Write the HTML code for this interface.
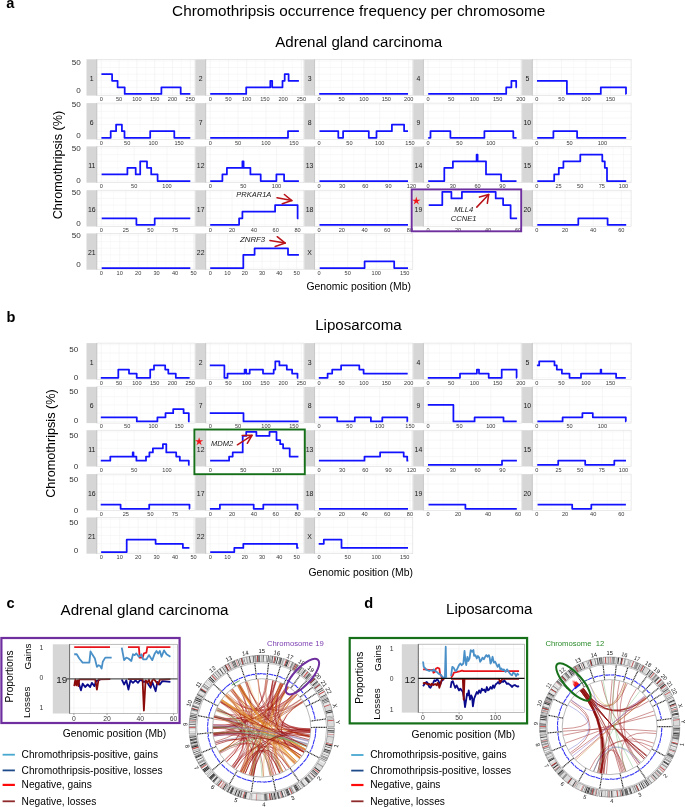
<!DOCTYPE html>
<html><head><meta charset="utf-8"><title>Chromothripsis figure</title>
<style>html,body{margin:0;padding:0;background:#fff;}svg{display:block;will-change:transform;}text{font-family:"Liberation Sans", sans-serif;}</style>
</head><body>
<svg width="685" height="807" viewBox="0 0 685 807" font-family='"Liberation Sans", sans-serif'>
<rect width="685" height="807" fill="#fff"/>
<text x="6.3" y="7.7" font-size="14.6" fill="#000" font-weight="bold">a</text>
<text x="358.7" y="16" font-size="15.3" fill="#000" text-anchor="middle">Chromothripsis occurrence frequency per chromosome</text>
<text x="358.7" y="46.8" font-size="15.1" fill="#000" text-anchor="middle">Adrenal gland carcinoma</text>
<rect x="97" y="59.3" width="98" height="36.3" fill="#fff"/>
<line x1="101.3" y1="59.3" x2="101.3" y2="95.6" stroke="#ececec" stroke-width="0.5"/>
<line x1="110.2" y1="59.3" x2="110.2" y2="95.6" stroke="#f5f5f5" stroke-width="0.4"/>
<line x1="119.09" y1="59.3" x2="119.09" y2="95.6" stroke="#ececec" stroke-width="0.5"/>
<line x1="127.99" y1="59.3" x2="127.99" y2="95.6" stroke="#f5f5f5" stroke-width="0.4"/>
<line x1="136.89" y1="59.3" x2="136.89" y2="95.6" stroke="#ececec" stroke-width="0.5"/>
<line x1="145.78" y1="59.3" x2="145.78" y2="95.6" stroke="#f5f5f5" stroke-width="0.4"/>
<line x1="154.68" y1="59.3" x2="154.68" y2="95.6" stroke="#ececec" stroke-width="0.5"/>
<line x1="163.58" y1="59.3" x2="163.58" y2="95.6" stroke="#f5f5f5" stroke-width="0.4"/>
<line x1="172.47" y1="59.3" x2="172.47" y2="95.6" stroke="#ececec" stroke-width="0.5"/>
<line x1="181.37" y1="59.3" x2="181.37" y2="95.6" stroke="#f5f5f5" stroke-width="0.4"/>
<line x1="190.27" y1="59.3" x2="190.27" y2="95.6" stroke="#ececec" stroke-width="0.5"/>
<line x1="97" y1="93.95" x2="195" y2="93.95" stroke="#efefef" stroke-width="0.45"/>
<line x1="97" y1="87.35" x2="195" y2="87.35" stroke="#efefef" stroke-width="0.45"/>
<line x1="97" y1="80.75" x2="195" y2="80.75" stroke="#efefef" stroke-width="0.45"/>
<line x1="97" y1="74.15" x2="195" y2="74.15" stroke="#efefef" stroke-width="0.45"/>
<line x1="97" y1="67.55" x2="195" y2="67.55" stroke="#efefef" stroke-width="0.45"/>
<line x1="97" y1="60.95" x2="195" y2="60.95" stroke="#efefef" stroke-width="0.45"/>
<rect x="97" y="59.3" width="98" height="36.3" fill="none" stroke="#dcdcdc" stroke-width="0.6"/>
<rect x="86.5" y="59.3" width="10.5" height="36.3" fill="#d6d6d6"/>
<line x1="96.7" y1="59.3" x2="96.7" y2="95.6" stroke="#bdbdbd" stroke-width="0.6"/>
<text x="91.75" y="80.7" font-size="6.9" fill="#1a1a1a" text-anchor="middle">1</text>
<text x="101.3" y="100.8" font-size="5.6" fill="#3a3a3a" text-anchor="middle">0</text>
<text x="119.09" y="100.8" font-size="5.6" fill="#3a3a3a" text-anchor="middle">50</text>
<text x="136.89" y="100.8" font-size="5.6" fill="#3a3a3a" text-anchor="middle">100</text>
<text x="154.68" y="100.8" font-size="5.6" fill="#3a3a3a" text-anchor="middle">150</text>
<text x="172.47" y="100.8" font-size="5.6" fill="#3a3a3a" text-anchor="middle">200</text>
<text x="190.27" y="100.8" font-size="5.6" fill="#3a3a3a" text-anchor="middle">250</text>
<path d="M101.4 74.15 L112.1 74.15 L112.1 80.75 L117.6 80.75 L117.6 87.35 L124.7 87.35 L124.7 93.95 L161.4 93.95 L161.4 87.35 L180.7 87.35 L180.7 93.95 L190.3 93.95" fill="none" stroke="#1212ff" stroke-width="1.75" stroke-linejoin="round"/>
<rect x="205.9" y="59.3" width="98" height="36.3" fill="#fff"/>
<line x1="210.2" y1="59.3" x2="210.2" y2="95.6" stroke="#ececec" stroke-width="0.5"/>
<line x1="219.32" y1="59.3" x2="219.32" y2="95.6" stroke="#f5f5f5" stroke-width="0.4"/>
<line x1="228.44" y1="59.3" x2="228.44" y2="95.6" stroke="#ececec" stroke-width="0.5"/>
<line x1="237.55" y1="59.3" x2="237.55" y2="95.6" stroke="#f5f5f5" stroke-width="0.4"/>
<line x1="246.67" y1="59.3" x2="246.67" y2="95.6" stroke="#ececec" stroke-width="0.5"/>
<line x1="255.79" y1="59.3" x2="255.79" y2="95.6" stroke="#f5f5f5" stroke-width="0.4"/>
<line x1="264.91" y1="59.3" x2="264.91" y2="95.6" stroke="#ececec" stroke-width="0.5"/>
<line x1="274.03" y1="59.3" x2="274.03" y2="95.6" stroke="#f5f5f5" stroke-width="0.4"/>
<line x1="283.14" y1="59.3" x2="283.14" y2="95.6" stroke="#ececec" stroke-width="0.5"/>
<line x1="292.26" y1="59.3" x2="292.26" y2="95.6" stroke="#f5f5f5" stroke-width="0.4"/>
<line x1="301.38" y1="59.3" x2="301.38" y2="95.6" stroke="#ececec" stroke-width="0.5"/>
<line x1="205.9" y1="93.95" x2="303.9" y2="93.95" stroke="#efefef" stroke-width="0.45"/>
<line x1="205.9" y1="87.35" x2="303.9" y2="87.35" stroke="#efefef" stroke-width="0.45"/>
<line x1="205.9" y1="80.75" x2="303.9" y2="80.75" stroke="#efefef" stroke-width="0.45"/>
<line x1="205.9" y1="74.15" x2="303.9" y2="74.15" stroke="#efefef" stroke-width="0.45"/>
<line x1="205.9" y1="67.55" x2="303.9" y2="67.55" stroke="#efefef" stroke-width="0.45"/>
<line x1="205.9" y1="60.95" x2="303.9" y2="60.95" stroke="#efefef" stroke-width="0.45"/>
<rect x="205.9" y="59.3" width="98" height="36.3" fill="none" stroke="#dcdcdc" stroke-width="0.6"/>
<rect x="195.4" y="59.3" width="10.5" height="36.3" fill="#d6d6d6"/>
<line x1="205.6" y1="59.3" x2="205.6" y2="95.6" stroke="#bdbdbd" stroke-width="0.6"/>
<text x="200.65" y="80.7" font-size="6.9" fill="#1a1a1a" text-anchor="middle">2</text>
<text x="210.2" y="100.8" font-size="5.6" fill="#3a3a3a" text-anchor="middle">0</text>
<text x="228.44" y="100.8" font-size="5.6" fill="#3a3a3a" text-anchor="middle">50</text>
<text x="246.67" y="100.8" font-size="5.6" fill="#3a3a3a" text-anchor="middle">100</text>
<text x="264.91" y="100.8" font-size="5.6" fill="#3a3a3a" text-anchor="middle">150</text>
<text x="283.14" y="100.8" font-size="5.6" fill="#3a3a3a" text-anchor="middle">200</text>
<text x="301.38" y="100.8" font-size="5.6" fill="#3a3a3a" text-anchor="middle">250</text>
<path d="M210.2 93.95 L246.2 93.95 L246.2 87.35 L270.3 87.35 L270.3 80.75 L272.2 80.75 L272.2 87.35 L282.5 87.35 L282.5 80.75 L284.7 80.75 L284.7 74.15 L288.6 74.15 L288.6 80.75 L298.9 80.75" fill="none" stroke="#1212ff" stroke-width="1.75" stroke-linejoin="round"/>
<rect x="314.8" y="59.3" width="98" height="36.3" fill="#fff"/>
<line x1="319.1" y1="59.3" x2="319.1" y2="95.6" stroke="#ececec" stroke-width="0.5"/>
<line x1="330.3" y1="59.3" x2="330.3" y2="95.6" stroke="#f5f5f5" stroke-width="0.4"/>
<line x1="341.5" y1="59.3" x2="341.5" y2="95.6" stroke="#ececec" stroke-width="0.5"/>
<line x1="352.7" y1="59.3" x2="352.7" y2="95.6" stroke="#f5f5f5" stroke-width="0.4"/>
<line x1="363.9" y1="59.3" x2="363.9" y2="95.6" stroke="#ececec" stroke-width="0.5"/>
<line x1="375.1" y1="59.3" x2="375.1" y2="95.6" stroke="#f5f5f5" stroke-width="0.4"/>
<line x1="386.3" y1="59.3" x2="386.3" y2="95.6" stroke="#ececec" stroke-width="0.5"/>
<line x1="397.5" y1="59.3" x2="397.5" y2="95.6" stroke="#f5f5f5" stroke-width="0.4"/>
<line x1="408.7" y1="59.3" x2="408.7" y2="95.6" stroke="#ececec" stroke-width="0.5"/>
<line x1="314.8" y1="93.95" x2="412.8" y2="93.95" stroke="#efefef" stroke-width="0.45"/>
<line x1="314.8" y1="87.35" x2="412.8" y2="87.35" stroke="#efefef" stroke-width="0.45"/>
<line x1="314.8" y1="80.75" x2="412.8" y2="80.75" stroke="#efefef" stroke-width="0.45"/>
<line x1="314.8" y1="74.15" x2="412.8" y2="74.15" stroke="#efefef" stroke-width="0.45"/>
<line x1="314.8" y1="67.55" x2="412.8" y2="67.55" stroke="#efefef" stroke-width="0.45"/>
<line x1="314.8" y1="60.95" x2="412.8" y2="60.95" stroke="#efefef" stroke-width="0.45"/>
<rect x="314.8" y="59.3" width="98" height="36.3" fill="none" stroke="#dcdcdc" stroke-width="0.6"/>
<rect x="304.3" y="59.3" width="10.5" height="36.3" fill="#d6d6d6"/>
<line x1="314.5" y1="59.3" x2="314.5" y2="95.6" stroke="#bdbdbd" stroke-width="0.6"/>
<text x="309.55" y="80.7" font-size="6.9" fill="#1a1a1a" text-anchor="middle">3</text>
<text x="319.1" y="100.8" font-size="5.6" fill="#3a3a3a" text-anchor="middle">0</text>
<text x="341.5" y="100.8" font-size="5.6" fill="#3a3a3a" text-anchor="middle">50</text>
<text x="363.9" y="100.8" font-size="5.6" fill="#3a3a3a" text-anchor="middle">100</text>
<text x="386.3" y="100.8" font-size="5.6" fill="#3a3a3a" text-anchor="middle">150</text>
<text x="408.7" y="100.8" font-size="5.6" fill="#3a3a3a" text-anchor="middle">200</text>
<path d="M319.2 93.95 L408 93.95" fill="none" stroke="#1212ff" stroke-width="1.75" stroke-linejoin="round"/>
<rect x="423.7" y="59.3" width="98" height="36.3" fill="#fff"/>
<line x1="428" y1="59.3" x2="428" y2="95.6" stroke="#ececec" stroke-width="0.5"/>
<line x1="439.6" y1="59.3" x2="439.6" y2="95.6" stroke="#f5f5f5" stroke-width="0.4"/>
<line x1="451.2" y1="59.3" x2="451.2" y2="95.6" stroke="#ececec" stroke-width="0.5"/>
<line x1="462.8" y1="59.3" x2="462.8" y2="95.6" stroke="#f5f5f5" stroke-width="0.4"/>
<line x1="474.4" y1="59.3" x2="474.4" y2="95.6" stroke="#ececec" stroke-width="0.5"/>
<line x1="486" y1="59.3" x2="486" y2="95.6" stroke="#f5f5f5" stroke-width="0.4"/>
<line x1="497.61" y1="59.3" x2="497.61" y2="95.6" stroke="#ececec" stroke-width="0.5"/>
<line x1="509.21" y1="59.3" x2="509.21" y2="95.6" stroke="#f5f5f5" stroke-width="0.4"/>
<line x1="520.81" y1="59.3" x2="520.81" y2="95.6" stroke="#ececec" stroke-width="0.5"/>
<line x1="423.7" y1="93.95" x2="521.7" y2="93.95" stroke="#efefef" stroke-width="0.45"/>
<line x1="423.7" y1="87.35" x2="521.7" y2="87.35" stroke="#efefef" stroke-width="0.45"/>
<line x1="423.7" y1="80.75" x2="521.7" y2="80.75" stroke="#efefef" stroke-width="0.45"/>
<line x1="423.7" y1="74.15" x2="521.7" y2="74.15" stroke="#efefef" stroke-width="0.45"/>
<line x1="423.7" y1="67.55" x2="521.7" y2="67.55" stroke="#efefef" stroke-width="0.45"/>
<line x1="423.7" y1="60.95" x2="521.7" y2="60.95" stroke="#efefef" stroke-width="0.45"/>
<rect x="423.7" y="59.3" width="98" height="36.3" fill="none" stroke="#dcdcdc" stroke-width="0.6"/>
<rect x="413.2" y="59.3" width="10.5" height="36.3" fill="#d6d6d6"/>
<line x1="423.4" y1="59.3" x2="423.4" y2="95.6" stroke="#bdbdbd" stroke-width="0.6"/>
<text x="418.45" y="80.7" font-size="6.9" fill="#1a1a1a" text-anchor="middle">4</text>
<text x="428" y="100.8" font-size="5.6" fill="#3a3a3a" text-anchor="middle">0</text>
<text x="451.2" y="100.8" font-size="5.6" fill="#3a3a3a" text-anchor="middle">50</text>
<text x="474.4" y="100.8" font-size="5.6" fill="#3a3a3a" text-anchor="middle">100</text>
<text x="497.61" y="100.8" font-size="5.6" fill="#3a3a3a" text-anchor="middle">150</text>
<text x="520.81" y="100.8" font-size="5.6" fill="#3a3a3a" text-anchor="middle">200</text>
<path d="M428.2 93.95 L506.2 93.95 L506.2 87.35 L511.4 87.35 L511.4 80.75 L516.2 80.75 L516.2 87.35 L516.8 87.35" fill="none" stroke="#1212ff" stroke-width="1.75" stroke-linejoin="round"/>
<rect x="532.6" y="59.3" width="98.5" height="36.3" fill="#fff"/>
<line x1="536.9" y1="59.3" x2="536.9" y2="95.6" stroke="#ececec" stroke-width="0.5"/>
<line x1="549.16" y1="59.3" x2="549.16" y2="95.6" stroke="#f5f5f5" stroke-width="0.4"/>
<line x1="561.42" y1="59.3" x2="561.42" y2="95.6" stroke="#ececec" stroke-width="0.5"/>
<line x1="573.67" y1="59.3" x2="573.67" y2="95.6" stroke="#f5f5f5" stroke-width="0.4"/>
<line x1="585.93" y1="59.3" x2="585.93" y2="95.6" stroke="#ececec" stroke-width="0.5"/>
<line x1="598.19" y1="59.3" x2="598.19" y2="95.6" stroke="#f5f5f5" stroke-width="0.4"/>
<line x1="610.45" y1="59.3" x2="610.45" y2="95.6" stroke="#ececec" stroke-width="0.5"/>
<line x1="532.6" y1="93.95" x2="631.1" y2="93.95" stroke="#efefef" stroke-width="0.45"/>
<line x1="532.6" y1="87.35" x2="631.1" y2="87.35" stroke="#efefef" stroke-width="0.45"/>
<line x1="532.6" y1="80.75" x2="631.1" y2="80.75" stroke="#efefef" stroke-width="0.45"/>
<line x1="532.6" y1="74.15" x2="631.1" y2="74.15" stroke="#efefef" stroke-width="0.45"/>
<line x1="532.6" y1="67.55" x2="631.1" y2="67.55" stroke="#efefef" stroke-width="0.45"/>
<line x1="532.6" y1="60.95" x2="631.1" y2="60.95" stroke="#efefef" stroke-width="0.45"/>
<rect x="532.6" y="59.3" width="98.5" height="36.3" fill="none" stroke="#dcdcdc" stroke-width="0.6"/>
<rect x="522.1" y="59.3" width="10.5" height="36.3" fill="#d6d6d6"/>
<line x1="532.3" y1="59.3" x2="532.3" y2="95.6" stroke="#bdbdbd" stroke-width="0.6"/>
<text x="527.35" y="80.7" font-size="6.9" fill="#1a1a1a" text-anchor="middle">5</text>
<text x="536.9" y="100.8" font-size="5.6" fill="#3a3a3a" text-anchor="middle">0</text>
<text x="561.42" y="100.8" font-size="5.6" fill="#3a3a3a" text-anchor="middle">50</text>
<text x="585.93" y="100.8" font-size="5.6" fill="#3a3a3a" text-anchor="middle">100</text>
<text x="610.45" y="100.8" font-size="5.6" fill="#3a3a3a" text-anchor="middle">150</text>
<path d="M537 80.75 L566.9 80.75 L566.9 93.95 L600.8 93.95 L600.8 87.35 L626 87.35 L626 93.95 L626.3 93.95" fill="none" stroke="#1212ff" stroke-width="1.75" stroke-linejoin="round"/>
<rect x="97" y="103.1" width="98" height="36.3" fill="#fff"/>
<line x1="101.3" y1="103.1" x2="101.3" y2="139.4" stroke="#ececec" stroke-width="0.5"/>
<line x1="114.26" y1="103.1" x2="114.26" y2="139.4" stroke="#f5f5f5" stroke-width="0.4"/>
<line x1="127.22" y1="103.1" x2="127.22" y2="139.4" stroke="#ececec" stroke-width="0.5"/>
<line x1="140.18" y1="103.1" x2="140.18" y2="139.4" stroke="#f5f5f5" stroke-width="0.4"/>
<line x1="153.14" y1="103.1" x2="153.14" y2="139.4" stroke="#ececec" stroke-width="0.5"/>
<line x1="166.1" y1="103.1" x2="166.1" y2="139.4" stroke="#f5f5f5" stroke-width="0.4"/>
<line x1="179.06" y1="103.1" x2="179.06" y2="139.4" stroke="#ececec" stroke-width="0.5"/>
<line x1="97" y1="137.75" x2="195" y2="137.75" stroke="#efefef" stroke-width="0.45"/>
<line x1="97" y1="131.15" x2="195" y2="131.15" stroke="#efefef" stroke-width="0.45"/>
<line x1="97" y1="124.55" x2="195" y2="124.55" stroke="#efefef" stroke-width="0.45"/>
<line x1="97" y1="117.95" x2="195" y2="117.95" stroke="#efefef" stroke-width="0.45"/>
<line x1="97" y1="111.35" x2="195" y2="111.35" stroke="#efefef" stroke-width="0.45"/>
<line x1="97" y1="104.75" x2="195" y2="104.75" stroke="#efefef" stroke-width="0.45"/>
<rect x="97" y="103.1" width="98" height="36.3" fill="none" stroke="#dcdcdc" stroke-width="0.6"/>
<rect x="86.5" y="103.1" width="10.5" height="36.3" fill="#d6d6d6"/>
<line x1="96.7" y1="103.1" x2="96.7" y2="139.4" stroke="#bdbdbd" stroke-width="0.6"/>
<text x="91.75" y="124.5" font-size="6.9" fill="#1a1a1a" text-anchor="middle">6</text>
<text x="101.3" y="144.6" font-size="5.6" fill="#3a3a3a" text-anchor="middle">0</text>
<text x="127.22" y="144.6" font-size="5.6" fill="#3a3a3a" text-anchor="middle">50</text>
<text x="153.14" y="144.6" font-size="5.6" fill="#3a3a3a" text-anchor="middle">100</text>
<text x="179.06" y="144.6" font-size="5.6" fill="#3a3a3a" text-anchor="middle">150</text>
<path d="M101.4 137.75 L110.7 137.75 L110.7 131.15 L116.1 131.15 L116.1 124.55 L121.9 124.55 L121.9 131.15 L124.5 131.15 L124.5 137.75 L150.2 137.75 L150.2 131.15 L174.3 131.15 L174.3 137.75 L190.3 137.75" fill="none" stroke="#1212ff" stroke-width="1.75" stroke-linejoin="round"/>
<rect x="205.9" y="103.1" width="98" height="36.3" fill="#fff"/>
<line x1="210.2" y1="103.1" x2="210.2" y2="139.4" stroke="#ececec" stroke-width="0.5"/>
<line x1="224.14" y1="103.1" x2="224.14" y2="139.4" stroke="#f5f5f5" stroke-width="0.4"/>
<line x1="238.08" y1="103.1" x2="238.08" y2="139.4" stroke="#ececec" stroke-width="0.5"/>
<line x1="252.01" y1="103.1" x2="252.01" y2="139.4" stroke="#f5f5f5" stroke-width="0.4"/>
<line x1="265.95" y1="103.1" x2="265.95" y2="139.4" stroke="#ececec" stroke-width="0.5"/>
<line x1="279.89" y1="103.1" x2="279.89" y2="139.4" stroke="#f5f5f5" stroke-width="0.4"/>
<line x1="293.83" y1="103.1" x2="293.83" y2="139.4" stroke="#ececec" stroke-width="0.5"/>
<line x1="205.9" y1="137.75" x2="303.9" y2="137.75" stroke="#efefef" stroke-width="0.45"/>
<line x1="205.9" y1="131.15" x2="303.9" y2="131.15" stroke="#efefef" stroke-width="0.45"/>
<line x1="205.9" y1="124.55" x2="303.9" y2="124.55" stroke="#efefef" stroke-width="0.45"/>
<line x1="205.9" y1="117.95" x2="303.9" y2="117.95" stroke="#efefef" stroke-width="0.45"/>
<line x1="205.9" y1="111.35" x2="303.9" y2="111.35" stroke="#efefef" stroke-width="0.45"/>
<line x1="205.9" y1="104.75" x2="303.9" y2="104.75" stroke="#efefef" stroke-width="0.45"/>
<rect x="205.9" y="103.1" width="98" height="36.3" fill="none" stroke="#dcdcdc" stroke-width="0.6"/>
<rect x="195.4" y="103.1" width="10.5" height="36.3" fill="#d6d6d6"/>
<line x1="205.6" y1="103.1" x2="205.6" y2="139.4" stroke="#bdbdbd" stroke-width="0.6"/>
<text x="200.65" y="124.5" font-size="6.9" fill="#1a1a1a" text-anchor="middle">7</text>
<text x="210.2" y="144.6" font-size="5.6" fill="#3a3a3a" text-anchor="middle">0</text>
<text x="238.08" y="144.6" font-size="5.6" fill="#3a3a3a" text-anchor="middle">50</text>
<text x="265.95" y="144.6" font-size="5.6" fill="#3a3a3a" text-anchor="middle">100</text>
<text x="293.83" y="144.6" font-size="5.6" fill="#3a3a3a" text-anchor="middle">150</text>
<path d="M210.2 137.75 L288 137.75 L288 131.15 L298.9 131.15" fill="none" stroke="#1212ff" stroke-width="1.75" stroke-linejoin="round"/>
<rect x="314.8" y="103.1" width="98" height="36.3" fill="#fff"/>
<line x1="319.1" y1="103.1" x2="319.1" y2="139.4" stroke="#ececec" stroke-width="0.5"/>
<line x1="334.25" y1="103.1" x2="334.25" y2="139.4" stroke="#f5f5f5" stroke-width="0.4"/>
<line x1="349.39" y1="103.1" x2="349.39" y2="139.4" stroke="#ececec" stroke-width="0.5"/>
<line x1="364.54" y1="103.1" x2="364.54" y2="139.4" stroke="#f5f5f5" stroke-width="0.4"/>
<line x1="379.69" y1="103.1" x2="379.69" y2="139.4" stroke="#ececec" stroke-width="0.5"/>
<line x1="394.83" y1="103.1" x2="394.83" y2="139.4" stroke="#f5f5f5" stroke-width="0.4"/>
<line x1="409.98" y1="103.1" x2="409.98" y2="139.4" stroke="#ececec" stroke-width="0.5"/>
<line x1="314.8" y1="137.75" x2="412.8" y2="137.75" stroke="#efefef" stroke-width="0.45"/>
<line x1="314.8" y1="131.15" x2="412.8" y2="131.15" stroke="#efefef" stroke-width="0.45"/>
<line x1="314.8" y1="124.55" x2="412.8" y2="124.55" stroke="#efefef" stroke-width="0.45"/>
<line x1="314.8" y1="117.95" x2="412.8" y2="117.95" stroke="#efefef" stroke-width="0.45"/>
<line x1="314.8" y1="111.35" x2="412.8" y2="111.35" stroke="#efefef" stroke-width="0.45"/>
<line x1="314.8" y1="104.75" x2="412.8" y2="104.75" stroke="#efefef" stroke-width="0.45"/>
<rect x="314.8" y="103.1" width="98" height="36.3" fill="none" stroke="#dcdcdc" stroke-width="0.6"/>
<rect x="304.3" y="103.1" width="10.5" height="36.3" fill="#d6d6d6"/>
<line x1="314.5" y1="103.1" x2="314.5" y2="139.4" stroke="#bdbdbd" stroke-width="0.6"/>
<text x="309.55" y="124.5" font-size="6.9" fill="#1a1a1a" text-anchor="middle">8</text>
<text x="319.1" y="144.6" font-size="5.6" fill="#3a3a3a" text-anchor="middle">0</text>
<text x="349.39" y="144.6" font-size="5.6" fill="#3a3a3a" text-anchor="middle">50</text>
<text x="379.69" y="144.6" font-size="5.6" fill="#3a3a3a" text-anchor="middle">100</text>
<text x="409.98" y="144.6" font-size="5.6" fill="#3a3a3a" text-anchor="middle">150</text>
<path d="M319.5 131.15 L338.3 131.15 L338.3 137.75 L343.1 137.75 L343.1 131.15 L368.8 131.15 L368.8 137.75 L376.5 137.75 L376.5 131.15 L391.9 131.15 L391.9 124.55 L404.1 124.55 L404.1 131.15 L408 131.15" fill="none" stroke="#1212ff" stroke-width="1.75" stroke-linejoin="round"/>
<rect x="423.7" y="103.1" width="98" height="36.3" fill="#fff"/>
<line x1="428" y1="103.1" x2="428" y2="139.4" stroke="#ececec" stroke-width="0.5"/>
<line x1="443.7" y1="103.1" x2="443.7" y2="139.4" stroke="#f5f5f5" stroke-width="0.4"/>
<line x1="459.41" y1="103.1" x2="459.41" y2="139.4" stroke="#ececec" stroke-width="0.5"/>
<line x1="475.11" y1="103.1" x2="475.11" y2="139.4" stroke="#f5f5f5" stroke-width="0.4"/>
<line x1="490.82" y1="103.1" x2="490.82" y2="139.4" stroke="#ececec" stroke-width="0.5"/>
<line x1="423.7" y1="137.75" x2="521.7" y2="137.75" stroke="#efefef" stroke-width="0.45"/>
<line x1="423.7" y1="131.15" x2="521.7" y2="131.15" stroke="#efefef" stroke-width="0.45"/>
<line x1="423.7" y1="124.55" x2="521.7" y2="124.55" stroke="#efefef" stroke-width="0.45"/>
<line x1="423.7" y1="117.95" x2="521.7" y2="117.95" stroke="#efefef" stroke-width="0.45"/>
<line x1="423.7" y1="111.35" x2="521.7" y2="111.35" stroke="#efefef" stroke-width="0.45"/>
<line x1="423.7" y1="104.75" x2="521.7" y2="104.75" stroke="#efefef" stroke-width="0.45"/>
<rect x="423.7" y="103.1" width="98" height="36.3" fill="none" stroke="#dcdcdc" stroke-width="0.6"/>
<rect x="413.2" y="103.1" width="10.5" height="36.3" fill="#d6d6d6"/>
<line x1="423.4" y1="103.1" x2="423.4" y2="139.4" stroke="#bdbdbd" stroke-width="0.6"/>
<text x="418.45" y="124.5" font-size="6.9" fill="#1a1a1a" text-anchor="middle">9</text>
<text x="428" y="144.6" font-size="5.6" fill="#3a3a3a" text-anchor="middle">0</text>
<text x="459.41" y="144.6" font-size="5.6" fill="#3a3a3a" text-anchor="middle">50</text>
<text x="490.82" y="144.6" font-size="5.6" fill="#3a3a3a" text-anchor="middle">100</text>
<path d="M428.2 137.75 L430.5 137.75 L430.5 131.15 L450.4 131.15 L450.4 137.75 L484.4 137.75 L484.4 131.15 L513.3 131.15 L513.3 137.75 L516.6 137.75" fill="none" stroke="#1212ff" stroke-width="1.75" stroke-linejoin="round"/>
<rect x="532.6" y="103.1" width="98.5" height="36.3" fill="#fff"/>
<line x1="536.9" y1="103.1" x2="536.9" y2="139.4" stroke="#ececec" stroke-width="0.5"/>
<line x1="553.27" y1="103.1" x2="553.27" y2="139.4" stroke="#f5f5f5" stroke-width="0.4"/>
<line x1="569.63" y1="103.1" x2="569.63" y2="139.4" stroke="#ececec" stroke-width="0.5"/>
<line x1="586" y1="103.1" x2="586" y2="139.4" stroke="#f5f5f5" stroke-width="0.4"/>
<line x1="602.36" y1="103.1" x2="602.36" y2="139.4" stroke="#ececec" stroke-width="0.5"/>
<line x1="532.6" y1="137.75" x2="631.1" y2="137.75" stroke="#efefef" stroke-width="0.45"/>
<line x1="532.6" y1="131.15" x2="631.1" y2="131.15" stroke="#efefef" stroke-width="0.45"/>
<line x1="532.6" y1="124.55" x2="631.1" y2="124.55" stroke="#efefef" stroke-width="0.45"/>
<line x1="532.6" y1="117.95" x2="631.1" y2="117.95" stroke="#efefef" stroke-width="0.45"/>
<line x1="532.6" y1="111.35" x2="631.1" y2="111.35" stroke="#efefef" stroke-width="0.45"/>
<line x1="532.6" y1="104.75" x2="631.1" y2="104.75" stroke="#efefef" stroke-width="0.45"/>
<rect x="532.6" y="103.1" width="98.5" height="36.3" fill="none" stroke="#dcdcdc" stroke-width="0.6"/>
<rect x="522.1" y="103.1" width="10.5" height="36.3" fill="#d6d6d6"/>
<line x1="532.3" y1="103.1" x2="532.3" y2="139.4" stroke="#bdbdbd" stroke-width="0.6"/>
<text x="527.35" y="124.5" font-size="6.9" fill="#1a1a1a" text-anchor="middle">10</text>
<text x="536.9" y="144.6" font-size="5.6" fill="#3a3a3a" text-anchor="middle">0</text>
<text x="569.63" y="144.6" font-size="5.6" fill="#3a3a3a" text-anchor="middle">50</text>
<text x="602.36" y="144.6" font-size="5.6" fill="#3a3a3a" text-anchor="middle">100</text>
<path d="M537.2 137.75 L553.4 137.75 L553.4 131.15 L577.1 131.15 L577.1 137.75 L626.2 137.75" fill="none" stroke="#1212ff" stroke-width="1.75" stroke-linejoin="round"/>
<rect x="97" y="146.4" width="98" height="36.3" fill="#fff"/>
<line x1="101.3" y1="146.4" x2="101.3" y2="182.7" stroke="#ececec" stroke-width="0.5"/>
<line x1="117.73" y1="146.4" x2="117.73" y2="182.7" stroke="#f5f5f5" stroke-width="0.4"/>
<line x1="134.15" y1="146.4" x2="134.15" y2="182.7" stroke="#ececec" stroke-width="0.5"/>
<line x1="150.58" y1="146.4" x2="150.58" y2="182.7" stroke="#f5f5f5" stroke-width="0.4"/>
<line x1="167" y1="146.4" x2="167" y2="182.7" stroke="#ececec" stroke-width="0.5"/>
<line x1="97" y1="181.05" x2="195" y2="181.05" stroke="#efefef" stroke-width="0.45"/>
<line x1="97" y1="174.45" x2="195" y2="174.45" stroke="#efefef" stroke-width="0.45"/>
<line x1="97" y1="167.85" x2="195" y2="167.85" stroke="#efefef" stroke-width="0.45"/>
<line x1="97" y1="161.25" x2="195" y2="161.25" stroke="#efefef" stroke-width="0.45"/>
<line x1="97" y1="154.65" x2="195" y2="154.65" stroke="#efefef" stroke-width="0.45"/>
<line x1="97" y1="148.05" x2="195" y2="148.05" stroke="#efefef" stroke-width="0.45"/>
<rect x="97" y="146.4" width="98" height="36.3" fill="none" stroke="#dcdcdc" stroke-width="0.6"/>
<rect x="86.5" y="146.4" width="10.5" height="36.3" fill="#d6d6d6"/>
<line x1="96.7" y1="146.4" x2="96.7" y2="182.7" stroke="#bdbdbd" stroke-width="0.6"/>
<text x="91.75" y="167.8" font-size="6.9" fill="#1a1a1a" text-anchor="middle">11</text>
<text x="101.3" y="187.9" font-size="5.6" fill="#3a3a3a" text-anchor="middle">0</text>
<text x="134.15" y="187.9" font-size="5.6" fill="#3a3a3a" text-anchor="middle">50</text>
<text x="167" y="187.9" font-size="5.6" fill="#3a3a3a" text-anchor="middle">100</text>
<path d="M101.6 174.45 L127.4 174.45 L127.4 167.85 L135.7 167.85 L135.7 174.45 L140.2 174.45 L140.2 161.25 L147 161.25 L147 167.85 L151.2 167.85 L151.2 174.45 L157.6 174.45 L157.6 181.05 L190.3 181.05" fill="none" stroke="#1212ff" stroke-width="1.75" stroke-linejoin="round"/>
<rect x="205.9" y="146.4" width="98" height="36.3" fill="#fff"/>
<line x1="210.2" y1="146.4" x2="210.2" y2="182.7" stroke="#ececec" stroke-width="0.5"/>
<line x1="226.77" y1="146.4" x2="226.77" y2="182.7" stroke="#f5f5f5" stroke-width="0.4"/>
<line x1="243.33" y1="146.4" x2="243.33" y2="182.7" stroke="#ececec" stroke-width="0.5"/>
<line x1="259.9" y1="146.4" x2="259.9" y2="182.7" stroke="#f5f5f5" stroke-width="0.4"/>
<line x1="276.47" y1="146.4" x2="276.47" y2="182.7" stroke="#ececec" stroke-width="0.5"/>
<line x1="205.9" y1="181.05" x2="303.9" y2="181.05" stroke="#efefef" stroke-width="0.45"/>
<line x1="205.9" y1="174.45" x2="303.9" y2="174.45" stroke="#efefef" stroke-width="0.45"/>
<line x1="205.9" y1="167.85" x2="303.9" y2="167.85" stroke="#efefef" stroke-width="0.45"/>
<line x1="205.9" y1="161.25" x2="303.9" y2="161.25" stroke="#efefef" stroke-width="0.45"/>
<line x1="205.9" y1="154.65" x2="303.9" y2="154.65" stroke="#efefef" stroke-width="0.45"/>
<line x1="205.9" y1="148.05" x2="303.9" y2="148.05" stroke="#efefef" stroke-width="0.45"/>
<rect x="205.9" y="146.4" width="98" height="36.3" fill="none" stroke="#dcdcdc" stroke-width="0.6"/>
<rect x="195.4" y="146.4" width="10.5" height="36.3" fill="#d6d6d6"/>
<line x1="205.6" y1="146.4" x2="205.6" y2="182.7" stroke="#bdbdbd" stroke-width="0.6"/>
<text x="200.65" y="167.8" font-size="6.9" fill="#1a1a1a" text-anchor="middle">12</text>
<text x="210.2" y="187.9" font-size="5.6" fill="#3a3a3a" text-anchor="middle">0</text>
<text x="243.33" y="187.9" font-size="5.6" fill="#3a3a3a" text-anchor="middle">50</text>
<text x="276.47" y="187.9" font-size="5.6" fill="#3a3a3a" text-anchor="middle">100</text>
<path d="M210.2 181.05 L222.4 181.05 L222.4 174.45 L226.9 174.45 L226.9 167.85 L242.4 167.85 L242.4 161.25 L243.6 161.25 L243.6 167.85 L250.4 167.85 L250.4 174.45 L260.7 174.45 L260.7 181.05 L276.4 181.05 L276.4 174.45 L284.1 174.45 L284.1 181.05 L298.9 181.05" fill="none" stroke="#1212ff" stroke-width="1.75" stroke-linejoin="round"/>
<rect x="314.8" y="146.4" width="98" height="36.3" fill="#fff"/>
<line x1="319.1" y1="146.4" x2="319.1" y2="182.7" stroke="#ececec" stroke-width="0.5"/>
<line x1="330.65" y1="146.4" x2="330.65" y2="182.7" stroke="#f5f5f5" stroke-width="0.4"/>
<line x1="342.2" y1="146.4" x2="342.2" y2="182.7" stroke="#ececec" stroke-width="0.5"/>
<line x1="353.75" y1="146.4" x2="353.75" y2="182.7" stroke="#f5f5f5" stroke-width="0.4"/>
<line x1="365.3" y1="146.4" x2="365.3" y2="182.7" stroke="#ececec" stroke-width="0.5"/>
<line x1="376.85" y1="146.4" x2="376.85" y2="182.7" stroke="#f5f5f5" stroke-width="0.4"/>
<line x1="388.4" y1="146.4" x2="388.4" y2="182.7" stroke="#ececec" stroke-width="0.5"/>
<line x1="399.95" y1="146.4" x2="399.95" y2="182.7" stroke="#f5f5f5" stroke-width="0.4"/>
<line x1="411.5" y1="146.4" x2="411.5" y2="182.7" stroke="#ececec" stroke-width="0.5"/>
<line x1="314.8" y1="181.05" x2="412.8" y2="181.05" stroke="#efefef" stroke-width="0.45"/>
<line x1="314.8" y1="174.45" x2="412.8" y2="174.45" stroke="#efefef" stroke-width="0.45"/>
<line x1="314.8" y1="167.85" x2="412.8" y2="167.85" stroke="#efefef" stroke-width="0.45"/>
<line x1="314.8" y1="161.25" x2="412.8" y2="161.25" stroke="#efefef" stroke-width="0.45"/>
<line x1="314.8" y1="154.65" x2="412.8" y2="154.65" stroke="#efefef" stroke-width="0.45"/>
<line x1="314.8" y1="148.05" x2="412.8" y2="148.05" stroke="#efefef" stroke-width="0.45"/>
<rect x="314.8" y="146.4" width="98" height="36.3" fill="none" stroke="#dcdcdc" stroke-width="0.6"/>
<rect x="304.3" y="146.4" width="10.5" height="36.3" fill="#d6d6d6"/>
<line x1="314.5" y1="146.4" x2="314.5" y2="182.7" stroke="#bdbdbd" stroke-width="0.6"/>
<text x="309.55" y="167.8" font-size="6.9" fill="#1a1a1a" text-anchor="middle">13</text>
<text x="319.1" y="187.9" font-size="5.6" fill="#3a3a3a" text-anchor="middle">0</text>
<text x="342.2" y="187.9" font-size="5.6" fill="#3a3a3a" text-anchor="middle">30</text>
<text x="365.3" y="187.9" font-size="5.6" fill="#3a3a3a" text-anchor="middle">60</text>
<text x="388.4" y="187.9" font-size="5.6" fill="#3a3a3a" text-anchor="middle">90</text>
<text x="411.5" y="187.9" font-size="5.6" fill="#3a3a3a" text-anchor="middle">120</text>
<path d="M319.5 181.05 L408 181.05" fill="none" stroke="#1212ff" stroke-width="1.75" stroke-linejoin="round"/>
<rect x="423.7" y="146.4" width="98" height="36.3" fill="#fff"/>
<line x1="428" y1="146.4" x2="428" y2="182.7" stroke="#ececec" stroke-width="0.5"/>
<line x1="440.4" y1="146.4" x2="440.4" y2="182.7" stroke="#f5f5f5" stroke-width="0.4"/>
<line x1="452.8" y1="146.4" x2="452.8" y2="182.7" stroke="#ececec" stroke-width="0.5"/>
<line x1="465.2" y1="146.4" x2="465.2" y2="182.7" stroke="#f5f5f5" stroke-width="0.4"/>
<line x1="477.6" y1="146.4" x2="477.6" y2="182.7" stroke="#ececec" stroke-width="0.5"/>
<line x1="490" y1="146.4" x2="490" y2="182.7" stroke="#f5f5f5" stroke-width="0.4"/>
<line x1="502.4" y1="146.4" x2="502.4" y2="182.7" stroke="#ececec" stroke-width="0.5"/>
<line x1="423.7" y1="181.05" x2="521.7" y2="181.05" stroke="#efefef" stroke-width="0.45"/>
<line x1="423.7" y1="174.45" x2="521.7" y2="174.45" stroke="#efefef" stroke-width="0.45"/>
<line x1="423.7" y1="167.85" x2="521.7" y2="167.85" stroke="#efefef" stroke-width="0.45"/>
<line x1="423.7" y1="161.25" x2="521.7" y2="161.25" stroke="#efefef" stroke-width="0.45"/>
<line x1="423.7" y1="154.65" x2="521.7" y2="154.65" stroke="#efefef" stroke-width="0.45"/>
<line x1="423.7" y1="148.05" x2="521.7" y2="148.05" stroke="#efefef" stroke-width="0.45"/>
<rect x="423.7" y="146.4" width="98" height="36.3" fill="none" stroke="#dcdcdc" stroke-width="0.6"/>
<rect x="413.2" y="146.4" width="10.5" height="36.3" fill="#d6d6d6"/>
<line x1="423.4" y1="146.4" x2="423.4" y2="182.7" stroke="#bdbdbd" stroke-width="0.6"/>
<text x="418.45" y="167.8" font-size="6.9" fill="#1a1a1a" text-anchor="middle">14</text>
<text x="428" y="187.9" font-size="5.6" fill="#3a3a3a" text-anchor="middle">0</text>
<text x="452.8" y="187.9" font-size="5.6" fill="#3a3a3a" text-anchor="middle">30</text>
<text x="477.6" y="187.9" font-size="5.6" fill="#3a3a3a" text-anchor="middle">60</text>
<text x="502.4" y="187.9" font-size="5.6" fill="#3a3a3a" text-anchor="middle">90</text>
<path d="M428.2 181.05 L444.3 181.05 L444.3 167.85 L452.9 167.85 L452.9 161.25 L476.6 161.25 L476.6 154.65 L477.6 154.65 L477.6 161.25 L486 161.25 L486 174.45 L501.1 174.45 L501.1 181.05 L516.5 181.05" fill="none" stroke="#1212ff" stroke-width="1.75" stroke-linejoin="round"/>
<rect x="532.6" y="146.4" width="98.5" height="36.3" fill="#fff"/>
<line x1="536.9" y1="146.4" x2="536.9" y2="182.7" stroke="#ececec" stroke-width="0.5"/>
<line x1="547.72" y1="146.4" x2="547.72" y2="182.7" stroke="#f5f5f5" stroke-width="0.4"/>
<line x1="558.53" y1="146.4" x2="558.53" y2="182.7" stroke="#ececec" stroke-width="0.5"/>
<line x1="569.35" y1="146.4" x2="569.35" y2="182.7" stroke="#f5f5f5" stroke-width="0.4"/>
<line x1="580.17" y1="146.4" x2="580.17" y2="182.7" stroke="#ececec" stroke-width="0.5"/>
<line x1="590.99" y1="146.4" x2="590.99" y2="182.7" stroke="#f5f5f5" stroke-width="0.4"/>
<line x1="601.8" y1="146.4" x2="601.8" y2="182.7" stroke="#ececec" stroke-width="0.5"/>
<line x1="612.62" y1="146.4" x2="612.62" y2="182.7" stroke="#f5f5f5" stroke-width="0.4"/>
<line x1="623.44" y1="146.4" x2="623.44" y2="182.7" stroke="#ececec" stroke-width="0.5"/>
<line x1="532.6" y1="181.05" x2="631.1" y2="181.05" stroke="#efefef" stroke-width="0.45"/>
<line x1="532.6" y1="174.45" x2="631.1" y2="174.45" stroke="#efefef" stroke-width="0.45"/>
<line x1="532.6" y1="167.85" x2="631.1" y2="167.85" stroke="#efefef" stroke-width="0.45"/>
<line x1="532.6" y1="161.25" x2="631.1" y2="161.25" stroke="#efefef" stroke-width="0.45"/>
<line x1="532.6" y1="154.65" x2="631.1" y2="154.65" stroke="#efefef" stroke-width="0.45"/>
<line x1="532.6" y1="148.05" x2="631.1" y2="148.05" stroke="#efefef" stroke-width="0.45"/>
<rect x="532.6" y="146.4" width="98.5" height="36.3" fill="none" stroke="#dcdcdc" stroke-width="0.6"/>
<rect x="522.1" y="146.4" width="10.5" height="36.3" fill="#d6d6d6"/>
<line x1="532.3" y1="146.4" x2="532.3" y2="182.7" stroke="#bdbdbd" stroke-width="0.6"/>
<text x="527.35" y="167.8" font-size="6.9" fill="#1a1a1a" text-anchor="middle">15</text>
<text x="536.9" y="187.9" font-size="5.6" fill="#3a3a3a" text-anchor="middle">0</text>
<text x="558.53" y="187.9" font-size="5.6" fill="#3a3a3a" text-anchor="middle">25</text>
<text x="580.17" y="187.9" font-size="5.6" fill="#3a3a3a" text-anchor="middle">50</text>
<text x="601.8" y="187.9" font-size="5.6" fill="#3a3a3a" text-anchor="middle">75</text>
<text x="623.44" y="187.9" font-size="5.6" fill="#3a3a3a" text-anchor="middle">100</text>
<path d="M537.3 181.05 L554.2 181.05 L554.2 174.45 L558.8 174.45 L558.8 167.85 L563.4 167.85 L563.4 161.25 L580.3 161.25 L580.3 154.65 L602.3 154.65 L602.3 161.25 L604.8 161.25 L604.8 167.85 L607 167.85 L607 181.05 L626.2 181.05" fill="none" stroke="#1212ff" stroke-width="1.75" stroke-linejoin="round"/>
<rect x="97" y="190.2" width="98" height="36.3" fill="#fff"/>
<line x1="101.3" y1="190.2" x2="101.3" y2="226.5" stroke="#ececec" stroke-width="0.5"/>
<line x1="113.57" y1="190.2" x2="113.57" y2="226.5" stroke="#f5f5f5" stroke-width="0.4"/>
<line x1="125.84" y1="190.2" x2="125.84" y2="226.5" stroke="#ececec" stroke-width="0.5"/>
<line x1="138.12" y1="190.2" x2="138.12" y2="226.5" stroke="#f5f5f5" stroke-width="0.4"/>
<line x1="150.39" y1="190.2" x2="150.39" y2="226.5" stroke="#ececec" stroke-width="0.5"/>
<line x1="162.66" y1="190.2" x2="162.66" y2="226.5" stroke="#f5f5f5" stroke-width="0.4"/>
<line x1="174.93" y1="190.2" x2="174.93" y2="226.5" stroke="#ececec" stroke-width="0.5"/>
<line x1="97" y1="224.85" x2="195" y2="224.85" stroke="#efefef" stroke-width="0.45"/>
<line x1="97" y1="218.25" x2="195" y2="218.25" stroke="#efefef" stroke-width="0.45"/>
<line x1="97" y1="211.65" x2="195" y2="211.65" stroke="#efefef" stroke-width="0.45"/>
<line x1="97" y1="205.05" x2="195" y2="205.05" stroke="#efefef" stroke-width="0.45"/>
<line x1="97" y1="198.45" x2="195" y2="198.45" stroke="#efefef" stroke-width="0.45"/>
<line x1="97" y1="191.85" x2="195" y2="191.85" stroke="#efefef" stroke-width="0.45"/>
<rect x="97" y="190.2" width="98" height="36.3" fill="none" stroke="#dcdcdc" stroke-width="0.6"/>
<rect x="86.5" y="190.2" width="10.5" height="36.3" fill="#d6d6d6"/>
<line x1="96.7" y1="190.2" x2="96.7" y2="226.5" stroke="#bdbdbd" stroke-width="0.6"/>
<text x="91.75" y="211.6" font-size="6.9" fill="#1a1a1a" text-anchor="middle">16</text>
<text x="101.3" y="231.7" font-size="5.6" fill="#3a3a3a" text-anchor="middle">0</text>
<text x="125.84" y="231.7" font-size="5.6" fill="#3a3a3a" text-anchor="middle">25</text>
<text x="150.39" y="231.7" font-size="5.6" fill="#3a3a3a" text-anchor="middle">50</text>
<text x="174.93" y="231.7" font-size="5.6" fill="#3a3a3a" text-anchor="middle">75</text>
<path d="M101.7 218.25 L136.4 218.25 L136.4 224.85 L154.7 224.85 L154.7 218.25 L190.3 218.25" fill="none" stroke="#1212ff" stroke-width="1.75" stroke-linejoin="round"/>
<rect x="205.9" y="190.2" width="98" height="36.3" fill="#fff"/>
<line x1="210.2" y1="190.2" x2="210.2" y2="226.5" stroke="#ececec" stroke-width="0.5"/>
<line x1="221.12" y1="190.2" x2="221.12" y2="226.5" stroke="#f5f5f5" stroke-width="0.4"/>
<line x1="232.05" y1="190.2" x2="232.05" y2="226.5" stroke="#ececec" stroke-width="0.5"/>
<line x1="242.97" y1="190.2" x2="242.97" y2="226.5" stroke="#f5f5f5" stroke-width="0.4"/>
<line x1="253.89" y1="190.2" x2="253.89" y2="226.5" stroke="#ececec" stroke-width="0.5"/>
<line x1="264.82" y1="190.2" x2="264.82" y2="226.5" stroke="#f5f5f5" stroke-width="0.4"/>
<line x1="275.74" y1="190.2" x2="275.74" y2="226.5" stroke="#ececec" stroke-width="0.5"/>
<line x1="286.67" y1="190.2" x2="286.67" y2="226.5" stroke="#f5f5f5" stroke-width="0.4"/>
<line x1="297.59" y1="190.2" x2="297.59" y2="226.5" stroke="#ececec" stroke-width="0.5"/>
<line x1="205.9" y1="224.85" x2="303.9" y2="224.85" stroke="#efefef" stroke-width="0.45"/>
<line x1="205.9" y1="218.25" x2="303.9" y2="218.25" stroke="#efefef" stroke-width="0.45"/>
<line x1="205.9" y1="211.65" x2="303.9" y2="211.65" stroke="#efefef" stroke-width="0.45"/>
<line x1="205.9" y1="205.05" x2="303.9" y2="205.05" stroke="#efefef" stroke-width="0.45"/>
<line x1="205.9" y1="198.45" x2="303.9" y2="198.45" stroke="#efefef" stroke-width="0.45"/>
<line x1="205.9" y1="191.85" x2="303.9" y2="191.85" stroke="#efefef" stroke-width="0.45"/>
<rect x="205.9" y="190.2" width="98" height="36.3" fill="none" stroke="#dcdcdc" stroke-width="0.6"/>
<rect x="195.4" y="190.2" width="10.5" height="36.3" fill="#d6d6d6"/>
<line x1="205.6" y1="190.2" x2="205.6" y2="226.5" stroke="#bdbdbd" stroke-width="0.6"/>
<text x="200.65" y="211.6" font-size="6.9" fill="#1a1a1a" text-anchor="middle">17</text>
<text x="210.2" y="231.7" font-size="5.6" fill="#3a3a3a" text-anchor="middle">0</text>
<text x="232.05" y="231.7" font-size="5.6" fill="#3a3a3a" text-anchor="middle">20</text>
<text x="253.89" y="231.7" font-size="5.6" fill="#3a3a3a" text-anchor="middle">40</text>
<text x="275.74" y="231.7" font-size="5.6" fill="#3a3a3a" text-anchor="middle">60</text>
<text x="297.59" y="231.7" font-size="5.6" fill="#3a3a3a" text-anchor="middle">80</text>
<path d="M210.2 224.85 L239.1 224.85 L239.1 218.25 L242.4 218.25 L242.4 211.65 L275.1 211.65 L275.1 205.05 L297.6 205.05 L297.6 218.25 L298.5 218.25" fill="none" stroke="#1212ff" stroke-width="1.75" stroke-linejoin="round"/>
<rect x="314.8" y="190.2" width="98" height="36.3" fill="#fff"/>
<line x1="319.1" y1="190.2" x2="319.1" y2="226.5" stroke="#ececec" stroke-width="0.5"/>
<line x1="330.46" y1="190.2" x2="330.46" y2="226.5" stroke="#f5f5f5" stroke-width="0.4"/>
<line x1="341.81" y1="190.2" x2="341.81" y2="226.5" stroke="#ececec" stroke-width="0.5"/>
<line x1="353.17" y1="190.2" x2="353.17" y2="226.5" stroke="#f5f5f5" stroke-width="0.4"/>
<line x1="364.53" y1="190.2" x2="364.53" y2="226.5" stroke="#ececec" stroke-width="0.5"/>
<line x1="375.89" y1="190.2" x2="375.89" y2="226.5" stroke="#f5f5f5" stroke-width="0.4"/>
<line x1="387.24" y1="190.2" x2="387.24" y2="226.5" stroke="#ececec" stroke-width="0.5"/>
<line x1="398.6" y1="190.2" x2="398.6" y2="226.5" stroke="#f5f5f5" stroke-width="0.4"/>
<line x1="409.96" y1="190.2" x2="409.96" y2="226.5" stroke="#ececec" stroke-width="0.5"/>
<line x1="314.8" y1="224.85" x2="412.8" y2="224.85" stroke="#efefef" stroke-width="0.45"/>
<line x1="314.8" y1="218.25" x2="412.8" y2="218.25" stroke="#efefef" stroke-width="0.45"/>
<line x1="314.8" y1="211.65" x2="412.8" y2="211.65" stroke="#efefef" stroke-width="0.45"/>
<line x1="314.8" y1="205.05" x2="412.8" y2="205.05" stroke="#efefef" stroke-width="0.45"/>
<line x1="314.8" y1="198.45" x2="412.8" y2="198.45" stroke="#efefef" stroke-width="0.45"/>
<line x1="314.8" y1="191.85" x2="412.8" y2="191.85" stroke="#efefef" stroke-width="0.45"/>
<rect x="314.8" y="190.2" width="98" height="36.3" fill="none" stroke="#dcdcdc" stroke-width="0.6"/>
<rect x="304.3" y="190.2" width="10.5" height="36.3" fill="#d6d6d6"/>
<line x1="314.5" y1="190.2" x2="314.5" y2="226.5" stroke="#bdbdbd" stroke-width="0.6"/>
<text x="309.55" y="211.6" font-size="6.9" fill="#1a1a1a" text-anchor="middle">18</text>
<text x="319.1" y="231.7" font-size="5.6" fill="#3a3a3a" text-anchor="middle">0</text>
<text x="341.81" y="231.7" font-size="5.6" fill="#3a3a3a" text-anchor="middle">20</text>
<text x="364.53" y="231.7" font-size="5.6" fill="#3a3a3a" text-anchor="middle">40</text>
<text x="387.24" y="231.7" font-size="5.6" fill="#3a3a3a" text-anchor="middle">60</text>
<text x="409.96" y="231.7" font-size="5.6" fill="#3a3a3a" text-anchor="middle">80</text>
<path d="M319.5 224.85 L408 224.85" fill="none" stroke="#1212ff" stroke-width="1.75" stroke-linejoin="round"/>
<rect x="423.7" y="190.2" width="98" height="36.3" fill="#fff"/>
<line x1="428" y1="190.2" x2="428" y2="226.5" stroke="#ececec" stroke-width="0.5"/>
<line x1="443.01" y1="190.2" x2="443.01" y2="226.5" stroke="#f5f5f5" stroke-width="0.4"/>
<line x1="458.02" y1="190.2" x2="458.02" y2="226.5" stroke="#ececec" stroke-width="0.5"/>
<line x1="473.03" y1="190.2" x2="473.03" y2="226.5" stroke="#f5f5f5" stroke-width="0.4"/>
<line x1="488.03" y1="190.2" x2="488.03" y2="226.5" stroke="#ececec" stroke-width="0.5"/>
<line x1="503.04" y1="190.2" x2="503.04" y2="226.5" stroke="#f5f5f5" stroke-width="0.4"/>
<line x1="518.05" y1="190.2" x2="518.05" y2="226.5" stroke="#ececec" stroke-width="0.5"/>
<line x1="423.7" y1="224.85" x2="521.7" y2="224.85" stroke="#efefef" stroke-width="0.45"/>
<line x1="423.7" y1="218.25" x2="521.7" y2="218.25" stroke="#efefef" stroke-width="0.45"/>
<line x1="423.7" y1="211.65" x2="521.7" y2="211.65" stroke="#efefef" stroke-width="0.45"/>
<line x1="423.7" y1="205.05" x2="521.7" y2="205.05" stroke="#efefef" stroke-width="0.45"/>
<line x1="423.7" y1="198.45" x2="521.7" y2="198.45" stroke="#efefef" stroke-width="0.45"/>
<line x1="423.7" y1="191.85" x2="521.7" y2="191.85" stroke="#efefef" stroke-width="0.45"/>
<rect x="423.7" y="190.2" width="98" height="36.3" fill="none" stroke="#dcdcdc" stroke-width="0.6"/>
<rect x="413.2" y="190.2" width="10.5" height="36.3" fill="#d6d6d6"/>
<line x1="423.4" y1="190.2" x2="423.4" y2="226.5" stroke="#bdbdbd" stroke-width="0.6"/>
<text x="418.45" y="211.6" font-size="6.9" fill="#1a1a1a" text-anchor="middle">19</text>
<text x="428" y="231.7" font-size="5.6" fill="#3a3a3a" text-anchor="middle">0</text>
<text x="458.02" y="231.7" font-size="5.6" fill="#3a3a3a" text-anchor="middle">20</text>
<text x="488.03" y="231.7" font-size="5.6" fill="#3a3a3a" text-anchor="middle">40</text>
<text x="518.05" y="231.7" font-size="5.6" fill="#3a3a3a" text-anchor="middle">60</text>
<path d="M428.7 205.05 L442.3 205.05 L442.3 191.85 L451.4 191.85 L451.4 198.45 L461.9 198.45 L461.9 191.85 L495.7 191.85 L495.7 198.45 L503.1 198.45 L503.1 205.05 L510.6 205.05 L510.6 218.25 L517.1 218.25" fill="none" stroke="#1212ff" stroke-width="1.75" stroke-linejoin="round"/>
<rect x="532.6" y="190.2" width="98.5" height="36.3" fill="#fff"/>
<line x1="536.9" y1="190.2" x2="536.9" y2="226.5" stroke="#ececec" stroke-width="0.5"/>
<line x1="550.98" y1="190.2" x2="550.98" y2="226.5" stroke="#f5f5f5" stroke-width="0.4"/>
<line x1="565.06" y1="190.2" x2="565.06" y2="226.5" stroke="#ececec" stroke-width="0.5"/>
<line x1="579.14" y1="190.2" x2="579.14" y2="226.5" stroke="#f5f5f5" stroke-width="0.4"/>
<line x1="593.22" y1="190.2" x2="593.22" y2="226.5" stroke="#ececec" stroke-width="0.5"/>
<line x1="607.3" y1="190.2" x2="607.3" y2="226.5" stroke="#f5f5f5" stroke-width="0.4"/>
<line x1="621.38" y1="190.2" x2="621.38" y2="226.5" stroke="#ececec" stroke-width="0.5"/>
<line x1="532.6" y1="224.85" x2="631.1" y2="224.85" stroke="#efefef" stroke-width="0.45"/>
<line x1="532.6" y1="218.25" x2="631.1" y2="218.25" stroke="#efefef" stroke-width="0.45"/>
<line x1="532.6" y1="211.65" x2="631.1" y2="211.65" stroke="#efefef" stroke-width="0.45"/>
<line x1="532.6" y1="205.05" x2="631.1" y2="205.05" stroke="#efefef" stroke-width="0.45"/>
<line x1="532.6" y1="198.45" x2="631.1" y2="198.45" stroke="#efefef" stroke-width="0.45"/>
<line x1="532.6" y1="191.85" x2="631.1" y2="191.85" stroke="#efefef" stroke-width="0.45"/>
<rect x="532.6" y="190.2" width="98.5" height="36.3" fill="none" stroke="#dcdcdc" stroke-width="0.6"/>
<rect x="522.1" y="190.2" width="10.5" height="36.3" fill="#d6d6d6"/>
<line x1="532.3" y1="190.2" x2="532.3" y2="226.5" stroke="#bdbdbd" stroke-width="0.6"/>
<text x="527.35" y="211.6" font-size="6.9" fill="#1a1a1a" text-anchor="middle">20</text>
<text x="536.9" y="231.7" font-size="5.6" fill="#3a3a3a" text-anchor="middle">0</text>
<text x="565.06" y="231.7" font-size="5.6" fill="#3a3a3a" text-anchor="middle">20</text>
<text x="593.22" y="231.7" font-size="5.6" fill="#3a3a3a" text-anchor="middle">40</text>
<text x="621.38" y="231.7" font-size="5.6" fill="#3a3a3a" text-anchor="middle">60</text>
<path d="M537.3 224.85 L578.3 224.85 L578.3 218.25 L607.6 218.25 L607.6 224.85 L626.2 224.85" fill="none" stroke="#1212ff" stroke-width="1.75" stroke-linejoin="round"/>
<rect x="97" y="233.4" width="98" height="36.3" fill="#fff"/>
<line x1="101.3" y1="233.4" x2="101.3" y2="269.7" stroke="#ececec" stroke-width="0.5"/>
<line x1="110.52" y1="233.4" x2="110.52" y2="269.7" stroke="#f5f5f5" stroke-width="0.4"/>
<line x1="119.74" y1="233.4" x2="119.74" y2="269.7" stroke="#ececec" stroke-width="0.5"/>
<line x1="128.96" y1="233.4" x2="128.96" y2="269.7" stroke="#f5f5f5" stroke-width="0.4"/>
<line x1="138.18" y1="233.4" x2="138.18" y2="269.7" stroke="#ececec" stroke-width="0.5"/>
<line x1="147.4" y1="233.4" x2="147.4" y2="269.7" stroke="#f5f5f5" stroke-width="0.4"/>
<line x1="156.62" y1="233.4" x2="156.62" y2="269.7" stroke="#ececec" stroke-width="0.5"/>
<line x1="165.84" y1="233.4" x2="165.84" y2="269.7" stroke="#f5f5f5" stroke-width="0.4"/>
<line x1="175.06" y1="233.4" x2="175.06" y2="269.7" stroke="#ececec" stroke-width="0.5"/>
<line x1="184.28" y1="233.4" x2="184.28" y2="269.7" stroke="#f5f5f5" stroke-width="0.4"/>
<line x1="193.5" y1="233.4" x2="193.5" y2="269.7" stroke="#ececec" stroke-width="0.5"/>
<line x1="97" y1="268.05" x2="195" y2="268.05" stroke="#efefef" stroke-width="0.45"/>
<line x1="97" y1="261.45" x2="195" y2="261.45" stroke="#efefef" stroke-width="0.45"/>
<line x1="97" y1="254.85" x2="195" y2="254.85" stroke="#efefef" stroke-width="0.45"/>
<line x1="97" y1="248.25" x2="195" y2="248.25" stroke="#efefef" stroke-width="0.45"/>
<line x1="97" y1="241.65" x2="195" y2="241.65" stroke="#efefef" stroke-width="0.45"/>
<line x1="97" y1="235.05" x2="195" y2="235.05" stroke="#efefef" stroke-width="0.45"/>
<rect x="97" y="233.4" width="98" height="36.3" fill="none" stroke="#dcdcdc" stroke-width="0.6"/>
<rect x="86.5" y="233.4" width="10.5" height="36.3" fill="#d6d6d6"/>
<line x1="96.7" y1="233.4" x2="96.7" y2="269.7" stroke="#bdbdbd" stroke-width="0.6"/>
<text x="91.75" y="254.8" font-size="6.9" fill="#1a1a1a" text-anchor="middle">21</text>
<text x="101.3" y="274.9" font-size="5.6" fill="#3a3a3a" text-anchor="middle">0</text>
<text x="119.74" y="274.9" font-size="5.6" fill="#3a3a3a" text-anchor="middle">10</text>
<text x="138.18" y="274.9" font-size="5.6" fill="#3a3a3a" text-anchor="middle">20</text>
<text x="156.62" y="274.9" font-size="5.6" fill="#3a3a3a" text-anchor="middle">30</text>
<text x="175.06" y="274.9" font-size="5.6" fill="#3a3a3a" text-anchor="middle">40</text>
<text x="193.5" y="274.9" font-size="5.6" fill="#3a3a3a" text-anchor="middle">50</text>
<path d="M101.7 268.05 L190.3 268.05" fill="none" stroke="#1212ff" stroke-width="1.75" stroke-linejoin="round"/>
<rect x="205.9" y="233.4" width="98" height="36.3" fill="#fff"/>
<line x1="210.2" y1="233.4" x2="210.2" y2="269.7" stroke="#ececec" stroke-width="0.5"/>
<line x1="218.85" y1="233.4" x2="218.85" y2="269.7" stroke="#f5f5f5" stroke-width="0.4"/>
<line x1="227.49" y1="233.4" x2="227.49" y2="269.7" stroke="#ececec" stroke-width="0.5"/>
<line x1="236.14" y1="233.4" x2="236.14" y2="269.7" stroke="#f5f5f5" stroke-width="0.4"/>
<line x1="244.78" y1="233.4" x2="244.78" y2="269.7" stroke="#ececec" stroke-width="0.5"/>
<line x1="253.43" y1="233.4" x2="253.43" y2="269.7" stroke="#f5f5f5" stroke-width="0.4"/>
<line x1="262.07" y1="233.4" x2="262.07" y2="269.7" stroke="#ececec" stroke-width="0.5"/>
<line x1="270.72" y1="233.4" x2="270.72" y2="269.7" stroke="#f5f5f5" stroke-width="0.4"/>
<line x1="279.36" y1="233.4" x2="279.36" y2="269.7" stroke="#ececec" stroke-width="0.5"/>
<line x1="288.01" y1="233.4" x2="288.01" y2="269.7" stroke="#f5f5f5" stroke-width="0.4"/>
<line x1="296.65" y1="233.4" x2="296.65" y2="269.7" stroke="#ececec" stroke-width="0.5"/>
<line x1="205.9" y1="268.05" x2="303.9" y2="268.05" stroke="#efefef" stroke-width="0.45"/>
<line x1="205.9" y1="261.45" x2="303.9" y2="261.45" stroke="#efefef" stroke-width="0.45"/>
<line x1="205.9" y1="254.85" x2="303.9" y2="254.85" stroke="#efefef" stroke-width="0.45"/>
<line x1="205.9" y1="248.25" x2="303.9" y2="248.25" stroke="#efefef" stroke-width="0.45"/>
<line x1="205.9" y1="241.65" x2="303.9" y2="241.65" stroke="#efefef" stroke-width="0.45"/>
<line x1="205.9" y1="235.05" x2="303.9" y2="235.05" stroke="#efefef" stroke-width="0.45"/>
<rect x="205.9" y="233.4" width="98" height="36.3" fill="none" stroke="#dcdcdc" stroke-width="0.6"/>
<rect x="195.4" y="233.4" width="10.5" height="36.3" fill="#d6d6d6"/>
<line x1="205.6" y1="233.4" x2="205.6" y2="269.7" stroke="#bdbdbd" stroke-width="0.6"/>
<text x="200.65" y="254.8" font-size="6.9" fill="#1a1a1a" text-anchor="middle">22</text>
<text x="210.2" y="274.9" font-size="5.6" fill="#3a3a3a" text-anchor="middle">0</text>
<text x="227.49" y="274.9" font-size="5.6" fill="#3a3a3a" text-anchor="middle">10</text>
<text x="244.78" y="274.9" font-size="5.6" fill="#3a3a3a" text-anchor="middle">20</text>
<text x="262.07" y="274.9" font-size="5.6" fill="#3a3a3a" text-anchor="middle">30</text>
<text x="279.36" y="274.9" font-size="5.6" fill="#3a3a3a" text-anchor="middle">40</text>
<text x="296.65" y="274.9" font-size="5.6" fill="#3a3a3a" text-anchor="middle">50</text>
<path d="M210.2 268.05 L243.3 268.05 L243.3 254.85 L254.6 254.85 L254.6 248.25 L288 248.25 L288 254.85 L298.9 254.85" fill="none" stroke="#1212ff" stroke-width="1.75" stroke-linejoin="round"/>
<rect x="314.8" y="233.4" width="98" height="36.3" fill="#fff"/>
<line x1="319.1" y1="233.4" x2="319.1" y2="269.7" stroke="#ececec" stroke-width="0.5"/>
<line x1="333.38" y1="233.4" x2="333.38" y2="269.7" stroke="#f5f5f5" stroke-width="0.4"/>
<line x1="347.66" y1="233.4" x2="347.66" y2="269.7" stroke="#ececec" stroke-width="0.5"/>
<line x1="361.94" y1="233.4" x2="361.94" y2="269.7" stroke="#f5f5f5" stroke-width="0.4"/>
<line x1="376.22" y1="233.4" x2="376.22" y2="269.7" stroke="#ececec" stroke-width="0.5"/>
<line x1="390.49" y1="233.4" x2="390.49" y2="269.7" stroke="#f5f5f5" stroke-width="0.4"/>
<line x1="404.77" y1="233.4" x2="404.77" y2="269.7" stroke="#ececec" stroke-width="0.5"/>
<line x1="314.8" y1="268.05" x2="412.8" y2="268.05" stroke="#efefef" stroke-width="0.45"/>
<line x1="314.8" y1="261.45" x2="412.8" y2="261.45" stroke="#efefef" stroke-width="0.45"/>
<line x1="314.8" y1="254.85" x2="412.8" y2="254.85" stroke="#efefef" stroke-width="0.45"/>
<line x1="314.8" y1="248.25" x2="412.8" y2="248.25" stroke="#efefef" stroke-width="0.45"/>
<line x1="314.8" y1="241.65" x2="412.8" y2="241.65" stroke="#efefef" stroke-width="0.45"/>
<line x1="314.8" y1="235.05" x2="412.8" y2="235.05" stroke="#efefef" stroke-width="0.45"/>
<rect x="314.8" y="233.4" width="98" height="36.3" fill="none" stroke="#dcdcdc" stroke-width="0.6"/>
<rect x="304.3" y="233.4" width="10.5" height="36.3" fill="#d6d6d6"/>
<line x1="314.5" y1="233.4" x2="314.5" y2="269.7" stroke="#bdbdbd" stroke-width="0.6"/>
<text x="309.55" y="254.8" font-size="6.9" fill="#1a1a1a" text-anchor="middle">X</text>
<text x="319.1" y="274.9" font-size="5.6" fill="#3a3a3a" text-anchor="middle">0</text>
<text x="347.66" y="274.9" font-size="5.6" fill="#3a3a3a" text-anchor="middle">50</text>
<text x="376.22" y="274.9" font-size="5.6" fill="#3a3a3a" text-anchor="middle">100</text>
<text x="404.77" y="274.9" font-size="5.6" fill="#3a3a3a" text-anchor="middle">150</text>
<path d="M319.7 268.05 L364.6 268.05 L364.6 261.45 L394.2 261.45 L394.2 268.05 L408 268.05" fill="none" stroke="#1212ff" stroke-width="1.75" stroke-linejoin="round"/>
<text x="80.8" y="65.1" font-size="8.1" fill="#333" text-anchor="end">50</text>
<text x="80.8" y="93.1" font-size="8.1" fill="#333" text-anchor="end">0</text>
<text x="80.8" y="107.1" font-size="8.1" fill="#333" text-anchor="end">50</text>
<text x="80.8" y="137.7" font-size="8.1" fill="#333" text-anchor="end">0</text>
<text x="80.8" y="151.3" font-size="8.1" fill="#333" text-anchor="end">50</text>
<text x="80.8" y="183.1" font-size="8.1" fill="#333" text-anchor="end">0</text>
<text x="80.8" y="194.9" font-size="8.1" fill="#333" text-anchor="end">50</text>
<text x="80.8" y="225.7" font-size="8.1" fill="#333" text-anchor="end">0</text>
<text x="80.8" y="238.1" font-size="8.1" fill="#333" text-anchor="end">50</text>
<text x="80.8" y="267" font-size="8.1" fill="#333" text-anchor="end">0</text>
<text x="62.2" y="165" font-size="12.7" fill="#000" text-anchor="middle" transform="rotate(-90 62.2 165)">Chromothripsis (%)</text>
<text x="358.7" y="290.2" font-size="10.4" fill="#000" text-anchor="middle">Genomic position (Mb)</text>
<text x="6.6" y="321.9" font-size="14.6" fill="#000" font-weight="bold">b</text>
<text x="358.4" y="330.1" font-size="15.1" fill="#000" text-anchor="middle">Liposarcoma</text>
<rect x="97" y="343.1" width="98" height="36.3" fill="#fff"/>
<line x1="101.3" y1="343.1" x2="101.3" y2="379.4" stroke="#ececec" stroke-width="0.5"/>
<line x1="110.2" y1="343.1" x2="110.2" y2="379.4" stroke="#f5f5f5" stroke-width="0.4"/>
<line x1="119.09" y1="343.1" x2="119.09" y2="379.4" stroke="#ececec" stroke-width="0.5"/>
<line x1="127.99" y1="343.1" x2="127.99" y2="379.4" stroke="#f5f5f5" stroke-width="0.4"/>
<line x1="136.89" y1="343.1" x2="136.89" y2="379.4" stroke="#ececec" stroke-width="0.5"/>
<line x1="145.78" y1="343.1" x2="145.78" y2="379.4" stroke="#f5f5f5" stroke-width="0.4"/>
<line x1="154.68" y1="343.1" x2="154.68" y2="379.4" stroke="#ececec" stroke-width="0.5"/>
<line x1="163.58" y1="343.1" x2="163.58" y2="379.4" stroke="#f5f5f5" stroke-width="0.4"/>
<line x1="172.47" y1="343.1" x2="172.47" y2="379.4" stroke="#ececec" stroke-width="0.5"/>
<line x1="181.37" y1="343.1" x2="181.37" y2="379.4" stroke="#f5f5f5" stroke-width="0.4"/>
<line x1="190.27" y1="343.1" x2="190.27" y2="379.4" stroke="#ececec" stroke-width="0.5"/>
<line x1="97" y1="377.75" x2="195" y2="377.75" stroke="#efefef" stroke-width="0.45"/>
<line x1="97" y1="369.5" x2="195" y2="369.5" stroke="#efefef" stroke-width="0.45"/>
<line x1="97" y1="361.25" x2="195" y2="361.25" stroke="#efefef" stroke-width="0.45"/>
<line x1="97" y1="353" x2="195" y2="353" stroke="#efefef" stroke-width="0.45"/>
<line x1="97" y1="344.75" x2="195" y2="344.75" stroke="#efefef" stroke-width="0.45"/>
<rect x="97" y="343.1" width="98" height="36.3" fill="none" stroke="#dcdcdc" stroke-width="0.6"/>
<rect x="86.5" y="343.1" width="10.5" height="36.3" fill="#d6d6d6"/>
<line x1="96.7" y1="343.1" x2="96.7" y2="379.4" stroke="#bdbdbd" stroke-width="0.6"/>
<text x="91.75" y="364.5" font-size="6.9" fill="#1a1a1a" text-anchor="middle">1</text>
<text x="101.3" y="384.6" font-size="5.6" fill="#3a3a3a" text-anchor="middle">0</text>
<text x="119.09" y="384.6" font-size="5.6" fill="#3a3a3a" text-anchor="middle">50</text>
<text x="136.89" y="384.6" font-size="5.6" fill="#3a3a3a" text-anchor="middle">100</text>
<text x="154.68" y="384.6" font-size="5.6" fill="#3a3a3a" text-anchor="middle">150</text>
<text x="172.47" y="384.6" font-size="5.6" fill="#3a3a3a" text-anchor="middle">200</text>
<text x="190.27" y="384.6" font-size="5.6" fill="#3a3a3a" text-anchor="middle">250</text>
<path d="M100.8 377.75 L118.3 377.75 L118.3 369.5 L129 369.5 L129 373.62 L136.7 373.62 L136.7 377.75 L150.2 377.75 L150.2 369.5 L154 369.5 L154 365.38 L165.2 365.38 L165.2 369.5 L168.3 369.5 L168.3 373.62 L175.8 373.62 L175.8 377.75 L189.6 377.75" fill="none" stroke="#1212ff" stroke-width="1.75" stroke-linejoin="round"/>
<rect x="205.9" y="343.1" width="98" height="36.3" fill="#fff"/>
<line x1="210.2" y1="343.1" x2="210.2" y2="379.4" stroke="#ececec" stroke-width="0.5"/>
<line x1="219.32" y1="343.1" x2="219.32" y2="379.4" stroke="#f5f5f5" stroke-width="0.4"/>
<line x1="228.44" y1="343.1" x2="228.44" y2="379.4" stroke="#ececec" stroke-width="0.5"/>
<line x1="237.55" y1="343.1" x2="237.55" y2="379.4" stroke="#f5f5f5" stroke-width="0.4"/>
<line x1="246.67" y1="343.1" x2="246.67" y2="379.4" stroke="#ececec" stroke-width="0.5"/>
<line x1="255.79" y1="343.1" x2="255.79" y2="379.4" stroke="#f5f5f5" stroke-width="0.4"/>
<line x1="264.91" y1="343.1" x2="264.91" y2="379.4" stroke="#ececec" stroke-width="0.5"/>
<line x1="274.03" y1="343.1" x2="274.03" y2="379.4" stroke="#f5f5f5" stroke-width="0.4"/>
<line x1="283.14" y1="343.1" x2="283.14" y2="379.4" stroke="#ececec" stroke-width="0.5"/>
<line x1="292.26" y1="343.1" x2="292.26" y2="379.4" stroke="#f5f5f5" stroke-width="0.4"/>
<line x1="301.38" y1="343.1" x2="301.38" y2="379.4" stroke="#ececec" stroke-width="0.5"/>
<line x1="205.9" y1="377.75" x2="303.9" y2="377.75" stroke="#efefef" stroke-width="0.45"/>
<line x1="205.9" y1="369.5" x2="303.9" y2="369.5" stroke="#efefef" stroke-width="0.45"/>
<line x1="205.9" y1="361.25" x2="303.9" y2="361.25" stroke="#efefef" stroke-width="0.45"/>
<line x1="205.9" y1="353" x2="303.9" y2="353" stroke="#efefef" stroke-width="0.45"/>
<line x1="205.9" y1="344.75" x2="303.9" y2="344.75" stroke="#efefef" stroke-width="0.45"/>
<rect x="205.9" y="343.1" width="98" height="36.3" fill="none" stroke="#dcdcdc" stroke-width="0.6"/>
<rect x="195.4" y="343.1" width="10.5" height="36.3" fill="#d6d6d6"/>
<line x1="205.6" y1="343.1" x2="205.6" y2="379.4" stroke="#bdbdbd" stroke-width="0.6"/>
<text x="200.65" y="364.5" font-size="6.9" fill="#1a1a1a" text-anchor="middle">2</text>
<text x="210.2" y="384.6" font-size="5.6" fill="#3a3a3a" text-anchor="middle">0</text>
<text x="228.44" y="384.6" font-size="5.6" fill="#3a3a3a" text-anchor="middle">50</text>
<text x="246.67" y="384.6" font-size="5.6" fill="#3a3a3a" text-anchor="middle">100</text>
<text x="264.91" y="384.6" font-size="5.6" fill="#3a3a3a" text-anchor="middle">150</text>
<text x="283.14" y="384.6" font-size="5.6" fill="#3a3a3a" text-anchor="middle">200</text>
<text x="301.38" y="384.6" font-size="5.6" fill="#3a3a3a" text-anchor="middle">250</text>
<path d="M209.8 365.38 L224.4 365.38 L224.4 377.75 L227.5 377.75 L227.5 373.62 L244.6 373.62 L244.6 369.5 L246.2 369.5 L246.2 373.62 L249.7 373.62 L249.7 369.5 L263 369.5 L263 373.62 L273.7 373.62 L273.7 369.5 L275.3 369.5 L275.3 361.25 L279.4 361.25 L279.4 365.38 L286.8 365.38 L286.8 369.5 L292.1 369.5 L292.1 373.62 L297.5 373.62 L297.5 377.75 L298.3 377.75" fill="none" stroke="#1212ff" stroke-width="1.75" stroke-linejoin="round"/>
<rect x="314.8" y="343.1" width="98" height="36.3" fill="#fff"/>
<line x1="319.1" y1="343.1" x2="319.1" y2="379.4" stroke="#ececec" stroke-width="0.5"/>
<line x1="330.3" y1="343.1" x2="330.3" y2="379.4" stroke="#f5f5f5" stroke-width="0.4"/>
<line x1="341.5" y1="343.1" x2="341.5" y2="379.4" stroke="#ececec" stroke-width="0.5"/>
<line x1="352.7" y1="343.1" x2="352.7" y2="379.4" stroke="#f5f5f5" stroke-width="0.4"/>
<line x1="363.9" y1="343.1" x2="363.9" y2="379.4" stroke="#ececec" stroke-width="0.5"/>
<line x1="375.1" y1="343.1" x2="375.1" y2="379.4" stroke="#f5f5f5" stroke-width="0.4"/>
<line x1="386.3" y1="343.1" x2="386.3" y2="379.4" stroke="#ececec" stroke-width="0.5"/>
<line x1="397.5" y1="343.1" x2="397.5" y2="379.4" stroke="#f5f5f5" stroke-width="0.4"/>
<line x1="408.7" y1="343.1" x2="408.7" y2="379.4" stroke="#ececec" stroke-width="0.5"/>
<line x1="314.8" y1="377.75" x2="412.8" y2="377.75" stroke="#efefef" stroke-width="0.45"/>
<line x1="314.8" y1="369.5" x2="412.8" y2="369.5" stroke="#efefef" stroke-width="0.45"/>
<line x1="314.8" y1="361.25" x2="412.8" y2="361.25" stroke="#efefef" stroke-width="0.45"/>
<line x1="314.8" y1="353" x2="412.8" y2="353" stroke="#efefef" stroke-width="0.45"/>
<line x1="314.8" y1="344.75" x2="412.8" y2="344.75" stroke="#efefef" stroke-width="0.45"/>
<rect x="314.8" y="343.1" width="98" height="36.3" fill="none" stroke="#dcdcdc" stroke-width="0.6"/>
<rect x="304.3" y="343.1" width="10.5" height="36.3" fill="#d6d6d6"/>
<line x1="314.5" y1="343.1" x2="314.5" y2="379.4" stroke="#bdbdbd" stroke-width="0.6"/>
<text x="309.55" y="364.5" font-size="6.9" fill="#1a1a1a" text-anchor="middle">3</text>
<text x="319.1" y="384.6" font-size="5.6" fill="#3a3a3a" text-anchor="middle">0</text>
<text x="341.5" y="384.6" font-size="5.6" fill="#3a3a3a" text-anchor="middle">50</text>
<text x="363.9" y="384.6" font-size="5.6" fill="#3a3a3a" text-anchor="middle">100</text>
<text x="386.3" y="384.6" font-size="5.6" fill="#3a3a3a" text-anchor="middle">150</text>
<text x="408.7" y="384.6" font-size="5.6" fill="#3a3a3a" text-anchor="middle">200</text>
<path d="M318.8 377.75 L327.6 377.75 L327.6 373.62 L332.2 373.62 L332.2 369.5 L341.1 369.5 L341.1 365.38 L359.3 365.38 L359.3 369.5 L363.6 369.5 L363.6 373.62 L407.7 373.62" fill="none" stroke="#1212ff" stroke-width="1.75" stroke-linejoin="round"/>
<rect x="423.7" y="343.1" width="98" height="36.3" fill="#fff"/>
<line x1="428" y1="343.1" x2="428" y2="379.4" stroke="#ececec" stroke-width="0.5"/>
<line x1="439.6" y1="343.1" x2="439.6" y2="379.4" stroke="#f5f5f5" stroke-width="0.4"/>
<line x1="451.2" y1="343.1" x2="451.2" y2="379.4" stroke="#ececec" stroke-width="0.5"/>
<line x1="462.8" y1="343.1" x2="462.8" y2="379.4" stroke="#f5f5f5" stroke-width="0.4"/>
<line x1="474.4" y1="343.1" x2="474.4" y2="379.4" stroke="#ececec" stroke-width="0.5"/>
<line x1="486" y1="343.1" x2="486" y2="379.4" stroke="#f5f5f5" stroke-width="0.4"/>
<line x1="497.61" y1="343.1" x2="497.61" y2="379.4" stroke="#ececec" stroke-width="0.5"/>
<line x1="509.21" y1="343.1" x2="509.21" y2="379.4" stroke="#f5f5f5" stroke-width="0.4"/>
<line x1="520.81" y1="343.1" x2="520.81" y2="379.4" stroke="#ececec" stroke-width="0.5"/>
<line x1="423.7" y1="377.75" x2="521.7" y2="377.75" stroke="#efefef" stroke-width="0.45"/>
<line x1="423.7" y1="369.5" x2="521.7" y2="369.5" stroke="#efefef" stroke-width="0.45"/>
<line x1="423.7" y1="361.25" x2="521.7" y2="361.25" stroke="#efefef" stroke-width="0.45"/>
<line x1="423.7" y1="353" x2="521.7" y2="353" stroke="#efefef" stroke-width="0.45"/>
<line x1="423.7" y1="344.75" x2="521.7" y2="344.75" stroke="#efefef" stroke-width="0.45"/>
<rect x="423.7" y="343.1" width="98" height="36.3" fill="none" stroke="#dcdcdc" stroke-width="0.6"/>
<rect x="413.2" y="343.1" width="10.5" height="36.3" fill="#d6d6d6"/>
<line x1="423.4" y1="343.1" x2="423.4" y2="379.4" stroke="#bdbdbd" stroke-width="0.6"/>
<text x="418.45" y="364.5" font-size="6.9" fill="#1a1a1a" text-anchor="middle">4</text>
<text x="428" y="384.6" font-size="5.6" fill="#3a3a3a" text-anchor="middle">0</text>
<text x="451.2" y="384.6" font-size="5.6" fill="#3a3a3a" text-anchor="middle">50</text>
<text x="474.4" y="384.6" font-size="5.6" fill="#3a3a3a" text-anchor="middle">100</text>
<text x="497.61" y="384.6" font-size="5.6" fill="#3a3a3a" text-anchor="middle">150</text>
<text x="520.81" y="384.6" font-size="5.6" fill="#3a3a3a" text-anchor="middle">200</text>
<path d="M427.8 377.75 L460 377.75 L460 373.62 L476.9 373.62 L476.9 369.5 L479 369.5 L479 373.62 L488.7 373.62 L488.7 377.75 L501.7 377.75 L501.7 369.5 L516.6 369.5 L516.6 377.75 L516.9 377.75" fill="none" stroke="#1212ff" stroke-width="1.75" stroke-linejoin="round"/>
<rect x="532.6" y="343.1" width="98.5" height="36.3" fill="#fff"/>
<line x1="536.9" y1="343.1" x2="536.9" y2="379.4" stroke="#ececec" stroke-width="0.5"/>
<line x1="549.16" y1="343.1" x2="549.16" y2="379.4" stroke="#f5f5f5" stroke-width="0.4"/>
<line x1="561.42" y1="343.1" x2="561.42" y2="379.4" stroke="#ececec" stroke-width="0.5"/>
<line x1="573.67" y1="343.1" x2="573.67" y2="379.4" stroke="#f5f5f5" stroke-width="0.4"/>
<line x1="585.93" y1="343.1" x2="585.93" y2="379.4" stroke="#ececec" stroke-width="0.5"/>
<line x1="598.19" y1="343.1" x2="598.19" y2="379.4" stroke="#f5f5f5" stroke-width="0.4"/>
<line x1="610.45" y1="343.1" x2="610.45" y2="379.4" stroke="#ececec" stroke-width="0.5"/>
<line x1="532.6" y1="377.75" x2="631.1" y2="377.75" stroke="#efefef" stroke-width="0.45"/>
<line x1="532.6" y1="369.5" x2="631.1" y2="369.5" stroke="#efefef" stroke-width="0.45"/>
<line x1="532.6" y1="361.25" x2="631.1" y2="361.25" stroke="#efefef" stroke-width="0.45"/>
<line x1="532.6" y1="353" x2="631.1" y2="353" stroke="#efefef" stroke-width="0.45"/>
<line x1="532.6" y1="344.75" x2="631.1" y2="344.75" stroke="#efefef" stroke-width="0.45"/>
<rect x="532.6" y="343.1" width="98.5" height="36.3" fill="none" stroke="#dcdcdc" stroke-width="0.6"/>
<rect x="522.1" y="343.1" width="10.5" height="36.3" fill="#d6d6d6"/>
<line x1="532.3" y1="343.1" x2="532.3" y2="379.4" stroke="#bdbdbd" stroke-width="0.6"/>
<text x="527.35" y="364.5" font-size="6.9" fill="#1a1a1a" text-anchor="middle">5</text>
<text x="536.9" y="384.6" font-size="5.6" fill="#3a3a3a" text-anchor="middle">0</text>
<text x="561.42" y="384.6" font-size="5.6" fill="#3a3a3a" text-anchor="middle">50</text>
<text x="585.93" y="384.6" font-size="5.6" fill="#3a3a3a" text-anchor="middle">100</text>
<text x="610.45" y="384.6" font-size="5.6" fill="#3a3a3a" text-anchor="middle">150</text>
<path d="M536.9 365.38 L539.2 365.38 L539.2 361.25 L554.5 361.25 L554.5 365.38 L556.8 365.38 L556.8 369.5 L561.9 369.5 L561.9 373.62 L569.5 373.62 L569.5 377.75 L581 377.75 L581 373.62 L600.6 373.62 L600.6 369.5 L601.3 369.5 L601.3 373.62 L616.1 373.62 L616.1 377.75 L625.8 377.75" fill="none" stroke="#1212ff" stroke-width="1.75" stroke-linejoin="round"/>
<rect x="97" y="386.8" width="98" height="36.3" fill="#fff"/>
<line x1="101.3" y1="386.8" x2="101.3" y2="423.1" stroke="#ececec" stroke-width="0.5"/>
<line x1="114.26" y1="386.8" x2="114.26" y2="423.1" stroke="#f5f5f5" stroke-width="0.4"/>
<line x1="127.22" y1="386.8" x2="127.22" y2="423.1" stroke="#ececec" stroke-width="0.5"/>
<line x1="140.18" y1="386.8" x2="140.18" y2="423.1" stroke="#f5f5f5" stroke-width="0.4"/>
<line x1="153.14" y1="386.8" x2="153.14" y2="423.1" stroke="#ececec" stroke-width="0.5"/>
<line x1="166.1" y1="386.8" x2="166.1" y2="423.1" stroke="#f5f5f5" stroke-width="0.4"/>
<line x1="179.06" y1="386.8" x2="179.06" y2="423.1" stroke="#ececec" stroke-width="0.5"/>
<line x1="97" y1="421.45" x2="195" y2="421.45" stroke="#efefef" stroke-width="0.45"/>
<line x1="97" y1="413.2" x2="195" y2="413.2" stroke="#efefef" stroke-width="0.45"/>
<line x1="97" y1="404.95" x2="195" y2="404.95" stroke="#efefef" stroke-width="0.45"/>
<line x1="97" y1="396.7" x2="195" y2="396.7" stroke="#efefef" stroke-width="0.45"/>
<line x1="97" y1="388.45" x2="195" y2="388.45" stroke="#efefef" stroke-width="0.45"/>
<rect x="97" y="386.8" width="98" height="36.3" fill="none" stroke="#dcdcdc" stroke-width="0.6"/>
<rect x="86.5" y="386.8" width="10.5" height="36.3" fill="#d6d6d6"/>
<line x1="96.7" y1="386.8" x2="96.7" y2="423.1" stroke="#bdbdbd" stroke-width="0.6"/>
<text x="91.75" y="408.2" font-size="6.9" fill="#1a1a1a" text-anchor="middle">6</text>
<text x="101.3" y="428.3" font-size="5.6" fill="#3a3a3a" text-anchor="middle">0</text>
<text x="127.22" y="428.3" font-size="5.6" fill="#3a3a3a" text-anchor="middle">50</text>
<text x="153.14" y="428.3" font-size="5.6" fill="#3a3a3a" text-anchor="middle">100</text>
<text x="179.06" y="428.3" font-size="5.6" fill="#3a3a3a" text-anchor="middle">150</text>
<path d="M100.8 417.32 L136.8 417.32 L136.8 421.45 L157.4 421.45 L157.4 417.32 L165.5 417.32 L165.5 413.2 L173.2 413.2 L173.2 409.07 L183.6 409.07 L183.6 413.2 L188.8 413.2 L188.8 421.45 L189.6 421.45" fill="none" stroke="#1212ff" stroke-width="1.75" stroke-linejoin="round"/>
<rect x="205.9" y="386.8" width="98" height="36.3" fill="#fff"/>
<line x1="210.2" y1="386.8" x2="210.2" y2="423.1" stroke="#ececec" stroke-width="0.5"/>
<line x1="224.14" y1="386.8" x2="224.14" y2="423.1" stroke="#f5f5f5" stroke-width="0.4"/>
<line x1="238.08" y1="386.8" x2="238.08" y2="423.1" stroke="#ececec" stroke-width="0.5"/>
<line x1="252.01" y1="386.8" x2="252.01" y2="423.1" stroke="#f5f5f5" stroke-width="0.4"/>
<line x1="265.95" y1="386.8" x2="265.95" y2="423.1" stroke="#ececec" stroke-width="0.5"/>
<line x1="279.89" y1="386.8" x2="279.89" y2="423.1" stroke="#f5f5f5" stroke-width="0.4"/>
<line x1="293.83" y1="386.8" x2="293.83" y2="423.1" stroke="#ececec" stroke-width="0.5"/>
<line x1="205.9" y1="421.45" x2="303.9" y2="421.45" stroke="#efefef" stroke-width="0.45"/>
<line x1="205.9" y1="413.2" x2="303.9" y2="413.2" stroke="#efefef" stroke-width="0.45"/>
<line x1="205.9" y1="404.95" x2="303.9" y2="404.95" stroke="#efefef" stroke-width="0.45"/>
<line x1="205.9" y1="396.7" x2="303.9" y2="396.7" stroke="#efefef" stroke-width="0.45"/>
<line x1="205.9" y1="388.45" x2="303.9" y2="388.45" stroke="#efefef" stroke-width="0.45"/>
<rect x="205.9" y="386.8" width="98" height="36.3" fill="none" stroke="#dcdcdc" stroke-width="0.6"/>
<rect x="195.4" y="386.8" width="10.5" height="36.3" fill="#d6d6d6"/>
<line x1="205.6" y1="386.8" x2="205.6" y2="423.1" stroke="#bdbdbd" stroke-width="0.6"/>
<text x="200.65" y="408.2" font-size="6.9" fill="#1a1a1a" text-anchor="middle">7</text>
<text x="210.2" y="428.3" font-size="5.6" fill="#3a3a3a" text-anchor="middle">0</text>
<text x="238.08" y="428.3" font-size="5.6" fill="#3a3a3a" text-anchor="middle">50</text>
<text x="265.95" y="428.3" font-size="5.6" fill="#3a3a3a" text-anchor="middle">100</text>
<text x="293.83" y="428.3" font-size="5.6" fill="#3a3a3a" text-anchor="middle">150</text>
<path d="M209.8 413.2 L243.5 413.2 L243.5 421.45 L298.6 421.45" fill="none" stroke="#1212ff" stroke-width="1.75" stroke-linejoin="round"/>
<rect x="314.8" y="386.8" width="98" height="36.3" fill="#fff"/>
<line x1="319.1" y1="386.8" x2="319.1" y2="423.1" stroke="#ececec" stroke-width="0.5"/>
<line x1="334.25" y1="386.8" x2="334.25" y2="423.1" stroke="#f5f5f5" stroke-width="0.4"/>
<line x1="349.39" y1="386.8" x2="349.39" y2="423.1" stroke="#ececec" stroke-width="0.5"/>
<line x1="364.54" y1="386.8" x2="364.54" y2="423.1" stroke="#f5f5f5" stroke-width="0.4"/>
<line x1="379.69" y1="386.8" x2="379.69" y2="423.1" stroke="#ececec" stroke-width="0.5"/>
<line x1="394.83" y1="386.8" x2="394.83" y2="423.1" stroke="#f5f5f5" stroke-width="0.4"/>
<line x1="409.98" y1="386.8" x2="409.98" y2="423.1" stroke="#ececec" stroke-width="0.5"/>
<line x1="314.8" y1="421.45" x2="412.8" y2="421.45" stroke="#efefef" stroke-width="0.45"/>
<line x1="314.8" y1="413.2" x2="412.8" y2="413.2" stroke="#efefef" stroke-width="0.45"/>
<line x1="314.8" y1="404.95" x2="412.8" y2="404.95" stroke="#efefef" stroke-width="0.45"/>
<line x1="314.8" y1="396.7" x2="412.8" y2="396.7" stroke="#efefef" stroke-width="0.45"/>
<line x1="314.8" y1="388.45" x2="412.8" y2="388.45" stroke="#efefef" stroke-width="0.45"/>
<rect x="314.8" y="386.8" width="98" height="36.3" fill="none" stroke="#dcdcdc" stroke-width="0.6"/>
<rect x="304.3" y="386.8" width="10.5" height="36.3" fill="#d6d6d6"/>
<line x1="314.5" y1="386.8" x2="314.5" y2="423.1" stroke="#bdbdbd" stroke-width="0.6"/>
<text x="309.55" y="408.2" font-size="6.9" fill="#1a1a1a" text-anchor="middle">8</text>
<text x="319.1" y="428.3" font-size="5.6" fill="#3a3a3a" text-anchor="middle">0</text>
<text x="349.39" y="428.3" font-size="5.6" fill="#3a3a3a" text-anchor="middle">50</text>
<text x="379.69" y="428.3" font-size="5.6" fill="#3a3a3a" text-anchor="middle">100</text>
<text x="409.98" y="428.3" font-size="5.6" fill="#3a3a3a" text-anchor="middle">150</text>
<path d="M318.8 417.32 L337.2 417.32 L337.2 421.45 L354.8 421.45 L354.8 417.32 L370.9 417.32 L370.9 421.45 L382.3 421.45 L382.3 417.32 L407.3 417.32 L407.3 421.45 L407.6 421.45" fill="none" stroke="#1212ff" stroke-width="1.75" stroke-linejoin="round"/>
<rect x="423.7" y="386.8" width="98" height="36.3" fill="#fff"/>
<line x1="428" y1="386.8" x2="428" y2="423.1" stroke="#ececec" stroke-width="0.5"/>
<line x1="443.7" y1="386.8" x2="443.7" y2="423.1" stroke="#f5f5f5" stroke-width="0.4"/>
<line x1="459.41" y1="386.8" x2="459.41" y2="423.1" stroke="#ececec" stroke-width="0.5"/>
<line x1="475.11" y1="386.8" x2="475.11" y2="423.1" stroke="#f5f5f5" stroke-width="0.4"/>
<line x1="490.82" y1="386.8" x2="490.82" y2="423.1" stroke="#ececec" stroke-width="0.5"/>
<line x1="423.7" y1="421.45" x2="521.7" y2="421.45" stroke="#efefef" stroke-width="0.45"/>
<line x1="423.7" y1="413.2" x2="521.7" y2="413.2" stroke="#efefef" stroke-width="0.45"/>
<line x1="423.7" y1="404.95" x2="521.7" y2="404.95" stroke="#efefef" stroke-width="0.45"/>
<line x1="423.7" y1="396.7" x2="521.7" y2="396.7" stroke="#efefef" stroke-width="0.45"/>
<line x1="423.7" y1="388.45" x2="521.7" y2="388.45" stroke="#efefef" stroke-width="0.45"/>
<rect x="423.7" y="386.8" width="98" height="36.3" fill="none" stroke="#dcdcdc" stroke-width="0.6"/>
<rect x="413.2" y="386.8" width="10.5" height="36.3" fill="#d6d6d6"/>
<line x1="423.4" y1="386.8" x2="423.4" y2="423.1" stroke="#bdbdbd" stroke-width="0.6"/>
<text x="418.45" y="408.2" font-size="6.9" fill="#1a1a1a" text-anchor="middle">9</text>
<text x="428" y="428.3" font-size="5.6" fill="#3a3a3a" text-anchor="middle">0</text>
<text x="459.41" y="428.3" font-size="5.6" fill="#3a3a3a" text-anchor="middle">50</text>
<text x="490.82" y="428.3" font-size="5.6" fill="#3a3a3a" text-anchor="middle">100</text>
<path d="M427.8 404.95 L453.4 404.95 L453.4 421.45 L474.6 421.45 L474.6 417.32 L503.5 417.32 L503.5 421.45 L516.7 421.45" fill="none" stroke="#1212ff" stroke-width="1.75" stroke-linejoin="round"/>
<rect x="532.6" y="386.8" width="98.5" height="36.3" fill="#fff"/>
<line x1="536.9" y1="386.8" x2="536.9" y2="423.1" stroke="#ececec" stroke-width="0.5"/>
<line x1="553.27" y1="386.8" x2="553.27" y2="423.1" stroke="#f5f5f5" stroke-width="0.4"/>
<line x1="569.63" y1="386.8" x2="569.63" y2="423.1" stroke="#ececec" stroke-width="0.5"/>
<line x1="586" y1="386.8" x2="586" y2="423.1" stroke="#f5f5f5" stroke-width="0.4"/>
<line x1="602.36" y1="386.8" x2="602.36" y2="423.1" stroke="#ececec" stroke-width="0.5"/>
<line x1="532.6" y1="421.45" x2="631.1" y2="421.45" stroke="#efefef" stroke-width="0.45"/>
<line x1="532.6" y1="413.2" x2="631.1" y2="413.2" stroke="#efefef" stroke-width="0.45"/>
<line x1="532.6" y1="404.95" x2="631.1" y2="404.95" stroke="#efefef" stroke-width="0.45"/>
<line x1="532.6" y1="396.7" x2="631.1" y2="396.7" stroke="#efefef" stroke-width="0.45"/>
<line x1="532.6" y1="388.45" x2="631.1" y2="388.45" stroke="#efefef" stroke-width="0.45"/>
<rect x="532.6" y="386.8" width="98.5" height="36.3" fill="none" stroke="#dcdcdc" stroke-width="0.6"/>
<rect x="522.1" y="386.8" width="10.5" height="36.3" fill="#d6d6d6"/>
<line x1="532.3" y1="386.8" x2="532.3" y2="423.1" stroke="#bdbdbd" stroke-width="0.6"/>
<text x="527.35" y="408.2" font-size="6.9" fill="#1a1a1a" text-anchor="middle">10</text>
<text x="536.9" y="428.3" font-size="5.6" fill="#3a3a3a" text-anchor="middle">0</text>
<text x="569.63" y="428.3" font-size="5.6" fill="#3a3a3a" text-anchor="middle">50</text>
<text x="602.36" y="428.3" font-size="5.6" fill="#3a3a3a" text-anchor="middle">100</text>
<path d="M537.4 421.45 L562.6 421.45 L562.6 417.32 L582.4 417.32 L582.4 413.2 L592.8 413.2 L592.8 417.32 L625.8 417.32 L625.8 421.45 L626.1 421.45" fill="none" stroke="#1212ff" stroke-width="1.75" stroke-linejoin="round"/>
<rect x="97" y="430.2" width="98" height="36.3" fill="#fff"/>
<line x1="101.3" y1="430.2" x2="101.3" y2="466.5" stroke="#ececec" stroke-width="0.5"/>
<line x1="117.73" y1="430.2" x2="117.73" y2="466.5" stroke="#f5f5f5" stroke-width="0.4"/>
<line x1="134.15" y1="430.2" x2="134.15" y2="466.5" stroke="#ececec" stroke-width="0.5"/>
<line x1="150.58" y1="430.2" x2="150.58" y2="466.5" stroke="#f5f5f5" stroke-width="0.4"/>
<line x1="167" y1="430.2" x2="167" y2="466.5" stroke="#ececec" stroke-width="0.5"/>
<line x1="97" y1="464.85" x2="195" y2="464.85" stroke="#efefef" stroke-width="0.45"/>
<line x1="97" y1="456.6" x2="195" y2="456.6" stroke="#efefef" stroke-width="0.45"/>
<line x1="97" y1="448.35" x2="195" y2="448.35" stroke="#efefef" stroke-width="0.45"/>
<line x1="97" y1="440.1" x2="195" y2="440.1" stroke="#efefef" stroke-width="0.45"/>
<line x1="97" y1="431.85" x2="195" y2="431.85" stroke="#efefef" stroke-width="0.45"/>
<rect x="97" y="430.2" width="98" height="36.3" fill="none" stroke="#dcdcdc" stroke-width="0.6"/>
<rect x="86.5" y="430.2" width="10.5" height="36.3" fill="#d6d6d6"/>
<line x1="96.7" y1="430.2" x2="96.7" y2="466.5" stroke="#bdbdbd" stroke-width="0.6"/>
<text x="91.75" y="451.6" font-size="6.9" fill="#1a1a1a" text-anchor="middle">11</text>
<text x="101.3" y="471.7" font-size="5.6" fill="#3a3a3a" text-anchor="middle">0</text>
<text x="134.15" y="471.7" font-size="5.6" fill="#3a3a3a" text-anchor="middle">50</text>
<text x="167" y="471.7" font-size="5.6" fill="#3a3a3a" text-anchor="middle">100</text>
<path d="M100.8 460.72 L110.3 460.72 L110.3 456.6 L132.7 456.6 L132.7 452.47 L133.5 452.47 L133.5 456.6 L136.4 456.6 L136.4 460.72 L146 460.72 L146 456.6 L149.4 456.6 L149.4 452.47 L152.9 452.47 L152.9 448.35 L162.9 448.35 L162.9 444.22 L166.3 444.22 L166.3 452.47 L176.2 452.47 L176.2 456.6 L179.8 456.6 L179.8 460.72 L188.8 460.72 L188.8 464.85 L189.6 464.85" fill="none" stroke="#1212ff" stroke-width="1.75" stroke-linejoin="round"/>
<rect x="205.9" y="430.2" width="98" height="36.3" fill="#fff"/>
<line x1="210.2" y1="430.2" x2="210.2" y2="466.5" stroke="#ececec" stroke-width="0.5"/>
<line x1="226.77" y1="430.2" x2="226.77" y2="466.5" stroke="#f5f5f5" stroke-width="0.4"/>
<line x1="243.33" y1="430.2" x2="243.33" y2="466.5" stroke="#ececec" stroke-width="0.5"/>
<line x1="259.9" y1="430.2" x2="259.9" y2="466.5" stroke="#f5f5f5" stroke-width="0.4"/>
<line x1="276.47" y1="430.2" x2="276.47" y2="466.5" stroke="#ececec" stroke-width="0.5"/>
<line x1="205.9" y1="464.85" x2="303.9" y2="464.85" stroke="#efefef" stroke-width="0.45"/>
<line x1="205.9" y1="456.6" x2="303.9" y2="456.6" stroke="#efefef" stroke-width="0.45"/>
<line x1="205.9" y1="448.35" x2="303.9" y2="448.35" stroke="#efefef" stroke-width="0.45"/>
<line x1="205.9" y1="440.1" x2="303.9" y2="440.1" stroke="#efefef" stroke-width="0.45"/>
<line x1="205.9" y1="431.85" x2="303.9" y2="431.85" stroke="#efefef" stroke-width="0.45"/>
<rect x="205.9" y="430.2" width="98" height="36.3" fill="none" stroke="#dcdcdc" stroke-width="0.6"/>
<rect x="195.4" y="430.2" width="10.5" height="36.3" fill="#d6d6d6"/>
<line x1="205.6" y1="430.2" x2="205.6" y2="466.5" stroke="#bdbdbd" stroke-width="0.6"/>
<text x="200.65" y="451.6" font-size="6.9" fill="#1a1a1a" text-anchor="middle">12</text>
<text x="210.2" y="471.7" font-size="5.6" fill="#3a3a3a" text-anchor="middle">0</text>
<text x="243.33" y="471.7" font-size="5.6" fill="#3a3a3a" text-anchor="middle">50</text>
<text x="276.47" y="471.7" font-size="5.6" fill="#3a3a3a" text-anchor="middle">100</text>
<path d="M210.1 460.72 L229.1 460.72 L229.1 456.6 L232.7 456.6 L232.7 452.47 L242.7 452.47 L242.7 435.97 L246.2 435.97 L246.2 431.85 L256.4 431.85 L256.4 435.97 L269.5 435.97 L269.5 431.85 L276.5 431.85 L276.5 440.1 L280.2 440.1 L280.2 444.22 L283.1 444.22 L283.1 448.35 L289.7 448.35 L289.7 456.6 L298.4 456.6" fill="none" stroke="#1212ff" stroke-width="1.75" stroke-linejoin="round"/>
<rect x="314.8" y="430.2" width="98" height="36.3" fill="#fff"/>
<line x1="319.1" y1="430.2" x2="319.1" y2="466.5" stroke="#ececec" stroke-width="0.5"/>
<line x1="330.65" y1="430.2" x2="330.65" y2="466.5" stroke="#f5f5f5" stroke-width="0.4"/>
<line x1="342.2" y1="430.2" x2="342.2" y2="466.5" stroke="#ececec" stroke-width="0.5"/>
<line x1="353.75" y1="430.2" x2="353.75" y2="466.5" stroke="#f5f5f5" stroke-width="0.4"/>
<line x1="365.3" y1="430.2" x2="365.3" y2="466.5" stroke="#ececec" stroke-width="0.5"/>
<line x1="376.85" y1="430.2" x2="376.85" y2="466.5" stroke="#f5f5f5" stroke-width="0.4"/>
<line x1="388.4" y1="430.2" x2="388.4" y2="466.5" stroke="#ececec" stroke-width="0.5"/>
<line x1="399.95" y1="430.2" x2="399.95" y2="466.5" stroke="#f5f5f5" stroke-width="0.4"/>
<line x1="411.5" y1="430.2" x2="411.5" y2="466.5" stroke="#ececec" stroke-width="0.5"/>
<line x1="314.8" y1="464.85" x2="412.8" y2="464.85" stroke="#efefef" stroke-width="0.45"/>
<line x1="314.8" y1="456.6" x2="412.8" y2="456.6" stroke="#efefef" stroke-width="0.45"/>
<line x1="314.8" y1="448.35" x2="412.8" y2="448.35" stroke="#efefef" stroke-width="0.45"/>
<line x1="314.8" y1="440.1" x2="412.8" y2="440.1" stroke="#efefef" stroke-width="0.45"/>
<line x1="314.8" y1="431.85" x2="412.8" y2="431.85" stroke="#efefef" stroke-width="0.45"/>
<rect x="314.8" y="430.2" width="98" height="36.3" fill="none" stroke="#dcdcdc" stroke-width="0.6"/>
<rect x="304.3" y="430.2" width="10.5" height="36.3" fill="#d6d6d6"/>
<line x1="314.5" y1="430.2" x2="314.5" y2="466.5" stroke="#bdbdbd" stroke-width="0.6"/>
<text x="309.55" y="451.6" font-size="6.9" fill="#1a1a1a" text-anchor="middle">13</text>
<text x="319.1" y="471.7" font-size="5.6" fill="#3a3a3a" text-anchor="middle">0</text>
<text x="342.2" y="471.7" font-size="5.6" fill="#3a3a3a" text-anchor="middle">30</text>
<text x="365.3" y="471.7" font-size="5.6" fill="#3a3a3a" text-anchor="middle">60</text>
<text x="388.4" y="471.7" font-size="5.6" fill="#3a3a3a" text-anchor="middle">90</text>
<text x="411.5" y="471.7" font-size="5.6" fill="#3a3a3a" text-anchor="middle">120</text>
<path d="M318.9 460.72 L364.5 460.72 L364.5 456.6 L380.1 456.6 L380.1 452.47 L403.7 452.47 L403.7 456.6 L407.2 456.6 L407.2 460.72 L408.3 460.72" fill="none" stroke="#1212ff" stroke-width="1.75" stroke-linejoin="round"/>
<rect x="423.7" y="430.2" width="98" height="36.3" fill="#fff"/>
<line x1="428" y1="430.2" x2="428" y2="466.5" stroke="#ececec" stroke-width="0.5"/>
<line x1="440.4" y1="430.2" x2="440.4" y2="466.5" stroke="#f5f5f5" stroke-width="0.4"/>
<line x1="452.8" y1="430.2" x2="452.8" y2="466.5" stroke="#ececec" stroke-width="0.5"/>
<line x1="465.2" y1="430.2" x2="465.2" y2="466.5" stroke="#f5f5f5" stroke-width="0.4"/>
<line x1="477.6" y1="430.2" x2="477.6" y2="466.5" stroke="#ececec" stroke-width="0.5"/>
<line x1="490" y1="430.2" x2="490" y2="466.5" stroke="#f5f5f5" stroke-width="0.4"/>
<line x1="502.4" y1="430.2" x2="502.4" y2="466.5" stroke="#ececec" stroke-width="0.5"/>
<line x1="423.7" y1="464.85" x2="521.7" y2="464.85" stroke="#efefef" stroke-width="0.45"/>
<line x1="423.7" y1="456.6" x2="521.7" y2="456.6" stroke="#efefef" stroke-width="0.45"/>
<line x1="423.7" y1="448.35" x2="521.7" y2="448.35" stroke="#efefef" stroke-width="0.45"/>
<line x1="423.7" y1="440.1" x2="521.7" y2="440.1" stroke="#efefef" stroke-width="0.45"/>
<line x1="423.7" y1="431.85" x2="521.7" y2="431.85" stroke="#efefef" stroke-width="0.45"/>
<rect x="423.7" y="430.2" width="98" height="36.3" fill="none" stroke="#dcdcdc" stroke-width="0.6"/>
<rect x="413.2" y="430.2" width="10.5" height="36.3" fill="#d6d6d6"/>
<line x1="423.4" y1="430.2" x2="423.4" y2="466.5" stroke="#bdbdbd" stroke-width="0.6"/>
<text x="418.45" y="451.6" font-size="6.9" fill="#1a1a1a" text-anchor="middle">14</text>
<text x="428" y="471.7" font-size="5.6" fill="#3a3a3a" text-anchor="middle">0</text>
<text x="452.8" y="471.7" font-size="5.6" fill="#3a3a3a" text-anchor="middle">30</text>
<text x="477.6" y="471.7" font-size="5.6" fill="#3a3a3a" text-anchor="middle">60</text>
<text x="502.4" y="471.7" font-size="5.6" fill="#3a3a3a" text-anchor="middle">90</text>
<path d="M428 464.85 L502 464.85 L502 460.72 L516.9 460.72" fill="none" stroke="#1212ff" stroke-width="1.75" stroke-linejoin="round"/>
<rect x="532.6" y="430.2" width="98.5" height="36.3" fill="#fff"/>
<line x1="536.9" y1="430.2" x2="536.9" y2="466.5" stroke="#ececec" stroke-width="0.5"/>
<line x1="547.72" y1="430.2" x2="547.72" y2="466.5" stroke="#f5f5f5" stroke-width="0.4"/>
<line x1="558.53" y1="430.2" x2="558.53" y2="466.5" stroke="#ececec" stroke-width="0.5"/>
<line x1="569.35" y1="430.2" x2="569.35" y2="466.5" stroke="#f5f5f5" stroke-width="0.4"/>
<line x1="580.17" y1="430.2" x2="580.17" y2="466.5" stroke="#ececec" stroke-width="0.5"/>
<line x1="590.99" y1="430.2" x2="590.99" y2="466.5" stroke="#f5f5f5" stroke-width="0.4"/>
<line x1="601.8" y1="430.2" x2="601.8" y2="466.5" stroke="#ececec" stroke-width="0.5"/>
<line x1="612.62" y1="430.2" x2="612.62" y2="466.5" stroke="#f5f5f5" stroke-width="0.4"/>
<line x1="623.44" y1="430.2" x2="623.44" y2="466.5" stroke="#ececec" stroke-width="0.5"/>
<line x1="532.6" y1="464.85" x2="631.1" y2="464.85" stroke="#efefef" stroke-width="0.45"/>
<line x1="532.6" y1="456.6" x2="631.1" y2="456.6" stroke="#efefef" stroke-width="0.45"/>
<line x1="532.6" y1="448.35" x2="631.1" y2="448.35" stroke="#efefef" stroke-width="0.45"/>
<line x1="532.6" y1="440.1" x2="631.1" y2="440.1" stroke="#efefef" stroke-width="0.45"/>
<line x1="532.6" y1="431.85" x2="631.1" y2="431.85" stroke="#efefef" stroke-width="0.45"/>
<rect x="532.6" y="430.2" width="98.5" height="36.3" fill="none" stroke="#dcdcdc" stroke-width="0.6"/>
<rect x="522.1" y="430.2" width="10.5" height="36.3" fill="#d6d6d6"/>
<line x1="532.3" y1="430.2" x2="532.3" y2="466.5" stroke="#bdbdbd" stroke-width="0.6"/>
<text x="527.35" y="451.6" font-size="6.9" fill="#1a1a1a" text-anchor="middle">15</text>
<text x="536.9" y="471.7" font-size="5.6" fill="#3a3a3a" text-anchor="middle">0</text>
<text x="558.53" y="471.7" font-size="5.6" fill="#3a3a3a" text-anchor="middle">25</text>
<text x="580.17" y="471.7" font-size="5.6" fill="#3a3a3a" text-anchor="middle">50</text>
<text x="601.8" y="471.7" font-size="5.6" fill="#3a3a3a" text-anchor="middle">75</text>
<text x="623.44" y="471.7" font-size="5.6" fill="#3a3a3a" text-anchor="middle">100</text>
<path d="M537.2 464.85 L558.2 464.85 L558.2 460.72 L585.2 460.72 L585.2 464.85 L614.3 464.85 L614.3 460.72 L626 460.72" fill="none" stroke="#1212ff" stroke-width="1.75" stroke-linejoin="round"/>
<rect x="97" y="474.1" width="98" height="36.3" fill="#fff"/>
<line x1="101.3" y1="474.1" x2="101.3" y2="510.4" stroke="#ececec" stroke-width="0.5"/>
<line x1="113.57" y1="474.1" x2="113.57" y2="510.4" stroke="#f5f5f5" stroke-width="0.4"/>
<line x1="125.84" y1="474.1" x2="125.84" y2="510.4" stroke="#ececec" stroke-width="0.5"/>
<line x1="138.12" y1="474.1" x2="138.12" y2="510.4" stroke="#f5f5f5" stroke-width="0.4"/>
<line x1="150.39" y1="474.1" x2="150.39" y2="510.4" stroke="#ececec" stroke-width="0.5"/>
<line x1="162.66" y1="474.1" x2="162.66" y2="510.4" stroke="#f5f5f5" stroke-width="0.4"/>
<line x1="174.93" y1="474.1" x2="174.93" y2="510.4" stroke="#ececec" stroke-width="0.5"/>
<line x1="97" y1="508.75" x2="195" y2="508.75" stroke="#efefef" stroke-width="0.45"/>
<line x1="97" y1="500.5" x2="195" y2="500.5" stroke="#efefef" stroke-width="0.45"/>
<line x1="97" y1="492.25" x2="195" y2="492.25" stroke="#efefef" stroke-width="0.45"/>
<line x1="97" y1="484" x2="195" y2="484" stroke="#efefef" stroke-width="0.45"/>
<line x1="97" y1="475.75" x2="195" y2="475.75" stroke="#efefef" stroke-width="0.45"/>
<rect x="97" y="474.1" width="98" height="36.3" fill="none" stroke="#dcdcdc" stroke-width="0.6"/>
<rect x="86.5" y="474.1" width="10.5" height="36.3" fill="#d6d6d6"/>
<line x1="96.7" y1="474.1" x2="96.7" y2="510.4" stroke="#bdbdbd" stroke-width="0.6"/>
<text x="91.75" y="495.5" font-size="6.9" fill="#1a1a1a" text-anchor="middle">16</text>
<text x="101.3" y="515.6" font-size="5.6" fill="#3a3a3a" text-anchor="middle">0</text>
<text x="125.84" y="515.6" font-size="5.6" fill="#3a3a3a" text-anchor="middle">25</text>
<text x="150.39" y="515.6" font-size="5.6" fill="#3a3a3a" text-anchor="middle">50</text>
<text x="174.93" y="515.6" font-size="5.6" fill="#3a3a3a" text-anchor="middle">75</text>
<path d="M100.7 504.62 L120.6 504.62 L120.6 508.75 L149.2 508.75 L149.2 504.62 L189.5 504.62 L189.5 508.75 L189.8 508.75" fill="none" stroke="#1212ff" stroke-width="1.75" stroke-linejoin="round"/>
<rect x="205.9" y="474.1" width="98" height="36.3" fill="#fff"/>
<line x1="210.2" y1="474.1" x2="210.2" y2="510.4" stroke="#ececec" stroke-width="0.5"/>
<line x1="221.12" y1="474.1" x2="221.12" y2="510.4" stroke="#f5f5f5" stroke-width="0.4"/>
<line x1="232.05" y1="474.1" x2="232.05" y2="510.4" stroke="#ececec" stroke-width="0.5"/>
<line x1="242.97" y1="474.1" x2="242.97" y2="510.4" stroke="#f5f5f5" stroke-width="0.4"/>
<line x1="253.89" y1="474.1" x2="253.89" y2="510.4" stroke="#ececec" stroke-width="0.5"/>
<line x1="264.82" y1="474.1" x2="264.82" y2="510.4" stroke="#f5f5f5" stroke-width="0.4"/>
<line x1="275.74" y1="474.1" x2="275.74" y2="510.4" stroke="#ececec" stroke-width="0.5"/>
<line x1="286.67" y1="474.1" x2="286.67" y2="510.4" stroke="#f5f5f5" stroke-width="0.4"/>
<line x1="297.59" y1="474.1" x2="297.59" y2="510.4" stroke="#ececec" stroke-width="0.5"/>
<line x1="205.9" y1="508.75" x2="303.9" y2="508.75" stroke="#efefef" stroke-width="0.45"/>
<line x1="205.9" y1="500.5" x2="303.9" y2="500.5" stroke="#efefef" stroke-width="0.45"/>
<line x1="205.9" y1="492.25" x2="303.9" y2="492.25" stroke="#efefef" stroke-width="0.45"/>
<line x1="205.9" y1="484" x2="303.9" y2="484" stroke="#efefef" stroke-width="0.45"/>
<line x1="205.9" y1="475.75" x2="303.9" y2="475.75" stroke="#efefef" stroke-width="0.45"/>
<rect x="205.9" y="474.1" width="98" height="36.3" fill="none" stroke="#dcdcdc" stroke-width="0.6"/>
<rect x="195.4" y="474.1" width="10.5" height="36.3" fill="#d6d6d6"/>
<line x1="205.6" y1="474.1" x2="205.6" y2="510.4" stroke="#bdbdbd" stroke-width="0.6"/>
<text x="200.65" y="495.5" font-size="6.9" fill="#1a1a1a" text-anchor="middle">17</text>
<text x="210.2" y="515.6" font-size="5.6" fill="#3a3a3a" text-anchor="middle">0</text>
<text x="232.05" y="515.6" font-size="5.6" fill="#3a3a3a" text-anchor="middle">20</text>
<text x="253.89" y="515.6" font-size="5.6" fill="#3a3a3a" text-anchor="middle">40</text>
<text x="275.74" y="515.6" font-size="5.6" fill="#3a3a3a" text-anchor="middle">60</text>
<text x="297.59" y="515.6" font-size="5.6" fill="#3a3a3a" text-anchor="middle">80</text>
<path d="M209.9 508.75 L219.9 508.75 L219.9 504.62 L253.7 504.62 L253.7 508.75 L263.3 508.75 L263.3 504.62 L297.5 504.62 L297.5 508.75 L298.4 508.75" fill="none" stroke="#1212ff" stroke-width="1.75" stroke-linejoin="round"/>
<rect x="314.8" y="474.1" width="98" height="36.3" fill="#fff"/>
<line x1="319.1" y1="474.1" x2="319.1" y2="510.4" stroke="#ececec" stroke-width="0.5"/>
<line x1="330.46" y1="474.1" x2="330.46" y2="510.4" stroke="#f5f5f5" stroke-width="0.4"/>
<line x1="341.81" y1="474.1" x2="341.81" y2="510.4" stroke="#ececec" stroke-width="0.5"/>
<line x1="353.17" y1="474.1" x2="353.17" y2="510.4" stroke="#f5f5f5" stroke-width="0.4"/>
<line x1="364.53" y1="474.1" x2="364.53" y2="510.4" stroke="#ececec" stroke-width="0.5"/>
<line x1="375.89" y1="474.1" x2="375.89" y2="510.4" stroke="#f5f5f5" stroke-width="0.4"/>
<line x1="387.24" y1="474.1" x2="387.24" y2="510.4" stroke="#ececec" stroke-width="0.5"/>
<line x1="398.6" y1="474.1" x2="398.6" y2="510.4" stroke="#f5f5f5" stroke-width="0.4"/>
<line x1="409.96" y1="474.1" x2="409.96" y2="510.4" stroke="#ececec" stroke-width="0.5"/>
<line x1="314.8" y1="508.75" x2="412.8" y2="508.75" stroke="#efefef" stroke-width="0.45"/>
<line x1="314.8" y1="500.5" x2="412.8" y2="500.5" stroke="#efefef" stroke-width="0.45"/>
<line x1="314.8" y1="492.25" x2="412.8" y2="492.25" stroke="#efefef" stroke-width="0.45"/>
<line x1="314.8" y1="484" x2="412.8" y2="484" stroke="#efefef" stroke-width="0.45"/>
<line x1="314.8" y1="475.75" x2="412.8" y2="475.75" stroke="#efefef" stroke-width="0.45"/>
<rect x="314.8" y="474.1" width="98" height="36.3" fill="none" stroke="#dcdcdc" stroke-width="0.6"/>
<rect x="304.3" y="474.1" width="10.5" height="36.3" fill="#d6d6d6"/>
<line x1="314.5" y1="474.1" x2="314.5" y2="510.4" stroke="#bdbdbd" stroke-width="0.6"/>
<text x="309.55" y="495.5" font-size="6.9" fill="#1a1a1a" text-anchor="middle">18</text>
<text x="319.1" y="515.6" font-size="5.6" fill="#3a3a3a" text-anchor="middle">0</text>
<text x="341.81" y="515.6" font-size="5.6" fill="#3a3a3a" text-anchor="middle">20</text>
<text x="364.53" y="515.6" font-size="5.6" fill="#3a3a3a" text-anchor="middle">40</text>
<text x="387.24" y="515.6" font-size="5.6" fill="#3a3a3a" text-anchor="middle">60</text>
<text x="409.96" y="515.6" font-size="5.6" fill="#3a3a3a" text-anchor="middle">80</text>
<path d="M319 508.75 L408 508.75" fill="none" stroke="#1212ff" stroke-width="1.75" stroke-linejoin="round"/>
<rect x="423.7" y="474.1" width="98" height="36.3" fill="#fff"/>
<line x1="428" y1="474.1" x2="428" y2="510.4" stroke="#ececec" stroke-width="0.5"/>
<line x1="443.01" y1="474.1" x2="443.01" y2="510.4" stroke="#f5f5f5" stroke-width="0.4"/>
<line x1="458.02" y1="474.1" x2="458.02" y2="510.4" stroke="#ececec" stroke-width="0.5"/>
<line x1="473.03" y1="474.1" x2="473.03" y2="510.4" stroke="#f5f5f5" stroke-width="0.4"/>
<line x1="488.03" y1="474.1" x2="488.03" y2="510.4" stroke="#ececec" stroke-width="0.5"/>
<line x1="503.04" y1="474.1" x2="503.04" y2="510.4" stroke="#f5f5f5" stroke-width="0.4"/>
<line x1="518.05" y1="474.1" x2="518.05" y2="510.4" stroke="#ececec" stroke-width="0.5"/>
<line x1="423.7" y1="508.75" x2="521.7" y2="508.75" stroke="#efefef" stroke-width="0.45"/>
<line x1="423.7" y1="500.5" x2="521.7" y2="500.5" stroke="#efefef" stroke-width="0.45"/>
<line x1="423.7" y1="492.25" x2="521.7" y2="492.25" stroke="#efefef" stroke-width="0.45"/>
<line x1="423.7" y1="484" x2="521.7" y2="484" stroke="#efefef" stroke-width="0.45"/>
<line x1="423.7" y1="475.75" x2="521.7" y2="475.75" stroke="#efefef" stroke-width="0.45"/>
<rect x="423.7" y="474.1" width="98" height="36.3" fill="none" stroke="#dcdcdc" stroke-width="0.6"/>
<rect x="413.2" y="474.1" width="10.5" height="36.3" fill="#d6d6d6"/>
<line x1="423.4" y1="474.1" x2="423.4" y2="510.4" stroke="#bdbdbd" stroke-width="0.6"/>
<text x="418.45" y="495.5" font-size="6.9" fill="#1a1a1a" text-anchor="middle">19</text>
<text x="428" y="515.6" font-size="5.6" fill="#3a3a3a" text-anchor="middle">0</text>
<text x="458.02" y="515.6" font-size="5.6" fill="#3a3a3a" text-anchor="middle">20</text>
<text x="488.03" y="515.6" font-size="5.6" fill="#3a3a3a" text-anchor="middle">40</text>
<text x="518.05" y="515.6" font-size="5.6" fill="#3a3a3a" text-anchor="middle">60</text>
<path d="M428.5 504.62 L465.4 504.62 L465.4 508.75 L516.8 508.75" fill="none" stroke="#1212ff" stroke-width="1.75" stroke-linejoin="round"/>
<rect x="532.6" y="474.1" width="98.5" height="36.3" fill="#fff"/>
<line x1="536.9" y1="474.1" x2="536.9" y2="510.4" stroke="#ececec" stroke-width="0.5"/>
<line x1="550.98" y1="474.1" x2="550.98" y2="510.4" stroke="#f5f5f5" stroke-width="0.4"/>
<line x1="565.06" y1="474.1" x2="565.06" y2="510.4" stroke="#ececec" stroke-width="0.5"/>
<line x1="579.14" y1="474.1" x2="579.14" y2="510.4" stroke="#f5f5f5" stroke-width="0.4"/>
<line x1="593.22" y1="474.1" x2="593.22" y2="510.4" stroke="#ececec" stroke-width="0.5"/>
<line x1="607.3" y1="474.1" x2="607.3" y2="510.4" stroke="#f5f5f5" stroke-width="0.4"/>
<line x1="621.38" y1="474.1" x2="621.38" y2="510.4" stroke="#ececec" stroke-width="0.5"/>
<line x1="532.6" y1="508.75" x2="631.1" y2="508.75" stroke="#efefef" stroke-width="0.45"/>
<line x1="532.6" y1="500.5" x2="631.1" y2="500.5" stroke="#efefef" stroke-width="0.45"/>
<line x1="532.6" y1="492.25" x2="631.1" y2="492.25" stroke="#efefef" stroke-width="0.45"/>
<line x1="532.6" y1="484" x2="631.1" y2="484" stroke="#efefef" stroke-width="0.45"/>
<line x1="532.6" y1="475.75" x2="631.1" y2="475.75" stroke="#efefef" stroke-width="0.45"/>
<rect x="532.6" y="474.1" width="98.5" height="36.3" fill="none" stroke="#dcdcdc" stroke-width="0.6"/>
<rect x="522.1" y="474.1" width="10.5" height="36.3" fill="#d6d6d6"/>
<line x1="532.3" y1="474.1" x2="532.3" y2="510.4" stroke="#bdbdbd" stroke-width="0.6"/>
<text x="527.35" y="495.5" font-size="6.9" fill="#1a1a1a" text-anchor="middle">20</text>
<text x="536.9" y="515.6" font-size="5.6" fill="#3a3a3a" text-anchor="middle">0</text>
<text x="565.06" y="515.6" font-size="5.6" fill="#3a3a3a" text-anchor="middle">20</text>
<text x="593.22" y="515.6" font-size="5.6" fill="#3a3a3a" text-anchor="middle">40</text>
<text x="621.38" y="515.6" font-size="5.6" fill="#3a3a3a" text-anchor="middle">60</text>
<path d="M537.6 504.62 L572.2 504.62 L572.2 508.75 L591.3 508.75 L591.3 504.62 L625.9 504.62" fill="none" stroke="#1212ff" stroke-width="1.75" stroke-linejoin="round"/>
<rect x="97" y="517.4" width="98" height="36.3" fill="#fff"/>
<line x1="101.3" y1="517.4" x2="101.3" y2="553.7" stroke="#ececec" stroke-width="0.5"/>
<line x1="110.52" y1="517.4" x2="110.52" y2="553.7" stroke="#f5f5f5" stroke-width="0.4"/>
<line x1="119.74" y1="517.4" x2="119.74" y2="553.7" stroke="#ececec" stroke-width="0.5"/>
<line x1="128.96" y1="517.4" x2="128.96" y2="553.7" stroke="#f5f5f5" stroke-width="0.4"/>
<line x1="138.18" y1="517.4" x2="138.18" y2="553.7" stroke="#ececec" stroke-width="0.5"/>
<line x1="147.4" y1="517.4" x2="147.4" y2="553.7" stroke="#f5f5f5" stroke-width="0.4"/>
<line x1="156.62" y1="517.4" x2="156.62" y2="553.7" stroke="#ececec" stroke-width="0.5"/>
<line x1="165.84" y1="517.4" x2="165.84" y2="553.7" stroke="#f5f5f5" stroke-width="0.4"/>
<line x1="175.06" y1="517.4" x2="175.06" y2="553.7" stroke="#ececec" stroke-width="0.5"/>
<line x1="184.28" y1="517.4" x2="184.28" y2="553.7" stroke="#f5f5f5" stroke-width="0.4"/>
<line x1="193.5" y1="517.4" x2="193.5" y2="553.7" stroke="#ececec" stroke-width="0.5"/>
<line x1="97" y1="552.05" x2="195" y2="552.05" stroke="#efefef" stroke-width="0.45"/>
<line x1="97" y1="543.8" x2="195" y2="543.8" stroke="#efefef" stroke-width="0.45"/>
<line x1="97" y1="535.55" x2="195" y2="535.55" stroke="#efefef" stroke-width="0.45"/>
<line x1="97" y1="527.3" x2="195" y2="527.3" stroke="#efefef" stroke-width="0.45"/>
<line x1="97" y1="519.05" x2="195" y2="519.05" stroke="#efefef" stroke-width="0.45"/>
<rect x="97" y="517.4" width="98" height="36.3" fill="none" stroke="#dcdcdc" stroke-width="0.6"/>
<rect x="86.5" y="517.4" width="10.5" height="36.3" fill="#d6d6d6"/>
<line x1="96.7" y1="517.4" x2="96.7" y2="553.7" stroke="#bdbdbd" stroke-width="0.6"/>
<text x="91.75" y="538.8" font-size="6.9" fill="#1a1a1a" text-anchor="middle">21</text>
<text x="101.3" y="558.9" font-size="5.6" fill="#3a3a3a" text-anchor="middle">0</text>
<text x="119.74" y="558.9" font-size="5.6" fill="#3a3a3a" text-anchor="middle">10</text>
<text x="138.18" y="558.9" font-size="5.6" fill="#3a3a3a" text-anchor="middle">20</text>
<text x="156.62" y="558.9" font-size="5.6" fill="#3a3a3a" text-anchor="middle">30</text>
<text x="175.06" y="558.9" font-size="5.6" fill="#3a3a3a" text-anchor="middle">40</text>
<text x="193.5" y="558.9" font-size="5.6" fill="#3a3a3a" text-anchor="middle">50</text>
<path d="M101.1 552.05 L126.7 552.05 L126.7 539.67 L155.6 539.67 L155.6 543.8 L182.9 543.8 L182.9 547.92 L189.4 547.92" fill="none" stroke="#1212ff" stroke-width="1.75" stroke-linejoin="round"/>
<rect x="205.9" y="517.4" width="98" height="36.3" fill="#fff"/>
<line x1="210.2" y1="517.4" x2="210.2" y2="553.7" stroke="#ececec" stroke-width="0.5"/>
<line x1="218.85" y1="517.4" x2="218.85" y2="553.7" stroke="#f5f5f5" stroke-width="0.4"/>
<line x1="227.49" y1="517.4" x2="227.49" y2="553.7" stroke="#ececec" stroke-width="0.5"/>
<line x1="236.14" y1="517.4" x2="236.14" y2="553.7" stroke="#f5f5f5" stroke-width="0.4"/>
<line x1="244.78" y1="517.4" x2="244.78" y2="553.7" stroke="#ececec" stroke-width="0.5"/>
<line x1="253.43" y1="517.4" x2="253.43" y2="553.7" stroke="#f5f5f5" stroke-width="0.4"/>
<line x1="262.07" y1="517.4" x2="262.07" y2="553.7" stroke="#ececec" stroke-width="0.5"/>
<line x1="270.72" y1="517.4" x2="270.72" y2="553.7" stroke="#f5f5f5" stroke-width="0.4"/>
<line x1="279.36" y1="517.4" x2="279.36" y2="553.7" stroke="#ececec" stroke-width="0.5"/>
<line x1="288.01" y1="517.4" x2="288.01" y2="553.7" stroke="#f5f5f5" stroke-width="0.4"/>
<line x1="296.65" y1="517.4" x2="296.65" y2="553.7" stroke="#ececec" stroke-width="0.5"/>
<line x1="205.9" y1="552.05" x2="303.9" y2="552.05" stroke="#efefef" stroke-width="0.45"/>
<line x1="205.9" y1="543.8" x2="303.9" y2="543.8" stroke="#efefef" stroke-width="0.45"/>
<line x1="205.9" y1="535.55" x2="303.9" y2="535.55" stroke="#efefef" stroke-width="0.45"/>
<line x1="205.9" y1="527.3" x2="303.9" y2="527.3" stroke="#efefef" stroke-width="0.45"/>
<line x1="205.9" y1="519.05" x2="303.9" y2="519.05" stroke="#efefef" stroke-width="0.45"/>
<rect x="205.9" y="517.4" width="98" height="36.3" fill="none" stroke="#dcdcdc" stroke-width="0.6"/>
<rect x="195.4" y="517.4" width="10.5" height="36.3" fill="#d6d6d6"/>
<line x1="205.6" y1="517.4" x2="205.6" y2="553.7" stroke="#bdbdbd" stroke-width="0.6"/>
<text x="200.65" y="538.8" font-size="6.9" fill="#1a1a1a" text-anchor="middle">22</text>
<text x="210.2" y="558.9" font-size="5.6" fill="#3a3a3a" text-anchor="middle">0</text>
<text x="227.49" y="558.9" font-size="5.6" fill="#3a3a3a" text-anchor="middle">10</text>
<text x="244.78" y="558.9" font-size="5.6" fill="#3a3a3a" text-anchor="middle">20</text>
<text x="262.07" y="558.9" font-size="5.6" fill="#3a3a3a" text-anchor="middle">30</text>
<text x="279.36" y="558.9" font-size="5.6" fill="#3a3a3a" text-anchor="middle">40</text>
<text x="296.65" y="558.9" font-size="5.6" fill="#3a3a3a" text-anchor="middle">50</text>
<path d="M210.2 552.05 L234.3 552.05 L234.3 547.92 L243.3 547.92 L243.3 543.8 L297 543.8 L297 547.92 L298.5 547.92" fill="none" stroke="#1212ff" stroke-width="1.75" stroke-linejoin="round"/>
<rect x="314.8" y="517.4" width="98" height="36.3" fill="#fff"/>
<line x1="319.1" y1="517.4" x2="319.1" y2="553.7" stroke="#ececec" stroke-width="0.5"/>
<line x1="333.38" y1="517.4" x2="333.38" y2="553.7" stroke="#f5f5f5" stroke-width="0.4"/>
<line x1="347.66" y1="517.4" x2="347.66" y2="553.7" stroke="#ececec" stroke-width="0.5"/>
<line x1="361.94" y1="517.4" x2="361.94" y2="553.7" stroke="#f5f5f5" stroke-width="0.4"/>
<line x1="376.22" y1="517.4" x2="376.22" y2="553.7" stroke="#ececec" stroke-width="0.5"/>
<line x1="390.49" y1="517.4" x2="390.49" y2="553.7" stroke="#f5f5f5" stroke-width="0.4"/>
<line x1="404.77" y1="517.4" x2="404.77" y2="553.7" stroke="#ececec" stroke-width="0.5"/>
<line x1="314.8" y1="552.05" x2="412.8" y2="552.05" stroke="#efefef" stroke-width="0.45"/>
<line x1="314.8" y1="543.8" x2="412.8" y2="543.8" stroke="#efefef" stroke-width="0.45"/>
<line x1="314.8" y1="535.55" x2="412.8" y2="535.55" stroke="#efefef" stroke-width="0.45"/>
<line x1="314.8" y1="527.3" x2="412.8" y2="527.3" stroke="#efefef" stroke-width="0.45"/>
<line x1="314.8" y1="519.05" x2="412.8" y2="519.05" stroke="#efefef" stroke-width="0.45"/>
<rect x="314.8" y="517.4" width="98" height="36.3" fill="none" stroke="#dcdcdc" stroke-width="0.6"/>
<rect x="304.3" y="517.4" width="10.5" height="36.3" fill="#d6d6d6"/>
<line x1="314.5" y1="517.4" x2="314.5" y2="553.7" stroke="#bdbdbd" stroke-width="0.6"/>
<text x="309.55" y="538.8" font-size="6.9" fill="#1a1a1a" text-anchor="middle">X</text>
<text x="319.1" y="558.9" font-size="5.6" fill="#3a3a3a" text-anchor="middle">0</text>
<text x="347.66" y="558.9" font-size="5.6" fill="#3a3a3a" text-anchor="middle">50</text>
<text x="376.22" y="558.9" font-size="5.6" fill="#3a3a3a" text-anchor="middle">100</text>
<text x="404.77" y="558.9" font-size="5.6" fill="#3a3a3a" text-anchor="middle">150</text>
<path d="M318.7 543.8 L323.8 543.8 L323.8 539.67 L341.5 539.67 L341.5 547.92 L408 547.92" fill="none" stroke="#1212ff" stroke-width="1.75" stroke-linejoin="round"/>
<text x="78.3" y="351.9" font-size="8.1" fill="#333" text-anchor="end">50</text>
<text x="78.3" y="380.1" font-size="8.1" fill="#333" text-anchor="end">0</text>
<text x="78.3" y="393.9" font-size="8.1" fill="#333" text-anchor="end">50</text>
<text x="78.3" y="423.4" font-size="8.1" fill="#333" text-anchor="end">0</text>
<text x="78.3" y="437.7" font-size="8.1" fill="#333" text-anchor="end">50</text>
<text x="78.3" y="469.4" font-size="8.1" fill="#333" text-anchor="end">0</text>
<text x="78.3" y="481.7" font-size="8.1" fill="#333" text-anchor="end">50</text>
<text x="78.3" y="512.8" font-size="8.1" fill="#333" text-anchor="end">0</text>
<text x="78.3" y="524.7" font-size="8.1" fill="#333" text-anchor="end">50</text>
<text x="78.3" y="553.3" font-size="8.1" fill="#333" text-anchor="end">0</text>
<text x="55.3" y="443.5" font-size="12.7" fill="#000" text-anchor="middle" transform="rotate(-90 55.3 443.5)">Chromothripsis (%)</text>
<text x="360.7" y="576" font-size="10.4" fill="#000" text-anchor="middle">Genomic position (Mb)</text>
<text x="236.3" y="197.1" font-size="7.5" fill="#1a1a1a" font-style="italic">PRKAR1A</text>
<path d="M277 197.8 L291.8 200.6" fill="none" stroke="#b8141a" stroke-width="1.55" stroke-linecap="round"/>
<path d="M284.4 194.5 L291.8 200.6 L282.3 203.7" fill="none" stroke="#b8141a" stroke-width="1.55" stroke-linecap="round" stroke-linejoin="round"/>
<text x="240" y="241.5" font-size="7.8" fill="#1a1a1a" font-style="italic">ZNRF3</text>
<path d="M269.9 240.5 L285.2 243.1" fill="none" stroke="#b8141a" stroke-width="1.55" stroke-linecap="round"/>
<path d="M277.2 236.7 L285.2 243.1 L275.2 246.4" fill="none" stroke="#b8141a" stroke-width="1.55" stroke-linecap="round" stroke-linejoin="round"/>
<text x="463.7" y="212" font-size="7.6" fill="#1a1a1a" text-anchor="middle" font-style="italic">MLL4</text>
<text x="463.7" y="220.8" font-size="7.6" fill="#1a1a1a" text-anchor="middle" font-style="italic">CCNE1</text>
<path d="M476.8 207.1 L488.7 194.5" fill="none" stroke="#b8141a" stroke-width="1.55" stroke-linecap="round"/>
<path d="M479.5 197.1 L488.7 194.5 L487.3 203.3" fill="none" stroke="#b8141a" stroke-width="1.55" stroke-linecap="round" stroke-linejoin="round"/>
<rect x="411.7" y="189.4" width="109.5" height="41.9" fill="none" stroke="#6f2f9f" stroke-width="1.9"/>
<polygon points="416.3,196.6 417.23,199.72 420.48,199.64 417.81,201.49 418.89,204.56 416.3,202.58 413.71,204.56 414.79,201.49 412.12,199.64 415.37,199.72" fill="#f0141a"/>
<text x="211" y="445.7" font-size="7.5" fill="#1a1a1a" font-style="italic">MDM2</text>
<path d="M237.4 444.8 L252 435.3" fill="none" stroke="#b8141a" stroke-width="1.55" stroke-linecap="round"/>
<path d="M242.2 435.6 L252 435.3 L247.3 443.3" fill="none" stroke="#b8141a" stroke-width="1.55" stroke-linecap="round" stroke-linejoin="round"/>
<rect x="194.4" y="429.5" width="110.4" height="44.7" fill="none" stroke="#16701a" stroke-width="1.9"/>
<polygon points="199.1,437.2 200.03,440.32 203.28,440.24 200.61,442.09 201.69,445.16 199.1,443.18 196.51,445.16 197.59,442.09 194.92,440.24 198.17,440.32" fill="#f0141a"/>
<text x="6.6" y="607.6" font-size="14.6" fill="#000" font-weight="bold">c</text>
<text x="60.5" y="615" font-size="15.2" fill="#000">Adrenal gland carcinoma</text>
<rect x="69.6" y="644.3" width="108" height="69.2" fill="#fff"/>
<line x1="73.9" y1="644.3" x2="73.9" y2="713.5" stroke="#ececec" stroke-width="0.5"/>
<line x1="90.5" y1="644.3" x2="90.5" y2="713.5" stroke="#ececec" stroke-width="0.5"/>
<line x1="107" y1="644.3" x2="107" y2="713.5" stroke="#ececec" stroke-width="0.5"/>
<line x1="123.6" y1="644.3" x2="123.6" y2="713.5" stroke="#ececec" stroke-width="0.5"/>
<line x1="140.2" y1="644.3" x2="140.2" y2="713.5" stroke="#ececec" stroke-width="0.5"/>
<line x1="156.9" y1="644.3" x2="156.9" y2="713.5" stroke="#ececec" stroke-width="0.5"/>
<line x1="173.6" y1="644.3" x2="173.6" y2="713.5" stroke="#ececec" stroke-width="0.5"/>
<line x1="69.6" y1="647.2" x2="177.6" y2="647.2" stroke="#efefef" stroke-width="0.5"/>
<line x1="69.6" y1="662.5" x2="177.6" y2="662.5" stroke="#efefef" stroke-width="0.5"/>
<line x1="69.6" y1="692.5" x2="177.6" y2="692.5" stroke="#efefef" stroke-width="0.5"/>
<line x1="69.6" y1="707.9" x2="177.6" y2="707.9" stroke="#efefef" stroke-width="0.5"/>
<rect x="52.8" y="644.3" width="16.8" height="69.2" fill="#d6d6d6"/>
<rect x="69.6" y="644.3" width="108" height="69.2" fill="none" stroke="#a0a0a0" stroke-width="0.7"/>
<line x1="69.6" y1="644.3" x2="69.6" y2="713.5" stroke="#6a6a6a" stroke-width="0.9"/>
<text x="41.5" y="649.6" font-size="6.8" fill="#3a3a3a" text-anchor="middle">1</text>
<text x="41.5" y="679.7" font-size="6.8" fill="#3a3a3a" text-anchor="middle">0</text>
<text x="41.5" y="710.3" font-size="6.8" fill="#3a3a3a" text-anchor="middle">1</text>
<text x="31.1" y="656.5" font-size="9.9" fill="#000" text-anchor="middle" transform="rotate(-90 31.1 656.5)">Gains</text>
<text x="30.4" y="702.3" font-size="9.9" fill="#000" text-anchor="middle" transform="rotate(-90 30.4 702.3)">Losses</text>
<text x="13.3" y="676.5" font-size="10.2" fill="#000" text-anchor="middle" transform="rotate(-90 13.3 676.5)">Proportions</text>
<text x="73.9" y="720.9" font-size="6.8" fill="#3a3a3a" text-anchor="middle">0</text>
<line x1="73.9" y1="713.5" x2="73.9" y2="715.1" stroke="#666" stroke-width="0.6"/>
<text x="107" y="720.9" font-size="6.8" fill="#3a3a3a" text-anchor="middle">20</text>
<line x1="107" y1="713.5" x2="107" y2="715.1" stroke="#666" stroke-width="0.6"/>
<text x="140.2" y="720.9" font-size="6.8" fill="#3a3a3a" text-anchor="middle">40</text>
<line x1="140.2" y1="713.5" x2="140.2" y2="715.1" stroke="#666" stroke-width="0.6"/>
<text x="173.6" y="720.9" font-size="6.8" fill="#3a3a3a" text-anchor="middle">60</text>
<line x1="173.6" y1="713.5" x2="173.6" y2="715.1" stroke="#666" stroke-width="0.6"/>
<text x="114.5" y="737" font-size="10.3" fill="#000" text-anchor="middle">Genomic position (Mb)</text>
<path d="M74.23 647.22 L109.99 647.22" fill="none" stroke="#e8141c" stroke-width="1.8"/>
<path d="M127.95 647.22 L138.86 647.22 L139.7 657.63 L142.56 657.63 L143.9 653.43 L146.42 652.59 L147.26 647.22 L170.42 647.22" fill="none" stroke="#e8141c" stroke-width="1.8"/>
<path d="M74.23 654.27 L76.75 654.27 L79.27 658.47 L82.63 662.66 L89.34 662.66 L90.52 651.42 L92.7 655.11 L94.88 658.47 L96.9 666.86 L98.57 665.18 L100.25 666.02 L101.6 668.54 L102.77 661.82 L105.29 657.63 L111.67 657.63" fill="none" stroke="#4a90c8" stroke-width="1.8" stroke-linejoin="round"/>
<path d="M121.74 647.55 L124.09 660.14 L126.27 657.63 L128.45 658.47 L131.31 660.98 L132.99 654.27 L134.67 655.11 L136.34 653.43 L138.86 656.79 L141.38 654.27 L143.06 659.31 L146.42 659.31 L148.93 655.11 L152.29 660.14 L154.81 653.43 L156.49 650.91 L158.17 653.43 L159.85 650.91 L161.53 656.79 L164.04 650.41 L166.56 654.27 L170.42 656.79" fill="none" stroke="#4a90c8" stroke-width="1.8" stroke-linejoin="round"/>
<path d="M74.23 681.97 L76.75 683.65 L78.43 681.97 L80.95 690.36 L82.63 683.65 L85.14 687 L87.66 684.49 L90.18 687 L91.86 682.81 L94.38 686.16 L96.06 681.13 L98.57 680.29 L100.25 679.45" fill="none" stroke="#0a0a8c" stroke-width="1.8" stroke-linejoin="round"/>
<path d="M121.74 679.45 L124.09 684.49 L126.27 680.29 L128.45 689.52 L130.47 680.29 L132.99 682.81 L135.51 680.29 L138.02 682.81 L140.54 679.45 L143.9 681.97 L146.42 681.13 L148.93 685.32 L150.61 687.84 L152.29 681.97 L155.65 691.2 L157.33 681.97 L159.85 684.49 L162.36 681.13 L170.42 681.97" fill="none" stroke="#0a0a8c" stroke-width="1.8" stroke-linejoin="round"/>
<path d="M74.23 686.16 L75.41 679.45 L76.42 685.32 L77.59 680.29 L78.43 686.16 L79.27 679.45 L95.22 679.45 L96.9 689.52 L98.57 679.45 L110.32 679.11" fill="none" stroke="#8b0a0a" stroke-width="1.8" stroke-linejoin="round"/>
<path d="M127.95 679.11 L142.56 679.11 L143.9 710.51 L145.58 680.29 L147.26 682.81 L148.93 679.62 L150.61 685.32 L152.29 680.29 L153.97 679.11 L158.17 684.49 L159.85 679.62 L170.42 679.11" fill="none" stroke="#8b0a0a" stroke-width="1.8" stroke-linejoin="round"/>
<line x1="66.8" y1="678.9" x2="177.6" y2="678.9" stroke="#555" stroke-width="1.4"/>
<text x="61.8" y="683.1" font-size="9.9" fill="#1a1a1a" text-anchor="middle">19</text>
<rect x="1.4" y="638" width="178.2" height="85" fill="none" stroke="#6f2f9f" stroke-width="2.2"/>
<text x="364.2" y="607.7" font-size="14.6" fill="#000" font-weight="bold">d</text>
<text x="446" y="614" font-size="15.1" fill="#000">Liposarcoma</text>
<rect x="418.3" y="644.2" width="106.2" height="68.4" fill="#fff"/>
<line x1="422.8" y1="644.2" x2="422.8" y2="712.6" stroke="#ececec" stroke-width="0.5"/>
<line x1="441" y1="644.2" x2="441" y2="712.6" stroke="#ececec" stroke-width="0.5"/>
<line x1="459.1" y1="644.2" x2="459.1" y2="712.6" stroke="#ececec" stroke-width="0.5"/>
<line x1="477.3" y1="644.2" x2="477.3" y2="712.6" stroke="#ececec" stroke-width="0.5"/>
<line x1="495.4" y1="644.2" x2="495.4" y2="712.6" stroke="#ececec" stroke-width="0.5"/>
<line x1="513.6" y1="644.2" x2="513.6" y2="712.6" stroke="#ececec" stroke-width="0.5"/>
<line x1="418.3" y1="648.8" x2="524.5" y2="648.8" stroke="#efefef" stroke-width="0.5"/>
<line x1="418.3" y1="663.5" x2="524.5" y2="663.5" stroke="#efefef" stroke-width="0.5"/>
<line x1="418.3" y1="694" x2="524.5" y2="694" stroke="#efefef" stroke-width="0.5"/>
<line x1="418.3" y1="709.9" x2="524.5" y2="709.9" stroke="#efefef" stroke-width="0.5"/>
<rect x="401.8" y="644.2" width="16.5" height="68.4" fill="#d6d6d6"/>
<rect x="418.3" y="644.2" width="106.2" height="68.4" fill="none" stroke="#a0a0a0" stroke-width="0.7"/>
<line x1="418.3" y1="644.2" x2="418.3" y2="712.6" stroke="#6a6a6a" stroke-width="0.9"/>
<text x="391.6" y="651.2" font-size="6.8" fill="#3a3a3a" text-anchor="middle">1</text>
<text x="391.6" y="681.2" font-size="6.8" fill="#3a3a3a" text-anchor="middle">0</text>
<text x="391.6" y="712.3" font-size="6.8" fill="#3a3a3a" text-anchor="middle">1</text>
<text x="381" y="658" font-size="9.9" fill="#000" text-anchor="middle" transform="rotate(-90 381 658)">Gains</text>
<text x="380.4" y="704" font-size="9.9" fill="#000" text-anchor="middle" transform="rotate(-90 380.4 704)">Losses</text>
<text x="363.5" y="677.7" font-size="10.2" fill="#000" text-anchor="middle" transform="rotate(-90 363.5 677.7)">Proportions</text>
<text x="422.8" y="720.2" font-size="6.8" fill="#3a3a3a" text-anchor="middle">0</text>
<line x1="422.8" y1="712.6" x2="422.8" y2="714.2" stroke="#666" stroke-width="0.6"/>
<text x="459.1" y="720.2" font-size="6.8" fill="#3a3a3a" text-anchor="middle">50</text>
<line x1="459.1" y1="712.6" x2="459.1" y2="714.2" stroke="#666" stroke-width="0.6"/>
<text x="495.4" y="720.2" font-size="6.8" fill="#3a3a3a" text-anchor="middle">100</text>
<line x1="495.4" y1="712.6" x2="495.4" y2="714.2" stroke="#666" stroke-width="0.6"/>
<text x="463.4" y="737.6" font-size="10.3" fill="#000" text-anchor="middle">Genomic position (Mb)</text>
<path d="M423.06 669.38 L425.07 669.38 L428.43 669.88 L430.95 670.22 L432.63 669.88 L433.47 672.73 L434.81 671.9 L435.98 668.54 L437.66 667.7 L439.34 668.54 L440.18 674.41 L441.02 675.25 L441.86 677.77 L444.38 678.27" fill="none" stroke="#e8141c" stroke-width="1.8" stroke-linejoin="round"/>
<path d="M451.09 677.77 L452.77 675.25 L453.95 672.73 L456.13 672.23 L458.31 671.56 L460.32 671.06 L462 670.55 L463.68 671.06 L465.36 671.22 L519.08 671.22" fill="none" stroke="#e8141c" stroke-width="1.8" stroke-linejoin="round"/>
<path d="M423.06 661.49 L423.73 666.86 L424.74 667.7 L425.91 669.38 L427.59 670.22 L429.27 671.06 L430.95 670.22 L432.63 671.06 L433.8 669.38 L435.14 671.06 L436.82 671.9 L438.5 673.57 L440.18 674.41 L441.86 676.09 L443.54 677.77 L444.88 677.77 L445.72 646.71 L446.22 677.77" fill="none" stroke="#4a90c8" stroke-width="1.8" stroke-linejoin="round"/>
<path d="M451.09 676.09 L452.27 666.86 L453.61 667.7 L454.95 670.22 L456.13 671.06 L457.81 667.7 L458.98 665.18 L460.32 663.5 L461.67 665.18 L463.35 663.5 L464.52 650.91 L465.36 660.14 L466.2 665.18 L467.38 656.79 L468.38 660.98 L469.56 658.47 L470.73 650.07 L472.08 651.75 L473.42 650.07 L474.09 655.95 L475.43 655.11 L476.78 658.47 L477.95 655.95 L479.13 657.63 L480.13 661.82 L481.31 660.14 L482.48 657.63 L483.83 659.31 L485.17 656.79 L486.34 655.11 L487.52 656.79 L488.86 655.11 L489.7 657.63 L490.54 663.5 L491.38 661.82 L492.56 656.79 L493.9 662.66 L495.24 661.82 L496.42 664.34 L497.59 666.86 L498.93 664.34 L500.28 669.38 L501.45 668.54 L502.63 670.22 L503.97 669.38 L505.65 671.9 L506.99 669.38 L508.17 671.06 L509.34 672.73 L510.69 674.41 L512.03 675.25 L513.2 672.73 L514.88 673.57 L516.06 676.09 L517.4 673.57 L518.74 675.25" fill="none" stroke="#4a90c8" stroke-width="1.8" stroke-linejoin="round"/>
<path d="M423.06 686.16 L424.23 684.49 L425.41 682.81 L426.75 681.97 L428.09 683.65 L429.27 687 L430.44 687.84 L431.79 685.32 L433.13 682.81 L434.31 680.29 L435.48 681.13 L436.82 679.45 L438.17 680.29 L439.34 682.81 L440.52 683.98 L441.52 681.13 L442.7 679.95 L443.87 679.45" fill="none" stroke="#0a0a8c" stroke-width="1.8" stroke-linejoin="round"/>
<path d="M450.59 687.84 L451.6 681.97 L452.77 681.13 L453.95 684.49 L455.29 687.84 L456.63 685.32 L457.81 687.84 L458.98 690.36 L460.32 688.68 L461.67 690.36 L462.84 692.04 L464.02 697.92 L465.03 707.15 L466.2 699.59 L467.04 693.72 L467.88 695.4 L468.72 690.36 L470.06 699.59 L471.24 695.4 L472.08 697.08 L472.92 706.31 L474.09 698.75 L475.43 695.4 L476.78 692.04 L477.95 693.72 L479.13 690.36 L480.47 692.88 L481.81 688.68 L482.99 690.36 L484.16 689.52 L485.51 692.04 L486.85 687 L488.02 690.36 L489.2 689.52 L490.54 687 L491.88 688.68 L493.06 685.32 L494.23 687.84 L495.58 684.49 L496.92 683.31 L498.1 681.97 L499.27 683.65 L500.61 682.81 L501.96 681.13 L503.13 681.97 L504.31 680.29 L505.65 681.97 L506.99 683.98 L508.17 683.31 L509.34 684.49 L510.69 685.32 L512.03 687 L513.2 685.66 L514.88 684.99 L516.56 686.16 L517.74 686.67 L519.08 686.16" fill="none" stroke="#0a0a8c" stroke-width="1.8" stroke-linejoin="round"/>
<path d="M423.06 683.65 L424.23 682.81 L425.91 683.31 L427.59 684.49 L429.27 683.98 L430.95 685.32 L431.79 683.65 L433.47 684.99 L435.14 683.98 L436.82 685.32 L437.66 682.81 L438.5 683.98 L439.34 687.84 L440.18 685.32 L441.02 681.97 L441.86 679.45 L444.38 678.95" fill="none" stroke="#8b0a0a" stroke-width="1.8" stroke-linejoin="round"/>
<path d="M451.09 678.95 L462.84 678.95 L463.68 699.59 L464.52 678.95 L498.93 678.95 L500.28 682.3 L501.45 680.29 L502.29 678.95 L519.08 678.95" fill="none" stroke="#8b0a0a" stroke-width="1.8" stroke-linejoin="round"/>
<line x1="418.3" y1="678.4" x2="524.5" y2="678.4" stroke="#111" stroke-width="1.2"/>
<text x="410" y="683.2" font-size="9.9" fill="#1a1a1a" text-anchor="middle">12</text>
<rect x="349.7" y="638" width="177.4" height="85.4" fill="none" stroke="#16701a" stroke-width="2.2"/>
<line x1="2.6" y1="754.7" x2="14.9" y2="754.7" stroke="#48a8d0" stroke-width="1.8"/>
<text x="21.6" y="758" font-size="10.2" fill="#000">Chromothripsis-positive, gains</text>
<line x1="2.6" y1="770.4" x2="14.9" y2="770.4" stroke="#1f4a8a" stroke-width="1.8"/>
<text x="21.6" y="773.7" font-size="10.2" fill="#000">Chromothripsis-positive, losses</text>
<line x1="2.6" y1="784.9" x2="14.9" y2="784.9" stroke="#ff0a0a" stroke-width="2.2"/>
<text x="21.6" y="788.2" font-size="10.2" fill="#000">Negative, gains</text>
<line x1="2.6" y1="801.3" x2="14.9" y2="801.3" stroke="#8e2a2a" stroke-width="1.8"/>
<text x="21.6" y="804.6" font-size="10.2" fill="#000">Negative, losses</text>
<line x1="351.2" y1="755" x2="363.5" y2="755" stroke="#48a8d0" stroke-width="1.8"/>
<text x="370.2" y="758.3" font-size="10.2" fill="#000">Chromothripsis-positive, gains</text>
<line x1="351.2" y1="770.6" x2="363.5" y2="770.6" stroke="#1f4a8a" stroke-width="1.8"/>
<text x="370.2" y="773.9" font-size="10.2" fill="#000">Chromothripsis-positive, losses</text>
<line x1="351.2" y1="785" x2="363.5" y2="785" stroke="#ff0a0a" stroke-width="2.2"/>
<text x="370.2" y="788.3" font-size="10.2" fill="#000">Negative, gains</text>
<line x1="351.2" y1="801.3" x2="363.5" y2="801.3" stroke="#8e2a2a" stroke-width="1.8"/>
<text x="370.2" y="804.6" font-size="10.2" fill="#000">Negative, losses</text>
<path d="M334.35 727.9 A72.65 72.65 0 0 1 326.4 760.94 L320.52 757.94 A66.05 66.05 0 0 0 327.75 727.9 Z" fill="#dadada"/>
<path d="M334.35 727.9 A72.65 72.65 0 0 1 334.35 728.59 L327.75 728.53 A66.05 66.05 0 0 0 327.75 727.9 Z" fill="#858585"/>
<path d="M334.34 728.89 A72.65 72.65 0 0 1 334.34 729.18 L327.74 729.06 A66.05 66.05 0 0 0 327.74 728.8 Z" fill="#858585"/>
<path d="M334.34 729.3 A72.65 72.65 0 0 1 334.32 730.15 L327.72 729.94 A66.05 66.05 0 0 0 327.74 729.18 Z" fill="#f6f6f6"/>
<path d="M334.3 730.51 A72.65 72.65 0 0 1 334.28 731.19 L327.68 730.89 A66.05 66.05 0 0 0 327.71 730.27 Z" fill="#1e1e1e"/>
<path d="M334.26 731.48 A72.65 72.65 0 0 1 334.23 732.06 L327.64 731.68 A66.05 66.05 0 0 0 327.67 731.15 Z" fill="#858585"/>
<path d="M334.22 732.3 A72.65 72.65 0 0 1 334.19 732.68 L327.61 732.25 A66.05 66.05 0 0 0 327.63 731.9 Z" fill="#1e1e1e"/>
<path d="M334.15 733.35 A72.65 72.65 0 0 1 334.1 733.98 L327.52 733.42 A66.05 66.05 0 0 0 327.56 732.86 Z" fill="#f6f6f6"/>
<path d="M334.07 734.24 A72.65 72.65 0 0 1 334 735.05 L327.43 734.4 A66.05 66.05 0 0 0 327.5 733.67 Z" fill="#d88a8a"/>
<path d="M333.77 737.03 A72.65 72.65 0 0 1 333.71 737.5 L327.17 736.63 A66.05 66.05 0 0 0 327.23 736.2 Z" fill="#858585"/>
<path d="M332.8 742.81 A72.65 72.65 0 0 1 332.68 743.38 L326.23 741.98 A66.05 66.05 0 0 0 326.34 741.45 Z" fill="#f6f6f6"/>
<path d="M332.63 743.63 A72.65 72.65 0 0 1 332.52 744.09 L326.09 742.62 A66.05 66.05 0 0 0 326.18 742.2 Z" fill="#1e1e1e"/>
<path d="M332.48 744.29 A72.65 72.65 0 0 1 332.27 745.16 L325.86 743.59 A66.05 66.05 0 0 0 326.05 742.8 Z" fill="#f6f6f6"/>
<path d="M332.18 745.53 A72.65 72.65 0 0 1 331.96 746.38 L325.58 744.7 A66.05 66.05 0 0 0 325.78 743.92 Z" fill="#1e1e1e"/>
<path d="M331.65 747.52 A72.65 72.65 0 0 1 331.55 747.89 L325.2 746.07 A66.05 66.05 0 0 0 325.3 745.74 Z" fill="#f6f6f6"/>
<path d="M331.5 748.05 A72.65 72.65 0 0 1 331.33 748.62 L325.01 746.74 A66.05 66.05 0 0 0 325.16 746.22 Z" fill="#1e1e1e"/>
<path d="M331.26 748.86 A72.65 72.65 0 0 1 331.03 749.63 L324.73 747.65 A66.05 66.05 0 0 0 324.94 746.96 Z" fill="#f6f6f6"/>
<path d="M330.68 750.71 A72.65 72.65 0 0 1 330.37 751.61 L324.13 749.46 A66.05 66.05 0 0 0 324.41 748.64 Z" fill="#1e1e1e"/>
<path d="M330.24 751.99 A72.65 72.65 0 0 1 329.91 752.9 L323.72 750.63 A66.05 66.05 0 0 0 324.01 749.81 Z" fill="#858585"/>
<path d="M329.77 753.28 A72.65 72.65 0 0 1 329.57 753.83 L323.4 751.47 A66.05 66.05 0 0 0 323.59 750.98 Z" fill="#1e1e1e"/>
<path d="M329.48 754.06 A72.65 72.65 0 0 1 329.36 754.36 L323.21 751.96 A66.05 66.05 0 0 0 323.32 751.68 Z" fill="#f6f6f6"/>
<path d="M329.31 754.49 A72.65 72.65 0 0 1 329.17 754.83 L323.04 752.39 A66.05 66.05 0 0 0 323.17 752.08 Z" fill="#f6f6f6"/>
<path d="M328.61 756.2 A72.65 72.65 0 0 1 328.45 756.57 L322.39 753.97 A66.05 66.05 0 0 0 322.53 753.63 Z" fill="#1e1e1e"/>
<path d="M328.38 756.73 A72.65 72.65 0 0 1 328.03 757.53 L322.01 754.84 A66.05 66.05 0 0 0 322.33 754.11 Z" fill="#f6f6f6"/>
<path d="M327.88 757.87 A72.65 72.65 0 0 1 327.48 758.74 L321.5 755.94 A66.05 66.05 0 0 0 321.87 755.14 Z" fill="#858585"/>
<path d="M327.3 759.11 A72.65 72.65 0 0 1 327.01 759.72 L321.08 756.83 A66.05 66.05 0 0 0 321.34 756.27 Z" fill="#858585"/>
<path d="M326.88 759.98 A72.65 72.65 0 0 1 326.73 760.29 L320.82 757.35 A66.05 66.05 0 0 0 320.96 757.07 Z" fill="#f6f6f6"/>
<path d="M326.66 760.43 A72.65 72.65 0 0 1 326.4 760.94 L320.52 757.94 A66.05 66.05 0 0 0 320.76 757.47 Z" fill="#858585"/>
<path d="M332.41 744.57 A72.65 72.65 0 0 1 332.23 745.31 L325.82 743.73 A66.05 66.05 0 0 0 325.99 743.06 Z" fill="#c83a3a"/>
<path d="M334.35 727.9 A72.65 72.65 0 0 1 326.4 760.94 L320.52 757.94 A66.05 66.05 0 0 0 327.75 727.9 Z" fill="none" stroke="#6e6e6e" stroke-width="0.5"/>
<text x="336.18" y="747.92" font-size="5.9" fill="#111" text-anchor="middle" transform="rotate(-76.47 336.18 745.82)">1</text>
<path d="M325.81 762.07 A72.65 72.65 0 0 1 303.94 787.01 L300.1 781.64 A66.05 66.05 0 0 0 319.99 758.96 Z" fill="#dadada"/>
<path d="M325.44 762.77 A72.65 72.65 0 0 1 325.14 763.31 L319.37 760.1 A66.05 66.05 0 0 0 319.65 759.6 Z" fill="#f6f6f6"/>
<path d="M325 763.54 A72.65 72.65 0 0 1 324.78 763.93 L319.05 760.66 A66.05 66.05 0 0 0 319.25 760.31 Z" fill="#f6f6f6"/>
<path d="M324.03 765.23 A72.65 72.65 0 0 1 323.85 765.53 L318.2 762.11 A66.05 66.05 0 0 0 318.37 761.84 Z" fill="#f6f6f6"/>
<path d="M323.27 766.46 A72.65 72.65 0 0 1 322.81 767.19 L317.26 763.62 A66.05 66.05 0 0 0 317.68 762.96 Z" fill="#858585"/>
<path d="M320.17 771.01 A72.65 72.65 0 0 1 319.69 771.66 L314.42 767.69 A66.05 66.05 0 0 0 314.86 767.1 Z" fill="#1e1e1e"/>
<path d="M317.88 773.96 A72.65 72.65 0 0 1 317.44 774.49 L312.38 770.26 A66.05 66.05 0 0 0 312.78 769.77 Z" fill="#1e1e1e"/>
<path d="M317.25 774.72 A72.65 72.65 0 0 1 316.71 775.35 L311.71 771.04 A66.05 66.05 0 0 0 312.21 770.46 Z" fill="#858585"/>
<path d="M316.48 775.62 A72.65 72.65 0 0 1 316.25 775.88 L311.3 771.52 A66.05 66.05 0 0 0 311.5 771.29 Z" fill="#1e1e1e"/>
<path d="M316.16 775.99 A72.65 72.65 0 0 1 315.93 776.25 L311 771.86 A66.05 66.05 0 0 0 311.21 771.62 Z" fill="#f6f6f6"/>
<path d="M315.37 776.87 A72.65 72.65 0 0 1 314.99 777.27 L310.15 772.79 A66.05 66.05 0 0 0 310.49 772.42 Z" fill="#1e1e1e"/>
<path d="M314.83 777.45 A72.65 72.65 0 0 1 314.64 777.66 L309.83 773.14 A66.05 66.05 0 0 0 310.01 772.94 Z" fill="#d88a8a"/>
<path d="M314.19 778.12 A72.65 72.65 0 0 1 313.64 778.7 L308.92 774.08 A66.05 66.05 0 0 0 309.42 773.56 Z" fill="#f6f6f6"/>
<path d="M313.4 778.94 A72.65 72.65 0 0 1 312.93 779.42 L308.27 774.74 A66.05 66.05 0 0 0 308.7 774.3 Z" fill="#858585"/>
<path d="M312.72 779.62 A72.65 72.65 0 0 1 312.08 780.25 L307.5 775.49 A66.05 66.05 0 0 0 308.08 774.92 Z" fill="#858585"/>
<path d="M311.8 780.51 A72.65 72.65 0 0 1 311.52 780.78 L306.99 775.98 A66.05 66.05 0 0 0 307.25 775.73 Z" fill="#f6f6f6"/>
<path d="M310.48 781.74 A72.65 72.65 0 0 1 310.08 782.1 L305.68 777.18 A66.05 66.05 0 0 0 306.05 776.85 Z" fill="#1e1e1e"/>
<path d="M309.9 782.26 A72.65 72.65 0 0 1 309.45 782.65 L305.11 777.68 A66.05 66.05 0 0 0 305.52 777.32 Z" fill="#1e1e1e"/>
<path d="M309.25 782.82 A72.65 72.65 0 0 1 308.73 783.27 L304.46 778.24 A66.05 66.05 0 0 0 304.93 777.83 Z" fill="#1e1e1e"/>
<path d="M307.96 783.91 A72.65 72.65 0 0 1 307.25 784.5 L303.11 779.36 A66.05 66.05 0 0 0 303.76 778.83 Z" fill="#f6f6f6"/>
<path d="M306.4 785.17 A72.65 72.65 0 0 1 305.85 785.59 L301.84 780.35 A66.05 66.05 0 0 0 302.34 779.97 Z" fill="#f6f6f6"/>
<path d="M304.98 786.25 A72.65 72.65 0 0 1 304.57 786.55 L300.67 781.23 A66.05 66.05 0 0 0 301.04 780.95 Z" fill="#1e1e1e"/>
<path d="M304.39 786.68 A72.65 72.65 0 0 1 303.96 786.99 L300.12 781.62 A66.05 66.05 0 0 0 300.51 781.34 Z" fill="#858585"/>
<path d="M319.07 772.48 A72.65 72.65 0 0 1 318.6 773.07 L313.43 768.97 A66.05 66.05 0 0 0 313.86 768.43 Z" fill="#c83a3a"/>
<path d="M325.81 762.07 A72.65 72.65 0 0 1 303.94 787.01 L300.1 781.64 A66.05 66.05 0 0 0 319.99 758.96 Z" fill="none" stroke="#6e6e6e" stroke-width="0.5"/>
<text x="319.29" y="780.51" font-size="5.9" fill="#111" text-anchor="middle" transform="rotate(-48.75 319.29 778.41)">2</text>
<path d="M302.9 787.74 A72.65 72.65 0 0 1 278.11 798.67 L276.62 792.24 A66.05 66.05 0 0 0 299.16 782.3 Z" fill="#dadada"/>
<path d="M302.9 787.74 A72.65 72.65 0 0 1 302.12 788.26 L298.45 782.78 A66.05 66.05 0 0 0 299.16 782.3 Z" fill="#f6f6f6"/>
<path d="M301.79 788.49 A72.65 72.65 0 0 1 301.23 788.85 L297.64 783.31 A66.05 66.05 0 0 0 298.15 782.98 Z" fill="#f6f6f6"/>
<path d="M301 789 A72.65 72.65 0 0 1 300.65 789.23 L297.11 783.66 A66.05 66.05 0 0 0 297.43 783.45 Z" fill="#1e1e1e"/>
<path d="M300.49 789.32 A72.65 72.65 0 0 1 300.02 789.62 L296.54 784.01 A66.05 66.05 0 0 0 296.97 783.74 Z" fill="#f6f6f6"/>
<path d="M299.82 789.75 A72.65 72.65 0 0 1 299.13 790.17 L295.73 784.51 A66.05 66.05 0 0 0 296.36 784.13 Z" fill="#858585"/>
<path d="M298.83 790.35 A72.65 72.65 0 0 1 298.01 790.82 L294.71 785.11 A66.05 66.05 0 0 0 295.45 784.67 Z" fill="#1e1e1e"/>
<path d="M297.66 791.02 A72.65 72.65 0 0 1 297.03 791.38 L293.82 785.62 A66.05 66.05 0 0 0 294.4 785.29 Z" fill="#1e1e1e"/>
<path d="M296.75 791.54 A72.65 72.65 0 0 1 296.37 791.75 L293.22 785.95 A66.05 66.05 0 0 0 293.57 785.75 Z" fill="#1e1e1e"/>
<path d="M296.2 791.83 A72.65 72.65 0 0 1 295.36 792.28 L292.31 786.43 A66.05 66.05 0 0 0 293.07 786.03 Z" fill="#f6f6f6"/>
<path d="M294.16 792.9 A72.65 72.65 0 0 1 293.32 793.31 L290.45 787.36 A66.05 66.05 0 0 0 291.21 786.99 Z" fill="#858585"/>
<path d="M292.96 793.48 A72.65 72.65 0 0 1 292.18 793.85 L289.41 787.86 A66.05 66.05 0 0 0 290.12 787.52 Z" fill="#858585"/>
<path d="M290.84 794.45 A72.65 72.65 0 0 1 290.34 794.67 L287.74 788.6 A66.05 66.05 0 0 0 288.19 788.4 Z" fill="#f6f6f6"/>
<path d="M290.13 794.76 A72.65 72.65 0 0 1 289.41 795.06 L286.89 788.96 A66.05 66.05 0 0 0 287.55 788.68 Z" fill="#1e1e1e"/>
<path d="M289.1 795.19 A72.65 72.65 0 0 1 288.35 795.48 L285.93 789.34 A66.05 66.05 0 0 0 286.61 789.07 Z" fill="#1e1e1e"/>
<path d="M288.03 795.61 A72.65 72.65 0 0 1 287.58 795.78 L285.23 789.62 A66.05 66.05 0 0 0 285.64 789.46 Z" fill="#1e1e1e"/>
<path d="M285.96 796.38 A72.65 72.65 0 0 1 285.6 796.51 L283.43 790.27 A66.05 66.05 0 0 0 283.76 790.16 Z" fill="#1e1e1e"/>
<path d="M285.45 796.56 A72.65 72.65 0 0 1 285.17 796.66 L283.03 790.41 A66.05 66.05 0 0 0 283.29 790.32 Z" fill="#f6f6f6"/>
<path d="M285.05 796.7 A72.65 72.65 0 0 1 284.16 796.99 L282.12 790.71 A66.05 66.05 0 0 0 282.93 790.45 Z" fill="#f6f6f6"/>
<path d="M283.78 797.11 A72.65 72.65 0 0 1 283.05 797.34 L281.11 791.03 A66.05 66.05 0 0 0 281.78 790.82 Z" fill="#1e1e1e"/>
<path d="M282.73 797.44 A72.65 72.65 0 0 1 282.41 797.53 L280.53 791.21 A66.05 66.05 0 0 0 280.82 791.12 Z" fill="#1e1e1e"/>
<path d="M282.28 797.57 A72.65 72.65 0 0 1 281.38 797.83 L279.59 791.48 A66.05 66.05 0 0 0 280.41 791.25 Z" fill="#d88a8a"/>
<path d="M279.73 798.28 A72.65 72.65 0 0 1 279.28 798.39 L277.69 791.99 A66.05 66.05 0 0 0 278.1 791.88 Z" fill="#1e1e1e"/>
<path d="M279.09 798.44 A72.65 72.65 0 0 1 278.41 798.6 L276.89 792.18 A66.05 66.05 0 0 0 277.51 792.03 Z" fill="#1e1e1e"/>
<path d="M278.11 798.67 A72.65 72.65 0 0 1 278.11 798.67 L276.62 792.24 A66.05 66.05 0 0 0 276.62 792.24 Z" fill="#f6f6f6"/>
<path d="M292.37 793.76 A72.65 72.65 0 0 1 291.68 794.08 L288.96 788.06 A66.05 66.05 0 0 0 289.59 787.77 Z" fill="#c83a3a"/>
<path d="M302.9 787.74 A72.65 72.65 0 0 1 278.11 798.67 L276.62 792.24 A66.05 66.05 0 0 0 299.16 782.3 Z" fill="none" stroke="#6e6e6e" stroke-width="0.5"/>
<text x="292.62" y="800.08" font-size="5.9" fill="#111" text-anchor="middle" transform="rotate(-23.8 292.62 797.98)">3</text>
<path d="M276.88 798.95 A72.65 72.65 0 0 1 250.72 799.72 L251.72 793.19 A66.05 66.05 0 0 0 275.5 792.49 Z" fill="#dadada"/>
<path d="M275.85 799.16 A72.65 72.65 0 0 1 274.94 799.33 L273.74 792.84 A66.05 66.05 0 0 0 274.57 792.68 Z" fill="#1e1e1e"/>
<path d="M274.55 799.4 A72.65 72.65 0 0 1 273.92 799.51 L272.81 793.01 A66.05 66.05 0 0 0 273.38 792.91 Z" fill="#858585"/>
<path d="M272.86 799.69 A72.65 72.65 0 0 1 272.02 799.81 L271.08 793.28 A66.05 66.05 0 0 0 271.84 793.17 Z" fill="#1e1e1e"/>
<path d="M271.66 799.86 A72.65 72.65 0 0 1 271.01 799.95 L270.16 793.41 A66.05 66.05 0 0 0 270.76 793.33 Z" fill="#d88a8a"/>
<path d="M270.73 799.99 A72.65 72.65 0 0 1 270.05 800.07 L269.29 793.51 A66.05 66.05 0 0 0 269.91 793.44 Z" fill="#1e1e1e"/>
<path d="M269.75 800.1 A72.65 72.65 0 0 1 269.2 800.16 L268.52 793.6 A66.05 66.05 0 0 0 269.02 793.54 Z" fill="#f6f6f6"/>
<path d="M267.67 800.3 A72.65 72.65 0 0 1 266.93 800.36 L266.45 793.78 A66.05 66.05 0 0 0 267.13 793.73 Z" fill="#858585"/>
<path d="M266.61 800.38 A72.65 72.65 0 0 1 265.69 800.44 L265.33 793.85 A66.05 66.05 0 0 0 266.16 793.8 Z" fill="#1e1e1e"/>
<path d="M265.3 800.46 A72.65 72.65 0 0 1 264.78 800.48 L264.5 793.89 A66.05 66.05 0 0 0 264.97 793.87 Z" fill="#1e1e1e"/>
<path d="M262.49 800.55 A72.65 72.65 0 0 1 261.73 800.55 L261.72 793.95 A66.05 66.05 0 0 0 262.42 793.95 Z" fill="#f6f6f6"/>
<path d="M256.75 800.38 A72.65 72.65 0 0 1 255.92 800.32 L256.44 793.74 A66.05 66.05 0 0 0 257.2 793.8 Z" fill="#d88a8a"/>
<path d="M255.02 800.24 A72.65 72.65 0 0 1 254.5 800.19 L255.15 793.62 A66.05 66.05 0 0 0 255.63 793.67 Z" fill="#f6f6f6"/>
<path d="M254.28 800.17 A72.65 72.65 0 0 1 253.39 800.07 L254.14 793.52 A66.05 66.05 0 0 0 254.95 793.6 Z" fill="#f6f6f6"/>
<path d="M253 800.03 A72.65 72.65 0 0 1 252.54 799.97 L253.37 793.42 A66.05 66.05 0 0 0 253.79 793.48 Z" fill="#f6f6f6"/>
<path d="M270.47 800.02 A72.65 72.65 0 0 1 269.71 800.11 L268.98 793.55 A66.05 66.05 0 0 0 269.67 793.47 Z" fill="#c83a3a"/>
<path d="M276.88 798.95 A72.65 72.65 0 0 1 250.72 799.72 L251.72 793.19 A66.05 66.05 0 0 0 275.5 792.49 Z" fill="none" stroke="#6e6e6e" stroke-width="0.5"/>
<text x="263.95" y="806.57" font-size="5.9" fill="#111" text-anchor="middle" transform="rotate(-1.68 263.95 804.47)">4</text>
<path d="M249.47 799.51 A72.65 72.65 0 0 1 226.12 791.24 L229.35 785.49 A66.05 66.05 0 0 0 250.58 793.01 Z" fill="#dadada"/>
<path d="M249.47 799.51 A72.65 72.65 0 0 1 249.1 799.45 L250.24 792.95 A66.05 66.05 0 0 0 250.58 793.01 Z" fill="#f6f6f6"/>
<path d="M248.94 799.42 A72.65 72.65 0 0 1 248.09 799.26 L249.33 792.78 A66.05 66.05 0 0 0 250.1 792.92 Z" fill="#f6f6f6"/>
<path d="M247.73 799.19 A72.65 72.65 0 0 1 247.29 799.11 L248.6 792.64 A66.05 66.05 0 0 0 248.99 792.72 Z" fill="#f6f6f6"/>
<path d="M247.1 799.07 A72.65 72.65 0 0 1 246.62 798.97 L247.99 792.51 A66.05 66.05 0 0 0 248.43 792.6 Z" fill="#f6f6f6"/>
<path d="M245.79 798.79 A72.65 72.65 0 0 1 245.47 798.71 L246.95 792.28 A66.05 66.05 0 0 0 247.23 792.35 Z" fill="#858585"/>
<path d="M245.34 798.68 A72.65 72.65 0 0 1 244.45 798.47 L246.01 792.06 A66.05 66.05 0 0 0 246.82 792.25 Z" fill="#1e1e1e"/>
<path d="M244.07 798.38 A72.65 72.65 0 0 1 243.53 798.24 L245.18 791.85 A66.05 66.05 0 0 0 245.67 791.97 Z" fill="#1e1e1e"/>
<path d="M243.3 798.18 A72.65 72.65 0 0 1 242.77 798.04 L244.49 791.67 A66.05 66.05 0 0 0 244.97 791.8 Z" fill="#f6f6f6"/>
<path d="M240.59 797.41 A72.65 72.65 0 0 1 240.01 797.24 L241.98 790.94 A66.05 66.05 0 0 0 242.5 791.1 Z" fill="#1e1e1e"/>
<path d="M239.77 797.16 A72.65 72.65 0 0 1 239.32 797.02 L241.35 790.74 A66.05 66.05 0 0 0 241.76 790.87 Z" fill="#858585"/>
<path d="M238.37 796.7 A72.65 72.65 0 0 1 237.59 796.43 L239.78 790.21 A66.05 66.05 0 0 0 240.49 790.45 Z" fill="#1e1e1e"/>
<path d="M237.26 796.31 A72.65 72.65 0 0 1 236.62 796.08 L238.9 789.89 A66.05 66.05 0 0 0 239.48 790.1 Z" fill="#858585"/>
<path d="M235.28 795.57 A72.65 72.65 0 0 1 234.45 795.25 L236.93 789.13 A66.05 66.05 0 0 0 237.68 789.43 Z" fill="#1e1e1e"/>
<path d="M233.46 794.84 A72.65 72.65 0 0 1 233.16 794.71 L235.75 788.64 A66.05 66.05 0 0 0 236.02 788.75 Z" fill="#858585"/>
<path d="M231.36 793.91 A72.65 72.65 0 0 1 230.93 793.71 L233.73 787.73 A66.05 66.05 0 0 0 234.12 787.91 Z" fill="#1e1e1e"/>
<path d="M230.75 793.63 A72.65 72.65 0 0 1 229.93 793.24 L232.82 787.3 A66.05 66.05 0 0 0 233.56 787.65 Z" fill="#1e1e1e"/>
<path d="M229.59 793.07 A72.65 72.65 0 0 1 229.2 792.87 L232.15 786.97 A66.05 66.05 0 0 0 232.51 787.15 Z" fill="#1e1e1e"/>
<path d="M229.03 792.79 A72.65 72.65 0 0 1 228.28 792.41 L231.32 786.55 A66.05 66.05 0 0 0 232 786.9 Z" fill="#f6f6f6"/>
<path d="M227.96 792.24 A72.65 72.65 0 0 1 227.6 792.05 L230.7 786.22 A66.05 66.05 0 0 0 231.02 786.39 Z" fill="#1e1e1e"/>
<path d="M227.44 791.97 A72.65 72.65 0 0 1 226.92 791.68 L230.08 785.89 A66.05 66.05 0 0 0 230.56 786.15 Z" fill="#1e1e1e"/>
<path d="M226.69 791.56 A72.65 72.65 0 0 1 226.44 791.42 L229.64 785.65 A66.05 66.05 0 0 0 229.87 785.78 Z" fill="#f6f6f6"/>
<path d="M226.33 791.36 A72.65 72.65 0 0 1 226.12 791.24 L229.35 785.49 A66.05 66.05 0 0 0 229.54 785.59 Z" fill="#f6f6f6"/>
<path d="M243.39 798.2 A72.65 72.65 0 0 1 242.65 798.01 L244.38 791.64 A66.05 66.05 0 0 0 245.05 791.82 Z" fill="#c83a3a"/>
<path d="M249.47 799.51 A72.65 72.65 0 0 1 226.12 791.24 L229.35 785.49 A66.05 66.05 0 0 0 250.58 793.01 Z" fill="none" stroke="#6e6e6e" stroke-width="0.5"/>
<text x="236.12" y="802.2" font-size="5.9" fill="#111" text-anchor="middle" transform="rotate(19.51 236.12 800.1)">5</text>
<path d="M225.02 790.61 A72.65 72.65 0 0 1 206.95 775.66 L211.93 771.32 A66.05 66.05 0 0 0 228.35 784.91 Z" fill="#dadada"/>
<path d="M225.02 790.61 A72.65 72.65 0 0 1 224.66 790.4 L228.03 784.72 A66.05 66.05 0 0 0 228.35 784.91 Z" fill="#f6f6f6"/>
<path d="M224.51 790.31 A72.65 72.65 0 0 1 223.9 789.94 L227.33 784.3 A66.05 66.05 0 0 0 227.89 784.64 Z" fill="#858585"/>
<path d="M223.14 789.47 A72.65 72.65 0 0 1 222.55 789.1 L226.11 783.54 A66.05 66.05 0 0 0 226.65 783.88 Z" fill="#1e1e1e"/>
<path d="M222.29 788.93 A72.65 72.65 0 0 1 221.73 788.57 L225.36 783.06 A66.05 66.05 0 0 0 225.87 783.39 Z" fill="#d88a8a"/>
<path d="M220.59 787.8 A72.65 72.65 0 0 1 219.83 787.27 L223.63 781.87 A66.05 66.05 0 0 0 224.32 782.36 Z" fill="#d88a8a"/>
<path d="M219.5 787.04 A72.65 72.65 0 0 1 218.73 786.48 L222.64 781.16 A66.05 66.05 0 0 0 223.33 781.66 Z" fill="#f6f6f6"/>
<path d="M217.88 785.84 A72.65 72.65 0 0 1 217.5 785.56 L221.52 780.32 A66.05 66.05 0 0 0 221.86 780.58 Z" fill="#1e1e1e"/>
<path d="M217.34 785.44 A72.65 72.65 0 0 1 217.05 785.21 L221.1 780 A66.05 66.05 0 0 0 221.37 780.21 Z" fill="#f6f6f6"/>
<path d="M216.92 785.11 A72.65 72.65 0 0 1 216.21 784.55 L220.34 779.4 A66.05 66.05 0 0 0 220.99 779.91 Z" fill="#858585"/>
<path d="M214.88 783.45 A72.65 72.65 0 0 1 214.54 783.16 L218.82 778.14 A66.05 66.05 0 0 0 219.14 778.41 Z" fill="#f6f6f6"/>
<path d="M214.39 783.03 A72.65 72.65 0 0 1 213.87 782.58 L218.21 777.61 A66.05 66.05 0 0 0 218.68 778.02 Z" fill="#f6f6f6"/>
<path d="M213.64 782.39 A72.65 72.65 0 0 1 213.08 781.89 L217.5 776.98 A66.05 66.05 0 0 0 218.01 777.44 Z" fill="#1e1e1e"/>
<path d="M212.85 781.67 A72.65 72.65 0 0 1 212.29 781.16 L216.78 776.32 A66.05 66.05 0 0 0 217.28 776.79 Z" fill="#1e1e1e"/>
<path d="M212.05 780.94 A72.65 72.65 0 0 1 211.6 780.51 L216.15 775.73 A66.05 66.05 0 0 0 216.56 776.12 Z" fill="#f6f6f6"/>
<path d="M211.4 780.32 A72.65 72.65 0 0 1 211.14 780.07 L215.74 775.33 A66.05 66.05 0 0 0 215.97 775.56 Z" fill="#f6f6f6"/>
<path d="M211.03 779.96 A72.65 72.65 0 0 1 210.55 779.49 L215.2 774.81 A66.05 66.05 0 0 0 215.63 775.23 Z" fill="#1e1e1e"/>
<path d="M210.35 779.29 A72.65 72.65 0 0 1 209.78 778.72 L214.5 774.1 A66.05 66.05 0 0 0 215.01 774.62 Z" fill="#1e1e1e"/>
<path d="M209.54 778.47 A72.65 72.65 0 0 1 208.91 777.82 L213.71 773.28 A66.05 66.05 0 0 0 214.28 773.88 Z" fill="#1e1e1e"/>
<path d="M208.65 777.53 A72.65 72.65 0 0 1 208.08 776.92 L212.95 772.47 A66.05 66.05 0 0 0 213.47 773.02 Z" fill="#f6f6f6"/>
<path d="M207.84 776.65 A72.65 72.65 0 0 1 207.58 776.37 L212.5 771.96 A66.05 66.05 0 0 0 212.73 772.23 Z" fill="#858585"/>
<path d="M207.47 776.24 A72.65 72.65 0 0 1 206.95 775.66 L211.93 771.32 A66.05 66.05 0 0 0 212.4 771.85 Z" fill="#f6f6f6"/>
<path d="M218.45 786.27 A72.65 72.65 0 0 1 217.84 785.81 L221.82 780.55 A66.05 66.05 0 0 0 222.38 780.97 Z" fill="#c83a3a"/>
<path d="M225.02 790.61 A72.65 72.65 0 0 1 206.95 775.66 L211.93 771.32 A66.05 66.05 0 0 0 228.35 784.91 Z" fill="none" stroke="#6e6e6e" stroke-width="0.5"/>
<text x="212.86" y="789.01" font-size="5.9" fill="#111" text-anchor="middle" transform="rotate(39.61 212.86 786.91)">6</text>
<path d="M206.13 774.7 A72.65 72.65 0 0 1 194.74 756.08 L200.82 753.52 A66.05 66.05 0 0 0 211.18 770.44 Z" fill="#dadada"/>
<path d="M206.13 774.7 A72.65 72.65 0 0 1 205.76 774.25 L210.84 770.04 A66.05 66.05 0 0 0 211.18 770.44 Z" fill="#f6f6f6"/>
<path d="M204.84 773.12 A72.65 72.65 0 0 1 204.5 772.69 L209.7 768.62 A66.05 66.05 0 0 0 210 769.01 Z" fill="#f6f6f6"/>
<path d="M204.36 772.51 A72.65 72.65 0 0 1 203.86 771.86 L209.12 767.87 A66.05 66.05 0 0 0 209.57 768.46 Z" fill="#1e1e1e"/>
<path d="M203.65 771.58 A72.65 72.65 0 0 1 203.1 770.84 L208.42 766.94 A66.05 66.05 0 0 0 208.92 767.61 Z" fill="#1e1e1e"/>
<path d="M202.87 770.52 A72.65 72.65 0 0 1 202.34 769.79 L207.74 765.99 A66.05 66.05 0 0 0 208.21 766.65 Z" fill="#1e1e1e"/>
<path d="M202.12 769.48 A72.65 72.65 0 0 1 201.63 768.76 L207.09 765.05 A66.05 66.05 0 0 0 207.54 765.7 Z" fill="#f6f6f6"/>
<path d="M201.42 768.45 A72.65 72.65 0 0 1 201.03 767.87 L206.55 764.24 A66.05 66.05 0 0 0 206.89 764.76 Z" fill="#f6f6f6"/>
<path d="M200.87 767.62 A72.65 72.65 0 0 1 200.36 766.83 L205.93 763.29 A66.05 66.05 0 0 0 206.4 764.01 Z" fill="#858585"/>
<path d="M200.14 766.48 A72.65 72.65 0 0 1 199.66 765.71 L205.3 762.27 A66.05 66.05 0 0 0 205.74 762.98 Z" fill="#1e1e1e"/>
<path d="M199.46 765.37 A72.65 72.65 0 0 1 199.22 764.97 L204.9 761.6 A66.05 66.05 0 0 0 205.12 761.97 Z" fill="#f6f6f6"/>
<path d="M198.62 763.93 A72.65 72.65 0 0 1 198.22 763.24 L203.99 760.03 A66.05 66.05 0 0 0 204.35 760.66 Z" fill="#858585"/>
<path d="M198.06 762.94 A72.65 72.65 0 0 1 197.81 762.49 L203.62 759.35 A66.05 66.05 0 0 0 203.84 759.76 Z" fill="#858585"/>
<path d="M197.41 761.74 A72.65 72.65 0 0 1 197.01 760.96 L202.88 757.96 A66.05 66.05 0 0 0 203.25 758.67 Z" fill="#f6f6f6"/>
<path d="M196.84 760.62 A72.65 72.65 0 0 1 196.55 760.05 L202.47 757.13 A66.05 66.05 0 0 0 202.73 757.65 Z" fill="#1e1e1e"/>
<path d="M196.43 759.8 A72.65 72.65 0 0 1 196.06 759.03 L202.02 756.2 A66.05 66.05 0 0 0 202.36 756.9 Z" fill="#f6f6f6"/>
<path d="M195.65 758.15 A72.65 72.65 0 0 1 195.38 757.55 L201.4 754.86 A66.05 66.05 0 0 0 201.65 755.4 Z" fill="#1e1e1e"/>
<path d="M195.26 757.29 A72.65 72.65 0 0 1 195.01 756.72 L201.07 754.1 A66.05 66.05 0 0 0 201.3 754.62 Z" fill="#1e1e1e"/>
<path d="M194.9 756.47 A72.65 72.65 0 0 1 194.78 756.18 L200.86 753.61 A66.05 66.05 0 0 0 200.97 753.87 Z" fill="#858585"/>
<path d="M201.39 768.41 A72.65 72.65 0 0 1 200.97 767.77 L206.49 764.15 A66.05 66.05 0 0 0 206.87 764.73 Z" fill="#c83a3a"/>
<path d="M206.13 774.7 A72.65 72.65 0 0 1 194.74 756.08 L200.82 753.52 A66.05 66.05 0 0 0 211.18 770.44 Z" fill="none" stroke="#6e6e6e" stroke-width="0.5"/>
<text x="196.36" y="769.98" font-size="5.9" fill="#111" text-anchor="middle" transform="rotate(58.54 196.36 767.88)">7</text>
<path d="M194.26 754.91 A72.65 72.65 0 0 1 189.44 735.42 L196 734.74 A66.05 66.05 0 0 0 200.39 752.46 Z" fill="#dadada"/>
<path d="M194.26 754.91 A72.65 72.65 0 0 1 193.99 754.24 L200.15 751.85 A66.05 66.05 0 0 0 200.39 752.46 Z" fill="#858585"/>
<path d="M193.88 753.96 A72.65 72.65 0 0 1 193.62 753.25 L199.8 750.95 A66.05 66.05 0 0 0 200.04 751.59 Z" fill="#f6f6f6"/>
<path d="M193.5 752.94 A72.65 72.65 0 0 1 193.31 752.4 L199.52 750.18 A66.05 66.05 0 0 0 199.7 750.67 Z" fill="#1e1e1e"/>
<path d="M193.22 752.17 A72.65 72.65 0 0 1 193.04 751.65 L199.28 749.49 A66.05 66.05 0 0 0 199.44 749.97 Z" fill="#f6f6f6"/>
<path d="M192.97 751.43 A72.65 72.65 0 0 1 192.83 751.02 L199.08 748.92 A66.05 66.05 0 0 0 199.21 749.29 Z" fill="#858585"/>
<path d="M192.24 749.19 A72.65 72.65 0 0 1 191.98 748.32 L198.31 746.47 A66.05 66.05 0 0 0 198.55 747.25 Z" fill="#d88a8a"/>
<path d="M191.87 747.95 A72.65 72.65 0 0 1 191.64 747.11 L198 745.36 A66.05 66.05 0 0 0 198.22 746.13 Z" fill="#1e1e1e"/>
<path d="M191.54 746.75 A72.65 72.65 0 0 1 191.41 746.25 L197.79 744.58 A66.05 66.05 0 0 0 197.91 745.03 Z" fill="#1e1e1e"/>
<path d="M191.35 746.03 A72.65 72.65 0 0 1 191.24 745.59 L197.64 743.98 A66.05 66.05 0 0 0 197.74 744.39 Z" fill="#858585"/>
<path d="M190.98 744.52 A72.65 72.65 0 0 1 190.86 744.03 L197.3 742.57 A66.05 66.05 0 0 0 197.4 743.01 Z" fill="#858585"/>
<path d="M190.82 743.82 A72.65 72.65 0 0 1 190.63 742.96 L197.08 741.59 A66.05 66.05 0 0 0 197.26 742.38 Z" fill="#1e1e1e"/>
<path d="M190.55 742.59 A72.65 72.65 0 0 1 190.49 742.29 L196.96 740.99 A66.05 66.05 0 0 0 197.01 741.25 Z" fill="#1e1e1e"/>
<path d="M190.24 741.02 A72.65 72.65 0 0 1 190.12 740.34 L196.63 739.21 A66.05 66.05 0 0 0 196.74 739.83 Z" fill="#1e1e1e"/>
<path d="M190.07 740.05 A72.65 72.65 0 0 1 189.95 739.27 L196.46 738.24 A66.05 66.05 0 0 0 196.58 738.95 Z" fill="#1e1e1e"/>
<path d="M189.72 737.78 A72.65 72.65 0 0 1 189.62 736.96 L196.17 736.13 A66.05 66.05 0 0 0 196.26 736.88 Z" fill="#1e1e1e"/>
<path d="M189.57 736.61 A72.65 72.65 0 0 1 189.52 736.12 L196.07 735.38 A66.05 66.05 0 0 0 196.13 735.81 Z" fill="#858585"/>
<path d="M192.32 749.44 A72.65 72.65 0 0 1 192.09 748.71 L198.42 746.82 A66.05 66.05 0 0 0 198.62 747.48 Z" fill="#c83a3a"/>
<path d="M194.26 754.91 A72.65 72.65 0 0 1 189.44 735.42 L196 734.74 A66.05 66.05 0 0 0 200.39 752.46 Z" fill="none" stroke="#6e6e6e" stroke-width="0.5"/>
<text x="187.34" y="748.38" font-size="5.9" fill="#111" text-anchor="middle" transform="rotate(76.12 187.34 746.28)">8</text>
<path d="M189.32 734.16 A72.65 72.65 0 0 1 190.24 714.8 L196.73 715.99 A66.05 66.05 0 0 0 195.9 733.59 Z" fill="#dadada"/>
<path d="M189.22 732.81 A72.65 72.65 0 0 1 189.19 732.34 L195.77 731.94 A66.05 66.05 0 0 0 195.8 732.37 Z" fill="#f6f6f6"/>
<path d="M189.11 730.9 A72.65 72.65 0 0 1 189.08 730.02 L195.68 729.82 A66.05 66.05 0 0 0 195.71 730.63 Z" fill="#f6f6f6"/>
<path d="M189.07 729.64 A72.65 72.65 0 0 1 189.06 729.23 L195.66 729.11 A66.05 66.05 0 0 0 195.67 729.48 Z" fill="#f6f6f6"/>
<path d="M189.06 729.06 A72.65 72.65 0 0 1 189.05 728.71 L195.65 728.63 A66.05 66.05 0 0 0 195.66 728.95 Z" fill="#1e1e1e"/>
<path d="M189.05 728.56 A72.65 72.65 0 0 1 189.05 728.1 L195.65 728.08 A66.05 66.05 0 0 0 195.65 728.5 Z" fill="#f6f6f6"/>
<path d="M189.05 727.91 A72.65 72.65 0 0 1 189.05 727.15 L195.65 727.22 A66.05 66.05 0 0 0 195.65 727.9 Z" fill="#f6f6f6"/>
<path d="M189.06 726.83 A72.65 72.65 0 0 1 189.07 726.13 L195.67 726.29 A66.05 66.05 0 0 0 195.66 726.93 Z" fill="#858585"/>
<path d="M189.08 725.83 A72.65 72.65 0 0 1 189.11 724.93 L195.71 725.2 A66.05 66.05 0 0 0 195.68 726.02 Z" fill="#f6f6f6"/>
<path d="M189.13 724.54 A72.65 72.65 0 0 1 189.16 723.88 L195.75 724.24 A66.05 66.05 0 0 0 195.72 724.85 Z" fill="#1e1e1e"/>
<path d="M189.23 722.79 A72.65 72.65 0 0 1 189.28 722.16 L195.86 722.69 A66.05 66.05 0 0 0 195.81 723.26 Z" fill="#858585"/>
<path d="M189.35 721.3 A72.65 72.65 0 0 1 189.41 720.72 L195.97 721.37 A66.05 66.05 0 0 0 195.92 721.9 Z" fill="#858585"/>
<path d="M189.43 720.47 A72.65 72.65 0 0 1 189.5 719.84 L196.06 720.57 A66.05 66.05 0 0 0 196 721.14 Z" fill="#d88a8a"/>
<path d="M189.53 719.58 A72.65 72.65 0 0 1 189.6 718.97 L196.15 719.78 A66.05 66.05 0 0 0 196.09 720.33 Z" fill="#858585"/>
<path d="M189.63 718.71 A72.65 72.65 0 0 1 189.7 718.19 L196.24 719.07 A66.05 66.05 0 0 0 196.18 719.54 Z" fill="#1e1e1e"/>
<path d="M189.73 717.96 A72.65 72.65 0 0 1 189.83 717.29 L196.36 718.26 A66.05 66.05 0 0 0 196.27 718.87 Z" fill="#f6f6f6"/>
<path d="M189.87 717.01 A72.65 72.65 0 0 1 190.01 716.16 L196.52 717.23 A66.05 66.05 0 0 0 196.4 718 Z" fill="#1e1e1e"/>
<path d="M190.16 715.24 A72.65 72.65 0 0 1 190.24 714.8 L196.73 715.99 A66.05 66.05 0 0 0 196.66 716.39 Z" fill="#1e1e1e"/>
<path d="M189.05 727.8 A72.65 72.65 0 0 1 189.06 727.04 L195.65 727.12 A66.05 66.05 0 0 0 195.65 727.81 Z" fill="#c83a3a"/>
<path d="M189.32 734.16 A72.65 72.65 0 0 1 190.24 714.8 L196.73 715.99 A66.05 66.05 0 0 0 195.9 733.59 Z" fill="none" stroke="#6e6e6e" stroke-width="0.5"/>
<text x="185.19" y="726.36" font-size="5.9" fill="#111" text-anchor="middle" transform="rotate(-87.28 185.19 724.26)">9</text>
<path d="M190.48 713.56 A72.65 72.65 0 0 1 196.46 695.94 L202.38 698.85 A66.05 66.05 0 0 0 196.95 714.86 Z" fill="#dadada"/>
<path d="M190.48 713.56 A72.65 72.65 0 0 1 190.55 713.23 L197.01 714.57 A66.05 66.05 0 0 0 196.95 714.86 Z" fill="#1e1e1e"/>
<path d="M190.83 711.91 A72.65 72.65 0 0 1 191.01 711.13 L197.43 712.65 A66.05 66.05 0 0 0 197.27 713.36 Z" fill="#f6f6f6"/>
<path d="M191.23 710.22 A72.65 72.65 0 0 1 191.47 709.3 L197.85 710.99 A66.05 66.05 0 0 0 197.64 711.83 Z" fill="#858585"/>
<path d="M191.58 708.91 A72.65 72.65 0 0 1 191.75 708.28 L198.1 710.06 A66.05 66.05 0 0 0 197.95 710.63 Z" fill="#1e1e1e"/>
<path d="M191.83 708.01 A72.65 72.65 0 0 1 192.03 707.29 L198.36 709.17 A66.05 66.05 0 0 0 198.17 709.81 Z" fill="#f6f6f6"/>
<path d="M192.25 706.57 A72.65 72.65 0 0 1 192.46 705.91 L198.75 707.91 A66.05 66.05 0 0 0 198.56 708.51 Z" fill="#1e1e1e"/>
<path d="M192.55 705.63 A72.65 72.65 0 0 1 192.64 705.34 L198.92 707.39 A66.05 66.05 0 0 0 198.83 707.65 Z" fill="#1e1e1e"/>
<path d="M193.11 703.96 A72.65 72.65 0 0 1 193.39 703.17 L199.6 705.41 A66.05 66.05 0 0 0 199.34 706.14 Z" fill="#f6f6f6"/>
<path d="M193.51 702.83 A72.65 72.65 0 0 1 193.65 702.46 L199.83 704.77 A66.05 66.05 0 0 0 199.71 705.11 Z" fill="#1e1e1e"/>
<path d="M194.02 701.5 A72.65 72.65 0 0 1 194.22 700.99 L200.35 703.43 A66.05 66.05 0 0 0 200.17 703.9 Z" fill="#1e1e1e"/>
<path d="M194.31 700.77 A72.65 72.65 0 0 1 194.53 700.23 L200.63 702.74 A66.05 66.05 0 0 0 200.43 703.23 Z" fill="#f6f6f6"/>
<path d="M194.62 700 A72.65 72.65 0 0 1 194.98 699.15 L201.04 701.76 A66.05 66.05 0 0 0 200.72 702.53 Z" fill="#1e1e1e"/>
<path d="M195.14 698.79 A72.65 72.65 0 0 1 195.37 698.26 L201.4 700.95 A66.05 66.05 0 0 0 201.18 701.44 Z" fill="#858585"/>
<path d="M195.47 698.03 A72.65 72.65 0 0 1 195.81 697.29 L201.8 700.07 A66.05 66.05 0 0 0 201.49 700.75 Z" fill="#1e1e1e"/>
<path d="M196.45 695.96 A72.65 72.65 0 0 1 196.46 695.94 L202.38 698.85 A66.05 66.05 0 0 0 202.37 698.86 Z" fill="#f6f6f6"/>
<path d="M191.67 708.57 A72.65 72.65 0 0 1 191.87 707.84 L198.22 709.66 A66.05 66.05 0 0 0 198.03 710.33 Z" fill="#c83a3a"/>
<path d="M190.48 713.56 A72.65 72.65 0 0 1 196.46 695.94 L202.38 698.85 A66.05 66.05 0 0 0 196.95 714.86 Z" fill="none" stroke="#6e6e6e" stroke-width="0.5"/>
<text x="189.16" y="705.39" font-size="5.9" fill="#111" text-anchor="middle" transform="rotate(-71.26 189.16 703.29)">10</text>
<path d="M197.02 694.81 A72.65 72.65 0 0 1 207.5 679.52 L212.42 683.92 A66.05 66.05 0 0 0 202.9 697.82 Z" fill="#dadada"/>
<path d="M197.02 694.81 A72.65 72.65 0 0 1 197.33 694.22 L203.18 697.28 A66.05 66.05 0 0 0 202.9 697.82 Z" fill="#1e1e1e"/>
<path d="M197.46 693.97 A72.65 72.65 0 0 1 197.68 693.56 L203.49 696.68 A66.05 66.05 0 0 0 203.29 697.05 Z" fill="#858585"/>
<path d="M198.7 691.73 A72.65 72.65 0 0 1 198.95 691.29 L204.65 694.62 A66.05 66.05 0 0 0 204.42 695.01 Z" fill="#f6f6f6"/>
<path d="M199.63 690.14 A72.65 72.65 0 0 1 199.84 689.8 L205.46 693.26 A66.05 66.05 0 0 0 205.27 693.57 Z" fill="#858585"/>
<path d="M199.93 689.66 A72.65 72.65 0 0 1 200.13 689.33 L205.73 692.84 A66.05 66.05 0 0 0 205.54 693.13 Z" fill="#1e1e1e"/>
<path d="M200.22 689.19 A72.65 72.65 0 0 1 200.61 688.58 L206.16 692.15 A66.05 66.05 0 0 0 205.81 692.71 Z" fill="#1e1e1e"/>
<path d="M201.38 687.41 A72.65 72.65 0 0 1 201.91 686.64 L207.34 690.39 A66.05 66.05 0 0 0 206.86 691.09 Z" fill="#f6f6f6"/>
<path d="M202.13 686.31 A72.65 72.65 0 0 1 202.52 685.76 L207.9 689.59 A66.05 66.05 0 0 0 207.54 690.09 Z" fill="#858585"/>
<path d="M202.69 685.53 A72.65 72.65 0 0 1 203.13 684.92 L208.45 688.83 A66.05 66.05 0 0 0 208.05 689.38 Z" fill="#858585"/>
<path d="M203.32 684.66 A72.65 72.65 0 0 1 203.61 684.27 L208.88 688.24 A66.05 66.05 0 0 0 208.62 688.59 Z" fill="#f6f6f6"/>
<path d="M203.73 684.11 A72.65 72.65 0 0 1 203.94 683.83 L209.19 687.83 A66.05 66.05 0 0 0 209 688.09 Z" fill="#1e1e1e"/>
<path d="M204.34 683.31 A72.65 72.65 0 0 1 204.91 682.6 L210.07 686.71 A66.05 66.05 0 0 0 209.55 687.36 Z" fill="#f6f6f6"/>
<path d="M206.39 680.79 A72.65 72.65 0 0 1 206.7 680.43 L211.7 684.74 A66.05 66.05 0 0 0 211.42 685.07 Z" fill="#f6f6f6"/>
<path d="M206.84 680.27 A72.65 72.65 0 0 1 207.25 679.8 L212.2 684.17 A66.05 66.05 0 0 0 211.82 684.6 Z" fill="#f6f6f6"/>
<path d="M207.43 679.6 A72.65 72.65 0 0 1 207.5 679.52 L212.42 683.92 A66.05 66.05 0 0 0 212.36 683.99 Z" fill="#f6f6f6"/>
<path d="M200.46 688.81 A72.65 72.65 0 0 1 200.87 688.17 L206.4 691.78 A66.05 66.05 0 0 0 206.02 692.36 Z" fill="#c83a3a"/>
<path d="M197.02 694.81 A72.65 72.65 0 0 1 207.5 679.52 L212.42 683.92 A66.05 66.05 0 0 0 202.9 697.82 Z" fill="none" stroke="#6e6e6e" stroke-width="0.5"/>
<text x="198.51" y="686.7" font-size="5.9" fill="#111" text-anchor="middle" transform="rotate(-55.58 198.51 684.6)">11</text>
<path d="M208.35 678.59 A72.65 72.65 0 0 1 222.43 666.78 L225.99 672.33 A66.05 66.05 0 0 0 213.2 683.07 Z" fill="#dadada"/>
<path d="M208.35 678.59 A72.65 72.65 0 0 1 208.93 677.97 L213.72 682.51 A66.05 66.05 0 0 0 213.2 683.07 Z" fill="#1e1e1e"/>
<path d="M209.17 677.71 A72.65 72.65 0 0 1 209.41 677.47 L214.16 682.05 A66.05 66.05 0 0 0 213.95 682.27 Z" fill="#f6f6f6"/>
<path d="M209.51 677.36 A72.65 72.65 0 0 1 210.17 676.69 L214.85 681.34 A66.05 66.05 0 0 0 214.25 681.95 Z" fill="#1e1e1e"/>
<path d="M210.46 676.4 A72.65 72.65 0 0 1 210.93 675.94 L215.54 680.66 A66.05 66.05 0 0 0 215.11 681.08 Z" fill="#f6f6f6"/>
<path d="M211.13 675.74 A72.65 72.65 0 0 1 211.45 675.43 L216.01 680.2 A66.05 66.05 0 0 0 215.72 680.48 Z" fill="#858585"/>
<path d="M212.84 674.13 A72.65 72.65 0 0 1 213.41 673.62 L217.79 678.56 A66.05 66.05 0 0 0 217.28 679.02 Z" fill="#858585"/>
<path d="M213.65 673.41 A72.65 72.65 0 0 1 214.3 672.84 L218.61 677.84 A66.05 66.05 0 0 0 218.02 678.36 Z" fill="#f6f6f6"/>
<path d="M214.58 672.6 A72.65 72.65 0 0 1 215.12 672.15 L219.35 677.21 A66.05 66.05 0 0 0 218.86 677.62 Z" fill="#858585"/>
<path d="M216.8 670.78 A72.65 72.65 0 0 1 217.17 670.5 L221.21 675.71 A66.05 66.05 0 0 0 220.88 675.97 Z" fill="#1e1e1e"/>
<path d="M218.37 669.59 A72.65 72.65 0 0 1 219.03 669.1 L222.9 674.45 A66.05 66.05 0 0 0 222.3 674.89 Z" fill="#f6f6f6"/>
<path d="M219.31 668.9 A72.65 72.65 0 0 1 219.86 668.51 L223.66 673.9 A66.05 66.05 0 0 0 223.16 674.26 Z" fill="#1e1e1e"/>
<path d="M220.61 667.99 A72.65 72.65 0 0 1 220.88 667.8 L224.59 673.26 A66.05 66.05 0 0 0 224.34 673.43 Z" fill="#f6f6f6"/>
<path d="M220.99 667.73 A72.65 72.65 0 0 1 221.64 667.29 L225.28 672.8 A66.05 66.05 0 0 0 224.69 673.19 Z" fill="#f6f6f6"/>
<path d="M221.92 667.11 A72.65 72.65 0 0 1 222.18 666.94 L225.77 672.48 A66.05 66.05 0 0 0 225.54 672.63 Z" fill="#1e1e1e"/>
<path d="M222.29 666.87 A72.65 72.65 0 0 1 222.43 666.78 L225.99 672.33 A66.05 66.05 0 0 0 225.87 672.42 Z" fill="#1e1e1e"/>
<path d="M211.46 675.42 A72.65 72.65 0 0 1 212.01 674.9 L216.53 679.71 A66.05 66.05 0 0 0 216.02 680.19 Z" fill="#c83a3a"/>
<path d="M208.35 678.59 A72.65 72.65 0 0 1 222.43 666.78 L225.99 672.33 A66.05 66.05 0 0 0 213.2 683.07 Z" fill="none" stroke="#6e6e6e" stroke-width="0.5"/>
<text x="212.48" y="671.31" font-size="5.9" fill="#111" text-anchor="middle" transform="rotate(-39.99 212.48 669.21)">12</text>
<path d="M223.5 666.1 A72.65 72.65 0 0 1 237.78 659.3 L239.95 665.53 A66.05 66.05 0 0 0 226.97 671.72 Z" fill="#dadada"/>
<path d="M223.5 666.1 A72.65 72.65 0 0 1 224.12 665.72 L227.53 671.37 A66.05 66.05 0 0 0 226.97 671.72 Z" fill="#f6f6f6"/>
<path d="M224.39 665.56 A72.65 72.65 0 0 1 224.65 665.4 L228.02 671.08 A66.05 66.05 0 0 0 227.78 671.23 Z" fill="#1e1e1e"/>
<path d="M224.77 665.34 A72.65 72.65 0 0 1 225.59 664.86 L228.87 670.59 A66.05 66.05 0 0 0 228.12 671.02 Z" fill="#1e1e1e"/>
<path d="M225.94 664.66 A72.65 72.65 0 0 1 226.59 664.3 L229.78 670.07 A66.05 66.05 0 0 0 229.19 670.41 Z" fill="#f6f6f6"/>
<path d="M226.88 664.14 A72.65 72.65 0 0 1 227.71 663.69 L230.79 669.53 A66.05 66.05 0 0 0 230.04 669.93 Z" fill="#d88a8a"/>
<path d="M228.06 663.51 A72.65 72.65 0 0 1 228.52 663.27 L231.53 669.14 A66.05 66.05 0 0 0 231.12 669.36 Z" fill="#1e1e1e"/>
<path d="M230.59 662.25 A72.65 72.65 0 0 1 230.95 662.08 L233.75 668.06 A66.05 66.05 0 0 0 233.42 668.21 Z" fill="#d88a8a"/>
<path d="M231.71 661.73 A72.65 72.65 0 0 1 232.14 661.54 L234.82 667.57 A66.05 66.05 0 0 0 234.43 667.74 Z" fill="#1e1e1e"/>
<path d="M232.86 661.22 A72.65 72.65 0 0 1 233.28 661.04 L235.86 667.12 A66.05 66.05 0 0 0 235.48 667.28 Z" fill="#1e1e1e"/>
<path d="M233.45 660.97 A72.65 72.65 0 0 1 233.8 660.82 L236.34 666.91 A66.05 66.05 0 0 0 236.02 667.05 Z" fill="#858585"/>
<path d="M233.96 660.76 A72.65 72.65 0 0 1 234.5 660.53 L236.97 666.65 A66.05 66.05 0 0 0 236.48 666.86 Z" fill="#1e1e1e"/>
<path d="M235.69 660.07 A72.65 72.65 0 0 1 236.48 659.77 L238.77 665.96 A66.05 66.05 0 0 0 238.05 666.23 Z" fill="#d88a8a"/>
<path d="M236.82 659.64 A72.65 72.65 0 0 1 237.2 659.51 L239.43 665.72 A66.05 66.05 0 0 0 239.08 665.84 Z" fill="#f6f6f6"/>
<path d="M237.36 659.45 A72.65 72.65 0 0 1 237.78 659.3 L239.95 665.53 A66.05 66.05 0 0 0 239.57 665.67 Z" fill="#1e1e1e"/>
<path d="M225.18 665.1 A72.65 72.65 0 0 1 225.84 664.72 L229.1 670.46 A66.05 66.05 0 0 0 228.5 670.8 Z" fill="#c83a3a"/>
<path d="M223.5 666.1 A72.65 72.65 0 0 1 237.78 659.3 L239.95 665.53 A66.05 66.05 0 0 0 226.97 671.72 Z" fill="none" stroke="#6e6e6e" stroke-width="0.5"/>
<text x="228.76" y="660.85" font-size="5.9" fill="#111" text-anchor="middle" transform="rotate(-25.47 228.76 658.75)">13</text>
<path d="M238.98 658.89 A72.65 72.65 0 0 1 253.39 655.73 L254.14 662.28 A66.05 66.05 0 0 0 241.05 665.16 Z" fill="#dadada"/>
<path d="M240.68 658.36 A72.65 72.65 0 0 1 241.08 658.24 L242.95 664.57 A66.05 66.05 0 0 0 242.59 664.68 Z" fill="#1e1e1e"/>
<path d="M241.25 658.19 A72.65 72.65 0 0 1 241.76 658.04 L243.57 664.39 A66.05 66.05 0 0 0 243.11 664.52 Z" fill="#1e1e1e"/>
<path d="M241.97 657.98 A72.65 72.65 0 0 1 242.54 657.82 L244.28 664.19 A66.05 66.05 0 0 0 243.77 664.33 Z" fill="#858585"/>
<path d="M243.73 657.51 A72.65 72.65 0 0 1 244.09 657.42 L245.69 663.82 A66.05 66.05 0 0 0 245.36 663.9 Z" fill="#1e1e1e"/>
<path d="M244.25 657.38 A72.65 72.65 0 0 1 244.86 657.23 L246.39 663.65 A66.05 66.05 0 0 0 245.83 663.78 Z" fill="#f6f6f6"/>
<path d="M245.12 657.17 A72.65 72.65 0 0 1 245.53 657.07 L247 663.51 A66.05 66.05 0 0 0 246.62 663.59 Z" fill="#f6f6f6"/>
<path d="M245.71 657.03 A72.65 72.65 0 0 1 246.13 656.94 L247.55 663.38 A66.05 66.05 0 0 0 247.16 663.47 Z" fill="#858585"/>
<path d="M246.31 656.9 A72.65 72.65 0 0 1 246.72 656.81 L248.08 663.27 A66.05 66.05 0 0 0 247.71 663.35 Z" fill="#858585"/>
<path d="M248.88 656.39 A72.65 72.65 0 0 1 249.17 656.34 L250.31 662.84 A66.05 66.05 0 0 0 250.05 662.89 Z" fill="#1e1e1e"/>
<path d="M249.29 656.32 A72.65 72.65 0 0 1 249.9 656.21 L250.97 662.73 A66.05 66.05 0 0 0 250.42 662.82 Z" fill="#1e1e1e"/>
<path d="M250.16 656.17 A72.65 72.65 0 0 1 251.11 656.03 L252.07 662.56 A66.05 66.05 0 0 0 251.21 662.69 Z" fill="#f6f6f6"/>
<path d="M252.83 655.79 A72.65 72.65 0 0 1 253.39 655.73 L254.14 662.28 A66.05 66.05 0 0 0 253.64 662.34 Z" fill="#1e1e1e"/>
<path d="M240.85 658.31 A72.65 72.65 0 0 1 241.58 658.09 L243.41 664.43 A66.05 66.05 0 0 0 242.74 664.63 Z" fill="#c83a3a"/>
<path d="M238.98 658.89 A72.65 72.65 0 0 1 253.39 655.73 L254.14 662.28 A66.05 66.05 0 0 0 241.05 665.16 Z" fill="none" stroke="#6e6e6e" stroke-width="0.5"/>
<text x="245.26" y="655.19" font-size="5.9" fill="#111" text-anchor="middle" transform="rotate(-12.4 245.26 653.09)">14</text>
<path d="M254.65 655.59 A72.65 72.65 0 0 1 268.74 655.59 L268.1 662.16 A66.05 66.05 0 0 0 255.29 662.16 Z" fill="#dadada"/>
<path d="M254.65 655.59 A72.65 72.65 0 0 1 255.07 655.55 L255.67 662.13 A66.05 66.05 0 0 0 255.29 662.16 Z" fill="#1e1e1e"/>
<path d="M255.25 655.54 A72.65 72.65 0 0 1 255.54 655.51 L256.1 662.09 A66.05 66.05 0 0 0 255.83 662.11 Z" fill="#f6f6f6"/>
<path d="M255.66 655.5 A72.65 72.65 0 0 1 256.11 655.47 L256.61 662.05 A66.05 66.05 0 0 0 256.21 662.08 Z" fill="#1e1e1e"/>
<path d="M256.3 655.45 A72.65 72.65 0 0 1 256.95 655.41 L257.38 661.99 A66.05 66.05 0 0 0 256.79 662.03 Z" fill="#f6f6f6"/>
<path d="M257.23 655.39 A72.65 72.65 0 0 1 257.95 655.35 L258.29 661.94 A66.05 66.05 0 0 0 257.64 661.97 Z" fill="#1e1e1e"/>
<path d="M258.26 655.33 A72.65 72.65 0 0 1 258.62 655.32 L258.9 661.91 A66.05 66.05 0 0 0 258.57 661.92 Z" fill="#1e1e1e"/>
<path d="M258.77 655.31 A72.65 72.65 0 0 1 259.08 655.3 L259.32 661.89 A66.05 66.05 0 0 0 259.04 661.9 Z" fill="#1e1e1e"/>
<path d="M259.21 655.29 A72.65 72.65 0 0 1 259.67 655.28 L259.86 661.88 A66.05 66.05 0 0 0 259.44 661.89 Z" fill="#1e1e1e"/>
<path d="M260.62 655.26 A72.65 72.65 0 0 1 261.26 655.25 L261.3 661.85 A66.05 66.05 0 0 0 260.72 661.86 Z" fill="#f6f6f6"/>
<path d="M261.53 655.25 A72.65 72.65 0 0 1 261.96 655.25 L261.94 661.85 A66.05 66.05 0 0 0 261.55 661.85 Z" fill="#858585"/>
<path d="M262.94 655.26 A72.65 72.65 0 0 1 263.66 655.28 L263.48 661.87 A66.05 66.05 0 0 0 262.83 661.86 Z" fill="#1e1e1e"/>
<path d="M263.96 655.29 A72.65 72.65 0 0 1 264.29 655.3 L264.05 661.89 A66.05 66.05 0 0 0 263.76 661.88 Z" fill="#f6f6f6"/>
<path d="M264.43 655.3 A72.65 72.65 0 0 1 265.13 655.33 L264.82 661.92 A66.05 66.05 0 0 0 264.18 661.9 Z" fill="#f6f6f6"/>
<path d="M265.43 655.35 A72.65 72.65 0 0 1 266.37 655.4 L265.95 661.99 A66.05 66.05 0 0 0 265.09 661.94 Z" fill="#f6f6f6"/>
<path d="M266.77 655.43 A72.65 72.65 0 0 1 267.09 655.45 L266.6 662.03 A66.05 66.05 0 0 0 266.31 662.01 Z" fill="#1e1e1e"/>
<path d="M267.23 655.46 A72.65 72.65 0 0 1 267.83 655.51 L267.28 662.09 A66.05 66.05 0 0 0 266.73 662.04 Z" fill="#f6f6f6"/>
<path d="M268.09 655.53 A72.65 72.65 0 0 1 268.7 655.59 L268.07 662.16 A66.05 66.05 0 0 0 267.51 662.11 Z" fill="#1e1e1e"/>
<path d="M256.87 655.41 A72.65 72.65 0 0 1 257.63 655.36 L258 661.95 A66.05 66.05 0 0 0 257.31 662 Z" fill="#c83a3a"/>
<path d="M254.65 655.59 A72.65 72.65 0 0 1 268.74 655.59 L268.1 662.16 A66.05 66.05 0 0 0 255.29 662.16 Z" fill="none" stroke="#6e6e6e" stroke-width="0.5"/>
<text x="261.69" y="653.4" font-size="5.9" fill="#111" text-anchor="middle" transform="rotate(-0.01 261.69 651.3)">15</text>
<path d="M270 655.73 A72.65 72.65 0 0 1 282.17 658.19 L280.31 664.53 A66.05 66.05 0 0 0 269.24 662.28 Z" fill="#dadada"/>
<path d="M270 655.73 A72.65 72.65 0 0 1 270.56 655.79 L269.75 662.34 A66.05 66.05 0 0 0 269.24 662.28 Z" fill="#858585"/>
<path d="M270.8 655.82 A72.65 72.65 0 0 1 271.1 655.86 L270.24 662.4 A66.05 66.05 0 0 0 269.97 662.37 Z" fill="#f6f6f6"/>
<path d="M271.22 655.88 A72.65 72.65 0 0 1 271.54 655.92 L270.65 662.46 A66.05 66.05 0 0 0 270.36 662.42 Z" fill="#1e1e1e"/>
<path d="M271.68 655.94 A72.65 72.65 0 0 1 272.13 656 L271.19 662.53 A66.05 66.05 0 0 0 270.77 662.48 Z" fill="#f6f6f6"/>
<path d="M272.33 656.03 A72.65 72.65 0 0 1 272.68 656.08 L271.68 662.61 A66.05 66.05 0 0 0 271.36 662.56 Z" fill="#1e1e1e"/>
<path d="M272.83 656.11 A72.65 72.65 0 0 1 273.17 656.16 L272.13 662.68 A66.05 66.05 0 0 0 271.82 662.63 Z" fill="#1e1e1e"/>
<path d="M274.2 656.33 A72.65 72.65 0 0 1 274.55 656.4 L273.38 662.89 A66.05 66.05 0 0 0 273.07 662.84 Z" fill="#f6f6f6"/>
<path d="M274.7 656.42 A72.65 72.65 0 0 1 275.51 656.57 L274.26 663.05 A66.05 66.05 0 0 0 273.52 662.92 Z" fill="#858585"/>
<path d="M275.86 656.64 A72.65 72.65 0 0 1 276.41 656.76 L275.08 663.22 A66.05 66.05 0 0 0 274.57 663.12 Z" fill="#1e1e1e"/>
<path d="M276.65 656.8 A72.65 72.65 0 0 1 277.23 656.93 L275.82 663.38 A66.05 66.05 0 0 0 275.29 663.26 Z" fill="#f6f6f6"/>
<path d="M277.48 656.99 A72.65 72.65 0 0 1 278.25 657.16 L276.74 663.59 A66.05 66.05 0 0 0 276.05 663.43 Z" fill="#1e1e1e"/>
<path d="M278.57 657.24 A72.65 72.65 0 0 1 279.41 657.44 L277.8 663.84 A66.05 66.05 0 0 0 277.04 663.66 Z" fill="#f6f6f6"/>
<path d="M279.76 657.53 A72.65 72.65 0 0 1 280.12 657.62 L278.45 664.01 A66.05 66.05 0 0 0 278.12 663.92 Z" fill="#1e1e1e"/>
<path d="M280.28 657.67 A72.65 72.65 0 0 1 280.56 657.74 L278.85 664.12 A66.05 66.05 0 0 0 278.59 664.05 Z" fill="#858585"/>
<path d="M280.69 657.78 A72.65 72.65 0 0 1 281.06 657.88 L279.3 664.24 A66.05 66.05 0 0 0 278.96 664.15 Z" fill="#1e1e1e"/>
<path d="M281.22 657.92 A72.65 72.65 0 0 1 281.93 658.12 L280.09 664.46 A66.05 66.05 0 0 0 279.45 664.28 Z" fill="#1e1e1e"/>
<path d="M274.52 656.39 A72.65 72.65 0 0 1 275.27 656.53 L274.04 663.01 A66.05 66.05 0 0 0 273.36 662.89 Z" fill="#c83a3a"/>
<path d="M270 655.73 A72.65 72.65 0 0 1 282.17 658.19 L280.31 664.53 A66.05 66.05 0 0 0 269.24 662.28 Z" fill="none" stroke="#6e6e6e" stroke-width="0.5"/>
<text x="276.92" y="654.93" font-size="5.9" fill="#111" text-anchor="middle" transform="rotate(11.46 276.92 652.83)">16</text>
<path d="M283.38 658.56 A72.65 72.65 0 0 1 293.75 662.7 L290.84 668.62 A66.05 66.05 0 0 0 281.41 664.86 Z" fill="#dadada"/>
<path d="M283.8 658.69 A72.65 72.65 0 0 1 284.08 658.78 L282.05 665.06 A66.05 66.05 0 0 0 281.79 664.98 Z" fill="#858585"/>
<path d="M285.33 659.2 A72.65 72.65 0 0 1 285.75 659.35 L283.56 665.57 A66.05 66.05 0 0 0 283.19 665.44 Z" fill="#f6f6f6"/>
<path d="M285.93 659.41 A72.65 72.65 0 0 1 286.21 659.51 L283.98 665.72 A66.05 66.05 0 0 0 283.73 665.63 Z" fill="#f6f6f6"/>
<path d="M287.15 659.85 A72.65 72.65 0 0 1 287.82 660.11 L285.44 666.27 A66.05 66.05 0 0 0 284.84 666.03 Z" fill="#1e1e1e"/>
<path d="M288.1 660.22 A72.65 72.65 0 0 1 288.9 660.54 L286.43 666.66 A66.05 66.05 0 0 0 285.7 666.37 Z" fill="#1e1e1e"/>
<path d="M289.92 660.95 A72.65 72.65 0 0 1 290.52 661.21 L287.9 667.27 A66.05 66.05 0 0 0 287.36 667.04 Z" fill="#d88a8a"/>
<path d="M290.78 661.32 A72.65 72.65 0 0 1 291.45 661.62 L288.75 667.64 A66.05 66.05 0 0 0 288.14 667.37 Z" fill="#f6f6f6"/>
<path d="M291.74 661.75 A72.65 72.65 0 0 1 292.26 661.99 L289.49 667.98 A66.05 66.05 0 0 0 289.01 667.76 Z" fill="#f6f6f6"/>
<path d="M292.49 662.1 A72.65 72.65 0 0 1 292.78 662.23 L289.95 668.2 A66.05 66.05 0 0 0 289.69 668.08 Z" fill="#1e1e1e"/>
<path d="M292.9 662.29 A72.65 72.65 0 0 1 293.51 662.58 L290.62 668.52 A66.05 66.05 0 0 0 290.07 668.25 Z" fill="#858585"/>
<path d="M286.15 659.49 A72.65 72.65 0 0 1 286.87 659.75 L284.58 665.94 A66.05 66.05 0 0 0 283.93 665.7 Z" fill="#c83a3a"/>
<path d="M283.38 658.56 A72.65 72.65 0 0 1 293.75 662.7 L290.84 668.62 A66.05 66.05 0 0 0 281.41 664.86 Z" fill="none" stroke="#6e6e6e" stroke-width="0.5"/>
<text x="290.11" y="658.86" font-size="5.9" fill="#111" text-anchor="middle" transform="rotate(21.77 290.11 656.76)">17</text>
<path d="M294.88 663.27 A72.65 72.65 0 0 1 304.04 668.87 L300.2 674.23 A66.05 66.05 0 0 0 291.87 669.14 Z" fill="#dadada"/>
<path d="M294.88 663.27 A72.65 72.65 0 0 1 295.42 663.55 L292.35 669.39 A66.05 66.05 0 0 0 291.87 669.14 Z" fill="#d88a8a"/>
<path d="M295.64 663.67 A72.65 72.65 0 0 1 296.13 663.93 L293 669.74 A66.05 66.05 0 0 0 292.56 669.5 Z" fill="#1e1e1e"/>
<path d="M296.33 664.04 A72.65 72.65 0 0 1 296.92 664.36 L293.72 670.13 A66.05 66.05 0 0 0 293.19 669.84 Z" fill="#d88a8a"/>
<path d="M297.17 664.5 A72.65 72.65 0 0 1 297.68 664.78 L294.41 670.52 A66.05 66.05 0 0 0 293.94 670.26 Z" fill="#858585"/>
<path d="M297.89 664.91 A72.65 72.65 0 0 1 298.33 665.16 L295.01 670.86 A66.05 66.05 0 0 0 294.61 670.63 Z" fill="#1e1e1e"/>
<path d="M300.39 666.41 A72.65 72.65 0 0 1 300.67 666.59 L297.13 672.16 A66.05 66.05 0 0 0 296.87 672 Z" fill="#f6f6f6"/>
<path d="M300.79 666.66 A72.65 72.65 0 0 1 301.44 667.08 L297.83 672.61 A66.05 66.05 0 0 0 297.24 672.23 Z" fill="#858585"/>
<path d="M301.71 667.26 A72.65 72.65 0 0 1 302.12 667.53 L298.45 673.02 A66.05 66.05 0 0 0 298.08 672.77 Z" fill="#1e1e1e"/>
<path d="M296.61 664.19 A72.65 72.65 0 0 1 297.28 664.56 L294.05 670.31 A66.05 66.05 0 0 0 293.44 669.98 Z" fill="#c83a3a"/>
<path d="M294.88 663.27 A72.65 72.65 0 0 1 304.04 668.87 L300.2 674.23 A66.05 66.05 0 0 0 291.87 669.14 Z" fill="none" stroke="#6e6e6e" stroke-width="0.5"/>
<text x="301.63" y="664.63" font-size="5.9" fill="#111" text-anchor="middle" transform="rotate(31.41 301.63 662.53)">18</text>
<path d="M305.07 669.61 A72.65 72.65 0 0 1 311.31 674.83 L306.81 679.65 A66.05 66.05 0 0 0 301.13 674.91 Z" fill="#dadada"/>
<path d="M305.07 669.61 A72.65 72.65 0 0 1 305.68 670.07 L301.68 675.33 A66.05 66.05 0 0 0 301.13 674.91 Z" fill="#1e1e1e"/>
<path d="M305.94 670.27 A72.65 72.65 0 0 1 306.38 670.61 L302.32 675.82 A66.05 66.05 0 0 0 301.92 675.51 Z" fill="#858585"/>
<path d="M306.57 670.76 A72.65 72.65 0 0 1 307.12 671.2 L302.99 676.35 A66.05 66.05 0 0 0 302.49 675.95 Z" fill="#f6f6f6"/>
<path d="M307.36 671.39 A72.65 72.65 0 0 1 307.8 671.75 L303.61 676.85 A66.05 66.05 0 0 0 303.21 676.52 Z" fill="#d88a8a"/>
<path d="M308.58 672.4 A72.65 72.65 0 0 1 308.9 672.68 L304.62 677.69 A66.05 66.05 0 0 0 304.32 677.44 Z" fill="#858585"/>
<path d="M309.47 673.17 A72.65 72.65 0 0 1 310.11 673.73 L305.71 678.65 A66.05 66.05 0 0 0 305.13 678.14 Z" fill="#1e1e1e"/>
<path d="M310.38 673.97 A72.65 72.65 0 0 1 310.94 674.48 L306.47 679.33 A66.05 66.05 0 0 0 305.96 678.87 Z" fill="#858585"/>
<path d="M311.18 674.7 A72.65 72.65 0 0 1 311.31 674.83 L306.81 679.65 A66.05 66.05 0 0 0 306.68 679.53 Z" fill="#1e1e1e"/>
<path d="M307.59 671.58 A72.65 72.65 0 0 1 308.18 672.06 L303.96 677.14 A66.05 66.05 0 0 0 303.42 676.7 Z" fill="#c83a3a"/>
<path d="M305.07 669.61 A72.65 72.65 0 0 1 311.31 674.83 L306.81 679.65 A66.05 66.05 0 0 0 301.13 674.91 Z" fill="none" stroke="#6e6e6e" stroke-width="0.5"/>
<text x="310.8" y="671.2" font-size="5.9" fill="#111" text-anchor="middle" transform="rotate(39.86 310.8 669.1)">19</text>
<path d="M312.23 675.7 A72.65 72.65 0 0 1 318.09 682.09 L312.97 686.25 A66.05 66.05 0 0 0 307.64 680.44 Z" fill="#dadada"/>
<path d="M312.65 676.11 A72.65 72.65 0 0 1 313.23 676.69 L308.55 681.34 A66.05 66.05 0 0 0 308.02 680.81 Z" fill="#f6f6f6"/>
<path d="M313.48 676.94 A72.65 72.65 0 0 1 313.97 677.44 L309.22 682.03 A66.05 66.05 0 0 0 308.77 681.57 Z" fill="#f6f6f6"/>
<path d="M314.18 677.66 A72.65 72.65 0 0 1 314.66 678.17 L309.85 682.69 A66.05 66.05 0 0 0 309.41 682.22 Z" fill="#1e1e1e"/>
<path d="M314.87 678.4 A72.65 72.65 0 0 1 315.41 678.98 L310.53 683.42 A66.05 66.05 0 0 0 310.04 682.89 Z" fill="#1e1e1e"/>
<path d="M317.21 681.03 A72.65 72.65 0 0 1 317.65 681.56 L312.57 685.77 A66.05 66.05 0 0 0 312.17 685.29 Z" fill="#1e1e1e"/>
<path d="M317.84 681.79 A72.65 72.65 0 0 1 318.09 682.09 L312.97 686.25 A66.05 66.05 0 0 0 312.74 685.98 Z" fill="#1e1e1e"/>
<path d="M314.67 678.18 A72.65 72.65 0 0 1 315.19 678.73 L310.33 683.2 A66.05 66.05 0 0 0 309.86 682.69 Z" fill="#c83a3a"/>
<path d="M312.23 675.7 A72.65 72.65 0 0 1 318.09 682.09 L312.97 686.25 A66.05 66.05 0 0 0 307.64 680.44 Z" fill="none" stroke="#6e6e6e" stroke-width="0.5"/>
<text x="318.17" y="678.24" font-size="5.9" fill="#111" text-anchor="middle" transform="rotate(47.49 318.17 676.14)">20</text>
<path d="M318.88 683.08 A72.65 72.65 0 0 1 322.72 688.48 L317.18 692.06 A66.05 66.05 0 0 0 313.69 687.15 Z" fill="#dadada"/>
<path d="M318.88 683.08 A72.65 72.65 0 0 1 319.24 683.55 L314.01 687.58 A66.05 66.05 0 0 0 313.69 687.15 Z" fill="#f6f6f6"/>
<path d="M319.4 683.75 A72.65 72.65 0 0 1 319.75 684.21 L314.48 688.18 A66.05 66.05 0 0 0 314.15 687.76 Z" fill="#858585"/>
<path d="M319.9 684.42 A72.65 72.65 0 0 1 320.24 684.87 L314.92 688.78 A66.05 66.05 0 0 0 314.61 688.37 Z" fill="#1e1e1e"/>
<path d="M320.91 685.81 A72.65 72.65 0 0 1 321.22 686.24 L315.81 690.02 A66.05 66.05 0 0 0 315.53 689.63 Z" fill="#f6f6f6"/>
<path d="M321.35 686.43 A72.65 72.65 0 0 1 321.73 686.97 L316.27 690.69 A66.05 66.05 0 0 0 315.93 690.19 Z" fill="#f6f6f6"/>
<path d="M321.89 687.21 A72.65 72.65 0 0 1 322.11 687.55 L316.62 691.21 A66.05 66.05 0 0 0 316.42 690.91 Z" fill="#f6f6f6"/>
<path d="M322.21 687.69 A72.65 72.65 0 0 1 322.55 688.21 L317.02 691.82 A66.05 66.05 0 0 0 316.71 691.34 Z" fill="#1e1e1e"/>
<path d="M319.74 684.2 A72.65 72.65 0 0 1 320.19 684.81 L314.88 688.73 A66.05 66.05 0 0 0 314.47 688.17 Z" fill="#c83a3a"/>
<path d="M318.88 683.08 A72.65 72.65 0 0 1 322.72 688.48 L317.18 692.06 A66.05 66.05 0 0 0 313.69 687.15 Z" fill="none" stroke="#6e6e6e" stroke-width="0.5"/>
<text x="324.08" y="685.54" font-size="5.9" fill="#111" text-anchor="middle" transform="rotate(54.52 324.08 683.44)">21</text>
<path d="M323.4 689.55 A72.65 72.65 0 0 1 326.83 695.71 L320.91 698.64 A66.05 66.05 0 0 0 317.8 693.03 Z" fill="#dadada"/>
<path d="M323.4 689.55 A72.65 72.65 0 0 1 323.65 689.95 L318.02 693.4 A66.05 66.05 0 0 0 317.8 693.03 Z" fill="#1e1e1e"/>
<path d="M323.76 690.12 A72.65 72.65 0 0 1 324.1 690.7 L318.43 694.08 A66.05 66.05 0 0 0 318.12 693.56 Z" fill="#f6f6f6"/>
<path d="M324.92 692.1 A72.65 72.65 0 0 1 325.37 692.91 L319.58 696.09 A66.05 66.05 0 0 0 319.18 695.36 Z" fill="#f6f6f6"/>
<path d="M325.56 693.25 A72.65 72.65 0 0 1 325.94 693.96 L320.1 697.05 A66.05 66.05 0 0 0 319.75 696.4 Z" fill="#f6f6f6"/>
<path d="M326.1 694.27 A72.65 72.65 0 0 1 326.36 694.78 L320.49 697.79 A66.05 66.05 0 0 0 320.25 697.33 Z" fill="#1e1e1e"/>
<path d="M324.27 690.99 A72.65 72.65 0 0 1 324.66 691.64 L318.94 694.94 A66.05 66.05 0 0 0 318.59 694.34 Z" fill="#c83a3a"/>
<path d="M323.4 689.55 A72.65 72.65 0 0 1 326.83 695.71 L320.91 698.64 A66.05 66.05 0 0 0 317.8 693.03 Z" fill="none" stroke="#6e6e6e" stroke-width="0.5"/>
<text x="328.64" y="692.77" font-size="5.9" fill="#111" text-anchor="middle" transform="rotate(60.92 328.64 690.67)">22</text>
<path d="M327.38 696.86 A72.65 72.65 0 0 1 333.56 717.23 L327.03 718.2 A66.05 66.05 0 0 0 321.42 699.68 Z" fill="#dadada"/>
<path d="M327.91 697.99 A72.65 72.65 0 0 1 328.14 698.52 L322.11 701.19 A66.05 66.05 0 0 0 321.89 700.71 Z" fill="#1e1e1e"/>
<path d="M328.51 699.37 A72.65 72.65 0 0 1 328.67 699.73 L322.58 702.29 A66.05 66.05 0 0 0 322.44 701.96 Z" fill="#1e1e1e"/>
<path d="M329.09 700.76 A72.65 72.65 0 0 1 329.25 701.17 L323.12 703.6 A66.05 66.05 0 0 0 322.97 703.22 Z" fill="#1e1e1e"/>
<path d="M329.81 702.62 A72.65 72.65 0 0 1 330.02 703.19 L323.81 705.44 A66.05 66.05 0 0 0 323.62 704.92 Z" fill="#f6f6f6"/>
<path d="M332.02 709.65 A72.65 72.65 0 0 1 332.19 710.32 L325.79 711.92 A66.05 66.05 0 0 0 325.63 711.31 Z" fill="#1e1e1e"/>
<path d="M332.41 711.23 A72.65 72.65 0 0 1 332.62 712.13 L326.18 713.56 A66.05 66.05 0 0 0 325.99 712.74 Z" fill="#1e1e1e"/>
<path d="M332.84 713.19 A72.65 72.65 0 0 1 332.96 713.75 L326.49 715.04 A66.05 66.05 0 0 0 326.38 714.52 Z" fill="#f6f6f6"/>
<path d="M333.01 714 A72.65 72.65 0 0 1 333.17 714.86 L326.68 716.04 A66.05 66.05 0 0 0 326.53 715.26 Z" fill="#f6f6f6"/>
<path d="M333.24 715.23 A72.65 72.65 0 0 1 333.32 715.72 L326.82 716.83 A66.05 66.05 0 0 0 326.74 716.38 Z" fill="#f6f6f6"/>
<path d="M333.36 715.93 A72.65 72.65 0 0 1 333.41 716.23 L326.89 717.29 A66.05 66.05 0 0 0 326.85 717.02 Z" fill="#1e1e1e"/>
<path d="M333.43 716.35 A72.65 72.65 0 0 1 333.56 717.23 L327.03 718.2 A66.05 66.05 0 0 0 326.91 717.4 Z" fill="#f6f6f6"/>
<path d="M330.36 704.15 A72.65 72.65 0 0 1 330.6 704.87 L324.34 706.96 A66.05 66.05 0 0 0 324.12 706.3 Z" fill="#c83a3a"/>
<path d="M327.38 696.86 A72.65 72.65 0 0 1 333.56 717.23 L327.03 718.2 A66.05 66.05 0 0 0 321.42 699.68 Z" fill="none" stroke="#6e6e6e" stroke-width="0.5"/>
<text x="335" y="707.77" font-size="5.9" fill="#111" text-anchor="middle" transform="rotate(73.13 335 705.67)">X</text>
<path d="M333.74 718.49 A72.65 72.65 0 0 1 334.34 726.63 L327.74 726.75 A66.05 66.05 0 0 0 327.19 719.34 Z" fill="#dadada"/>
<path d="M333.89 719.75 A72.65 72.65 0 0 1 333.97 720.51 L327.41 721.18 A66.05 66.05 0 0 0 327.33 720.49 Z" fill="#c83a3a"/>
<path d="M333.74 718.49 A72.65 72.65 0 0 1 334.34 726.63 L327.74 726.75 A66.05 66.05 0 0 0 327.19 719.34 Z" fill="none" stroke="#6e6e6e" stroke-width="0.5"/>
<text x="338.09" y="724.36" font-size="5.9" fill="#111" text-anchor="middle" transform="rotate(85.78 338.09 722.26)">Y</text>
<circle cx="261.7" cy="727.9" r="64.95" fill="#fff" stroke="#8a8a8a" stroke-width="0.5"/>
<line x1="310.9" y1="727.47" x2="326.65" y2="727.33" stroke="#262626" stroke-width="1.15" stroke-dasharray="1.1 0.55"/>
<line x1="305.32" y1="750.66" x2="319.28" y2="757.94" stroke="#262626" stroke-width="1.15" stroke-dasharray="1.1 0.55"/>
<line x1="289.96" y1="768.18" x2="299" y2="781.07" stroke="#262626" stroke-width="1.15" stroke-dasharray="1.1 0.55"/>
<line x1="272.4" y1="775.92" x2="275.82" y2="791.3" stroke="#262626" stroke-width="1.15" stroke-dasharray="1.1 0.55"/>
<line x1="253.84" y1="776.47" x2="251.33" y2="792.02" stroke="#262626" stroke-width="1.15" stroke-dasharray="1.1 0.55"/>
<line x1="237.23" y1="770.58" x2="229.4" y2="784.25" stroke="#262626" stroke-width="1.15" stroke-dasharray="1.1 0.55"/>
<line x1="224.34" y1="759.92" x2="212.39" y2="770.17" stroke="#262626" stroke-width="1.15" stroke-dasharray="1.1 0.55"/>
<line x1="216.19" y1="746.59" x2="201.62" y2="752.57" stroke="#262626" stroke-width="1.15" stroke-dasharray="1.1 0.55"/>
<line x1="212.72" y1="732.57" x2="197.04" y2="734.06" stroke="#262626" stroke-width="1.15" stroke-dasharray="1.1 0.55"/>
<line x1="213.39" y1="718.61" x2="197.92" y2="715.63" stroke="#262626" stroke-width="1.15" stroke-dasharray="1.1 0.55"/>
<line x1="217.71" y1="705.87" x2="203.62" y2="698.82" stroke="#262626" stroke-width="1.15" stroke-dasharray="1.1 0.55"/>
<line x1="225.28" y1="694.82" x2="213.62" y2="684.23" stroke="#262626" stroke-width="1.15" stroke-dasharray="1.1 0.55"/>
<line x1="235.47" y1="686.28" x2="227.07" y2="672.95" stroke="#262626" stroke-width="1.15" stroke-dasharray="1.1 0.55"/>
<line x1="245.91" y1="681.3" x2="240.85" y2="666.39" stroke="#262626" stroke-width="1.15" stroke-dasharray="1.1 0.55"/>
<line x1="256.5" y1="678.98" x2="254.83" y2="663.31" stroke="#262626" stroke-width="1.15" stroke-dasharray="1.1 0.55"/>
<line x1="266.89" y1="678.97" x2="268.55" y2="663.31" stroke="#262626" stroke-width="1.15" stroke-dasharray="1.1 0.55"/>
<line x1="275.97" y1="680.82" x2="280.54" y2="665.74" stroke="#262626" stroke-width="1.15" stroke-dasharray="1.1 0.55"/>
<line x1="283.79" y1="683.94" x2="290.86" y2="669.86" stroke="#262626" stroke-width="1.15" stroke-dasharray="1.1 0.55"/>
<line x1="290.72" y1="688.17" x2="300.02" y2="675.46" stroke="#262626" stroke-width="1.15" stroke-dasharray="1.1 0.55"/>
<line x1="295.61" y1="692.25" x2="306.47" y2="680.84" stroke="#262626" stroke-width="1.15" stroke-dasharray="1.1 0.55"/>
<line x1="300.16" y1="697.21" x2="312.47" y2="687.39" stroke="#262626" stroke-width="1.15" stroke-dasharray="1.1 0.55"/>
<line x1="303.26" y1="701.56" x2="316.56" y2="693.13" stroke="#262626" stroke-width="1.15" stroke-dasharray="1.1 0.55"/>
<line x1="306" y1="706.49" x2="320.18" y2="699.64" stroke="#262626" stroke-width="1.15" stroke-dasharray="1.1 0.55"/>
<line x1="310.43" y1="721.1" x2="326.03" y2="718.92" stroke="#262626" stroke-width="1.15" stroke-dasharray="1.1 0.55"/>
<path d="M315.81 728.47 L315.97 729.28 L315.62 730.09 L315.87 730.91 L315.63 731.72 L315.56 732.53 L315.81 733.37 L315.46 734.15 L315.33 734.96 L315.33 735.78 L315.27 736.59 L314.96 737.37 L314.9 738.19 L314.51 738.94 L314.43 739.75 L314.24 740.54 L313.91 741.29 L313.68 742.07 L313.44 742.85 L313.41 743.68 L313.18 744.46 L312.9 745.23 L312.69 746.01 L312.21 746.71 L312.1 747.53 L311.84 748.31 L311.6 749.09 L311.06 749.74 L310.78 750.51 L310.22 751.14 L310.07 751.97" fill="none" stroke="#3434f4" stroke-width="1.05" stroke-dasharray="5 0.6"/>
<path d="M308.89 753.68 L308.59 754.45 L308.51 755.35 L307.66 755.8 L307.62 756.74 L307.11 757.39 L306.58 758.02 L306.22 758.76 L305.75 759.44 L305.33 760.15 L304.68 760.69 L304.14 761.31 L303.63 761.95 L303.06 762.54 L302.64 763.26 L302.01 763.8 L301.67 764.6 L300.79 764.89 L300.31 765.56 L299.75 766.16 L299.04 766.61 L298.86 767.61 L297.82 767.69 L297.42 768.47 L296.78 768.98 L296.36 769.76 L295.38 769.86 L295.02 770.72 L294.21 771.01 L293.6 771.57" fill="none" stroke="#3434f4" stroke-width="1.05" stroke-dasharray="5 0.6"/>
<path d="M291.86 772.69 L291.27 773.32 L290.43 773.54 L289.8 774.11 L289.12 774.6 L288.51 775.21 L287.47 775.06 L287.02 775.97 L286.23 776.28 L285.39 776.46 L284.69 776.92 L283.89 777.16 L283.25 777.79 L282.4 777.92 L281.6 778.17 L280.82 778.47 L280.05 778.76 L279.26 779.04 L278.44 779.21 L277.78 779.88 L276.81 779.55 L275.94 779.53 L275.28 780.25 L274.47 780.45" fill="none" stroke="#3434f4" stroke-width="1.05" stroke-dasharray="5 0.6"/>
<path d="M272.46 780.98 L271.65 781.05 L270.87 781.2 L270.08 781.4 L269.3 781.61 L268.48 781.51 L267.68 781.61 L266.92 782.04 L266.1 781.9 L265.28 781.73 L264.51 782.28 L263.69 782.08 L262.89 781.9 L262.08 781.82 L261.28 782.04 L260.48 781.86 L259.69 781.8 L258.89 781.73 L258.08 781.8 L257.26 781.98 L256.48 781.68 L255.7 781.45 L254.87 781.67 L254.09 781.47" fill="none" stroke="#3434f4" stroke-width="1.05" stroke-dasharray="5 0.6"/>
<path d="M252.01 781.25 L251.19 781.15 L250.41 780.78 L249.61 780.61 L248.8 780.43 L248.03 780.07 L247.16 780.11 L246.33 779.99 L245.59 779.57 L244.82 779.26 L244.04 778.99 L243.28 778.64 L242.51 778.35 L241.72 778.11 L240.97 777.74 L240.19 777.47 L239.5 776.98 L238.63 776.89 L237.9 776.49 L237.24 775.96 L236.59 775.43 L235.7 775.34" fill="none" stroke="#3434f4" stroke-width="1.05" stroke-dasharray="5 0.6"/>
<path d="M233.81 774.45 L233.25 773.79 L232.54 773.38 L231.86 772.93 L231.08 772.62 L230.54 771.96 L229.71 771.71 L229.16 771.07 L228.4 770.71 L227.84 770.1 L227.23 769.55 L226.72 768.88 L226.03 768.43 L225.37 767.94 L224.68 767.48 L224.12 766.87 L223.64 766.2 L222.94 765.73 L222.31 765.2 L221.87 764.48 L221.36 763.85" fill="none" stroke="#3434f4" stroke-width="1.05" stroke-dasharray="5 0.6"/>
<path d="M220 762.27 L219.36 761.77 L218.89 761.11 L218.58 760.35 L217.95 759.82 L217.59 759.1 L217.17 758.42 L216.47 757.92 L216.09 757.22 L215.86 756.42 L215.34 755.8 L214.88 755.15 L214.63 754.37 L214.17 753.71 L213.69 753.06 L213.66 752.18 L213.02 751.61 L212.62 750.91 L212.31 750.17 L212.24 749.33" fill="none" stroke="#3434f4" stroke-width="1.05" stroke-dasharray="5 0.6"/>
<path d="M211.23 747.51 L211.1 746.68 L210.62 745.99 L210.35 745.22 L210.15 744.42 L210.05 743.6 L209.79 742.83 L209.36 742.1 L209.41 741.24 L209.01 740.5 L208.83 739.71 L208.77 738.89 L208.22 738.16 L208.41 737.29 L207.97 736.54 L208.46 735.64 L208.38 734.83 L207.81 734.08" fill="none" stroke="#3434f4" stroke-width="1.05" stroke-dasharray="5 0.6"/>
<path d="M207.66 732 L207.75 731.21 L207.67 730.43 L207.91 729.64 L207.7 728.86 L207.76 728.08 L207.64 727.29 L207.49 726.5 L207.64 725.72 L207.63 724.94 L207.83 724.16 L207.85 723.38 L207.84 722.59 L207.99 721.82 L207.85 721.01 L208.27 720.27 L207.98 719.44 L208.53 718.73" fill="none" stroke="#3434f4" stroke-width="1.05" stroke-dasharray="5 0.6"/>
<path d="M208.62 716.63 L209.06 715.91 L208.89 715.05 L209.31 714.33 L209.48 713.55 L209.64 712.77 L210.07 712.06 L210.37 711.32 L210.76 710.62 L210.56 709.7 L211.1 709.05 L211.37 708.3 L211.59 707.53 L211.61 706.68 L212.44 706.17 L212.5 705.32 L212.92 704.64" fill="none" stroke="#3434f4" stroke-width="1.05" stroke-dasharray="5 0.6"/>
<path d="M213.73 702.72 L214.41 702.18 L214.61 701.39 L214.84 700.61 L215.16 699.87 L215.57 699.19 L216.3 698.71 L216.62 697.97 L217.09 697.33 L217.7 696.79 L218.16 696.15 L218.37 695.32 L218.92 694.73 L219.45 694.14 L219.79 693.4 L220.56 693 L220.9 692.25" fill="none" stroke="#3434f4" stroke-width="1.05" stroke-dasharray="5 0.6"/>
<path d="M222.36 690.76 L222.91 690.2 L223.4 689.58 L224 689.06 L224.56 688.51 L225.13 687.97 L225.55 687.26 L226.37 686.99 L226.84 686.33 L227.48 685.88 L228.19 685.5 L228.7 684.88 L229.48 684.6 L229.94 683.89 L230.75 683.68 L231.37 683.19 L231.95 682.65" fill="none" stroke="#3434f4" stroke-width="1.05" stroke-dasharray="5 0.6"/>
<path d="M233.67 681.48 L234.37 681.05 L235.09 680.64 L235.89 680.39 L236.66 680.1 L237.29 679.53 L238.04 679.2 L238.86 679.01 L239.49 678.41 L240.29 678.18 L241.11 678.03 L241.79 677.52 L242.65 677.48 L243.4 677.13" fill="none" stroke="#3434f4" stroke-width="1.05" stroke-dasharray="5 0.6"/>
<path d="M245.3 676.28 L246.17 676.32 L246.89 675.86 L247.74 675.84 L248.46 675.33 L249.31 675.35 L250.08 675.03 L250.94 675.11 L251.71 674.78 L252.48 674.45 L253.31 674.39 L254.17 674.61 L254.93 674.09" fill="none" stroke="#3434f4" stroke-width="1.05" stroke-dasharray="5 0.6"/>
<path d="M257 673.87 L257.8 674 L258.56 673.68 L259.36 674.01 L260.13 673.84 L260.91 673.64 L261.69 673.6 L262.48 673.61 L263.25 673.99 L264.03 674.12 L264.82 673.83 L265.58 674.15 L266.37 674.02" fill="none" stroke="#3434f4" stroke-width="1.05" stroke-dasharray="5 0.6"/>
<path d="M268.42 674.41 L269.27 674.17 L270.07 674.33 L270.87 674.5 L271.65 674.72 L272.45 674.87 L273.24 675.09 L274.05 675.17 L274.84 675.38 L275.63 675.55 L276.38 675.9" fill="none" stroke="#3434f4" stroke-width="1.05" stroke-dasharray="5 0.6"/>
<path d="M278.47 676.17 L279.16 676.65 L279.97 676.76 L280.72 677.04 L281.35 677.63 L282.04 678.04 L282.95 677.94 L283.58 678.49 L284.34 678.75 L285.04 679.14" fill="none" stroke="#3434f4" stroke-width="1.05" stroke-dasharray="5 0.6"/>
<path d="M286.92 680.02 L287.5 680.55 L288.25 680.78 L288.88 681.2 L289.57 681.53 L290.04 682.23 L290.94 682.23 L291.54 682.71 L292 683.39 L292.71 683.7" fill="none" stroke="#3434f4" stroke-width="1.05" stroke-dasharray="5 0.6"/>
<path d="M294.45 684.83 L295.06 685.19 L295.56 685.7 L296.24 685.99 L296.65 686.6 L297.08 687.17 L297.64 687.6 L298.3 687.91" fill="none" stroke="#3434f4" stroke-width="1.05" stroke-dasharray="5 0.6"/>
<path d="M299.67 689.49 L300.36 689.88 L300.91 690.41 L301.39 691 L301.95 691.52 L302.32 692.21 L302.84 692.77 L303.26 693.41" fill="none" stroke="#3434f4" stroke-width="1.05" stroke-dasharray="5 0.6"/>
<path d="M304.55 695.03 L304.9 695.72 L305.47 696.24 L305.84 696.9 L306.23 697.56 L306.85 698.06" fill="none" stroke="#3434f4" stroke-width="1.05" stroke-dasharray="5 0.6"/>
<path d="M308 699.79 L308.25 700.44 L308.82 700.9 L309.1 701.54 L309.45 702.13 L309.55 702.86 L309.75 703.53" fill="none" stroke="#3434f4" stroke-width="1.05" stroke-dasharray="5 0.6"/>
<path d="M310.93 705.26 L311.23 706.03 L311.62 706.76 L311.89 707.53 L312.31 708.25 L312.38 709.1 L312.8 709.83 L312.84 710.68 L312.9 711.52 L313.41 712.22 L313.92 712.93 L313.68 713.84 L314.28 714.53 L314.23 715.39 L314.45 716.18 L314.69 716.97 L314.88 717.77 L314.85 718.61 L315.15 719.39" fill="none" stroke="#3434f4" stroke-width="1.05" stroke-dasharray="5 0.6"/>
<path d="M231.82 685.22 L233.07 684.37 L234.35 683.56 L235.65 682.78 L236.97 682.04 L238.32 681.34 L239.68 680.68" fill="none" stroke="#4a9a4a" stroke-width="0.9"/>
<circle cx="261.7" cy="727.9" r="49.2" fill="#fff" stroke="#8a8a8a" stroke-width="0.6"/>
<path d="M281.15 683.36 Q261.7 727.9 225.2 759.99" fill="none" stroke="#b01c1c" stroke-width="0.57" stroke-opacity="0.85"/>
<path d="M213.19 724.9 Q261.7 727.9 288.19 687.15" fill="none" stroke="#a51515" stroke-width="0.56" stroke-opacity="0.85"/>
<path d="M310.11 732.23 Q261.7 727.9 220.8 701.66" fill="none" stroke="#b01c1c" stroke-width="0.52" stroke-opacity="0.85"/>
<path d="M253.58 775.82 Q261.7 727.9 237.49 685.76" fill="none" stroke="#9b1010" stroke-width="0.49" stroke-opacity="0.85"/>
<path d="M272.21 775.35 Q261.7 727.9 272.99 680.63" fill="none" stroke="#9b1010" stroke-width="0.49" stroke-opacity="0.85"/>
<path d="M243.1 772.8 Q261.7 727.9 275.86 681.41" fill="none" stroke="#b01c1c" stroke-width="0.46" stroke-opacity="0.85"/>
<path d="M215.48 742.91 Q261.7 727.9 279.53 773.11" fill="none" stroke="#b01c1c" stroke-width="0.45" stroke-opacity="0.85"/>
<path d="M231.95 689.47 Q261.7 727.9 310.22 730.75" fill="none" stroke="#8c0c0c" stroke-width="0.51" stroke-opacity="0.85"/>
<path d="M253.01 775.72 Q261.7 727.9 221.35 700.81" fill="none" stroke="#a51515" stroke-width="0.48" stroke-opacity="0.85"/>
<path d="M283.24 684.33 Q261.7 727.9 214.53 716.21" fill="none" stroke="#b01c1c" stroke-width="0.5" stroke-opacity="0.85"/>
<path d="M231.58 689.76 Q261.7 727.9 224.82 759.55" fill="none" stroke="#b01c1c" stroke-width="0.41" stroke-opacity="0.85"/>
<path d="M220.76 701.72 Q261.7 727.9 281.06 683.32" fill="none" stroke="#8c0c0c" stroke-width="0.53" stroke-opacity="0.85"/>
<path d="M276.25 681.53 Q261.7 727.9 213.1 728.11" fill="none" stroke="#a51515" stroke-width="0.59" stroke-opacity="0.85"/>
<path d="M213.1 728.2 Q261.7 727.9 302.91 702.14" fill="none" stroke="#8c0c0c" stroke-width="0.56" stroke-opacity="0.85"/>
<path d="M213.11 727.02 Q261.7 727.9 301.41 755.91" fill="none" stroke="#9b1010" stroke-width="0.48" stroke-opacity="0.85"/>
<path d="M267.85 679.69 Q261.7 727.9 216.27 710.62" fill="none" stroke="#8c0c0c" stroke-width="0.53" stroke-opacity="0.85"/>
<path d="M286.46 686.08 Q261.7 727.9 215.12 741.76" fill="none" stroke="#9b1010" stroke-width="0.57" stroke-opacity="0.85"/>
<path d="M310.2 730.96 Q261.7 727.9 287.04 686.43" fill="none" stroke="#b01c1c" stroke-width="0.44" stroke-opacity="0.85"/>
<path d="M226.18 694.73 Q261.7 727.9 279.64 773.07" fill="none" stroke="#8c0c0c" stroke-width="0.46" stroke-opacity="0.85"/>
<path d="M294.73 692.25 Q261.7 727.9 279.6 773.08" fill="none" stroke="#8c0c0c" stroke-width="0.41" stroke-opacity="0.85"/>
<path d="M226.72 761.64 Q261.7 727.9 232.29 689.21" fill="none" stroke="#b01c1c" stroke-width="0.5" stroke-opacity="0.85"/>
<path d="M240.49 771.63 Q261.7 727.9 230.87 690.33" fill="none" stroke="#9b1010" stroke-width="0.53" stroke-opacity="0.85"/>
<path d="M220.37 702.34 Q261.7 727.9 232.37 766.65" fill="none" stroke="#b01c1c" stroke-width="0.56" stroke-opacity="0.85"/>
<path d="M233.53 767.5 Q261.7 727.9 214.28 717.27" fill="none" stroke="#9b1010" stroke-width="0.41" stroke-opacity="0.85"/>
<path d="M305.11 749.76 Q261.7 727.9 214.43 716.61" fill="none" stroke="#b01c1c" stroke-width="0.56" stroke-opacity="0.85"/>
<path d="M213.88 719.2 Q261.7 727.9 295.5 692.97" fill="none" stroke="#b01c1c" stroke-width="0.54" stroke-opacity="0.85"/>
<path d="M251.01 775.31 Q261.7 727.9 295.34 692.83" fill="none" stroke="#9b1010" stroke-width="0.46" stroke-opacity="0.85"/>
<path d="M303.69 752.36 Q261.7 727.9 275.91 681.42" fill="none" stroke="#a51515" stroke-width="0.45" stroke-opacity="0.85"/>
<path d="M299.96 757.88 Q261.7 727.9 283.16 684.29" fill="none" stroke="#b01c1c" stroke-width="0.48" stroke-opacity="0.85"/>
<path d="M213.51 734.17 Q261.7 727.9 300.08 757.72" fill="none" stroke="#b01c1c" stroke-width="0.52" stroke-opacity="0.85"/>
<path d="M245.43 682.1 Q261.7 727.9 300.85 699.11" fill="none" stroke="#8c0c0c" stroke-width="0.4" stroke-opacity="0.85"/>
<path d="M309.33 737.55 Q261.7 727.9 272.61 680.54" fill="none" stroke="#8c0c0c" stroke-width="0.44" stroke-opacity="0.85"/>
<path d="M219.55 752.09 Q261.7 727.9 225.61 695.35" fill="none" stroke="#b01c1c" stroke-width="0.48" stroke-opacity="0.85"/>
<path d="M309.87 734.35 Q261.7 727.9 213.37 733.05" fill="none" stroke="#9b1010" stroke-width="0.53" stroke-opacity="0.85"/>
<path d="M230.4 690.72 Q261.7 727.9 295.01 692.51" fill="none" stroke="#b01c1c" stroke-width="0.56" stroke-opacity="0.85"/>
<path d="M214.51 716.26 Q261.7 727.9 273.24 775.11" fill="none" stroke="#a51515" stroke-width="0.47" stroke-opacity="0.85"/>
<path d="M289.09 768.05 Q261.7 727.9 214.53 716.18" fill="none" stroke="#9b1010" stroke-width="0.53" stroke-opacity="0.85"/>
<path d="M263.57 776.46 Q261.7 727.9 221.14 701.13" fill="none" stroke="#8c0c0c" stroke-width="0.54" stroke-opacity="0.85"/>
<path d="M234.32 768.05 Q261.7 727.9 245.61 682.04" fill="none" stroke="#8c0c0c" stroke-width="0.51" stroke-opacity="0.85"/>
<path d="M226.45 761.36 Q261.7 727.9 296.74 694.22" fill="none" stroke="#b01c1c" stroke-width="0.42" stroke-opacity="0.85"/>
<path d="M310.28 729.23 Q261.7 727.9 221.47 700.63" fill="none" stroke="#a51515" stroke-width="0.4" stroke-opacity="0.85"/>
<path d="M251.62 775.44 Q261.7 727.9 282.87 684.15" fill="none" stroke="#b01c1c" stroke-width="0.56" stroke-opacity="0.85"/>
<path d="M300.05 757.75 Q261.7 727.9 302.42 701.36" fill="none" stroke="#9b1010" stroke-width="0.59" stroke-opacity="0.85"/>
<path d="M243.06 772.78 Q261.7 727.9 213.35 732.82" fill="none" stroke="#8c0c0c" stroke-width="0.4" stroke-opacity="0.85"/>
<path d="M241.37 772.04 Q261.7 727.9 280.23 682.97" fill="none" stroke="#b01c1c" stroke-width="0.44" stroke-opacity="0.85"/>
<path d="M309.76 735.11 Q261.7 727.9 287.64 686.8" fill="none" stroke="#8c0c0c" stroke-width="0.51" stroke-opacity="0.85"/>
<path d="M309.59 736.18 Q261.7 727.9 213.43 733.52" fill="none" stroke="#a51515" stroke-width="0.53" stroke-opacity="0.85"/>
<path d="M305.22 749.53 Q261.7 727.9 243.01 772.76" fill="none" stroke="#b01c1c" stroke-width="0.45" stroke-opacity="0.85"/>
<path d="M213.76 735.9 Q261.7 727.9 271.45 775.51" fill="none" stroke="#8c0c0c" stroke-width="0.55" stroke-opacity="0.85"/>
<path d="M310.08 732.53 Q261.7 727.9 243.33 772.89" fill="none" stroke="#9b1010" stroke-width="0.4" stroke-opacity="0.85"/>
<path d="M295.23 763.08 Q261.7 727.9 213.77 735.93" fill="none" stroke="#a51515" stroke-width="0.57" stroke-opacity="0.85"/>
<path d="M265.94 679.48 Q261.7 727.9 213.66 735.28" fill="none" stroke="#b01c1c" stroke-width="0.52" stroke-opacity="0.85"/>
<path d="M304.14 751.59 Q261.7 727.9 213.42 733.43" fill="none" stroke="#a51515" stroke-width="0.52" stroke-opacity="0.85"/>
<path d="M270.18 775.75 Q261.7 727.9 232.61 688.97" fill="none" stroke="#a51515" stroke-width="0.53" stroke-opacity="0.85"/>
<path d="M275.31 681.24 Q261.7 727.9 305.37 749.22" fill="none" stroke="#8c0c0c" stroke-width="0.53" stroke-opacity="0.85"/>
<path d="M301.1 699.45 Q261.7 727.9 214.27 717.31" fill="none" stroke="#8c0c0c" stroke-width="0.58" stroke-opacity="0.85"/>
<path d="M253.64 775.83 Q261.7 727.9 273.39 680.73" fill="none" stroke="#8c0c0c" stroke-width="0.54" stroke-opacity="0.85"/>
<path d="M226.86 761.78 Q261.7 727.9 217.47 707.76" fill="none" stroke="#a51515" stroke-width="0.52" stroke-opacity="0.85"/>
<path d="M215.49 742.97 Q261.7 727.9 251.88 775.5" fill="none" stroke="#9b1010" stroke-width="0.53" stroke-opacity="0.85"/>
<path d="M213.45 733.74 Q261.7 727.9 310.25 730.19" fill="none" stroke="#a51515" stroke-width="0.4" stroke-opacity="0.85"/>
<path d="M213.39 733.22 Q261.7 727.9 238.3 685.3" fill="none" stroke="#a51515" stroke-width="0.43" stroke-opacity="0.85"/>
<path d="M226.03 694.89 Q261.7 727.9 295.01 692.51" fill="none" stroke="#a51515" stroke-width="0.57" stroke-opacity="0.85"/>
<path d="M310.22 730.66 Q261.7 727.9 281.6 683.56" fill="none" stroke="#9b1010" stroke-width="0.53" stroke-opacity="0.85"/>
<path d="M257.72 679.46 Q261.7 727.9 302.46 701.43" fill="none" stroke="#a51515" stroke-width="0.51" stroke-opacity="0.85"/>
<path d="M239.94 684.44 Q261.7 727.9 310.21 730.86" fill="none" stroke="#9b1010" stroke-width="0.45" stroke-opacity="0.85"/>
<path d="M239.94 684.45 Q261.7 727.9 304.05 751.74" fill="none" stroke="#8c0c0c" stroke-width="0.51" stroke-opacity="0.85"/>
<path d="M280.65 683.15 Q261.7 727.9 250.92 775.29" fill="none" stroke="#8c0c0c" stroke-width="0.48" stroke-opacity="0.85"/>
<path d="M214.37 716.86 Q261.7 727.9 267.01 679.59" fill="none" stroke="#a51515" stroke-width="0.46" stroke-opacity="0.85"/>
<path d="M225.79 695.15 Q261.7 727.9 219.58 752.15" fill="none" stroke="#9b1010" stroke-width="0.53" stroke-opacity="0.85"/>
<path d="M213.1 727.4 Q261.7 727.9 250.66 775.23" fill="none" stroke="#9b1010" stroke-width="0.5" stroke-opacity="0.85"/>
<path d="M289.2 767.97 Q261.7 727.9 220.29 753.34" fill="none" stroke="#9b1010" stroke-width="0.49" stroke-opacity="0.85"/>
<path d="M273.81 774.97 Q261.7 727.9 310.13 731.93" fill="none" stroke="#b01c1c" stroke-width="0.45" stroke-opacity="0.85"/>
<path d="M288.85 687.59 Q261.7 727.9 213.1 727.72" fill="none" stroke="#8c0c0c" stroke-width="0.58" stroke-opacity="0.85"/>
<path d="M240.7 771.73 Q261.7 727.9 282.32 683.89" fill="none" stroke="#9b1010" stroke-width="0.53" stroke-opacity="0.85"/>
<path d="M299.43 758.54 Q261.7 727.9 302.68 701.77" fill="none" stroke="#a51515" stroke-width="0.56" stroke-opacity="0.85"/>
<path d="M217.29 708.16 Q261.7 727.9 240.1 771.43" fill="none" stroke="#b01c1c" stroke-width="0.53" stroke-opacity="0.85"/>
<path d="M303.07 702.4 Q261.7 727.9 219.87 752.64" fill="none" stroke="#8c0c0c" stroke-width="0.55" stroke-opacity="0.85"/>
<path d="M243.7 773.04 Q261.7 727.9 214.4 716.74" fill="none" stroke="#a51515" stroke-width="0.49" stroke-opacity="0.85"/>
<path d="M213.1 728.12 Q261.7 727.9 282.96 771.6" fill="none" stroke="#8c0c0c" stroke-width="0.53" stroke-opacity="0.85"/>
<path d="M295.72 762.6 Q261.7 727.9 231.61 766.06" fill="none" stroke="#9b1010" stroke-width="0.46" stroke-opacity="0.85"/>
<path d="M214.35 716.96 Q261.7 727.9 304.68 750.58" fill="none" stroke="#8c0c0c" stroke-width="0.58" stroke-opacity="0.85"/>
<path d="M303.9 752 Q261.7 727.9 266.06 679.5" fill="none" stroke="#8c0c0c" stroke-width="0.44" stroke-opacity="0.85"/>
<path d="M282.69 684.07 Q261.7 727.9 299.75 758.14" fill="none" stroke="#a51515" stroke-width="0.4" stroke-opacity="0.85"/>
<path d="M310.13 731.92 Q261.7 727.9 280.99 772.51" fill="none" stroke="#a51515" stroke-width="0.52" stroke-opacity="0.85"/>
<path d="M294.84 692.35 Q261.7 727.9 289.88 767.5" fill="none" stroke="#8c0c0c" stroke-width="0.44" stroke-opacity="0.85"/>
<path d="M233.53 767.51 Q261.7 727.9 294.7 763.58" fill="none" stroke="#9b1010" stroke-width="0.45" stroke-opacity="0.85"/>
<path d="M282.52 771.82 Q261.7 727.9 219.05 751.2" fill="none" stroke="#a51515" stroke-width="0.6" stroke-opacity="0.85"/>
<path d="M239.33 684.76 Q261.7 727.9 213.6 734.83" fill="none" stroke="#a51515" stroke-width="0.44" stroke-opacity="0.85"/>
<path d="M275.18 681.21 Q261.7 727.9 214.28 717.26" fill="none" stroke="#9b1010" stroke-width="0.57" stroke-opacity="0.85"/>
<path d="M232.15 766.49 Q261.7 727.9 214.81 715.12" fill="none" stroke="#a51515" stroke-width="0.51" stroke-opacity="0.85"/>
<path d="M310.27 729.6 Q261.7 727.9 272.88 680.6" fill="none" stroke="#b01c1c" stroke-width="0.53" stroke-opacity="0.85"/>
<path d="M304.06 751.72 Q261.7 727.9 233.01 767.12" fill="none" stroke="#9b1010" stroke-width="0.47" stroke-opacity="0.85"/>
<path d="M227.37 693.5 Q261.7 727.9 297.21 694.72" fill="none" stroke="#b01c1c" stroke-width="0.47" stroke-opacity="0.85"/>
<path d="M213.11 727.14 Q261.7 727.9 296.62 694.1" fill="none" stroke="#8c0c0c" stroke-width="0.46" stroke-opacity="0.85"/>
<path d="M213.13 726.06 Q261.7 727.9 310.2 731.01" fill="none" stroke="#8c0c0c" stroke-width="0.44" stroke-opacity="0.85"/>
<path d="M287.33 686.61 Q261.7 727.9 213.12 726.53" fill="none" stroke="#8c0c0c" stroke-width="0.45" stroke-opacity="0.85"/>
<path d="M305.41 749.16 Q261.7 727.9 258.09 679.43" fill="none" stroke="#9b1010" stroke-width="0.44" stroke-opacity="0.85"/>
<path d="M282.23 683.85 Q261.7 727.9 309.6 736.09" fill="none" stroke="#b01c1c" stroke-width="0.6" stroke-opacity="0.85"/>
<path d="M233.96 767.81 Q261.7 727.9 287.92 686.98" fill="none" stroke="#9b1010" stroke-width="0.54" stroke-opacity="0.85"/>
<path d="M242.25 772.44 Q261.7 727.9 303.72 752.32" fill="none" stroke="#b01c1c" stroke-width="0.5" stroke-opacity="0.85"/>
<path d="M310.3 728.58 Q261.7 727.9 252.63 775.65" fill="none" stroke="#8c0c0c" stroke-width="0.51" stroke-opacity="0.85"/>
<path d="M225.48 695.49 Q261.7 727.9 283.22 684.32" fill="none" stroke="#a51515" stroke-width="0.57" stroke-opacity="0.85"/>
<path d="M246.02 681.9 Q261.7 727.9 310.29 729.05" fill="none" stroke="#a51515" stroke-width="0.46" stroke-opacity="0.85"/>
<path d="M213.2 724.82 Q261.7 727.9 286.98 686.39" fill="none" stroke="#b01c1c" stroke-width="0.48" stroke-opacity="0.85"/>
<path d="M289.7 767.62 Q261.7 727.9 222.09 699.74" fill="none" stroke="#a51515" stroke-width="0.44" stroke-opacity="0.85"/>
<path d="M239.42 684.71 Q261.7 727.9 296.47 761.86" fill="none" stroke="#d8781c" stroke-width="0.54" stroke-opacity="0.9"/>
<path d="M226.58 694.31 Q261.7 727.9 305.38 749.2" fill="none" stroke="#d8781c" stroke-width="0.46" stroke-opacity="0.9"/>
<path d="M240.02 684.41 Q261.7 727.9 300.39 757.31" fill="none" stroke="#e89a30" stroke-width="0.57" stroke-opacity="0.9"/>
<path d="M221.68 700.33 Q261.7 727.9 296.8 761.52" fill="none" stroke="#e89a30" stroke-width="0.59" stroke-opacity="0.9"/>
<path d="M225.75 695.2 Q261.7 727.9 296.69 761.63" fill="none" stroke="#e08a1a" stroke-width="0.56" stroke-opacity="0.9"/>
<path d="M239.47 684.68 Q261.7 727.9 294.65 763.62" fill="none" stroke="#e89a30" stroke-width="0.65" stroke-opacity="0.9"/>
<path d="M237.93 685.51 Q261.7 727.9 309.51 736.64" fill="none" stroke="#e89a30" stroke-width="0.63" stroke-opacity="0.9"/>
<path d="M230.92 690.29 Q261.7 727.9 301.09 756.37" fill="none" stroke="#e89a30" stroke-width="0.56" stroke-opacity="0.9"/>
<path d="M238.44 685.23 Q261.7 727.9 299.49 758.45" fill="none" stroke="#e08a1a" stroke-width="0.53" stroke-opacity="0.9"/>
<path d="M232.64 688.94 Q261.7 727.9 300.04 757.77" fill="none" stroke="#e08a1a" stroke-width="0.69" stroke-opacity="0.9"/>
<path d="M222.09 699.74 Q261.7 727.9 309.59 736.19" fill="none" stroke="#d8781c" stroke-width="0.69" stroke-opacity="0.9"/>
<path d="M238.21 685.35 Q261.7 727.9 295.98 762.35" fill="none" stroke="#e08a1a" stroke-width="0.58" stroke-opacity="0.9"/>
<path d="M221.61 700.43 Q261.7 727.9 305.24 749.5" fill="none" stroke="#e89a30" stroke-width="0.68" stroke-opacity="0.9"/>
<path d="M225.79 695.15 Q261.7 727.9 295.37 762.95" fill="none" stroke="#e89a30" stroke-width="0.55" stroke-opacity="0.9"/>
<path d="M221.9 700.01 Q261.7 727.9 305.41 749.15" fill="none" stroke="#e89a30" stroke-width="0.55" stroke-opacity="0.9"/>
<path d="M237.74 685.62 Q261.7 727.9 305.14 749.69" fill="none" stroke="#e08a1a" stroke-width="0.45" stroke-opacity="0.9"/>
<path d="M224.89 696.17 Q261.7 727.9 289.93 767.46" fill="none" stroke="#e89a30" stroke-width="0.63" stroke-opacity="0.9"/>
<path d="M221.96 699.93 Q261.7 727.9 299.63 758.28" fill="none" stroke="#e89a30" stroke-width="0.68" stroke-opacity="0.9"/>
<path d="M221.38 700.77 Q261.7 727.9 303.75 752.27" fill="none" stroke="#d8781c" stroke-width="0.56" stroke-opacity="0.9"/>
<path d="M220.65 701.88 Q261.7 727.9 294.71 763.57" fill="none" stroke="#d8781c" stroke-width="0.46" stroke-opacity="0.9"/>
<path d="M297.23 694.74 Q261.7 727.9 279.64 773.07" fill="none" stroke="#d8781c" stroke-width="0.5" stroke-opacity="0.9"/>
<path d="M283.18 684.3 Q261.7 727.9 219.17 751.42" fill="none" stroke="#e08a1a" stroke-width="0.5" stroke-opacity="0.9"/>
<path d="M297.1 694.61 Q261.7 727.9 282.39 771.88" fill="none" stroke="#d8781c" stroke-width="0.5" stroke-opacity="0.9"/>
<path d="M280.24 682.97 Q261.7 727.9 282.88 771.64" fill="none" stroke="#e08a1a" stroke-width="0.5" stroke-opacity="0.9"/>
<path d="M294.65 692.17 Q261.7 727.9 241.89 772.28" fill="none" stroke="#e08a1a" stroke-width="0.5" stroke-opacity="0.9"/>
<path d="M288.58 687.41 Q261.7 727.9 250.39 775.17" fill="none" stroke="#e08a1a" stroke-width="0.5" stroke-opacity="0.9"/>
<path d="M281.21 683.39 Q261.7 727.9 270.58 775.68" fill="none" stroke="#d8781c" stroke-width="0.5" stroke-opacity="0.9"/>
<path d="M288.08 687.08 Q261.7 727.9 243.61 773.01" fill="none" stroke="#d8781c" stroke-width="0.5" stroke-opacity="0.9"/>
<path d="M226.25 694.65 Q261.7 727.9 290.55 767.01" fill="none" stroke="#f2c070" stroke-width="0.5" stroke-opacity="0.8"/>
<path d="M221.64 700.38 Q261.7 727.9 241.41 772.06" fill="none" stroke="#f2c070" stroke-width="0.5" stroke-opacity="0.8"/>
<path d="M248.5 681.13 Q261.7 727.9 305.56 748.83" fill="none" stroke="#f2c070" stroke-width="0.5" stroke-opacity="0.8"/>
<path d="M214.14 717.88 Q261.7 727.9 294.09 764.13" fill="none" stroke="#f2c070" stroke-width="0.5" stroke-opacity="0.8"/>
<path d="M216.09 711.1 Q261.7 727.9 294.44 763.82" fill="none" stroke="#f2c070" stroke-width="0.5" stroke-opacity="0.8"/>
<path d="M221.28 700.92 Q261.7 727.9 241.64 772.17" fill="none" stroke="#f2c070" stroke-width="0.5" stroke-opacity="0.8"/>
<path d="M258.4 679.41 Q261.7 727.9 240.66 771.71" fill="none" stroke="#f2c070" stroke-width="0.5" stroke-opacity="0.8"/>
<path d="M227.46 693.41 Q261.7 727.9 272.58 775.27" fill="none" stroke="#f2c070" stroke-width="0.5" stroke-opacity="0.8"/>
<path d="M301.13 699.49 Q261.7 727.9 242.52 772.56" fill="none" stroke="#f2c070" stroke-width="0.5" stroke-opacity="0.8"/>
<path d="M247.37 681.46 Q261.7 727.9 296.07 762.26" fill="none" stroke="#f2c070" stroke-width="0.5" stroke-opacity="0.8"/>
<path d="M246.16 681.85 Q261.7 727.9 252.91 775.7" fill="none" stroke="#f2c070" stroke-width="0.5" stroke-opacity="0.8"/>
<path d="M302.85 702.04 Q261.7 727.9 263.68 776.46" fill="none" stroke="#f2c070" stroke-width="0.5" stroke-opacity="0.8"/>
<path d="M295.36 692.84 Q261.7 727.9 262.72 776.49" fill="none" stroke="#f2c070" stroke-width="0.5" stroke-opacity="0.8"/>
<path d="M266.26 679.51 Q261.7 727.9 282.54 771.8" fill="none" stroke="#f2c070" stroke-width="0.5" stroke-opacity="0.8"/>
<path d="M307.54 744.03 Q261.7 727.9 213.8 736.11" fill="none" stroke="#9070c0" stroke-width="0.55" stroke-opacity="0.9"/>
<path d="M307.17 745.07 Q261.7 727.9 219.45 751.93" fill="none" stroke="#70b060" stroke-width="0.55" stroke-opacity="0.9"/>
<path d="M308.55 740.82 Q261.7 727.9 213.12 726.4" fill="none" stroke="#8a8aa8" stroke-width="0.55" stroke-opacity="0.9"/>
<path d="M308.56 740.8 Q261.7 727.9 214.48 716.4" fill="none" stroke="#8a8aa8" stroke-width="0.55" stroke-opacity="0.9"/>
<path d="M307.42 744.37 Q261.7 727.9 215.44 742.8" fill="none" stroke="#8a8aa8" stroke-width="0.55" stroke-opacity="0.9"/>
<path d="M307.68 743.64 Q261.7 727.9 213.58 734.74" fill="none" stroke="#8a8aa8" stroke-width="0.55" stroke-opacity="0.9"/>
<path d="M306.5 746.74 Q261.7 727.9 213.11 726.97" fill="none" stroke="#70b060" stroke-width="0.55" stroke-opacity="0.9"/>
<path d="M306.62 746.44 Q261.7 727.9 213.37 732.99" fill="none" stroke="#70b060" stroke-width="0.55" stroke-opacity="0.9"/>
<path d="M308.36 741.48 Q261.7 727.9 213.2 724.84" fill="none" stroke="#9070c0" stroke-width="0.55" stroke-opacity="0.9"/>
<path d="M282.13 772 Q261.7 727.9 217.01 708.8" fill="none" stroke="#80b870" stroke-width="0.5" stroke-opacity="0.9"/>
<path d="M261.94 776.5 Q261.7 727.9 216.42 710.26" fill="none" stroke="#80b870" stroke-width="0.5" stroke-opacity="0.9"/>
<path d="M252.75 775.67 Q261.7 727.9 214.62 715.83" fill="none" stroke="#80b870" stroke-width="0.5" stroke-opacity="0.9"/>
<path d="M270.88 775.62 Q261.7 727.9 217.23 708.29" fill="none" stroke="#80b870" stroke-width="0.5" stroke-opacity="0.9"/>
<path d="M286 769.99 Q261.7 727.9 245.08 773.57" fill="none" stroke="#9b1010" stroke-width="0.7" stroke-opacity="0.9"/>
<path d="M279.91 772.96 Q261.7 727.9 241.16 771.95" fill="none" stroke="#9b1010" stroke-width="0.7" stroke-opacity="0.9"/>
<path d="M275.91 774.38 Q261.7 727.9 249.12 774.84" fill="none" stroke="#9b1010" stroke-width="0.7" stroke-opacity="0.9"/>
<path d="M238.88 684.99 Q261.7 727.9 309.56 736.34" fill="none" stroke="#9b1010" stroke-width="0.7" stroke-opacity="0.9"/>
<path d="M246.68 681.68 Q261.7 727.9 306.76 746.11" fill="none" stroke="#9b1010" stroke-width="0.7" stroke-opacity="0.9"/>
<path d="M235.95 769.12 Q261.7 727.9 309.56 736.34" fill="none" stroke="#9b1010" stroke-width="0.7" stroke-opacity="0.9"/>
<path d="M216.64 709.69 Q261.7 727.9 308.86 739.66" fill="none" stroke="#9b1010" stroke-width="0.7" stroke-opacity="0.9"/>
<path d="M220.48 702.15 Q261.7 727.9 306.76 746.11" fill="none" stroke="#9b1010" stroke-width="0.7" stroke-opacity="0.9"/>
<path d="M216.03 744.52 Q261.7 727.9 303.79 752.2" fill="none" stroke="#9b1010" stroke-width="0.7" stroke-opacity="0.9"/>
<path d="M213.57 734.66 Q261.7 727.9 301.51 755.78" fill="none" stroke="#9b1010" stroke-width="0.7" stroke-opacity="0.9"/>
<path d="M310.27 729.6 Q261.7 727.9 245.08 773.57" fill="none" stroke="#9b1010" stroke-width="0.7" stroke-opacity="0.9"/>
<path d="M310.12 732.14 Q261.7 727.9 253.26 775.76" fill="none" stroke="#9b1010" stroke-width="0.7" stroke-opacity="0.9"/>
<path d="M679.81 727.1 A70.11 70.11 0 0 1 672.14 758.99 L666.46 756.09 A63.74 63.74 0 0 0 673.44 727.1 Z" fill="#dadada"/>
<path d="M679.8 728.24 A70.11 70.11 0 0 1 679.78 728.89 L673.42 728.73 A63.74 63.74 0 0 0 673.43 728.14 Z" fill="#1e1e1e"/>
<path d="M679.78 729.18 A70.11 70.11 0 0 1 679.75 729.95 L673.39 729.69 A63.74 63.74 0 0 0 673.41 728.99 Z" fill="#858585"/>
<path d="M679.74 730.28 A70.11 70.11 0 0 1 679.69 731.08 L673.34 730.71 A63.74 63.74 0 0 0 673.37 729.99 Z" fill="#858585"/>
<path d="M679.61 732.34 A70.11 70.11 0 0 1 679.59 732.63 L673.24 732.13 A63.74 63.74 0 0 0 673.26 731.87 Z" fill="#858585"/>
<path d="M679.58 732.76 A70.11 70.11 0 0 1 679.53 733.29 L673.19 732.73 A63.74 63.74 0 0 0 673.23 732.24 Z" fill="#858585"/>
<path d="M679.51 733.52 A70.11 70.11 0 0 1 679.43 734.4 L673.09 733.73 A63.74 63.74 0 0 0 673.17 732.94 Z" fill="#1e1e1e"/>
<path d="M679.39 734.77 A70.11 70.11 0 0 1 679.32 735.34 L673 734.59 A63.74 63.74 0 0 0 673.06 734.07 Z" fill="#858585"/>
<path d="M679.29 735.58 A70.11 70.11 0 0 1 679.25 735.94 L672.93 735.14 A63.74 63.74 0 0 0 672.97 734.81 Z" fill="#1e1e1e"/>
<path d="M679.23 736.1 A70.11 70.11 0 0 1 679.11 736.95 L672.81 736.05 A63.74 63.74 0 0 0 672.91 735.28 Z" fill="#858585"/>
<path d="M679.06 737.31 A70.11 70.11 0 0 1 678.93 738.18 L672.64 737.17 A63.74 63.74 0 0 0 672.76 736.39 Z" fill="#858585"/>
<path d="M678.87 738.55 A70.11 70.11 0 0 1 678.78 739.04 L672.51 737.96 A63.74 63.74 0 0 0 672.58 737.51 Z" fill="#1e1e1e"/>
<path d="M678.75 739.25 A70.11 70.11 0 0 1 678.69 739.58 L672.42 738.45 A63.74 63.74 0 0 0 672.47 738.15 Z" fill="#1e1e1e"/>
<path d="M678.19 742.06 A70.11 70.11 0 0 1 678.01 742.89 L671.8 741.46 A63.74 63.74 0 0 0 671.97 740.7 Z" fill="#f6f6f6"/>
<path d="M677.72 744.07 A70.11 70.11 0 0 1 677.57 744.68 L671.4 743.09 A63.74 63.74 0 0 0 671.54 742.52 Z" fill="#1e1e1e"/>
<path d="M677.25 745.85 A70.11 70.11 0 0 1 677.04 746.59 L670.93 744.82 A63.74 63.74 0 0 0 671.12 744.14 Z" fill="#f6f6f6"/>
<path d="M676.95 746.91 A70.11 70.11 0 0 1 676.73 747.63 L670.64 745.77 A63.74 63.74 0 0 0 670.84 745.11 Z" fill="#858585"/>
<path d="M676.64 747.94 A70.11 70.11 0 0 1 676.42 748.63 L670.36 746.67 A63.74 63.74 0 0 0 670.56 746.05 Z" fill="#f6f6f6"/>
<path d="M675.58 751.08 A70.11 70.11 0 0 1 675.4 751.56 L669.43 749.34 A63.74 63.74 0 0 0 669.59 748.9 Z" fill="#1e1e1e"/>
<path d="M675.33 751.76 A70.11 70.11 0 0 1 675.02 752.57 L669.08 750.26 A63.74 63.74 0 0 0 669.36 749.52 Z" fill="#d88a8a"/>
<path d="M674.88 752.92 A70.11 70.11 0 0 1 674.71 753.33 L668.81 750.95 A63.74 63.74 0 0 0 668.96 750.57 Z" fill="#f6f6f6"/>
<path d="M674.15 754.69 A70.11 70.11 0 0 1 673.93 755.19 L668.1 752.64 A63.74 63.74 0 0 0 668.3 752.18 Z" fill="#f6f6f6"/>
<path d="M673.84 755.41 A70.11 70.11 0 0 1 673.65 755.82 L667.84 753.21 A63.74 63.74 0 0 0 668.01 752.84 Z" fill="#1e1e1e"/>
<path d="M673.57 756 A70.11 70.11 0 0 1 673.45 756.27 L667.66 753.62 A63.74 63.74 0 0 0 667.77 753.38 Z" fill="#1e1e1e"/>
<path d="M673.4 756.39 A70.11 70.11 0 0 1 673.17 756.87 L667.4 754.17 A63.74 63.74 0 0 0 667.61 753.73 Z" fill="#1e1e1e"/>
<path d="M673.07 757.08 A70.11 70.11 0 0 1 672.82 757.61 L667.08 754.84 A63.74 63.74 0 0 0 667.32 754.36 Z" fill="#1e1e1e"/>
<path d="M672.71 757.84 A70.11 70.11 0 0 1 672.51 758.25 L666.8 755.42 A63.74 63.74 0 0 0 666.98 755.05 Z" fill="#858585"/>
<path d="M672.42 758.42 A70.11 70.11 0 0 1 672.21 758.84 L666.53 755.95 A63.74 63.74 0 0 0 666.72 755.58 Z" fill="#f6f6f6"/>
<path d="M677.94 743.19 A70.11 70.11 0 0 1 677.76 743.9 L671.58 742.38 A63.74 63.74 0 0 0 671.74 741.73 Z" fill="#c83a3a"/>
<path d="M679.81 727.1 A70.11 70.11 0 0 1 672.14 758.99 L666.46 756.09 A63.74 63.74 0 0 0 673.44 727.1 Z" fill="none" stroke="#6e6e6e" stroke-width="0.5"/>
<text x="681.57" y="746.42" font-size="5.69" fill="#111" text-anchor="middle" transform="rotate(-76.47 681.57 744.39)">1</text>
<path d="M671.57 760.07 A70.11 70.11 0 0 1 650.46 784.14 L646.76 778.96 A63.74 63.74 0 0 0 665.95 757.08 Z" fill="#dadada"/>
<path d="M671.57 760.07 A70.11 70.11 0 0 1 671.24 760.68 L665.65 757.63 A63.74 63.74 0 0 0 665.95 757.08 Z" fill="#f6f6f6"/>
<path d="M670.79 761.49 A70.11 70.11 0 0 1 670.55 761.92 L665.02 758.76 A63.74 63.74 0 0 0 665.24 758.36 Z" fill="#858585"/>
<path d="M670.44 762.11 A70.11 70.11 0 0 1 670.07 762.75 L664.58 759.51 A63.74 63.74 0 0 0 664.92 758.93 Z" fill="#858585"/>
<path d="M669.9 763.02 A70.11 70.11 0 0 1 669.44 763.79 L664.01 760.46 A63.74 63.74 0 0 0 664.43 759.76 Z" fill="#f6f6f6"/>
<path d="M669.24 764.12 A70.11 70.11 0 0 1 668.96 764.56 L663.58 761.16 A63.74 63.74 0 0 0 663.83 760.75 Z" fill="#1e1e1e"/>
<path d="M668.84 764.75 A70.11 70.11 0 0 1 668.42 765.4 L663.09 761.92 A63.74 63.74 0 0 0 663.47 761.33 Z" fill="#1e1e1e"/>
<path d="M668.24 765.67 A70.11 70.11 0 0 1 667.92 766.15 L662.63 762.6 A63.74 63.74 0 0 0 662.92 762.17 Z" fill="#f6f6f6"/>
<path d="M667.31 767.04 A70.11 70.11 0 0 1 667.01 767.48 L661.8 763.81 A63.74 63.74 0 0 0 662.08 763.42 Z" fill="#858585"/>
<path d="M666.88 767.67 A70.11 70.11 0 0 1 666.67 767.95 L661.5 764.24 A63.74 63.74 0 0 0 661.68 763.98 Z" fill="#1e1e1e"/>
<path d="M666.59 768.07 A70.11 70.11 0 0 1 666.38 768.36 L661.23 764.61 A63.74 63.74 0 0 0 661.42 764.35 Z" fill="#f6f6f6"/>
<path d="M666.29 768.48 A70.11 70.11 0 0 1 666.08 768.77 L660.96 764.98 A63.74 63.74 0 0 0 661.15 764.72 Z" fill="#f6f6f6"/>
<path d="M663.75 771.75 A70.11 70.11 0 0 1 663.17 772.45 L658.31 768.33 A63.74 63.74 0 0 0 658.84 767.69 Z" fill="#d88a8a"/>
<path d="M662.91 772.74 A70.11 70.11 0 0 1 662.32 773.43 L657.54 769.22 A63.74 63.74 0 0 0 658.08 768.6 Z" fill="#f6f6f6"/>
<path d="M662.06 773.72 A70.11 70.11 0 0 1 661.45 774.4 L656.75 770.1 A63.74 63.74 0 0 0 657.3 769.49 Z" fill="#858585"/>
<path d="M661.18 774.69 A70.11 70.11 0 0 1 660.96 774.93 L656.3 770.58 A63.74 63.74 0 0 0 656.51 770.36 Z" fill="#1e1e1e"/>
<path d="M660.03 775.9 A70.11 70.11 0 0 1 659.66 776.28 L655.12 771.81 A63.74 63.74 0 0 0 655.46 771.47 Z" fill="#d88a8a"/>
<path d="M659.5 776.44 A70.11 70.11 0 0 1 658.89 777.05 L654.42 772.52 A63.74 63.74 0 0 0 654.98 771.96 Z" fill="#858585"/>
<path d="M657.16 778.7 A70.11 70.11 0 0 1 656.93 778.91 L652.64 774.2 A63.74 63.74 0 0 0 652.84 774.02 Z" fill="#858585"/>
<path d="M656.84 779 A70.11 70.11 0 0 1 656.42 779.37 L652.17 774.63 A63.74 63.74 0 0 0 652.55 774.28 Z" fill="#1e1e1e"/>
<path d="M655.37 780.29 A70.11 70.11 0 0 1 654.95 780.65 L650.84 775.78 A63.74 63.74 0 0 0 651.22 775.46 Z" fill="#d88a8a"/>
<path d="M654.77 780.8 A70.11 70.11 0 0 1 654.42 781.09 L650.36 776.18 A63.74 63.74 0 0 0 650.68 775.92 Z" fill="#858585"/>
<path d="M654.28 781.21 A70.11 70.11 0 0 1 653.72 781.66 L649.72 776.71 A63.74 63.74 0 0 0 650.23 776.3 Z" fill="#f6f6f6"/>
<path d="M653.1 782.16 A70.11 70.11 0 0 1 652.37 782.73 L648.49 777.67 A63.74 63.74 0 0 0 649.16 777.16 Z" fill="#f6f6f6"/>
<path d="M652.05 782.97 A70.11 70.11 0 0 1 651.35 783.49 L647.57 778.37 A63.74 63.74 0 0 0 648.21 777.89 Z" fill="#858585"/>
<path d="M651.05 783.72 A70.11 70.11 0 0 1 650.59 784.05 L646.88 778.87 A63.74 63.74 0 0 0 647.29 778.57 Z" fill="#f6f6f6"/>
<path d="M665.06 770.12 A70.11 70.11 0 0 1 664.61 770.69 L659.62 766.73 A63.74 63.74 0 0 0 660.03 766.21 Z" fill="#c83a3a"/>
<path d="M671.57 760.07 A70.11 70.11 0 0 1 650.46 784.14 L646.76 778.96 A63.74 63.74 0 0 0 665.95 757.08 Z" fill="none" stroke="#6e6e6e" stroke-width="0.5"/>
<text x="665.27" y="777.87" font-size="5.69" fill="#111" text-anchor="middle" transform="rotate(-48.75 665.27 775.84)">2</text>
<path d="M649.46 784.84 A70.11 70.11 0 0 1 625.54 795.39 L624.1 789.19 A63.74 63.74 0 0 0 645.85 779.6 Z" fill="#dadada"/>
<path d="M649.46 784.84 A70.11 70.11 0 0 1 648.96 785.19 L645.39 779.91 A63.74 63.74 0 0 0 645.85 779.6 Z" fill="#1e1e1e"/>
<path d="M648.14 785.73 A70.11 70.11 0 0 1 647.52 786.13 L644.09 780.77 A63.74 63.74 0 0 0 644.64 780.4 Z" fill="#1e1e1e"/>
<path d="M646.22 786.94 A70.11 70.11 0 0 1 645.96 787.1 L642.66 781.65 A63.74 63.74 0 0 0 642.9 781.51 Z" fill="#f6f6f6"/>
<path d="M645.85 787.17 A70.11 70.11 0 0 1 645.39 787.44 L642.15 781.96 A63.74 63.74 0 0 0 642.56 781.71 Z" fill="#1e1e1e"/>
<path d="M645.2 787.55 A70.11 70.11 0 0 1 644.78 787.8 L641.59 782.29 A63.74 63.74 0 0 0 641.98 782.06 Z" fill="#f6f6f6"/>
<path d="M644.6 787.9 A70.11 70.11 0 0 1 644.3 788.08 L641.15 782.54 A63.74 63.74 0 0 0 641.43 782.38 Z" fill="#858585"/>
<path d="M644.17 788.15 A70.11 70.11 0 0 1 643.53 788.5 L640.46 782.93 A63.74 63.74 0 0 0 641.03 782.6 Z" fill="#1e1e1e"/>
<path d="M643.26 788.65 A70.11 70.11 0 0 1 642.51 789.06 L639.53 783.43 A63.74 63.74 0 0 0 640.21 783.06 Z" fill="#f6f6f6"/>
<path d="M642.19 789.22 A70.11 70.11 0 0 1 641.58 789.54 L638.68 783.87 A63.74 63.74 0 0 0 639.24 783.58 Z" fill="#1e1e1e"/>
<path d="M641.31 789.68 A70.11 70.11 0 0 1 641.02 789.82 L638.18 784.12 A63.74 63.74 0 0 0 638.44 783.99 Z" fill="#f6f6f6"/>
<path d="M640.9 789.88 A70.11 70.11 0 0 1 640.55 790.06 L637.75 784.34 A63.74 63.74 0 0 0 638.06 784.18 Z" fill="#f6f6f6"/>
<path d="M640.4 790.13 A70.11 70.11 0 0 1 639.62 790.5 L636.9 784.74 A63.74 63.74 0 0 0 637.61 784.4 Z" fill="#f6f6f6"/>
<path d="M639.28 790.66 A70.11 70.11 0 0 1 638.77 790.9 L636.13 785.1 A63.74 63.74 0 0 0 636.6 784.89 Z" fill="#1e1e1e"/>
<path d="M638.55 791 A70.11 70.11 0 0 1 638.22 791.14 L635.63 785.33 A63.74 63.74 0 0 0 635.93 785.19 Z" fill="#1e1e1e"/>
<path d="M636.9 791.72 A70.11 70.11 0 0 1 636.54 791.87 L634.1 785.98 A63.74 63.74 0 0 0 634.43 785.85 Z" fill="#1e1e1e"/>
<path d="M635.17 792.42 A70.11 70.11 0 0 1 634.59 792.64 L632.33 786.69 A63.74 63.74 0 0 0 632.86 786.48 Z" fill="#858585"/>
<path d="M632.9 793.26 A70.11 70.11 0 0 1 632.34 793.45 L630.28 787.42 A63.74 63.74 0 0 0 630.8 787.25 Z" fill="#f6f6f6"/>
<path d="M632.09 793.54 A70.11 70.11 0 0 1 631.25 793.81 L629.29 787.75 A63.74 63.74 0 0 0 630.06 787.5 Z" fill="#1e1e1e"/>
<path d="M630.88 793.93 A70.11 70.11 0 0 1 630.43 794.07 L628.55 787.99 A63.74 63.74 0 0 0 628.96 787.86 Z" fill="#1e1e1e"/>
<path d="M629.29 794.41 A70.11 70.11 0 0 1 628.8 794.55 L627.07 788.43 A63.74 63.74 0 0 0 627.51 788.3 Z" fill="#f6f6f6"/>
<path d="M628.59 794.61 A70.11 70.11 0 0 1 628.01 794.77 L626.35 788.63 A63.74 63.74 0 0 0 626.87 788.48 Z" fill="#1e1e1e"/>
<path d="M627.77 794.84 A70.11 70.11 0 0 1 627.34 794.95 L625.74 788.79 A63.74 63.74 0 0 0 626.12 788.69 Z" fill="#1e1e1e"/>
<path d="M627.16 795 A70.11 70.11 0 0 1 626.68 795.12 L625.14 788.94 A63.74 63.74 0 0 0 625.57 788.83 Z" fill="#1e1e1e"/>
<path d="M626.47 795.17 A70.11 70.11 0 0 1 625.84 795.32 L624.37 789.13 A63.74 63.74 0 0 0 624.95 788.99 Z" fill="#1e1e1e"/>
<path d="M625.56 795.39 A70.11 70.11 0 0 1 625.54 795.39 L624.1 789.19 A63.74 63.74 0 0 0 624.12 789.18 Z" fill="#f6f6f6"/>
<path d="M639.3 790.65 A70.11 70.11 0 0 1 638.63 790.96 L636 785.16 A63.74 63.74 0 0 0 636.61 784.88 Z" fill="#c83a3a"/>
<path d="M649.46 784.84 A70.11 70.11 0 0 1 625.54 795.39 L624.1 789.19 A63.74 63.74 0 0 0 645.85 779.6 Z" fill="none" stroke="#6e6e6e" stroke-width="0.5"/>
<text x="639.53" y="796.76" font-size="5.69" fill="#111" text-anchor="middle" transform="rotate(-23.8 639.53 794.73)">3</text>
<path d="M624.34 795.66 A70.11 70.11 0 0 1 599.11 796.4 L600.07 790.11 A63.74 63.74 0 0 0 623.01 789.43 Z" fill="#dadada"/>
<path d="M624.34 795.66 A70.11 70.11 0 0 1 623.96 795.74 L622.67 789.51 A63.74 63.74 0 0 0 623.01 789.43 Z" fill="#858585"/>
<path d="M623.8 795.77 A70.11 70.11 0 0 1 623.4 795.85 L622.16 789.61 A63.74 63.74 0 0 0 622.52 789.54 Z" fill="#858585"/>
<path d="M623.23 795.89 A70.11 70.11 0 0 1 622.39 796.05 L621.24 789.79 A63.74 63.74 0 0 0 622 789.64 Z" fill="#1e1e1e"/>
<path d="M622.02 796.12 A70.11 70.11 0 0 1 621.24 796.25 L620.2 789.97 A63.74 63.74 0 0 0 620.91 789.85 Z" fill="#d88a8a"/>
<path d="M620.91 796.31 A70.11 70.11 0 0 1 620.62 796.35 L619.62 790.06 A63.74 63.74 0 0 0 619.89 790.02 Z" fill="#1e1e1e"/>
<path d="M617.64 796.76 A70.11 70.11 0 0 1 616.94 796.83 L616.29 790.5 A63.74 63.74 0 0 0 616.92 790.43 Z" fill="#858585"/>
<path d="M616.65 796.86 A70.11 70.11 0 0 1 615.88 796.93 L615.32 790.59 A63.74 63.74 0 0 0 616.02 790.52 Z" fill="#f6f6f6"/>
<path d="M614.72 797.03 A70.11 70.11 0 0 1 614.17 797.06 L613.76 790.71 A63.74 63.74 0 0 0 614.26 790.67 Z" fill="#f6f6f6"/>
<path d="M612.35 797.16 A70.11 70.11 0 0 1 611.47 797.18 L611.31 790.82 A63.74 63.74 0 0 0 612.11 790.79 Z" fill="#1e1e1e"/>
<path d="M611.1 797.19 A70.11 70.11 0 0 1 610.68 797.2 L610.59 790.83 A63.74 63.74 0 0 0 610.97 790.83 Z" fill="#f6f6f6"/>
<path d="M609.7 797.21 A70.11 70.11 0 0 1 609.38 797.21 L609.41 790.84 A63.74 63.74 0 0 0 609.7 790.84 Z" fill="#1e1e1e"/>
<path d="M609.24 797.21 A70.11 70.11 0 0 1 608.4 797.2 L608.52 790.83 A63.74 63.74 0 0 0 609.28 790.84 Z" fill="#d88a8a"/>
<path d="M608.05 797.19 A70.11 70.11 0 0 1 607.46 797.17 L607.66 790.81 A63.74 63.74 0 0 0 608.2 790.82 Z" fill="#858585"/>
<path d="M606.31 797.13 A70.11 70.11 0 0 1 605.55 797.08 L605.93 790.73 A63.74 63.74 0 0 0 606.62 790.76 Z" fill="#f6f6f6"/>
<path d="M605.22 797.06 A70.11 70.11 0 0 1 604.85 797.04 L605.29 790.69 A63.74 63.74 0 0 0 605.63 790.71 Z" fill="#858585"/>
<path d="M601.54 796.73 A70.11 70.11 0 0 1 600.9 796.65 L601.7 790.33 A63.74 63.74 0 0 0 602.28 790.41 Z" fill="#1e1e1e"/>
<path d="M600.63 796.62 A70.11 70.11 0 0 1 599.76 796.5 L600.66 790.19 A63.74 63.74 0 0 0 601.46 790.3 Z" fill="#f6f6f6"/>
<path d="M599.38 796.44 A70.11 70.11 0 0 1 599.11 796.4 L600.07 790.11 A63.74 63.74 0 0 0 600.32 790.14 Z" fill="#f6f6f6"/>
<path d="M618.16 796.7 A70.11 70.11 0 0 1 617.43 796.78 L616.73 790.45 A63.74 63.74 0 0 0 617.39 790.37 Z" fill="#c83a3a"/>
<path d="M624.34 795.66 A70.11 70.11 0 0 1 599.11 796.4 L600.07 790.11 A63.74 63.74 0 0 0 623.01 789.43 Z" fill="none" stroke="#6e6e6e" stroke-width="0.5"/>
<text x="611.87" y="803.01" font-size="5.69" fill="#111" text-anchor="middle" transform="rotate(-1.68 611.87 800.99)">4</text>
<path d="M597.9 796.21 A70.11 70.11 0 0 1 575.36 788.22 L578.48 782.67 A63.74 63.74 0 0 0 598.97 789.93 Z" fill="#dadada"/>
<path d="M597.9 796.21 A70.11 70.11 0 0 1 597.33 796.11 L598.45 789.84 A63.74 63.74 0 0 0 598.97 789.93 Z" fill="#f6f6f6"/>
<path d="M595.96 795.85 A70.11 70.11 0 0 1 595.56 795.77 L596.85 789.53 A63.74 63.74 0 0 0 597.21 789.6 Z" fill="#1e1e1e"/>
<path d="M595.39 795.73 A70.11 70.11 0 0 1 594.64 795.57 L596.01 789.35 A63.74 63.74 0 0 0 596.69 789.5 Z" fill="#d88a8a"/>
<path d="M593.38 795.28 A70.11 70.11 0 0 1 592.76 795.13 L594.3 788.95 A63.74 63.74 0 0 0 594.86 789.09 Z" fill="#858585"/>
<path d="M592.5 795.06 A70.11 70.11 0 0 1 592.02 794.94 L593.63 788.78 A63.74 63.74 0 0 0 594.06 788.89 Z" fill="#1e1e1e"/>
<path d="M591.82 794.89 A70.11 70.11 0 0 1 591.04 794.68 L592.74 788.54 A63.74 63.74 0 0 0 593.44 788.73 Z" fill="#858585"/>
<path d="M590.71 794.59 A70.11 70.11 0 0 1 590.12 794.42 L591.9 788.3 A63.74 63.74 0 0 0 592.43 788.46 Z" fill="#1e1e1e"/>
<path d="M589.87 794.34 A70.11 70.11 0 0 1 589.03 794.09 L590.9 788 A63.74 63.74 0 0 0 591.67 788.23 Z" fill="#858585"/>
<path d="M588.24 793.84 A70.11 70.11 0 0 1 587.5 793.6 L589.52 787.56 A63.74 63.74 0 0 0 590.19 787.78 Z" fill="#1e1e1e"/>
<path d="M587.19 793.49 A70.11 70.11 0 0 1 586.51 793.26 L588.62 787.25 A63.74 63.74 0 0 0 589.23 787.46 Z" fill="#1e1e1e"/>
<path d="M585.66 792.96 A70.11 70.11 0 0 1 584.83 792.65 L587.09 786.69 A63.74 63.74 0 0 0 587.85 786.97 Z" fill="#1e1e1e"/>
<path d="M584.47 792.51 A70.11 70.11 0 0 1 584.15 792.39 L586.47 786.45 A63.74 63.74 0 0 0 586.76 786.57 Z" fill="#858585"/>
<path d="M583.49 792.12 A70.11 70.11 0 0 1 583.18 792 L585.59 786.1 A63.74 63.74 0 0 0 585.87 786.22 Z" fill="#1e1e1e"/>
<path d="M583.04 791.94 A70.11 70.11 0 0 1 582.38 791.66 L584.86 785.8 A63.74 63.74 0 0 0 585.46 786.05 Z" fill="#f6f6f6"/>
<path d="M582.09 791.54 A70.11 70.11 0 0 1 581.45 791.26 L584.01 785.43 A63.74 63.74 0 0 0 584.6 785.69 Z" fill="#858585"/>
<path d="M581.17 791.14 A70.11 70.11 0 0 1 580.4 790.79 L583.06 785 A63.74 63.74 0 0 0 583.76 785.32 Z" fill="#d88a8a"/>
<path d="M580.06 790.64 A70.11 70.11 0 0 1 579.55 790.39 L582.29 784.64 A63.74 63.74 0 0 0 582.76 784.86 Z" fill="#f6f6f6"/>
<path d="M579.33 790.29 A70.11 70.11 0 0 1 578.72 789.99 L581.54 784.28 A63.74 63.74 0 0 0 582.09 784.55 Z" fill="#f6f6f6"/>
<path d="M575.66 788.39 A70.11 70.11 0 0 1 575.36 788.22 L578.48 782.67 A63.74 63.74 0 0 0 578.76 782.82 Z" fill="#f6f6f6"/>
<path d="M592.03 794.94 A70.11 70.11 0 0 1 591.32 794.75 L592.99 788.61 A63.74 63.74 0 0 0 593.63 788.78 Z" fill="#c83a3a"/>
<path d="M597.9 796.21 A70.11 70.11 0 0 1 575.36 788.22 L578.48 782.67 A63.74 63.74 0 0 0 598.97 789.93 Z" fill="none" stroke="#6e6e6e" stroke-width="0.5"/>
<text x="585.02" y="798.8" font-size="5.69" fill="#111" text-anchor="middle" transform="rotate(19.51 585.02 796.78)">5</text>
<path d="M574.3 787.61 A70.11 70.11 0 0 1 556.87 773.19 L561.67 769 A63.74 63.74 0 0 0 577.52 782.12 Z" fill="#dadada"/>
<path d="M573.84 787.34 A70.11 70.11 0 0 1 573.44 787.1 L576.74 781.65 A63.74 63.74 0 0 0 577.1 781.87 Z" fill="#d88a8a"/>
<path d="M572.7 786.65 A70.11 70.11 0 0 1 572.11 786.28 L575.52 780.9 A63.74 63.74 0 0 0 576.06 781.24 Z" fill="#1e1e1e"/>
<path d="M570.78 785.41 A70.11 70.11 0 0 1 570.33 785.11 L573.9 779.84 A63.74 63.74 0 0 0 574.31 780.11 Z" fill="#f6f6f6"/>
<path d="M568.3 783.68 A70.11 70.11 0 0 1 567.59 783.15 L571.41 778.06 A63.74 63.74 0 0 0 572.06 778.54 Z" fill="#1e1e1e"/>
<path d="M567.28 782.92 A70.11 70.11 0 0 1 567.05 782.74 L570.93 777.69 A63.74 63.74 0 0 0 571.14 777.85 Z" fill="#858585"/>
<path d="M563.12 779.49 A70.11 70.11 0 0 1 562.51 778.95 L566.8 774.24 A63.74 63.74 0 0 0 567.35 774.73 Z" fill="#858585"/>
<path d="M562.25 778.71 A70.11 70.11 0 0 1 561.93 778.41 L566.27 773.75 A63.74 63.74 0 0 0 566.56 774.02 Z" fill="#1e1e1e"/>
<path d="M559.84 776.38 A70.11 70.11 0 0 1 559.46 776 L564.02 771.55 A63.74 63.74 0 0 0 564.37 771.91 Z" fill="#858585"/>
<path d="M559.3 775.83 A70.11 70.11 0 0 1 559.1 775.63 L563.7 771.22 A63.74 63.74 0 0 0 563.88 771.4 Z" fill="#1e1e1e"/>
<path d="M559.02 775.54 A70.11 70.11 0 0 1 558.52 775.01 L563.17 770.66 A63.74 63.74 0 0 0 563.62 771.14 Z" fill="#858585"/>
<path d="M558.31 774.79 A70.11 70.11 0 0 1 557.7 774.12 L562.42 769.85 A63.74 63.74 0 0 0 562.98 770.46 Z" fill="#1e1e1e"/>
<path d="M567.96 783.43 A70.11 70.11 0 0 1 567.37 782.99 L571.22 777.91 A63.74 63.74 0 0 0 571.75 778.31 Z" fill="#c83a3a"/>
<path d="M574.3 787.61 A70.11 70.11 0 0 1 556.87 773.19 L561.67 769 A63.74 63.74 0 0 0 577.52 782.12 Z" fill="none" stroke="#6e6e6e" stroke-width="0.5"/>
<text x="562.57" y="786.07" font-size="5.69" fill="#111" text-anchor="middle" transform="rotate(39.61 562.57 784.04)">6</text>
<path d="M556.07 772.26 A70.11 70.11 0 0 1 545.08 754.3 L550.95 751.83 A63.74 63.74 0 0 0 560.95 768.16 Z" fill="#dadada"/>
<path d="M556.07 772.26 A70.11 70.11 0 0 1 555.58 771.66 L560.5 767.62 A63.74 63.74 0 0 0 560.95 768.16 Z" fill="#f6f6f6"/>
<path d="M555.37 771.41 A70.11 70.11 0 0 1 555.04 771 L560 767.01 A63.74 63.74 0 0 0 560.31 767.38 Z" fill="#858585"/>
<path d="M554.9 770.82 A70.11 70.11 0 0 1 554.61 770.47 L559.62 766.53 A63.74 63.74 0 0 0 559.87 766.85 Z" fill="#1e1e1e"/>
<path d="M554.49 770.31 A70.11 70.11 0 0 1 554.11 769.82 L559.16 765.94 A63.74 63.74 0 0 0 559.51 766.39 Z" fill="#d88a8a"/>
<path d="M553.95 769.61 A70.11 70.11 0 0 1 553.47 768.97 L558.58 765.17 A63.74 63.74 0 0 0 559.02 765.75 Z" fill="#f6f6f6"/>
<path d="M553.27 768.7 A70.11 70.11 0 0 1 552.74 767.97 L557.91 764.26 A63.74 63.74 0 0 0 558.4 764.92 Z" fill="#1e1e1e"/>
<path d="M551.76 766.57 A70.11 70.11 0 0 1 551.29 765.88 L556.6 762.35 A63.74 63.74 0 0 0 557.02 762.98 Z" fill="#1e1e1e"/>
<path d="M549.93 763.74 A70.11 70.11 0 0 1 549.78 763.49 L555.22 760.18 A63.74 63.74 0 0 0 555.36 760.41 Z" fill="#f6f6f6"/>
<path d="M549.45 762.95 A70.11 70.11 0 0 1 549.04 762.25 L554.55 759.06 A63.74 63.74 0 0 0 554.92 759.69 Z" fill="#f6f6f6"/>
<path d="M548.87 761.95 A70.11 70.11 0 0 1 548.44 761.19 L554.01 758.1 A63.74 63.74 0 0 0 554.4 758.79 Z" fill="#1e1e1e"/>
<path d="M548.26 760.87 A70.11 70.11 0 0 1 547.97 760.34 L553.58 757.32 A63.74 63.74 0 0 0 553.84 757.8 Z" fill="#1e1e1e"/>
<path d="M546.94 758.34 A70.11 70.11 0 0 1 546.8 758.07 L552.52 755.25 A63.74 63.74 0 0 0 552.64 755.5 Z" fill="#1e1e1e"/>
<path d="M546.75 757.95 A70.11 70.11 0 0 1 546.6 757.65 L552.33 754.87 A63.74 63.74 0 0 0 552.46 755.15 Z" fill="#f6f6f6"/>
<path d="M546.11 756.62 A70.11 70.11 0 0 1 545.9 756.16 L551.69 753.52 A63.74 63.74 0 0 0 551.89 753.94 Z" fill="#f6f6f6"/>
<path d="M545.81 755.96 A70.11 70.11 0 0 1 545.5 755.28 L551.34 752.72 A63.74 63.74 0 0 0 551.61 753.33 Z" fill="#858585"/>
<path d="M545.38 754.99 A70.11 70.11 0 0 1 545.14 754.43 L551.01 751.95 A63.74 63.74 0 0 0 551.22 752.45 Z" fill="#858585"/>
<path d="M551.5 766.19 A70.11 70.11 0 0 1 551.1 765.58 L556.42 762.08 A63.74 63.74 0 0 0 556.79 762.64 Z" fill="#c83a3a"/>
<path d="M556.07 772.26 A70.11 70.11 0 0 1 545.08 754.3 L550.95 751.83 A63.74 63.74 0 0 0 560.95 768.16 Z" fill="none" stroke="#6e6e6e" stroke-width="0.5"/>
<text x="546.65" y="767.71" font-size="5.69" fill="#111" text-anchor="middle" transform="rotate(58.54 546.65 765.68)">7</text>
<path d="M544.62 753.17 A70.11 70.11 0 0 1 539.97 734.36 L546.3 733.7 A63.74 63.74 0 0 0 550.53 750.8 Z" fill="#dadada"/>
<path d="M544.62 753.17 A70.11 70.11 0 0 1 544.4 752.62 L550.33 750.3 A63.74 63.74 0 0 0 550.53 750.8 Z" fill="#f6f6f6"/>
<path d="M544.31 752.38 A70.11 70.11 0 0 1 543.99 751.54 L549.96 749.32 A63.74 63.74 0 0 0 550.25 750.08 Z" fill="#f6f6f6"/>
<path d="M543.86 751.18 A70.11 70.11 0 0 1 543.71 750.77 L549.71 748.62 A63.74 63.74 0 0 0 549.84 748.99 Z" fill="#858585"/>
<path d="M543.65 750.6 A70.11 70.11 0 0 1 543.35 749.76 L549.38 747.7 A63.74 63.74 0 0 0 549.65 748.46 Z" fill="#f6f6f6"/>
<path d="M543.23 749.4 A70.11 70.11 0 0 1 542.97 748.58 L549.03 746.63 A63.74 63.74 0 0 0 549.27 747.37 Z" fill="#858585"/>
<path d="M542.06 745.55 A70.11 70.11 0 0 1 541.97 745.19 L548.12 743.55 A63.74 63.74 0 0 0 548.21 743.87 Z" fill="#1e1e1e"/>
<path d="M541.93 745.04 A70.11 70.11 0 0 1 541.71 744.19 L547.88 742.64 A63.74 63.74 0 0 0 548.08 743.41 Z" fill="#858585"/>
<path d="M541.62 743.83 A70.11 70.11 0 0 1 541.51 743.38 L547.7 741.9 A63.74 63.74 0 0 0 547.8 742.31 Z" fill="#f6f6f6"/>
<path d="M541.46 743.18 A70.11 70.11 0 0 1 541.35 742.7 L547.56 741.29 A63.74 63.74 0 0 0 547.66 741.72 Z" fill="#858585"/>
<path d="M541.3 742.5 A70.11 70.11 0 0 1 541.19 741.98 L547.41 740.63 A63.74 63.74 0 0 0 547.52 741.1 Z" fill="#1e1e1e"/>
<path d="M541.14 741.75 A70.11 70.11 0 0 1 540.97 740.95 L547.22 739.69 A63.74 63.74 0 0 0 547.37 740.42 Z" fill="#d88a8a"/>
<path d="M540.91 740.6 A70.11 70.11 0 0 1 540.84 740.25 L547.09 739.05 A63.74 63.74 0 0 0 547.16 739.38 Z" fill="#1e1e1e"/>
<path d="M540.81 740.09 A70.11 70.11 0 0 1 540.75 739.8 L547.02 738.65 A63.74 63.74 0 0 0 547.07 738.91 Z" fill="#f6f6f6"/>
<path d="M540.73 739.68 A70.11 70.11 0 0 1 540.6 738.97 L546.88 737.89 A63.74 63.74 0 0 0 547 738.53 Z" fill="#f6f6f6"/>
<path d="M540.55 738.66 A70.11 70.11 0 0 1 540.49 738.26 L546.77 737.25 A63.74 63.74 0 0 0 546.83 737.61 Z" fill="#f6f6f6"/>
<path d="M540.46 738.09 A70.11 70.11 0 0 1 540.35 737.34 L546.65 736.41 A63.74 63.74 0 0 0 546.75 737.09 Z" fill="#1e1e1e"/>
<path d="M540.3 737.02 A70.11 70.11 0 0 1 540.25 736.65 L546.56 735.78 A63.74 63.74 0 0 0 546.6 736.12 Z" fill="#858585"/>
<path d="M540.22 736.49 A70.11 70.11 0 0 1 540.15 735.95 L546.47 735.15 A63.74 63.74 0 0 0 546.54 735.64 Z" fill="#f6f6f6"/>
<path d="M540.13 735.72 A70.11 70.11 0 0 1 540.05 735.07 L546.37 734.34 A63.74 63.74 0 0 0 546.45 734.94 Z" fill="#858585"/>
<path d="M540.02 734.79 A70.11 70.11 0 0 1 539.97 734.36 L546.3 733.7 A63.74 63.74 0 0 0 546.35 734.09 Z" fill="#f6f6f6"/>
<path d="M542.74 747.88 A70.11 70.11 0 0 1 542.53 747.18 L548.63 745.36 A63.74 63.74 0 0 0 548.83 745.99 Z" fill="#c83a3a"/>
<path d="M544.62 753.17 A70.11 70.11 0 0 1 539.97 734.36 L546.3 733.7 A63.74 63.74 0 0 0 550.53 750.8 Z" fill="none" stroke="#6e6e6e" stroke-width="0.5"/>
<text x="537.94" y="746.86" font-size="5.69" fill="#111" text-anchor="middle" transform="rotate(76.12 537.94 744.84)">8</text>
<path d="M539.85 733.14 A70.11 70.11 0 0 1 540.74 714.46 L547.01 715.61 A63.74 63.74 0 0 0 546.2 732.59 Z" fill="#dadada"/>
<path d="M539.85 733.14 A70.11 70.11 0 0 1 539.8 732.51 L546.15 732.02 A63.74 63.74 0 0 0 546.2 732.59 Z" fill="#f6f6f6"/>
<path d="M539.78 732.24 A70.11 70.11 0 0 1 539.74 731.64 L546.1 731.23 A63.74 63.74 0 0 0 546.13 731.77 Z" fill="#1e1e1e"/>
<path d="M539.72 731.38 A70.11 70.11 0 0 1 539.69 730.87 L546.05 730.52 A63.74 63.74 0 0 0 546.08 730.99 Z" fill="#1e1e1e"/>
<path d="M539.68 730.65 A70.11 70.11 0 0 1 539.65 729.95 L546.01 729.69 A63.74 63.74 0 0 0 546.04 730.32 Z" fill="#858585"/>
<path d="M539.64 729.66 A70.11 70.11 0 0 1 539.61 728.78 L545.98 728.63 A63.74 63.74 0 0 0 546 729.42 Z" fill="#f6f6f6"/>
<path d="M539.6 728.41 A70.11 70.11 0 0 1 539.59 727.65 L545.96 727.6 A63.74 63.74 0 0 0 545.97 728.29 Z" fill="#858585"/>
<path d="M539.61 725.65 A70.11 70.11 0 0 1 539.63 724.76 L546 724.97 A63.74 63.74 0 0 0 545.98 725.79 Z" fill="#858585"/>
<path d="M539.65 724.37 A70.11 70.11 0 0 1 539.68 723.62 L546.04 723.94 A63.74 63.74 0 0 0 546.01 724.62 Z" fill="#1e1e1e"/>
<path d="M539.78 722.03 A70.11 70.11 0 0 1 539.8 721.74 L546.15 722.23 A63.74 63.74 0 0 0 546.13 722.49 Z" fill="#f6f6f6"/>
<path d="M539.86 721.02 A70.11 70.11 0 0 1 539.92 720.38 L546.26 720.99 A63.74 63.74 0 0 0 546.2 721.57 Z" fill="#f6f6f6"/>
<path d="M539.94 720.11 A70.11 70.11 0 0 1 539.99 719.64 L546.32 720.32 A63.74 63.74 0 0 0 546.28 720.74 Z" fill="#858585"/>
<path d="M540.01 719.43 A70.11 70.11 0 0 1 540.1 718.72 L546.42 719.48 A63.74 63.74 0 0 0 546.34 720.13 Z" fill="#1e1e1e"/>
<path d="M540.13 718.42 A70.11 70.11 0 0 1 540.19 717.94 L546.51 718.77 A63.74 63.74 0 0 0 546.45 719.21 Z" fill="#f6f6f6"/>
<path d="M540.22 717.74 A70.11 70.11 0 0 1 540.34 716.9 L546.64 717.83 A63.74 63.74 0 0 0 546.53 718.59 Z" fill="#1e1e1e"/>
<path d="M540.39 716.54 A70.11 70.11 0 0 1 540.44 716.21 L546.74 717.2 A63.74 63.74 0 0 0 546.69 717.5 Z" fill="#858585"/>
<path d="M540.47 716.06 A70.11 70.11 0 0 1 540.61 715.22 L546.88 716.3 A63.74 63.74 0 0 0 546.76 717.07 Z" fill="#1e1e1e"/>
<path d="M539.59 727.01 A70.11 70.11 0 0 1 539.6 726.27 L545.97 726.35 A63.74 63.74 0 0 0 545.96 727.01 Z" fill="#c83a3a"/>
<path d="M539.85 733.14 A70.11 70.11 0 0 1 540.74 714.46 L547.01 715.61 A63.74 63.74 0 0 0 546.2 732.59 Z" fill="none" stroke="#6e6e6e" stroke-width="0.5"/>
<text x="535.86" y="725.62" font-size="5.69" fill="#111" text-anchor="middle" transform="rotate(-87.28 535.86 723.59)">9</text>
<path d="M540.97 713.26 A70.11 70.11 0 0 1 546.74 696.26 L552.46 699.06 A63.74 63.74 0 0 0 547.22 714.52 Z" fill="#dadada"/>
<path d="M541.19 712.23 A70.11 70.11 0 0 1 541.28 711.82 L547.49 713.21 A63.74 63.74 0 0 0 547.41 713.58 Z" fill="#1e1e1e"/>
<path d="M541.32 711.65 A70.11 70.11 0 0 1 541.4 711.29 L547.6 712.73 A63.74 63.74 0 0 0 547.53 713.05 Z" fill="#f6f6f6"/>
<path d="M541.43 711.14 A70.11 70.11 0 0 1 541.58 710.51 L547.77 712.02 A63.74 63.74 0 0 0 547.64 712.59 Z" fill="#d88a8a"/>
<path d="M541.65 710.25 A70.11 70.11 0 0 1 541.82 709.56 L547.99 711.15 A63.74 63.74 0 0 0 547.83 711.78 Z" fill="#858585"/>
<path d="M542.08 708.6 A70.11 70.11 0 0 1 542.26 707.96 L548.38 709.7 A63.74 63.74 0 0 0 548.22 710.28 Z" fill="#1e1e1e"/>
<path d="M542.33 707.69 A70.11 70.11 0 0 1 542.47 707.22 L548.58 709.03 A63.74 63.74 0 0 0 548.45 709.45 Z" fill="#1e1e1e"/>
<path d="M542.53 707.03 A70.11 70.11 0 0 1 542.69 706.5 L548.78 708.37 A63.74 63.74 0 0 0 548.63 708.85 Z" fill="#858585"/>
<path d="M542.76 706.27 A70.11 70.11 0 0 1 542.85 705.98 L548.92 707.9 A63.74 63.74 0 0 0 548.84 708.16 Z" fill="#1e1e1e"/>
<path d="M542.89 705.86 A70.11 70.11 0 0 1 543.07 705.29 L549.13 707.27 A63.74 63.74 0 0 0 548.96 707.79 Z" fill="#f6f6f6"/>
<path d="M543.15 705.04 A70.11 70.11 0 0 1 543.34 704.5 L549.37 706.55 A63.74 63.74 0 0 0 549.2 707.04 Z" fill="#f6f6f6"/>
<path d="M543.74 703.35 A70.11 70.11 0 0 1 544.06 702.47 L550.02 704.71 A63.74 63.74 0 0 0 549.73 705.5 Z" fill="#1e1e1e"/>
<path d="M544.2 702.1 A70.11 70.11 0 0 1 544.43 701.51 L550.36 703.83 A63.74 63.74 0 0 0 550.15 704.37 Z" fill="#1e1e1e"/>
<path d="M544.53 701.25 A70.11 70.11 0 0 1 544.65 700.96 L550.56 703.34 A63.74 63.74 0 0 0 550.45 703.6 Z" fill="#1e1e1e"/>
<path d="M544.7 700.84 A70.11 70.11 0 0 1 544.88 700.39 L550.77 702.82 A63.74 63.74 0 0 0 550.6 703.23 Z" fill="#d88a8a"/>
<path d="M544.96 700.2 A70.11 70.11 0 0 1 545.3 699.4 L551.15 701.91 A63.74 63.74 0 0 0 550.84 702.65 Z" fill="#858585"/>
<path d="M545.45 699.05 A70.11 70.11 0 0 1 545.75 698.38 L551.56 700.99 A63.74 63.74 0 0 0 551.28 701.6 Z" fill="#858585"/>
<path d="M545.88 698.09 A70.11 70.11 0 0 1 546.05 697.7 L551.84 700.37 A63.74 63.74 0 0 0 551.68 700.72 Z" fill="#1e1e1e"/>
<path d="M546.13 697.53 A70.11 70.11 0 0 1 546.5 696.76 L552.24 699.52 A63.74 63.74 0 0 0 551.91 700.22 Z" fill="#1e1e1e"/>
<path d="M542.12 708.45 A70.11 70.11 0 0 1 542.32 707.74 L548.44 709.5 A63.74 63.74 0 0 0 548.26 710.15 Z" fill="#c83a3a"/>
<path d="M540.97 713.26 A70.11 70.11 0 0 1 546.74 696.26 L552.46 699.06 A63.74 63.74 0 0 0 547.22 714.52 Z" fill="none" stroke="#6e6e6e" stroke-width="0.5"/>
<text x="539.7" y="705.38" font-size="5.69" fill="#111" text-anchor="middle" transform="rotate(-71.26 539.7 703.35)">10</text>
<path d="M547.29 695.17 A70.11 70.11 0 0 1 557.4 680.42 L562.15 684.66 A63.74 63.74 0 0 0 552.96 698.07 Z" fill="#dadada"/>
<path d="M547.29 695.17 A70.11 70.11 0 0 1 547.62 694.52 L553.26 697.48 A63.74 63.74 0 0 0 552.96 698.07 Z" fill="#f6f6f6"/>
<path d="M547.77 694.25 A70.11 70.11 0 0 1 548.13 693.57 L553.73 696.61 A63.74 63.74 0 0 0 553.39 697.23 Z" fill="#858585"/>
<path d="M548.29 693.28 A70.11 70.11 0 0 1 548.68 692.59 L554.22 695.72 A63.74 63.74 0 0 0 553.87 696.35 Z" fill="#1e1e1e"/>
<path d="M549.45 691.26 A70.11 70.11 0 0 1 549.8 690.67 L555.24 693.98 A63.74 63.74 0 0 0 554.92 694.51 Z" fill="#f6f6f6"/>
<path d="M550.9 688.93 A70.11 70.11 0 0 1 551.2 688.47 L556.51 691.98 A63.74 63.74 0 0 0 556.24 692.4 Z" fill="#1e1e1e"/>
<path d="M551.33 688.27 A70.11 70.11 0 0 1 551.78 687.6 L557.04 691.19 A63.74 63.74 0 0 0 556.63 691.8 Z" fill="#f6f6f6"/>
<path d="M551.97 687.32 A70.11 70.11 0 0 1 552.29 686.86 L557.51 690.51 A63.74 63.74 0 0 0 557.22 690.93 Z" fill="#f6f6f6"/>
<path d="M552.71 686.26 A70.11 70.11 0 0 1 553.2 685.59 L558.34 689.36 A63.74 63.74 0 0 0 557.89 689.97 Z" fill="#858585"/>
<path d="M553.42 685.3 A70.11 70.11 0 0 1 553.8 684.79 L558.87 688.64 A63.74 63.74 0 0 0 558.53 689.1 Z" fill="#f6f6f6"/>
<path d="M554.65 683.69 A70.11 70.11 0 0 1 555.08 683.14 L560.05 687.14 A63.74 63.74 0 0 0 559.65 687.63 Z" fill="#f6f6f6"/>
<path d="M555.27 682.91 A70.11 70.11 0 0 1 555.68 682.42 L560.59 686.48 A63.74 63.74 0 0 0 560.22 686.93 Z" fill="#f6f6f6"/>
<path d="M555.85 682.2 A70.11 70.11 0 0 1 556.22 681.77 L561.08 685.89 A63.74 63.74 0 0 0 560.75 686.28 Z" fill="#d88a8a"/>
<path d="M556.38 681.58 A70.11 70.11 0 0 1 556.68 681.23 L561.5 685.4 A63.74 63.74 0 0 0 561.22 685.72 Z" fill="#1e1e1e"/>
<path d="M556.81 681.08 A70.11 70.11 0 0 1 557.07 680.78 L561.86 684.99 A63.74 63.74 0 0 0 561.62 685.26 Z" fill="#1e1e1e"/>
<path d="M557.19 680.65 A70.11 70.11 0 0 1 557.4 680.42 L562.15 684.66 A63.74 63.74 0 0 0 561.96 684.87 Z" fill="#1e1e1e"/>
<path d="M550.6 689.38 A70.11 70.11 0 0 1 551 688.77 L556.33 692.25 A63.74 63.74 0 0 0 555.97 692.81 Z" fill="#c83a3a"/>
<path d="M547.29 695.17 A70.11 70.11 0 0 1 557.4 680.42 L562.15 684.66 A63.74 63.74 0 0 0 552.96 698.07 Z" fill="none" stroke="#6e6e6e" stroke-width="0.5"/>
<text x="548.72" y="687.34" font-size="5.69" fill="#111" text-anchor="middle" transform="rotate(-55.58 548.72 685.31)">11</text>
<path d="M558.22 679.51 A70.11 70.11 0 0 1 571.8 668.12 L575.24 673.48 A63.74 63.74 0 0 0 562.89 683.84 Z" fill="#dadada"/>
<path d="M558.22 679.51 A70.11 70.11 0 0 1 558.46 679.26 L563.11 683.6 A63.74 63.74 0 0 0 562.89 683.84 Z" fill="#1e1e1e"/>
<path d="M558.99 678.69 A70.11 70.11 0 0 1 559.28 678.39 L563.86 682.82 A63.74 63.74 0 0 0 563.59 683.09 Z" fill="#858585"/>
<path d="M559.4 678.26 A70.11 70.11 0 0 1 559.98 677.67 L564.5 682.16 A63.74 63.74 0 0 0 563.97 682.7 Z" fill="#1e1e1e"/>
<path d="M560.89 676.78 A70.11 70.11 0 0 1 561.23 676.45 L565.63 681.05 A63.74 63.74 0 0 0 565.32 681.35 Z" fill="#1e1e1e"/>
<path d="M561.72 675.98 A70.11 70.11 0 0 1 562.12 675.61 L566.44 680.29 A63.74 63.74 0 0 0 566.08 680.63 Z" fill="#1e1e1e"/>
<path d="M564.18 673.78 A70.11 70.11 0 0 1 564.69 673.35 L568.78 678.23 A63.74 63.74 0 0 0 568.31 678.63 Z" fill="#858585"/>
<path d="M564.91 673.17 A70.11 70.11 0 0 1 565.17 672.95 L569.21 677.87 A63.74 63.74 0 0 0 568.98 678.07 Z" fill="#1e1e1e"/>
<path d="M565.28 672.86 A70.11 70.11 0 0 1 565.53 672.66 L569.54 677.6 A63.74 63.74 0 0 0 569.31 677.79 Z" fill="#858585"/>
<path d="M565.64 672.57 A70.11 70.11 0 0 1 566.05 672.24 L570.02 677.22 A63.74 63.74 0 0 0 569.64 677.52 Z" fill="#1e1e1e"/>
<path d="M566.23 672.1 A70.11 70.11 0 0 1 566.73 671.7 L570.64 676.73 A63.74 63.74 0 0 0 570.18 677.09 Z" fill="#f6f6f6"/>
<path d="M567.8 670.89 A70.11 70.11 0 0 1 568.09 670.68 L571.87 675.8 A63.74 63.74 0 0 0 571.61 676 Z" fill="#858585"/>
<path d="M568.21 670.59 A70.11 70.11 0 0 1 568.89 670.09 L572.6 675.27 A63.74 63.74 0 0 0 571.98 675.72 Z" fill="#1e1e1e"/>
<path d="M569.53 669.65 A70.11 70.11 0 0 1 569.95 669.35 L573.56 674.6 A63.74 63.74 0 0 0 573.18 674.86 Z" fill="#1e1e1e"/>
<path d="M570.51 668.97 A70.11 70.11 0 0 1 571.1 668.58 L574.6 673.89 A63.74 63.74 0 0 0 574.07 674.25 Z" fill="#1e1e1e"/>
<path d="M571.35 668.41 A70.11 70.11 0 0 1 571.8 668.12 L575.24 673.48 A63.74 63.74 0 0 0 574.84 673.74 Z" fill="#f6f6f6"/>
<path d="M561.22 676.46 A70.11 70.11 0 0 1 561.75 675.95 L566.11 680.6 A63.74 63.74 0 0 0 565.62 681.06 Z" fill="#c83a3a"/>
<path d="M558.22 679.51 A70.11 70.11 0 0 1 571.8 668.12 L575.24 673.48 A63.74 63.74 0 0 0 562.89 683.84 Z" fill="none" stroke="#6e6e6e" stroke-width="0.5"/>
<text x="562.2" y="672.49" font-size="5.69" fill="#111" text-anchor="middle" transform="rotate(-39.99 562.2 670.46)">12</text>
<path d="M572.84 667.47 A70.11 70.11 0 0 1 586.62 660.9 L588.72 666.92 A63.74 63.74 0 0 0 576.19 672.88 Z" fill="#dadada"/>
<path d="M572.84 667.47 A70.11 70.11 0 0 1 573.08 667.31 L576.41 672.75 A63.74 63.74 0 0 0 576.19 672.88 Z" fill="#f6f6f6"/>
<path d="M573.19 667.25 A70.11 70.11 0 0 1 573.61 666.99 L576.89 672.45 A63.74 63.74 0 0 0 576.51 672.69 Z" fill="#858585"/>
<path d="M573.8 666.88 A70.11 70.11 0 0 1 574.56 666.44 L577.75 671.95 A63.74 63.74 0 0 0 577.06 672.35 Z" fill="#858585"/>
<path d="M574.88 666.25 A70.11 70.11 0 0 1 575.22 666.06 L578.35 671.6 A63.74 63.74 0 0 0 578.05 671.78 Z" fill="#1e1e1e"/>
<path d="M575.72 665.78 A70.11 70.11 0 0 1 576.25 665.49 L579.29 671.09 A63.74 63.74 0 0 0 578.81 671.35 Z" fill="#858585"/>
<path d="M576.48 665.36 A70.11 70.11 0 0 1 577.02 665.07 L579.99 670.71 A63.74 63.74 0 0 0 579.49 670.97 Z" fill="#d88a8a"/>
<path d="M577.26 664.95 A70.11 70.11 0 0 1 578.02 664.56 L580.9 670.24 A63.74 63.74 0 0 0 580.2 670.6 Z" fill="#858585"/>
<path d="M578.35 664.39 A70.11 70.11 0 0 1 579.09 664.03 L581.87 669.76 A63.74 63.74 0 0 0 581.2 670.09 Z" fill="#1e1e1e"/>
<path d="M579.41 663.87 A70.11 70.11 0 0 1 580.16 663.52 L582.85 669.29 A63.74 63.74 0 0 0 582.16 669.62 Z" fill="#f6f6f6"/>
<path d="M580.49 663.37 A70.11 70.11 0 0 1 580.75 663.25 L583.38 669.05 A63.74 63.74 0 0 0 583.14 669.16 Z" fill="#1e1e1e"/>
<path d="M580.87 663.2 A70.11 70.11 0 0 1 581.25 663.03 L583.83 668.85 A63.74 63.74 0 0 0 583.49 669 Z" fill="#d88a8a"/>
<path d="M581.41 662.95 A70.11 70.11 0 0 1 581.93 662.73 L584.45 668.57 A63.74 63.74 0 0 0 583.98 668.78 Z" fill="#f6f6f6"/>
<path d="M582.16 662.63 A70.11 70.11 0 0 1 582.77 662.37 L585.22 668.25 A63.74 63.74 0 0 0 584.66 668.49 Z" fill="#1e1e1e"/>
<path d="M584.13 661.82 A70.11 70.11 0 0 1 584.86 661.54 L587.12 667.5 A63.74 63.74 0 0 0 586.46 667.75 Z" fill="#f6f6f6"/>
<path d="M585.17 661.42 A70.11 70.11 0 0 1 585.9 661.16 L588.06 667.15 A63.74 63.74 0 0 0 587.4 667.39 Z" fill="#f6f6f6"/>
<path d="M574.46 666.49 A70.11 70.11 0 0 1 575.09 666.13 L578.24 671.67 A63.74 63.74 0 0 0 577.66 672 Z" fill="#c83a3a"/>
<path d="M572.84 667.47 A70.11 70.11 0 0 1 586.62 660.9 L588.72 666.92 A63.74 63.74 0 0 0 576.19 672.88 Z" fill="none" stroke="#6e6e6e" stroke-width="0.5"/>
<text x="577.91" y="662.39" font-size="5.69" fill="#111" text-anchor="middle" transform="rotate(-25.47 577.91 660.37)">13</text>
<path d="M587.78 660.51 A70.11 70.11 0 0 1 601.68 657.45 L602.41 663.78 A63.74 63.74 0 0 0 589.77 666.56 Z" fill="#dadada"/>
<path d="M587.78 660.51 A70.11 70.11 0 0 1 588.05 660.42 L590.02 666.48 A63.74 63.74 0 0 0 589.77 666.56 Z" fill="#1e1e1e"/>
<path d="M588.17 660.38 A70.11 70.11 0 0 1 588.82 660.17 L590.72 666.25 A63.74 63.74 0 0 0 590.13 666.44 Z" fill="#f6f6f6"/>
<path d="M589.1 660.09 A70.11 70.11 0 0 1 589.73 659.9 L591.55 666 A63.74 63.74 0 0 0 590.97 666.18 Z" fill="#858585"/>
<path d="M590.01 659.82 A70.11 70.11 0 0 1 590.87 659.57 L592.58 665.7 A63.74 63.74 0 0 0 591.79 665.93 Z" fill="#1e1e1e"/>
<path d="M593.28 658.94 A70.11 70.11 0 0 1 593.9 658.8 L595.33 665 A63.74 63.74 0 0 0 594.77 665.14 Z" fill="#f6f6f6"/>
<path d="M594.16 658.74 A70.11 70.11 0 0 1 595.05 658.54 L596.38 664.77 A63.74 63.74 0 0 0 595.57 664.95 Z" fill="#858585"/>
<path d="M595.42 658.46 A70.11 70.11 0 0 1 596.24 658.3 L597.46 664.55 A63.74 63.74 0 0 0 596.72 664.7 Z" fill="#f6f6f6"/>
<path d="M596.58 658.23 A70.11 70.11 0 0 1 596.95 658.16 L598.11 664.42 A63.74 63.74 0 0 0 597.77 664.49 Z" fill="#1e1e1e"/>
<path d="M597.11 658.13 A70.11 70.11 0 0 1 597.43 658.08 L598.54 664.35 A63.74 63.74 0 0 0 598.25 664.4 Z" fill="#1e1e1e"/>
<path d="M597.56 658.05 A70.11 70.11 0 0 1 597.88 658 L598.95 664.27 A63.74 63.74 0 0 0 598.66 664.32 Z" fill="#1e1e1e"/>
<path d="M598.01 657.97 A70.11 70.11 0 0 1 598.67 657.87 L599.67 664.16 A63.74 63.74 0 0 0 599.08 664.25 Z" fill="#f6f6f6"/>
<path d="M598.95 657.82 A70.11 70.11 0 0 1 599.68 657.71 L600.59 664.02 A63.74 63.74 0 0 0 599.92 664.12 Z" fill="#1e1e1e"/>
<path d="M599.99 657.67 A70.11 70.11 0 0 1 600.82 657.56 L601.63 663.88 A63.74 63.74 0 0 0 600.87 663.98 Z" fill="#858585"/>
<path d="M601.17 657.51 A70.11 70.11 0 0 1 601.68 657.45 L602.41 663.78 A63.74 63.74 0 0 0 601.95 663.83 Z" fill="#1e1e1e"/>
<path d="M589.58 659.94 A70.11 70.11 0 0 1 590.28 659.73 L592.05 665.85 A63.74 63.74 0 0 0 591.41 666.04 Z" fill="#c83a3a"/>
<path d="M587.78 660.51 A70.11 70.11 0 0 1 601.68 657.45 L602.41 663.78 A63.74 63.74 0 0 0 589.77 666.56 Z" fill="none" stroke="#6e6e6e" stroke-width="0.5"/>
<text x="593.83" y="656.93" font-size="5.69" fill="#111" text-anchor="middle" transform="rotate(-12.4 593.83 654.9)">14</text>
<path d="M602.89 657.32 A70.11 70.11 0 0 1 616.49 657.32 L615.87 663.66 A63.74 63.74 0 0 0 603.51 663.66 Z" fill="#dadada"/>
<path d="M602.89 657.32 A70.11 70.11 0 0 1 603.4 657.28 L603.98 663.62 A63.74 63.74 0 0 0 603.51 663.66 Z" fill="#f6f6f6"/>
<path d="M603.62 657.26 A70.11 70.11 0 0 1 604.04 657.22 L604.55 663.57 A63.74 63.74 0 0 0 604.17 663.6 Z" fill="#858585"/>
<path d="M604.21 657.21 A70.11 70.11 0 0 1 604.91 657.16 L605.35 663.51 A63.74 63.74 0 0 0 604.71 663.56 Z" fill="#f6f6f6"/>
<path d="M605.21 657.14 A70.11 70.11 0 0 1 605.86 657.1 L606.21 663.46 A63.74 63.74 0 0 0 605.62 663.49 Z" fill="#858585"/>
<path d="M606.84 657.05 A70.11 70.11 0 0 1 607.12 657.04 L607.36 663.4 A63.74 63.74 0 0 0 607.1 663.41 Z" fill="#f6f6f6"/>
<path d="M607.75 657.02 A70.11 70.11 0 0 1 608.26 657.01 L608.4 663.38 A63.74 63.74 0 0 0 607.92 663.39 Z" fill="#858585"/>
<path d="M608.49 657 A70.11 70.11 0 0 1 608.9 657 L608.97 663.37 A63.74 63.74 0 0 0 608.6 663.37 Z" fill="#858585"/>
<path d="M609.83 656.99 A70.11 70.11 0 0 1 610.75 657 L610.66 663.37 A63.74 63.74 0 0 0 609.82 663.36 Z" fill="#d88a8a"/>
<path d="M612.03 657.03 A70.11 70.11 0 0 1 612.42 657.05 L612.17 663.41 A63.74 63.74 0 0 0 611.81 663.4 Z" fill="#1e1e1e"/>
<path d="M613.43 657.09 A70.11 70.11 0 0 1 613.82 657.11 L613.45 663.47 A63.74 63.74 0 0 0 613.09 663.45 Z" fill="#1e1e1e"/>
<path d="M613.99 657.12 A70.11 70.11 0 0 1 614.84 657.18 L614.38 663.53 A63.74 63.74 0 0 0 613.6 663.48 Z" fill="#858585"/>
<path d="M615.21 657.21 A70.11 70.11 0 0 1 616.01 657.28 L615.44 663.62 A63.74 63.74 0 0 0 614.71 663.56 Z" fill="#f6f6f6"/>
<path d="M616.36 657.31 A70.11 70.11 0 0 1 616.49 657.32 L615.87 663.66 A63.74 63.74 0 0 0 615.75 663.65 Z" fill="#f6f6f6"/>
<path d="M605.04 657.15 A70.11 70.11 0 0 1 605.78 657.1 L606.13 663.46 A63.74 63.74 0 0 0 605.47 663.5 Z" fill="#c83a3a"/>
<path d="M602.89 657.32 A70.11 70.11 0 0 1 616.49 657.32 L615.87 663.66 A63.74 63.74 0 0 0 603.51 663.66 Z" fill="none" stroke="#6e6e6e" stroke-width="0.5"/>
<text x="609.69" y="655.21" font-size="5.69" fill="#111" text-anchor="middle" transform="rotate(-0.01 609.69 653.18)">15</text>
<path d="M617.71 657.45 A70.11 70.11 0 0 1 629.45 659.83 L627.66 665.94 A63.74 63.74 0 0 0 616.98 663.78 Z" fill="#dadada"/>
<path d="M618.25 657.52 A70.11 70.11 0 0 1 619.12 657.63 L618.27 663.94 A63.74 63.74 0 0 0 617.48 663.84 Z" fill="#1e1e1e"/>
<path d="M619.49 657.68 A70.11 70.11 0 0 1 620.37 657.81 L619.4 664.1 A63.74 63.74 0 0 0 618.61 663.99 Z" fill="#f6f6f6"/>
<path d="M621.39 657.97 A70.11 70.11 0 0 1 622.21 658.12 L621.07 664.38 A63.74 63.74 0 0 0 620.33 664.25 Z" fill="#1e1e1e"/>
<path d="M622.56 658.18 A70.11 70.11 0 0 1 622.94 658.25 L621.73 664.51 A63.74 63.74 0 0 0 621.39 664.44 Z" fill="#1e1e1e"/>
<path d="M623.1 658.29 A70.11 70.11 0 0 1 623.59 658.38 L622.32 664.62 A63.74 63.74 0 0 0 621.88 664.54 Z" fill="#f6f6f6"/>
<path d="M623.79 658.42 A70.11 70.11 0 0 1 624.5 658.57 L623.15 664.8 A63.74 63.74 0 0 0 622.51 664.66 Z" fill="#f6f6f6"/>
<path d="M624.8 658.64 A70.11 70.11 0 0 1 625.7 658.84 L624.24 665.04 A63.74 63.74 0 0 0 623.43 664.86 Z" fill="#858585"/>
<path d="M626.67 659.08 A70.11 70.11 0 0 1 627.56 659.31 L625.94 665.47 A63.74 63.74 0 0 0 625.13 665.26 Z" fill="#f6f6f6"/>
<path d="M622.07 658.09 A70.11 70.11 0 0 1 622.79 658.23 L621.61 664.48 A63.74 63.74 0 0 0 620.95 664.36 Z" fill="#c83a3a"/>
<path d="M617.71 657.45 A70.11 70.11 0 0 1 629.45 659.83 L627.66 665.94 A63.74 63.74 0 0 0 616.98 663.78 Z" fill="none" stroke="#6e6e6e" stroke-width="0.5"/>
<text x="624.39" y="656.68" font-size="5.69" fill="#111" text-anchor="middle" transform="rotate(11.46 624.39 654.65)">16</text>
<path d="M630.62 660.19 A70.11 70.11 0 0 1 640.63 664.18 L637.82 669.9 A63.74 63.74 0 0 0 628.72 666.27 Z" fill="#dadada"/>
<path d="M632.58 660.83 A70.11 70.11 0 0 1 633.4 661.12 L631.25 667.12 A63.74 63.74 0 0 0 630.5 666.85 Z" fill="#f6f6f6"/>
<path d="M633.76 661.25 A70.11 70.11 0 0 1 634.03 661.35 L631.82 667.32 A63.74 63.74 0 0 0 631.57 667.23 Z" fill="#858585"/>
<path d="M634.76 661.62 A70.11 70.11 0 0 1 635.51 661.92 L633.16 667.84 A63.74 63.74 0 0 0 632.48 667.57 Z" fill="#f6f6f6"/>
<path d="M635.83 662.04 A70.11 70.11 0 0 1 636.4 662.28 L633.97 668.16 A63.74 63.74 0 0 0 633.45 667.95 Z" fill="#858585"/>
<path d="M636.64 662.38 A70.11 70.11 0 0 1 637.34 662.67 L634.83 668.53 A63.74 63.74 0 0 0 634.19 668.26 Z" fill="#858585"/>
<path d="M637.64 662.8 A70.11 70.11 0 0 1 637.98 662.95 L635.41 668.78 A63.74 63.74 0 0 0 635.1 668.64 Z" fill="#1e1e1e"/>
<path d="M638.13 663.01 A70.11 70.11 0 0 1 638.91 663.37 L636.26 669.16 A63.74 63.74 0 0 0 635.54 668.84 Z" fill="#858585"/>
<path d="M640.36 664.05 A70.11 70.11 0 0 1 640.63 664.18 L637.82 669.9 A63.74 63.74 0 0 0 637.57 669.78 Z" fill="#1e1e1e"/>
<path d="M633.3 661.08 A70.11 70.11 0 0 1 633.99 661.33 L631.78 667.31 A63.74 63.74 0 0 0 631.15 667.08 Z" fill="#c83a3a"/>
<path d="M630.62 660.19 A70.11 70.11 0 0 1 640.63 664.18 L637.82 669.9 A63.74 63.74 0 0 0 628.72 666.27 Z" fill="none" stroke="#6e6e6e" stroke-width="0.5"/>
<text x="637.12" y="660.48" font-size="5.69" fill="#111" text-anchor="middle" transform="rotate(21.77 637.12 658.45)">17</text>
<path d="M641.72 664.73 A70.11 70.11 0 0 1 650.56 670.13 L646.85 675.31 A63.74 63.74 0 0 0 638.81 670.4 Z" fill="#dadada"/>
<path d="M642.74 665.27 A70.11 70.11 0 0 1 643.55 665.71 L640.48 671.28 A63.74 63.74 0 0 0 639.74 670.89 Z" fill="#858585"/>
<path d="M643.9 665.9 A70.11 70.11 0 0 1 644.25 666.1 L641.11 671.64 A63.74 63.74 0 0 0 640.79 671.46 Z" fill="#f6f6f6"/>
<path d="M644.89 666.46 A70.11 70.11 0 0 1 645.3 666.7 L642.07 672.19 A63.74 63.74 0 0 0 641.69 671.97 Z" fill="#1e1e1e"/>
<path d="M649.07 669.09 A70.11 70.11 0 0 1 649.64 669.48 L646.01 674.72 A63.74 63.74 0 0 0 645.49 674.36 Z" fill="#f6f6f6"/>
<path d="M649.89 669.65 A70.11 70.11 0 0 1 650.48 670.08 L646.78 675.26 A63.74 63.74 0 0 0 646.23 674.87 Z" fill="#1e1e1e"/>
<path d="M643.39 665.62 A70.11 70.11 0 0 1 644.03 665.98 L640.91 671.53 A63.74 63.74 0 0 0 640.33 671.2 Z" fill="#c83a3a"/>
<path d="M641.72 664.73 A70.11 70.11 0 0 1 650.56 670.13 L646.85 675.31 A63.74 63.74 0 0 0 638.81 670.4 Z" fill="none" stroke="#6e6e6e" stroke-width="0.5"/>
<text x="648.23" y="666.04" font-size="5.69" fill="#111" text-anchor="middle" transform="rotate(31.41 648.23 664.02)">18</text>
<path d="M651.55 670.85 A70.11 70.11 0 0 1 657.58 675.89 L653.23 680.54 A63.74 63.74 0 0 0 647.75 675.96 Z" fill="#dadada"/>
<path d="M652.56 671.62 A70.11 70.11 0 0 1 653.05 672 L649.11 677.01 A63.74 63.74 0 0 0 648.67 676.66 Z" fill="#1e1e1e"/>
<path d="M655.58 674.09 A70.11 70.11 0 0 1 655.8 674.28 L651.61 679.08 A63.74 63.74 0 0 0 651.41 678.9 Z" fill="#f6f6f6"/>
<path d="M655.89 674.36 A70.11 70.11 0 0 1 656.56 674.95 L652.3 679.69 A63.74 63.74 0 0 0 651.69 679.15 Z" fill="#858585"/>
<path d="M656.84 675.21 A70.11 70.11 0 0 1 657.12 675.46 L652.81 680.15 A63.74 63.74 0 0 0 652.56 679.92 Z" fill="#1e1e1e"/>
<path d="M657.23 675.57 A70.11 70.11 0 0 1 657.58 675.89 L653.23 680.54 A63.74 63.74 0 0 0 652.91 680.25 Z" fill="#f6f6f6"/>
<path d="M653.99 672.75 A70.11 70.11 0 0 1 654.55 673.22 L650.48 678.11 A63.74 63.74 0 0 0 649.96 677.69 Z" fill="#c83a3a"/>
<path d="M651.55 670.85 A70.11 70.11 0 0 1 657.58 675.89 L653.23 680.54 A63.74 63.74 0 0 0 647.75 675.96 Z" fill="none" stroke="#6e6e6e" stroke-width="0.5"/>
<text x="657.08" y="672.39" font-size="5.69" fill="#111" text-anchor="middle" transform="rotate(39.86 657.08 670.36)">19</text>
<path d="M658.46 676.73 A70.11 70.11 0 0 1 664.12 682.9 L659.17 686.91 A63.74 63.74 0 0 0 654.03 681.3 Z" fill="#dadada"/>
<path d="M658.46 676.73 A70.11 70.11 0 0 1 658.94 677.2 L654.47 681.73 A63.74 63.74 0 0 0 654.03 681.3 Z" fill="#1e1e1e"/>
<path d="M659.15 677.4 A70.11 70.11 0 0 1 659.5 677.75 L654.97 682.23 A63.74 63.74 0 0 0 654.65 681.92 Z" fill="#1e1e1e"/>
<path d="M659.64 677.9 A70.11 70.11 0 0 1 660.28 678.55 L655.68 682.96 A63.74 63.74 0 0 0 655.11 682.37 Z" fill="#f6f6f6"/>
<path d="M660.55 678.83 A70.11 70.11 0 0 1 661.01 679.32 L656.35 683.66 A63.74 63.74 0 0 0 655.93 683.22 Z" fill="#f6f6f6"/>
<path d="M661.2 679.54 A70.11 70.11 0 0 1 661.68 680.05 L656.96 684.33 A63.74 63.74 0 0 0 656.53 683.86 Z" fill="#1e1e1e"/>
<path d="M662.87 681.41 A70.11 70.11 0 0 1 663.23 681.82 L658.36 685.94 A63.74 63.74 0 0 0 658.04 685.56 Z" fill="#858585"/>
<path d="M663.38 682 A70.11 70.11 0 0 1 663.79 682.5 L658.88 686.55 A63.74 63.74 0 0 0 658.5 686.1 Z" fill="#d88a8a"/>
<path d="M663.97 682.71 A70.11 70.11 0 0 1 664.12 682.9 L659.17 686.91 A63.74 63.74 0 0 0 659.04 686.75 Z" fill="#1e1e1e"/>
<path d="M660.81 679.12 A70.11 70.11 0 0 1 661.31 679.65 L656.62 683.96 A63.74 63.74 0 0 0 656.17 683.48 Z" fill="#c83a3a"/>
<path d="M658.46 676.73 A70.11 70.11 0 0 1 664.12 682.9 L659.17 686.91 A63.74 63.74 0 0 0 654.03 681.3 Z" fill="none" stroke="#6e6e6e" stroke-width="0.5"/>
<text x="664.19" y="679.18" font-size="5.69" fill="#111" text-anchor="middle" transform="rotate(47.49 664.19 677.15)">20</text>
<path d="M664.88 683.85 A70.11 70.11 0 0 1 668.59 689.06 L663.24 692.51 A63.74 63.74 0 0 0 659.87 687.78 Z" fill="#dadada"/>
<path d="M664.88 683.85 A70.11 70.11 0 0 1 665.44 684.58 L660.38 688.44 A63.74 63.74 0 0 0 659.87 687.78 Z" fill="#1e1e1e"/>
<path d="M665.68 684.89 A70.11 70.11 0 0 1 666.18 685.57 L661.05 689.34 A63.74 63.74 0 0 0 660.59 688.73 Z" fill="#858585"/>
<path d="M666.39 685.86 A70.11 70.11 0 0 1 666.61 686.16 L661.44 689.88 A63.74 63.74 0 0 0 661.24 689.6 Z" fill="#f6f6f6"/>
<path d="M667.34 687.19 A70.11 70.11 0 0 1 667.58 687.55 L662.33 691.14 A63.74 63.74 0 0 0 662.1 690.81 Z" fill="#858585"/>
<path d="M668.22 688.5 A70.11 70.11 0 0 1 668.59 689.06 L663.24 692.51 A63.74 63.74 0 0 0 662.91 692.01 Z" fill="#1e1e1e"/>
<path d="M665.71 684.93 A70.11 70.11 0 0 1 666.15 685.52 L661.02 689.3 A63.74 63.74 0 0 0 660.62 688.76 Z" fill="#c83a3a"/>
<path d="M664.88 683.85 A70.11 70.11 0 0 1 668.59 689.06 L663.24 692.51 A63.74 63.74 0 0 0 659.87 687.78 Z" fill="none" stroke="#6e6e6e" stroke-width="0.5"/>
<text x="669.9" y="686.23" font-size="5.69" fill="#111" text-anchor="middle" transform="rotate(54.52 669.9 684.2)">21</text>
<path d="M669.24 690.09 A70.11 70.11 0 0 1 672.55 696.04 L666.84 698.86 A63.74 63.74 0 0 0 663.83 693.45 Z" fill="#dadada"/>
<path d="M671.58 694.16 A70.11 70.11 0 0 1 671.81 694.59 L666.17 697.54 A63.74 63.74 0 0 0 665.96 697.15 Z" fill="#858585"/>
<path d="M671.91 694.77 A70.11 70.11 0 0 1 672.08 695.09 L666.41 698 A63.74 63.74 0 0 0 666.26 697.71 Z" fill="#f6f6f6"/>
<path d="M672.15 695.23 A70.11 70.11 0 0 1 672.32 695.58 L666.63 698.45 A63.74 63.74 0 0 0 666.47 698.13 Z" fill="#f6f6f6"/>
<path d="M672.4 695.73 A70.11 70.11 0 0 1 672.55 696.03 L666.84 698.85 A63.74 63.74 0 0 0 666.7 698.58 Z" fill="#858585"/>
<path d="M670.08 691.48 A70.11 70.11 0 0 1 670.45 692.11 L664.93 695.29 A63.74 63.74 0 0 0 664.6 694.72 Z" fill="#c83a3a"/>
<path d="M669.24 690.09 A70.11 70.11 0 0 1 672.55 696.04 L666.84 698.86 A63.74 63.74 0 0 0 663.83 693.45 Z" fill="none" stroke="#6e6e6e" stroke-width="0.5"/>
<text x="674.3" y="693.2" font-size="5.69" fill="#111" text-anchor="middle" transform="rotate(60.92 674.3 691.17)">22</text>
<path d="M673.08 697.14 A70.11 70.11 0 0 1 679.05 716.81 L672.75 717.74 A63.74 63.74 0 0 0 667.33 699.86 Z" fill="#dadada"/>
<path d="M673.08 697.14 A70.11 70.11 0 0 1 673.22 697.44 L667.45 700.13 A63.74 63.74 0 0 0 667.33 699.86 Z" fill="#858585"/>
<path d="M673.28 697.57 A70.11 70.11 0 0 1 673.63 698.33 L667.82 700.94 A63.74 63.74 0 0 0 667.51 700.25 Z" fill="#f6f6f6"/>
<path d="M674.3 699.86 A70.11 70.11 0 0 1 674.61 700.6 L668.71 703.01 A63.74 63.74 0 0 0 668.43 702.33 Z" fill="#1e1e1e"/>
<path d="M674.74 700.92 A70.11 70.11 0 0 1 674.87 701.26 L668.95 703.61 A63.74 63.74 0 0 0 668.83 703.3 Z" fill="#1e1e1e"/>
<path d="M674.93 701.41 A70.11 70.11 0 0 1 675.16 702 L669.21 704.28 A63.74 63.74 0 0 0 669.01 703.75 Z" fill="#f6f6f6"/>
<path d="M675.25 702.25 A70.11 70.11 0 0 1 675.48 702.86 L669.51 705.06 A63.74 63.74 0 0 0 669.3 704.5 Z" fill="#f6f6f6"/>
<path d="M675.58 703.12 A70.11 70.11 0 0 1 675.88 703.97 L669.87 706.07 A63.74 63.74 0 0 0 669.59 705.3 Z" fill="#1e1e1e"/>
<path d="M676.01 704.34 A70.11 70.11 0 0 1 676.24 705.04 L670.2 707.04 A63.74 63.74 0 0 0 669.99 706.41 Z" fill="#f6f6f6"/>
<path d="M676.34 705.34 A70.11 70.11 0 0 1 676.43 705.61 L670.37 707.56 A63.74 63.74 0 0 0 670.29 707.31 Z" fill="#858585"/>
<path d="M676.47 705.72 A70.11 70.11 0 0 1 676.7 706.47 L670.62 708.35 A63.74 63.74 0 0 0 670.4 707.67 Z" fill="#f6f6f6"/>
<path d="M676.8 706.79 A70.11 70.11 0 0 1 676.97 707.34 L670.86 709.14 A63.74 63.74 0 0 0 670.71 708.64 Z" fill="#1e1e1e"/>
<path d="M677.04 707.58 A70.11 70.11 0 0 1 677.18 708.09 L671.05 709.82 A63.74 63.74 0 0 0 670.92 709.35 Z" fill="#f6f6f6"/>
<path d="M677.24 708.31 A70.11 70.11 0 0 1 677.48 709.19 L671.32 710.82 A63.74 63.74 0 0 0 671.11 710.02 Z" fill="#d88a8a"/>
<path d="M677.58 709.56 A70.11 70.11 0 0 1 677.79 710.4 L671.6 711.92 A63.74 63.74 0 0 0 671.41 711.16 Z" fill="#858585"/>
<path d="M677.88 710.76 A70.11 70.11 0 0 1 678.01 711.35 L671.81 712.78 A63.74 63.74 0 0 0 671.68 712.24 Z" fill="#1e1e1e"/>
<path d="M678.07 711.6 A70.11 70.11 0 0 1 678.24 712.36 L672.01 713.7 A63.74 63.74 0 0 0 671.86 713.01 Z" fill="#f6f6f6"/>
<path d="M678.31 712.68 A70.11 70.11 0 0 1 678.47 713.45 L672.22 714.69 A63.74 63.74 0 0 0 672.08 713.99 Z" fill="#1e1e1e"/>
<path d="M678.53 713.79 A70.11 70.11 0 0 1 678.68 714.56 L672.41 715.69 A63.74 63.74 0 0 0 672.28 715 Z" fill="#1e1e1e"/>
<path d="M678.73 714.89 A70.11 70.11 0 0 1 678.83 715.41 L672.55 716.47 A63.74 63.74 0 0 0 672.46 715.99 Z" fill="#f6f6f6"/>
<path d="M675.95 704.18 A70.11 70.11 0 0 1 676.19 704.87 L670.15 706.89 A63.74 63.74 0 0 0 669.94 706.26 Z" fill="#c83a3a"/>
<path d="M673.08 697.14 A70.11 70.11 0 0 1 679.05 716.81 L672.75 717.74 A63.74 63.74 0 0 0 667.33 699.86 Z" fill="none" stroke="#6e6e6e" stroke-width="0.5"/>
<text x="680.44" y="707.67" font-size="5.69" fill="#111" text-anchor="middle" transform="rotate(73.13 680.44 705.65)">X</text>
<path d="M679.22 718.02 A70.11 70.11 0 0 1 679.8 725.88 L673.43 725.99 A63.74 63.74 0 0 0 672.9 718.84 Z" fill="#dadada"/>
<path d="M679.36 719.23 A70.11 70.11 0 0 1 679.44 719.96 L673.11 720.61 A63.74 63.74 0 0 0 673.04 719.95 Z" fill="#c83a3a"/>
<path d="M679.22 718.02 A70.11 70.11 0 0 1 679.8 725.88 L673.43 725.99 A63.74 63.74 0 0 0 672.9 718.84 Z" fill="none" stroke="#6e6e6e" stroke-width="0.5"/>
<text x="683.42" y="723.68" font-size="5.69" fill="#111" text-anchor="middle" transform="rotate(85.78 683.42 721.66)">Y</text>
<circle cx="609.7" cy="727.1" r="62.68" fill="#fff" stroke="#8a8a8a" stroke-width="0.5"/>
<line x1="657.18" y1="726.69" x2="672.37" y2="726.55" stroke="#262626" stroke-width="1.15" stroke-dasharray="1.1 0.55"/>
<line x1="651.79" y1="749.06" x2="665.27" y2="756.09" stroke="#262626" stroke-width="1.15" stroke-dasharray="1.1 0.55"/>
<line x1="636.97" y1="765.97" x2="645.69" y2="778.41" stroke="#262626" stroke-width="1.15" stroke-dasharray="1.1 0.55"/>
<line x1="620.02" y1="773.44" x2="623.33" y2="788.28" stroke="#262626" stroke-width="1.15" stroke-dasharray="1.1 0.55"/>
<line x1="602.12" y1="773.97" x2="599.69" y2="788.97" stroke="#262626" stroke-width="1.15" stroke-dasharray="1.1 0.55"/>
<line x1="586.09" y1="768.29" x2="578.53" y2="781.47" stroke="#262626" stroke-width="1.15" stroke-dasharray="1.1 0.55"/>
<line x1="573.65" y1="758" x2="562.11" y2="767.89" stroke="#262626" stroke-width="1.15" stroke-dasharray="1.1 0.55"/>
<line x1="565.78" y1="745.14" x2="551.72" y2="750.91" stroke="#262626" stroke-width="1.15" stroke-dasharray="1.1 0.55"/>
<line x1="562.44" y1="731.6" x2="547.31" y2="733.04" stroke="#262626" stroke-width="1.15" stroke-dasharray="1.1 0.55"/>
<line x1="563.08" y1="718.13" x2="548.15" y2="715.26" stroke="#262626" stroke-width="1.15" stroke-dasharray="1.1 0.55"/>
<line x1="567.25" y1="705.84" x2="553.66" y2="699.04" stroke="#262626" stroke-width="1.15" stroke-dasharray="1.1 0.55"/>
<line x1="574.56" y1="695.18" x2="563.3" y2="684.96" stroke="#262626" stroke-width="1.15" stroke-dasharray="1.1 0.55"/>
<line x1="584.38" y1="686.93" x2="576.28" y2="674.08" stroke="#262626" stroke-width="1.15" stroke-dasharray="1.1 0.55"/>
<line x1="594.46" y1="682.13" x2="589.58" y2="667.74" stroke="#262626" stroke-width="1.15" stroke-dasharray="1.1 0.55"/>
<line x1="604.68" y1="679.89" x2="603.07" y2="664.77" stroke="#262626" stroke-width="1.15" stroke-dasharray="1.1 0.55"/>
<line x1="614.71" y1="679.89" x2="616.31" y2="664.77" stroke="#262626" stroke-width="1.15" stroke-dasharray="1.1 0.55"/>
<line x1="623.47" y1="681.66" x2="627.88" y2="667.12" stroke="#262626" stroke-width="1.15" stroke-dasharray="1.1 0.55"/>
<line x1="631.02" y1="684.68" x2="637.84" y2="671.1" stroke="#262626" stroke-width="1.15" stroke-dasharray="1.1 0.55"/>
<line x1="637.71" y1="688.76" x2="646.68" y2="676.49" stroke="#262626" stroke-width="1.15" stroke-dasharray="1.1 0.55"/>
<line x1="642.42" y1="692.7" x2="652.9" y2="681.69" stroke="#262626" stroke-width="1.15" stroke-dasharray="1.1 0.55"/>
<line x1="646.81" y1="697.49" x2="658.69" y2="688.01" stroke="#262626" stroke-width="1.15" stroke-dasharray="1.1 0.55"/>
<line x1="649.8" y1="701.68" x2="662.64" y2="693.55" stroke="#262626" stroke-width="1.15" stroke-dasharray="1.1 0.55"/>
<line x1="652.45" y1="706.44" x2="666.13" y2="699.82" stroke="#262626" stroke-width="1.15" stroke-dasharray="1.1 0.55"/>
<line x1="656.72" y1="720.54" x2="671.78" y2="718.44" stroke="#262626" stroke-width="1.15" stroke-dasharray="1.1 0.55"/>
<path d="M661.73 727.64 L661.72 728.43 L661.96 729.22 L661.49 729.98 L661.76 730.78 L661.39 731.54 L661.8 732.37 L661.59 733.13 L661.66 733.93 L661.28 734.68 L661.29 735.47 L661.06 736.23 L660.85 736.99 L660.82 737.78 L660.46 738.51 L660.41 739.3 L660.37 740.1 L660.08 740.83 L659.8 741.57 L659.94 742.43 L659.41 743.09 L659.07 743.81 L658.92 744.59 L658.55 745.29 L658.29 746.03 L658.01 746.76 L658.02 747.62 L657.44 748.23 L657.14 748.95 L656.87 749.69 L656.7 750.49" fill="none" stroke="#3434f4" stroke-width="1.05" stroke-dasharray="5 0.6"/>
<path d="M655.48 752.12 L655.05 752.78 L655.04 753.69 L654.15 754.08 L653.87 754.84 L653.57 755.58 L653.32 756.38 L652.49 756.77 L651.86 757.29 L651.76 758.19 L651.15 758.72 L650.68 759.36 L650.28 760.05 L649.75 760.64 L649.24 761.25 L648.64 761.78 L648.29 762.53 L647.78 763.14 L647.07 763.56 L646.47 764.07 L646.02 764.75 L645.42 765.27 L644.69 765.64 L644.16 766.23 L643.7 766.92 L642.99 767.3 L642.35 767.77 L641.78 768.33 L641.13 768.78 L640.5 769.26" fill="none" stroke="#3434f4" stroke-width="1.05" stroke-dasharray="5 0.6"/>
<path d="M638.7 770.17 L638.32 771.06 L637.52 771.31 L636.76 771.6 L636.21 772.24 L635.46 772.56 L634.74 772.91 L634.1 773.43 L633.46 773.95 L632.63 774.09 L631.97 774.57 L631.27 774.99 L630.34 774.89 L629.63 775.27 L628.96 775.75 L628.08 775.7 L627.4 776.17 L626.72 776.65 L625.94 776.88 L625.15 777.06 L624.28 776.94 L623.67 777.75 L622.83 777.71 L622.05 777.94" fill="none" stroke="#3434f4" stroke-width="1.05" stroke-dasharray="5 0.6"/>
<path d="M620.08 778.34 L619.26 778.17 L618.51 778.35 L617.76 778.5 L617.06 779.07 L616.24 778.77 L615.48 778.95 L614.71 779.03 L613.95 779.22 L613.17 779.26 L612.4 779.28 L611.61 779.09 L610.84 778.84 L610.07 779.33 L609.3 779.34 L608.52 779.47 L607.75 779.26 L606.98 779.15 L606.2 779.25 L605.45 778.91 L604.67 778.91 L603.91 778.84 L603.12 778.93 L602.31 779.09" fill="none" stroke="#3434f4" stroke-width="1.05" stroke-dasharray="5 0.6"/>
<path d="M600.35 778.58 L599.56 778.48 L598.8 778.19 L598.01 778.02 L597.26 777.74 L596.48 777.56 L595.79 777.05 L594.98 777.01 L594.22 776.76 L593.36 776.81 L592.61 776.53 L591.83 776.33 L591.06 776.11 L590.41 775.56 L589.59 775.45 L588.8 775.25 L588.19 774.67 L587.39 774.47 L586.75 773.96 L586.13 773.42 L585.3 773.28 L584.67 772.78" fill="none" stroke="#3434f4" stroke-width="1.05" stroke-dasharray="5 0.6"/>
<path d="M582.86 771.9 L582.23 771.42 L581.5 771.09 L581.03 770.36 L580.03 770.42 L579.44 769.88 L578.94 769.22 L578.36 768.68 L577.65 768.31 L576.97 767.89 L576.37 767.37 L575.77 766.85 L575.4 766.08 L574.73 765.64 L573.9 765.37 L573.44 764.71 L573.05 763.97 L572.43 763.48 L571.94 762.85 L571.36 762.32 L570.59 761.94" fill="none" stroke="#3434f4" stroke-width="1.05" stroke-dasharray="5 0.6"/>
<path d="M569.44 760.29 L568.8 759.81 L568.43 759.12 L568.16 758.36 L567.6 757.82 L566.8 757.44 L566.73 756.55 L566.33 755.89 L565.63 755.43 L565.36 754.68 L564.97 754.02 L564.39 753.47 L564.42 752.56 L563.77 752.04 L563.6 751.26 L563.29 750.55 L562.87 749.9 L562.28 749.33 L562.13 748.55 L562.05 747.75" fill="none" stroke="#3434f4" stroke-width="1.05" stroke-dasharray="5 0.6"/>
<path d="M561.19 745.94 L560.55 745.34 L560.35 744.58 L560.38 743.73 L559.64 743.14 L559.8 742.27 L559.7 741.48 L559.33 740.77 L558.98 740.04 L558.69 739.3 L558.6 738.51 L558.64 737.7 L558.51 736.92 L558.5 736.13 L558.17 735.38 L558.12 734.6 L557.89 733.83 L558.02 733.03" fill="none" stroke="#3434f4" stroke-width="1.05" stroke-dasharray="5 0.6"/>
<path d="M557.72 731.05 L557.72 730.29 L557.73 729.53 L557.7 728.78 L557.65 728.02 L557.67 727.27 L557.41 726.51 L557.5 725.76 L557.73 725.01 L557.5 724.24 L557.58 723.48 L557.46 722.71 L557.77 721.98 L557.86 721.23 L558.02 720.49 L558 719.72 L558.06 718.96 L558.23 718.22" fill="none" stroke="#3434f4" stroke-width="1.05" stroke-dasharray="5 0.6"/>
<path d="M558.67 716.27 L558.72 715.49 L558.96 714.76 L559.13 714 L559.49 713.31 L559.54 712.52 L559.93 711.83 L560.14 711.1 L560.24 710.32 L560.22 709.5 L560.64 708.83 L561.05 708.16 L561.36 707.45 L561.5 706.68 L561.75 705.94 L562.09 705.25 L562.6 704.64" fill="none" stroke="#3434f4" stroke-width="1.05" stroke-dasharray="5 0.6"/>
<path d="M563.45 702.82 L563.88 702.18 L564.24 701.51 L564.7 700.89 L565.01 700.18 L565.65 699.68 L565.94 698.96 L566.15 698.19 L566.75 697.67 L567.01 696.91 L567.67 696.45 L568.02 695.75 L568.39 695.08 L569.03 694.61 L569.48 693.98 L569.61 693.09 L570.46 692.81" fill="none" stroke="#3434f4" stroke-width="1.05" stroke-dasharray="5 0.6"/>
<path d="M571.81 691.33 L572.32 690.77 L572.79 690.17 L573.34 689.64 L573.78 689.01 L574.36 688.51 L575.04 688.14 L575.61 687.63 L576.29 687.26 L576.88 686.79 L577.4 686.23 L577.86 685.59 L578.52 685.2 L579.08 684.67 L579.68 684.21 L580.4 683.92 L580.85 683.22" fill="none" stroke="#3434f4" stroke-width="1.05" stroke-dasharray="5 0.6"/>
<path d="M582.76 682.47 L583.44 682.08 L584.12 681.67 L584.7 681.08 L585.49 680.87 L586.23 680.59 L586.86 680.08 L587.53 679.65 L588.33 679.48 L589.07 679.19 L589.72 678.69 L590.46 678.41 L591.2 678.13 L592.03 678.09" fill="none" stroke="#3434f4" stroke-width="1.05" stroke-dasharray="5 0.6"/>
<path d="M593.88 677.3 L594.64 677.06 L595.49 677.14 L596.13 676.5 L596.94 676.46 L597.73 676.34 L598.42 675.78 L599.26 675.93 L600.07 675.9 L600.83 675.66 L601.6 675.44 L602.38 675.29 L603.18 675.31" fill="none" stroke="#3434f4" stroke-width="1.05" stroke-dasharray="5 0.6"/>
<path d="M605.19 675.22 L605.94 675.13 L606.69 675.1 L607.44 675.1 L608.19 674.92 L608.94 674.97 L609.69 674.89 L610.45 675.02 L611.2 675.04 L611.95 674.97 L612.7 675.03 L613.47 674.86 L614.2 675.22" fill="none" stroke="#3434f4" stroke-width="1.05" stroke-dasharray="5 0.6"/>
<path d="M616.21 675.27 L616.98 675.41 L617.73 675.71 L618.55 675.54 L619.31 675.76 L620.01 676.24 L620.86 676.01 L621.64 676.13 L622.34 676.57 L623.19 676.41 L623.89 676.83" fill="none" stroke="#3434f4" stroke-width="1.05" stroke-dasharray="5 0.6"/>
<path d="M625.75 677.6 L626.56 677.6 L627.24 677.99 L627.92 678.39 L628.59 678.77 L629.43 678.73 L630.09 679.16 L630.88 679.28 L631.57 679.63 L632.21 680.08" fill="none" stroke="#3434f4" stroke-width="1.05" stroke-dasharray="5 0.6"/>
<path d="M633.99 680.98 L634.8 681.03 L635.45 681.39 L636.02 681.88 L636.57 682.4 L637.15 682.86 L637.82 683.18 L638.6 683.33 L639.12 683.89 L639.66 684.4" fill="none" stroke="#3434f4" stroke-width="1.05" stroke-dasharray="5 0.6"/>
<path d="M641.19 685.69 L641.85 685.94 L642.29 686.48 L642.9 686.81 L643.49 687.16 L644.04 687.57 L644.46 688.12 L644.92 688.63" fill="none" stroke="#3434f4" stroke-width="1.05" stroke-dasharray="5 0.6"/>
<path d="M646.43 689.95 L647.11 690.31 L647.47 690.98 L647.78 691.69 L648.6 691.94 L648.95 692.62 L649.79 692.87 L649.82 693.8" fill="none" stroke="#3434f4" stroke-width="1.05" stroke-dasharray="5 0.6"/>
<path d="M651.11 695.34 L651.53 695.94 L652.05 696.47 L652.36 697.15 L652.66 697.83 L653.02 698.47" fill="none" stroke="#3434f4" stroke-width="1.05" stroke-dasharray="5 0.6"/>
<path d="M654.31 700.01 L654.6 700.61 L654.92 701.19 L655.6 701.57 L655.75 702.25 L656.1 702.82 L656.19 703.52" fill="none" stroke="#3434f4" stroke-width="1.05" stroke-dasharray="5 0.6"/>
<path d="M657.17 705.27 L657.43 706.02 L657.74 706.75 L658.18 707.43 L658.45 708.17 L658.69 708.93 L658.94 709.68 L658.98 710.51 L659.32 711.23 L659.71 711.93 L659.83 712.72 L659.99 713.5 L660.35 714.23 L660.35 715.04 L660.57 715.8 L660.96 716.53 L660.93 717.34 L661.33 718.08 L661.33 718.88" fill="none" stroke="#3434f4" stroke-width="1.05" stroke-dasharray="5 0.6"/>
<path d="M579.76 684.33 L581.01 683.48 L582.29 682.67 L583.6 681.89 L584.92 681.15 L586.27 680.45 L587.64 679.78" fill="none" stroke="#4a9a4a" stroke-width="0.9"/>
<circle cx="609.7" cy="727.1" r="47.48" fill="#fff" stroke="#8a8a8a" stroke-width="0.6"/>
<path d="M581.66 689.53 Q609.7 727.1 600.72 773.11" fill="none" stroke="#8c0a0a" stroke-width="0.73" stroke-opacity="0.9"/>
<path d="M581.7 689.5 Q609.7 727.1 601.1 773.18" fill="none" stroke="#8c0a0a" stroke-width="0.65" stroke-opacity="0.9"/>
<path d="M580.79 690.2 Q609.7 727.1 601.07 773.18" fill="none" stroke="#8c0a0a" stroke-width="0.66" stroke-opacity="0.9"/>
<path d="M582.79 688.72 Q609.7 727.1 604.11 773.64" fill="none" stroke="#8c0a0a" stroke-width="0.58" stroke-opacity="0.9"/>
<path d="M580.49 690.44 Q609.7 727.1 598.93 772.72" fill="none" stroke="#8c0a0a" stroke-width="0.67" stroke-opacity="0.9"/>
<path d="M580.33 690.56 Q609.7 727.1 597.69 772.41" fill="none" stroke="#8c0a0a" stroke-width="0.74" stroke-opacity="0.9"/>
<path d="M582.32 689.05 Q609.7 727.1 600.32 773.03" fill="none" stroke="#8c0a0a" stroke-width="0.54" stroke-opacity="0.9"/>
<path d="M580.25 690.63 Q609.7 727.1 600.95 773.15" fill="none" stroke="#8c0a0a" stroke-width="0.51" stroke-opacity="0.9"/>
<path d="M580.81 690.18 Q609.7 727.1 603.03 773.5" fill="none" stroke="#8c0a0a" stroke-width="0.51" stroke-opacity="0.9"/>
<path d="M581.7 689.5 Q609.7 727.1 601.59 773.27" fill="none" stroke="#8c0a0a" stroke-width="0.71" stroke-opacity="0.9"/>
<path d="M581.88 689.37 Q609.7 727.1 600.14 772.99" fill="none" stroke="#8c0a0a" stroke-width="0.62" stroke-opacity="0.9"/>
<path d="M582.35 689.03 Q609.7 727.1 601.47 773.25" fill="none" stroke="#8c0a0a" stroke-width="0.57" stroke-opacity="0.9"/>
<path d="M583.48 688.24 Q609.7 727.1 644 759.06" fill="none" stroke="#8c0a0a" stroke-width="0.8" stroke-opacity="0.9"/>
<path d="M582.95 688.61 Q609.7 727.1 644.95 758.01" fill="none" stroke="#8c0a0a" stroke-width="0.8" stroke-opacity="0.9"/>
<path d="M581.21 689.87 Q609.7 727.1 646.45 756.2" fill="none" stroke="#8c0a0a" stroke-width="0.8" stroke-opacity="0.9"/>
<path d="M581.13 689.94 Q609.7 727.1 646.93 755.59" fill="none" stroke="#8c0a0a" stroke-width="0.8" stroke-opacity="0.9"/>
<path d="M582.7 688.78 Q609.7 727.1 646.34 697.86" fill="none" stroke="#951515" stroke-width="0.55" stroke-opacity="0.9"/>
<path d="M582.97 688.59 Q609.7 727.1 646.26 697.76" fill="none" stroke="#951515" stroke-width="0.55" stroke-opacity="0.9"/>
<path d="M583.34 688.33 Q609.7 727.1 648.71 701.1" fill="none" stroke="#951515" stroke-width="0.55" stroke-opacity="0.9"/>
<path d="M580.2 690.67 Q609.7 727.1 645.24 696.54" fill="none" stroke="#951515" stroke-width="0.55" stroke-opacity="0.9"/>
<path d="M583.18 688.44 Q609.7 727.1 646.73 698.35" fill="none" stroke="#951515" stroke-width="0.55" stroke-opacity="0.9"/>
<path d="M583.42 688.28 Q609.7 727.1 622.96 772.06" fill="none" stroke="#951515" stroke-width="0.55" stroke-opacity="0.9"/>
<path d="M580.43 690.48 Q609.7 727.1 620.39 772.74" fill="none" stroke="#951515" stroke-width="0.55" stroke-opacity="0.9"/>
<path d="M582.74 688.75 Q609.7 727.1 624.36 771.63" fill="none" stroke="#951515" stroke-width="0.55" stroke-opacity="0.9"/>
<path d="M612.15 680.29 Q609.7 727.1 601.56 773.27" fill="none" stroke="#9b1a1a" stroke-width="0.55" stroke-opacity="0.85"/>
<path d="M614.6 680.48 Q609.7 727.1 606.43 773.86" fill="none" stroke="#9b1a1a" stroke-width="0.55" stroke-opacity="0.85"/>
<path d="M624.19 682.52 Q609.7 727.1 582.15 689.17" fill="none" stroke="#9b1a1a" stroke-width="0.55" stroke-opacity="0.85"/>
<path d="M627.26 683.64 Q609.7 727.1 586.26 686.5" fill="none" stroke="#9b1a1a" stroke-width="0.55" stroke-opacity="0.85"/>
<path d="M645.61 696.97 Q609.7 727.1 571.3 753.99" fill="none" stroke="#9b1a1a" stroke-width="0.55" stroke-opacity="0.85"/>
<path d="M646.64 698.24 Q609.7 727.1 574.86 758.47" fill="none" stroke="#9b1a1a" stroke-width="0.55" stroke-opacity="0.85"/>
<path d="M562.85 728.74 Q609.7 727.1 571.3 700.21" fill="none" stroke="#9b1a1a" stroke-width="0.55" stroke-opacity="0.85"/>
<path d="M570.38 701.57 Q609.7 727.1 570.38 752.63" fill="none" stroke="#9b1a1a" stroke-width="0.55" stroke-opacity="0.85"/>
<path d="M639.2 763.53 Q609.7 727.1 619.45 681.25" fill="none" stroke="#9b1a1a" stroke-width="0.55" stroke-opacity="0.85"/>
<path d="M637.91 764.54 Q609.7 727.1 625.73 683.05" fill="none" stroke="#9b1a1a" stroke-width="0.55" stroke-opacity="0.85"/>
<path d="M603.18 773.52 Q609.7 727.1 621.83 772.38" fill="none" stroke="#9b1a1a" stroke-width="0.55" stroke-opacity="0.85"/>
<path d="M599.95 772.95 Q609.7 727.1 625.73 771.15" fill="none" stroke="#9b1a1a" stroke-width="0.55" stroke-opacity="0.85"/>
<path d="M653.75 743.13 Q609.7 727.1 593.67 771.15" fill="none" stroke="#9b1a1a" stroke-width="0.55" stroke-opacity="0.85"/>
<path d="M652.19 746.91 Q609.7 727.1 589.89 769.59" fill="none" stroke="#9b1a1a" stroke-width="0.55" stroke-opacity="0.85"/>
<path d="M601.56 680.93 Q609.7 727.1 650.3 750.54" fill="none" stroke="#9b1a1a" stroke-width="0.55" stroke-opacity="0.85"/>
<path d="M636.59 688.7 Q609.7 727.1 639.83 763.01" fill="none" stroke="#9b1a1a" stroke-width="0.55" stroke-opacity="0.85"/>
<path d="M653.75 711.07 Q609.7 727.1 565.65 743.13" fill="none" stroke="#9b1a1a" stroke-width="0.55" stroke-opacity="0.85"/>
<path d="M563.53 735.24 Q609.7 727.1 654.98 714.97" fill="none" stroke="#9b1a1a" stroke-width="0.55" stroke-opacity="0.85"/>
<path d="M563 731.19 Q609.7 727.1 656.4 731.19" fill="none" stroke="#9b1a1a" stroke-width="0.55" stroke-opacity="0.85"/>
<path d="M656.12 733.62 Q609.7 727.1 625.73 771.15" fill="none" stroke="#9b1a1a" stroke-width="0.55" stroke-opacity="0.85"/>
<path d="M603.18 680.68 Q609.7 727.1 633.14 767.7" fill="none" stroke="#80c080" stroke-width="0.55" stroke-opacity="0.85"/>
<path d="M613.79 680.4 Q609.7 727.1 625.73 771.15" fill="none" stroke="#80c080" stroke-width="0.55" stroke-opacity="0.85"/>
<path d="M639.83 691.19 Q609.7 727.1 593.67 771.15" fill="none" stroke="#80c080" stroke-width="0.55" stroke-opacity="0.85"/>
<path d="M589.89 684.61 Q609.7 727.1 625.73 683.05" fill="none" stroke="#c8b040" stroke-width="0.55" stroke-opacity="0.85"/>
<path d="M644.54 695.73 Q609.7 727.1 572.76 755.96" fill="none" stroke="#8a6ad0" stroke-width="0.55" stroke-opacity="0.85"/>
<path d="M646.64 698.24 Q609.7 727.1 575.98 759.66" fill="none" stroke="#d08030" stroke-width="0.55" stroke-opacity="0.85"/>
<path d="M568.7 749.83 Q609.7 727.1 568.31 705.09" fill="none" stroke="#7070d0" stroke-width="0.55" stroke-opacity="0.85"/>
<path d="M571.3 700.21 Q609.7 727.1 589.89 684.61" fill="none" stroke="#8070d0" stroke-width="0.55" stroke-opacity="0.85"/>
<path d="M641.07 761.94 Q609.7 727.1 597.57 772.38" fill="none" stroke="#70a070" stroke-width="0.55" stroke-opacity="0.85"/>
<path d="M639.83 763.01 Q609.7 727.1 593.67 771.15" fill="none" stroke="#7070d0" stroke-width="0.55" stroke-opacity="0.85"/>
<polygon points="574.98,687.85 574.04,686.02 572.49,683.4 574.5,684.97 571.73,680.77 574.99,683.92 572.31,679.67 575.2,682.48 574.12,680.16 576.65,682.64 575.89,680.71 578.37,683.24 579.64,684.18 579.87,684.5 579.47,684.79 579.07,685.08 578.68,685.37 578.28,685.66 577.89,685.96 577.51,686.26 577.12,686.57 576.74,686.88 576.36,687.19 575.99,687.51 575.61,687.83 575.24,688.15" fill="#f01818"/>
<path d="M574.91 688.46 L575.45 687.97 L576 687.5 L576.55 687.03 L577.12 686.57 L577.69 686.12 L578.26 685.68 L578.84 685.25 L579.43 684.82 L580.02 684.4" fill="none" stroke="#2020e0" stroke-width="1.8"/>
<ellipse cx="302.4" cy="676.6" rx="22.8" ry="8.6" fill="none" stroke="#6f2f9f" stroke-width="2" transform="rotate(-47.3 302.4 676.6)"/>
<text x="266.9" y="645.7" font-size="7.7" fill="#7a3cb0">Chromosome 19</text>
<ellipse cx="573.4" cy="681.9" rx="24.0" ry="8.4" fill="none" stroke="#16701a" stroke-width="2" transform="rotate(48 573.4 681.9)"/>
<text x="545.4" y="645.8" font-size="7.7" fill="#2a8a2a">Chromosome&#160;&#160;12</text>
</svg>
</body></html>
